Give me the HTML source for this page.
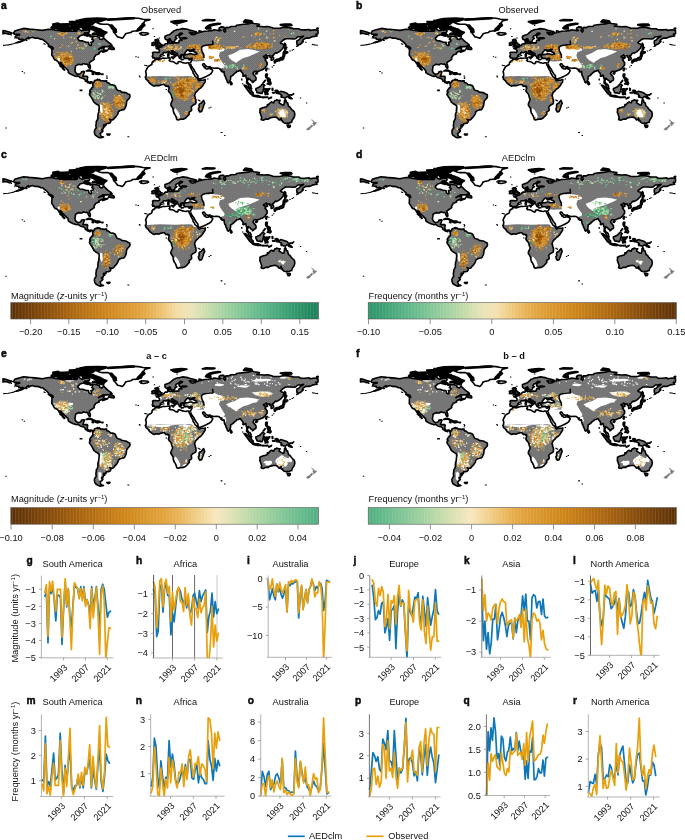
<!DOCTYPE html>
<html lang="en"><head><meta charset="utf-8"><title>Figure</title>
<style>html,body{margin:0;padding:0;background:#fff}body{width:685px;height:840px;overflow:hidden}svg{display:block}text{font-family:"Liberation Sans",Arial,Helvetica,sans-serif;fill:#111}</style></head><body>
<svg width="685" height="840" viewBox="0 0 685 840">
<defs>
<path id="lg" d="M10.5 -56.6L11.8 -58.9L14.9 -60.0L20.6 -61.5L26.2 -60.8L34.1 -60.1L39.4 -59.5L45.5 -60.7L49.0 -60.4L52.5 -59.8L56.9 -59.3L61.2 -58.5L63.0 -58.8L70.0 -58.7L73.5 -58.8L74.8 -62.0L77.0 -60.0L78.8 -59.1L83.1 -60.2L86.2 -60.0L86.6 -58.7L85.8 -57.4L82.2 -57.2L81.4 -56.1L80.5 -55.2L77.0 -54.2L76.1 -53.0L74.8 -51.8L75.1 -50.7L76.6 -49.2L79.6 -49.0L83.1 -47.7L85.5 -47.6L85.8 -45.7L87.1 -44.4L88.4 -44.4L88.4 -46.6L87.9 -47.4L90.1 -48.3L90.6 -49.6L88.8 -50.6L89.7 -51.8L89.2 -53.8L92.8 -53.7L96.2 -52.6L96.7 -50.9L98.9 -50.3L100.6 -52.0L103.2 -49.6L105.0 -47.9L107.6 -46.1L108.8 -44.9L107.6 -44.3L105.0 -43.3L99.8 -43.3L97.1 -41.8L95.4 -40.5L98.0 -41.8L101.2 -42.1L100.6 -41.0L101.1 -39.9L104.1 -39.5L105.0 -40.1L104.1 -39.1L101.5 -38.2L99.8 -37.6L99.8 -38.4L101.1 -39.2L98.9 -38.8L97.1 -38.0L95.8 -37.1L96.2 -36.2L94.9 -35.6L92.8 -35.0L92.3 -33.9L91.4 -32.8L91.0 -31.9L91.3 -30.6L89.7 -29.5L88.4 -28.7L86.6 -27.4L86.3 -26.3L87.1 -24.6L87.4 -22.9L87.1 -21.7L86.2 -22.0L85.1 -23.9L85.0 -25.0L84.0 -25.9L82.7 -25.6L80.9 -26.1L79.6 -26.1L79.2 -25.2L77.9 -25.3L75.4 -25.6L74.4 -25.0L72.6 -24.0L72.4 -22.4L71.9 -19.4L72.5 -17.7L73.5 -16.4L74.8 -15.7L77.0 -16.0L78.1 -16.8L78.5 -18.1L80.9 -18.5L81.5 -18.1L80.9 -16.4L80.5 -15.5L79.8 -13.8L80.3 -13.5L82.2 -13.7L84.0 -13.6L84.7 -12.9L84.4 -11.2L84.3 -9.5L84.9 -8.6L85.8 -7.8L86.6 -7.6L87.7 -8.1L88.8 -8.1L89.8 -7.3L90.3 -6.9L91.3 -8.1L91.4 -9.1L92.0 -9.5L93.6 -9.9L94.8 -10.7L95.1 -9.9L96.2 -9.9L96.4 -10.4L97.7 -9.3L99.8 -9.1L101.1 -8.8L103.2 -9.2L103.4 -8.5L104.3 -7.3L105.9 -6.9L107.5 -5.2L109.4 -5.1L111.6 -4.5L112.4 -3.6L113.3 -1.6L113.8 -0.4L114.6 0.3L115.5 0.6L117.2 1.0L118.7 2.2L121.2 2.5L123.4 3.0L125.0 4.1L126.7 4.7L127.0 6.5L126.6 8.0L125.1 9.5L123.8 11.2L123.4 13.4L123.2 15.4L122.5 17.3L121.6 19.0L120.8 19.8L118.6 20.0L116.8 20.7L115.1 22.3L115.0 23.7L114.2 25.0L113.0 26.7L111.7 27.9L110.7 29.3L109.5 30.1L108.1 30.0L106.5 29.3L107.5 30.6L107.9 31.5L107.0 33.0L105.0 33.6L103.1 33.6L103.0 35.2L100.6 35.2L100.6 36.5L101.9 36.7L100.5 37.5L100.2 38.8L98.4 39.7L99.8 40.7L99.9 41.2L98.4 42.7L97.1 43.6L97.6 45.1L97.6 45.7L98.4 46.6L100.5 47.2L99.3 47.6L97.6 47.9L96.2 47.7L94.5 46.8L92.3 45.3L91.6 43.6L91.4 41.8L91.6 40.4L93.2 38.0L92.9 36.2L93.0 34.5L93.4 32.8L93.1 32.1L94.0 30.6L94.9 28.5L94.9 25.9L95.1 24.2L95.8 22.0L95.9 20.3L96.2 17.7L96.0 15.9L94.9 14.9L92.8 13.8L90.8 12.1L90.0 10.4L89.1 8.6L87.9 6.9L86.7 5.2L86.4 4.1L87.2 2.9L87.6 2.0L86.7 1.9L86.8 0.9L87.5 -0.4L88.5 -1.3L88.8 -2.2L89.7 -2.3L90.0 -3.5L89.7 -4.8L89.8 -6.0L89.3 -6.3L89.1 -7.2L87.9 -7.7L87.2 -7.1L87.2 -6.4L86.6 -6.6L85.8 -7.1L84.9 -7.2L84.4 -7.4L84.3 -8.0L83.3 -8.5L82.4 -8.8L82.5 -9.5L81.7 -10.4L80.9 -11.2L80.2 -11.4L78.8 -11.8L76.8 -12.5L75.2 -13.9L73.5 -13.5L71.3 -14.1L69.6 -14.8L68.2 -15.5L66.5 -16.4L65.2 -17.6L65.4 -18.5L64.8 -19.8L63.0 -21.6L61.7 -22.9L60.4 -24.2L59.1 -25.4L58.4 -26.9L57.1 -27.3L57.2 -25.9L58.6 -24.2L59.9 -22.4L60.8 -21.1L61.7 -20.0L61.2 -19.8L60.8 -20.3L59.5 -21.3L59.3 -22.4L57.8 -23.3L56.9 -24.0L57.6 -24.6L56.2 -26.1L55.1 -28.0L53.8 -29.3L52.1 -29.8L50.8 -31.5L50.3 -32.6L49.2 -34.1L48.7 -34.8L48.8 -36.2L48.9 -38.0L49.0 -39.9L48.4 -41.7L49.9 -41.7L50.3 -41.0L49.9 -42.3L48.1 -43.4L45.9 -44.0L45.5 -45.3L43.8 -47.0L42.9 -47.9L41.1 -49.2L39.4 -50.5L37.6 -50.6L35.4 -51.6L33.2 -51.8L31.5 -51.8L29.8 -52.6L27.6 -52.2L26.2 -51.3L24.9 -51.2L25.4 -52.6L23.6 -51.3L22.8 -50.5L21.0 -49.6L19.2 -48.7L17.1 -47.9L14.9 -47.3L13.3 -47.1L15.8 -48.1L17.5 -48.7L19.2 -49.6L20.1 -50.6L18.4 -50.7L15.8 -50.6L15.8 -51.8L13.1 -52.2L12.2 -53.2L13.1 -54.2L13.6 -54.5L16.6 -54.9L16.6 -55.6L14.9 -55.7L11.8 -55.6ZM180.0 -61.3L184.6 -60.6L186.4 -59.9L193.4 -58.2L193.4 -57.2L190.8 -56.9L186.4 -57.5L187.7 -56.1L188.1 -55.5L190.3 -55.1L192.5 -55.7L192.9 -56.6L196.0 -57.2L196.0 -59.1L198.2 -58.7L197.8 -57.7L201.2 -58.7L204.8 -58.9L208.2 -59.3L210.0 -59.5L210.9 -60.2L214.4 -59.7L216.1 -59.2L217.9 -59.4L216.1 -60.4L216.1 -61.7L217.9 -63.0L220.9 -62.8L221.4 -61.2L220.5 -59.5L221.8 -57.8L222.7 -59.1L222.2 -61.2L223.1 -62.5L225.8 -62.3L227.9 -63.4L232.8 -63.7L233.6 -64.7L240.6 -65.6L245.0 -66.0L248.5 -67.0L251.1 -66.4L256.4 -65.6L255.5 -63.8L253.8 -63.8L256.4 -63.6L260.8 -63.2L265.1 -63.4L268.6 -62.5L270.4 -61.7L273.9 -61.7L277.4 -61.7L280.0 -62.7L285.2 -62.4L288.8 -61.8L290.5 -61.2L295.8 -61.2L297.5 -60.1L301.9 -60.0L306.2 -60.4L307.1 -59.5L311.5 -60.2L315.0 -59.4L315.0 -56.1L313.7 -55.6L312.8 -55.8L314.1 -53.9L309.8 -53.3L306.2 -51.8L302.8 -51.8L300.1 -50.0L299.2 -48.3L300.4 -48.5L299.2 -47.3L297.5 -45.7L296.2 -45.5L294.6 -44.0L294.0 -45.7L293.7 -47.4L294.0 -49.2L295.8 -50.0L297.5 -51.8L299.2 -52.6L300.6 -53.9L297.5 -53.2L294.9 -53.2L292.7 -51.3L290.5 -50.9L287.0 -51.2L282.6 -51.2L280.0 -49.6L277.4 -47.3L278.2 -46.4L280.0 -45.9L281.1 -45.0L280.4 -43.1L280.0 -41.7L278.2 -39.9L276.5 -38.3L273.9 -36.8L272.6 -37.1L271.9 -36.5L271.0 -35.6L270.4 -34.7L269.1 -34.1L269.8 -33.3L270.7 -31.9L270.6 -30.6L269.9 -30.2L268.2 -29.7L268.1 -31.1L268.4 -32.3L266.9 -32.8L267.1 -34.1L266.3 -34.5L263.8 -33.6L263.4 -35.2L261.6 -33.8L260.5 -33.6L260.8 -32.8L261.6 -32.2L263.4 -32.5L264.7 -32.1L262.9 -31.2L261.9 -30.2L262.7 -29.6L263.2 -28.3L264.1 -27.4L264.2 -26.6L263.8 -25.9L264.2 -25.4L263.8 -24.4L262.5 -22.9L262.1 -22.0L260.8 -21.0L259.9 -20.3L258.1 -19.6L256.8 -19.1L255.1 -18.5L254.0 -18.4L253.8 -17.5L253.5 -18.5L252.2 -18.6L250.9 -17.9L250.0 -16.4L250.7 -15.1L252.0 -13.8L252.9 -12.5L253.1 -10.8L252.7 -9.7L251.1 -9.0L250.7 -8.2L249.4 -7.4L249.3 -8.6L248.5 -9.0L247.6 -9.5L247.2 -10.5L245.9 -11.0L245.4 -11.6L245.0 -11.5L245.0 -10.4L244.4 -9.1L244.3 -8.0L245.0 -7.3L245.4 -6.2L246.3 -5.9L247.2 -5.2L248.0 -3.9L248.0 -2.2L248.7 -1.2L248.1 -1.1L246.1 -2.4L245.3 -4.7L245.1 -5.6L243.5 -6.9L243.7 -8.6L243.9 -10.4L243.2 -12.1L242.9 -14.2L242.2 -14.7L240.9 -13.6L239.9 -13.8L240.1 -15.5L239.3 -17.1L238.0 -18.5L237.6 -19.6L236.7 -19.4L235.4 -18.7L233.6 -18.5L233.5 -17.7L232.3 -17.1L231.0 -15.8L229.5 -14.3L227.7 -13.4L227.6 -11.6L227.3 -9.9L226.8 -8.9L226.6 -7.9L225.9 -7.7L225.3 -7.0L224.4 -7.8L223.8 -9.9L223.0 -11.2L222.6 -12.9L221.7 -14.2L221.2 -16.4L221.1 -18.1L220.9 -18.4L219.6 -17.9L218.8 -18.4L217.9 -19.2L218.8 -19.8L217.4 -20.3L216.5 -21.1L215.9 -21.7L213.5 -21.8L211.3 -21.7L208.7 -22.1L207.5 -22.7L206.9 -23.3L205.4 -22.9L204.3 -23.1L202.6 -24.1L202.0 -25.0L201.2 -26.1L200.2 -26.1L199.5 -25.4L199.9 -24.4L201.2 -23.0L201.4 -22.2L202.4 -22.4L202.6 -21.3L203.4 -20.9L204.8 -20.9L206.2 -22.0L206.8 -22.7L207.0 -21.1L208.9 -20.4L209.8 -19.4L208.9 -17.7L208.1 -16.4L206.9 -15.5L205.6 -14.7L203.2 -13.5L200.4 -12.2L197.0 -11.0L195.6 -11.0L195.1 -12.5L194.9 -14.1L193.4 -16.0L191.8 -18.4L191.0 -20.3L190.0 -21.6L188.6 -23.7L188.1 -24.2L188.0 -25.4L187.5 -24.2L187.4 -24.0L186.6 -24.6L186.0 -25.9L185.8 -26.9L187.5 -27.0L188.1 -28.3L188.8 -29.8L188.9 -31.1L189.2 -31.7L187.7 -31.7L186.4 -31.1L184.2 -31.5L182.9 -31.5L181.4 -31.9L180.5 -33.0L181.0 -34.1L180.4 -34.8L181.6 -34.9L182.9 -35.4L184.6 -35.5L186.8 -36.2L188.3 -36.2L189.9 -35.5L192.1 -35.4L193.8 -35.8L193.8 -36.8L192.1 -37.7L190.3 -38.6L190.1 -39.1L190.9 -39.9L191.8 -40.6L190.3 -40.5L188.3 -39.9L188.1 -39.2L189.4 -39.0L188.4 -38.7L187.0 -38.3L186.0 -39.2L186.6 -39.8L185.3 -40.1L184.5 -40.0L183.5 -39.1L182.6 -38.0L182.0 -37.1L181.7 -36.7L182.1 -35.8L182.9 -35.5L181.6 -35.3L180.2 -35.3L178.9 -35.3L178.3 -34.5L177.5 -34.9L177.4 -34.1L177.9 -33.6L178.5 -33.0L178.5 -32.5L177.6 -32.7L177.8 -32.2L177.5 -31.6L177.1 -31.5L176.5 -31.7L176.1 -32.5L176.0 -33.0L175.6 -33.6L175.0 -34.2L174.5 -34.9L174.6 -36.0L173.7 -36.7L172.4 -37.3L170.9 -38.2L170.2 -39.0L169.4 -38.8L169.5 -39.4L168.3 -39.1L168.3 -38.1L169.4 -37.5L169.9 -36.7L171.1 -36.1L171.7 -36.1L171.5 -35.7L172.8 -35.2L173.7 -34.6L173.5 -34.3L172.4 -34.9L172.0 -34.2L172.5 -33.6L171.9 -33.1L171.2 -32.7L171.5 -33.4L171.7 -34.1L171.2 -34.5L170.5 -35.0L169.8 -35.4L168.9 -35.6L168.2 -36.1L167.1 -36.7L166.7 -37.1L166.4 -37.9L165.2 -38.3L164.1 -37.8L162.9 -37.2L161.9 -37.4L161.0 -37.5L160.2 -37.1L160.3 -36.1L159.4 -35.6L158.2 -35.2L157.2 -34.1L157.7 -33.5L157.0 -32.8L155.8 -31.7L155.6 -31.7L153.7 -31.7L152.8 -31.1L152.0 -31.6L151.4 -32.1L149.7 -31.9L149.8 -33.2L149.2 -33.5L149.8 -34.7L149.9 -35.8L149.5 -37.1L150.5 -37.7L152.7 -37.6L154.4 -37.5L155.9 -37.4L156.5 -38.4L156.5 -39.4L155.6 -40.5L155.0 -41.0L153.7 -41.2L153.3 -41.7L154.4 -42.1L155.8 -41.9L156.2 -42.0L155.9 -42.9L156.5 -42.6L157.6 -42.7L158.8 -43.2L158.9 -43.9L160.3 -44.3L161.2 -44.9L161.6 -45.7L162.8 -46.1L163.6 -46.1L164.7 -46.3L165.0 -46.8L164.8 -47.4L164.6 -48.3L164.7 -49.2L165.8 -49.3L166.8 -49.8L166.5 -48.9L167.0 -48.6L166.2 -47.9L166.1 -47.3L167.0 -46.6L168.0 -46.8L169.3 -46.9L170.0 -46.5L171.9 -47.0L173.7 -47.2L174.7 -46.9L175.9 -47.4L175.9 -48.7L176.3 -49.6L177.3 -49.8L178.8 -49.3L178.8 -50.3L178.1 -50.6L178.1 -51.1L179.8 -51.3L182.0 -51.3L183.9 -51.7L182.4 -52.2L180.2 -52.1L177.6 -51.7L176.3 -52.2L176.1 -53.0L176.1 -54.2L177.2 -54.9L178.9 -55.9L179.6 -56.5L178.5 -56.8L176.8 -56.6L176.1 -55.6L175.0 -54.8L173.2 -53.9L172.6 -53.0L172.5 -52.3L173.9 -51.6L173.2 -50.9L172.1 -50.5L171.9 -49.4L171.5 -48.5L170.2 -48.3L169.9 -47.8L168.9 -47.8L168.6 -48.5L167.8 -49.6L167.3 -50.9L166.7 -51.3L165.8 -50.7L164.5 -50.1L163.6 -50.0L162.4 -50.6L161.9 -51.9L161.9 -53.0L162.0 -53.7L163.6 -54.3L164.9 -54.8L166.2 -55.2L167.6 -56.1L168.4 -56.9L169.8 -58.0L170.6 -58.9L171.9 -59.3L173.2 -60.0L175.0 -60.4L176.8 -60.6L178.1 -61.0ZM0.0 -59.4L2.6 -58.9L6.1 -57.8L9.0 -56.9L7.0 -55.6L5.7 -55.6L3.9 -56.4L1.3 -56.8L0.0 -56.1ZM186.0 -25.9L187.1 -23.7L188.1 -21.6L188.7 -20.3L189.9 -18.5L190.1 -16.8L191.2 -15.5L192.1 -13.4L193.4 -12.5L194.7 -11.2L195.4 -10.6L195.3 -9.9L196.4 -9.1L198.6 -9.7L200.4 -9.8L202.3 -10.3L202.2 -9.1L202.0 -7.8L200.8 -6.0L199.5 -3.9L197.8 -2.0L196.0 -0.9L194.7 0.7L193.6 1.7L192.7 2.6L192.1 4.1L191.5 5.6L192.1 6.9L192.2 8.6L192.9 9.5L193.0 12.5L192.5 14.0L190.8 14.9L189.7 15.5L188.1 17.3L188.6 19.0L188.5 20.7L186.8 21.8L186.1 22.4L186.3 24.2L185.3 25.3L184.2 26.6L182.4 28.3L180.7 29.2L178.5 29.4L176.8 29.5L175.0 30.0L173.7 29.5L173.4 28.0L172.8 26.3L171.9 24.7L170.9 23.3L170.2 20.7L170.1 19.0L168.9 16.8L167.8 15.1L168.0 13.4L169.3 10.8L169.6 9.3L168.9 7.8L168.3 5.3L167.8 4.1L166.2 2.4L165.4 0.9L165.8 -0.4L166.1 -2.0L166.0 -3.2L164.9 -3.9L163.6 -3.8L162.8 -3.7L161.4 -5.4L159.7 -5.4L158.4 -5.1L156.6 -4.5L155.8 -4.1L154.0 -4.5L152.2 -4.1L150.8 -3.8L149.5 -4.5L147.4 -6.0L146.0 -7.4L145.5 -8.5L144.4 -9.5L142.9 -10.7L142.8 -12.1L142.2 -12.7L143.1 -13.8L143.2 -15.5L143.1 -16.8L142.6 -18.1L143.5 -20.4L144.8 -22.7L146.1 -24.0L147.9 -24.8L148.9 -25.5L149.0 -27.2L150.1 -28.7L151.5 -29.3L152.3 -30.9L152.9 -31.0L154.9 -30.4L155.8 -30.3L157.5 -30.9L160.1 -31.8L161.9 -31.7L164.1 -31.9L166.1 -32.2L167.1 -31.9L166.7 -31.1L167.1 -30.2L166.2 -29.5L167.1 -28.6L168.9 -28.4L170.9 -27.9L172.4 -26.7L174.1 -26.1L175.0 -26.7L175.0 -28.0L176.3 -28.4L177.6 -28.1L179.4 -27.3L181.6 -26.9L182.9 -26.7L184.2 -27.2L185.1 -27.2L185.8 -26.9ZM200.6 10.4L201.7 13.4L200.8 15.1L200.2 17.3L199.3 19.8L198.6 21.6L196.9 22.1L195.7 20.3L195.4 18.5L196.3 17.3L196.0 15.5L196.4 14.0L198.2 13.4L199.5 11.6ZM252.9 -1.3L253.8 -1.5L254.9 -2.2L256.4 -2.8L258.1 -4.3L259.6 -6.0L260.6 -5.4L261.8 -4.5L260.8 -3.7L260.6 -2.2L261.6 -0.9L260.3 -0.4L260.3 0.9L259.4 2.2L259.0 3.5L257.8 3.5L256.4 2.8L255.3 3.0L253.9 2.6L253.8 1.3L252.9 0.4ZM272.1 0.7L273.4 0.3L274.8 0.7L275.6 2.8L277.8 1.4L280.9 2.2L283.9 3.3L285.2 4.7L286.8 5.3L286.1 5.9L287.0 6.9L289.2 8.9L287.9 8.9L286.1 8.2L285.2 7.1L283.9 6.6L282.6 7.8L280.9 7.8L279.1 7.1L278.2 7.2L278.0 6.0L278.9 5.9L278.2 4.7L276.1 3.9L274.3 3.3L273.7 3.5L273.0 2.4L274.3 2.2L273.3 1.9ZM257.0 19.0L257.4 18.8L259.7 17.8L261.6 17.3L263.6 16.8L264.5 15.5L264.4 14.7L265.7 14.9L266.0 14.1L267.3 12.8L268.6 12.0L269.7 12.8L270.8 12.9L271.2 11.5L271.9 10.7L273.5 10.4L273.5 9.8L275.6 10.5L277.2 10.5L276.5 11.6L276.1 12.9L277.8 14.0L279.3 15.0L280.7 15.1L281.4 12.9L281.4 11.0L282.2 9.3L283.1 10.8L283.3 12.4L284.6 12.9L285.2 15.1L285.5 16.3L287.0 17.3L288.3 19.1L289.4 20.3L291.2 21.8L291.7 23.7L291.8 25.0L291.4 26.7L290.7 28.2L289.8 29.3L288.9 31.1L288.7 32.3L287.0 32.7L285.6 33.6L284.4 33.1L283.1 33.5L281.3 33.1L279.8 31.9L279.6 30.9L278.2 30.7L278.7 30.0L278.3 29.5L278.1 28.2L277.4 29.3L276.5 30.1L275.8 29.8L274.8 28.3L272.6 27.2L270.4 27.3L267.8 27.9L266.0 28.5L265.6 29.2L262.5 29.2L260.8 30.2L259.0 30.1L258.1 29.6L258.7 27.6L258.1 25.9L257.4 23.7L256.8 22.4L257.0 20.7ZM284.1 35.1L285.7 35.5L287.2 35.3L287.3 36.4L286.6 37.4L285.2 37.6L284.6 36.5Z"/>
<path id="lw" d="M93.6 -67.5L98.0 -68.6L103.2 -70.3L113.8 -71.2L126.9 -72.1L135.6 -71.6L140.0 -70.7L147.0 -70.3L141.8 -69.0L140.9 -67.3L139.1 -66.0L140.9 -64.7L138.2 -63.0L138.2 -60.8L136.5 -60.4L134.8 -59.1L129.5 -58.7L127.8 -57.4L124.2 -56.7L122.5 -56.1L121.6 -54.3L119.9 -52.2L119.0 -51.7L117.2 -52.4L114.6 -53.0L112.9 -55.2L110.7 -57.8L111.1 -59.5L112.9 -60.4L109.8 -61.0L109.4 -62.5L107.2 -64.3L105.0 -65.6L99.8 -65.6L97.1 -66.0L95.4 -66.7ZM136.5 -56.5L138.2 -57.3L141.8 -57.2L144.8 -56.9L145.6 -56.1L144.4 -55.5L140.9 -54.7L137.8 -55.1L138.2 -55.9Z"/>
<path id="lb" d="M113.3 -57.8L110.7 -57.8L110.2 -60.0L108.5 -62.1L106.8 -64.7L108.9 -64.7L111.1 -62.1L112.9 -60.4ZM138.2 -60.4L133.9 -59.1L134.8 -60.8L136.5 -62.5L138.2 -64.3L140.9 -66.0L141.8 -64.7L139.1 -62.5ZM105.0 -70.6L118.1 -71.3L131.2 -71.9L131.2 -71.3L118.1 -70.6L105.0 -69.9ZM168.0 -68.3L171.5 -66.4L174.1 -66.2L178.5 -67.5L183.8 -69.0L178.5 -69.4L172.4 -69.0ZM104.1 44.4L106.8 44.3L106.3 45.0L104.6 45.0ZM87.5 -63.6L91.0 -62.8L95.4 -61.2L98.0 -60.4L98.9 -59.5L101.5 -58.2L103.7 -57.5L101.9 -56.1L100.2 -54.3L100.6 -53.4L98.0 -53.9L94.9 -54.8L92.8 -55.6L89.2 -55.6L90.1 -56.5L92.8 -56.9L94.1 -58.2L91.9 -59.1L89.2 -60.4L88.4 -60.8L83.1 -60.4L79.6 -61.2L78.8 -63.0L82.2 -63.7ZM55.1 -63.0L65.6 -63.0L69.1 -61.7L68.2 -60.0L63.0 -59.3L58.6 -59.2L55.1 -60.2L54.2 -61.5ZM48.1 -62.1L49.9 -64.1L55.1 -63.8L56.0 -63.0L51.6 -61.5ZM81.4 -56.5L84.0 -56.8L87.1 -54.9L84.9 -53.9L81.4 -54.8ZM49.9 -65.7L55.1 -66.7L56.4 -65.8L51.6 -65.3ZM66.5 -66.1L71.8 -66.1L72.2 -64.7L67.4 -64.9ZM70.4 -60.0L73.5 -60.2L73.9 -59.3L71.3 -59.2ZM86.6 -63.5L90.6 -63.5L90.1 -62.7L87.1 -62.7ZM87.1 -53.8L88.2 -53.7L87.9 -53.1L87.1 -53.3ZM66.5 -68.1L71.8 -68.3L73.5 -67.3L68.2 -67.0ZM78.8 -66.0L89.2 -65.8L91.9 -67.7L98.0 -69.4L103.2 -71.2L94.5 -71.6L83.1 -71.2L77.0 -70.0L80.5 -68.1ZM73.5 -66.0L87.5 -65.2L87.5 -64.3L77.0 -64.3L73.5 -65.1ZM55.1 -65.6L65.6 -66.0L65.6 -64.5L58.6 -64.3L55.1 -65.0ZM68.2 -63.7L72.6 -63.7L73.1 -61.9L70.0 -61.9L68.2 -62.8ZM73.5 -63.8L78.8 -63.8L77.0 -62.5L73.9 -62.1ZM73.5 -69.4L80.5 -69.3L81.4 -67.5L76.1 -67.3L73.5 -68.6ZM202.6 -61.7L203.9 -61.1L207.8 -61.0L207.4 -62.5L206.1 -63.2L208.2 -64.3L211.8 -65.1L217.4 -66.2L215.2 -66.4L210.0 -65.8L206.1 -64.7L203.9 -63.4ZM199.5 -69.3L210.0 -69.3L211.8 -69.9L203.0 -70.3ZM240.6 -68.1L245.0 -67.3L249.4 -67.7L248.5 -69.0L242.4 -69.9ZM277.4 -65.1L281.8 -63.7L288.8 -64.5L287.9 -65.6L281.8 -65.6ZM313.7 -61.2L315.0 -61.7L315.0 -61.1Z"/>
<path id="ld" d="M152.5 -43.1L154.4 -43.4L156.6 -43.7L158.7 -44.2L158.4 -44.4L159.0 -45.5L157.8 -45.7L157.3 -46.6L156.2 -47.4L155.8 -48.3L154.9 -48.3L155.8 -49.6L154.0 -49.8L154.9 -50.5L153.1 -50.5L152.2 -49.6L152.7 -48.3L153.3 -47.4L154.9 -47.4L154.4 -46.8L154.9 -46.1L153.6 -46.0L153.8 -45.3L153.0 -44.7L154.9 -44.3L153.8 -44.1ZM148.8 -44.7L150.5 -44.5L152.0 -45.0L152.2 -46.1L152.6 -47.1L151.8 -47.6L150.3 -47.6L148.8 -46.8L149.2 -45.9ZM240.9 -4.8L242.8 -4.5L245.3 -2.2L248.1 0.0L248.9 1.7L250.2 2.6L250.1 5.0L248.9 5.0L247.0 3.5L245.4 1.3L244.1 -0.4L242.8 -2.2ZM249.5 5.9L250.2 5.1L252.4 5.6L254.6 5.5L256.2 6.0L257.7 6.7L257.5 7.4L254.6 7.2L252.0 6.7L250.6 6.4ZM262.3 -0.7L263.2 -1.1L265.1 -0.9L266.9 -1.4L266.4 -0.3L263.8 -0.4L262.7 0.8L263.8 0.9L265.4 0.8L264.7 1.6L263.8 1.7L264.5 2.8L265.1 3.9L264.7 4.7L263.8 4.1L263.4 2.6L262.8 2.6L262.8 4.8L262.1 4.7L262.1 3.0L261.4 2.4L261.9 0.9ZM262.9 -16.0L264.4 -16.0L264.2 -14.2L263.8 -12.9L264.7 -12.1L266.0 -11.6L266.0 -11.0L264.7 -11.6L263.4 -11.8L262.8 -12.8L262.5 -14.0ZM264.2 -6.0L265.6 -7.3L267.3 -8.5L268.2 -6.5L267.3 -5.2L266.0 -5.6ZM264.2 -10.2L265.3 -9.9L265.4 -8.2L264.7 -8.5ZM266.3 -10.8L267.3 -10.6L267.1 -8.9L266.4 -9.1ZM260.1 -7.2L262.1 -9.7L262.2 -9.1L260.6 -7.2ZM281.3 -35.6L281.8 -34.1L280.9 -32.8L280.7 -31.1L280.0 -30.4L278.9 -29.9L277.4 -29.8L276.3 -28.9L275.6 -29.8L273.9 -29.6L272.1 -29.3L272.1 -29.8L273.4 -30.6L275.6 -30.8L277.1 -31.7L277.6 -32.3L278.7 -32.2L279.6 -33.2L280.0 -34.5L280.3 -35.4ZM271.2 -28.9L272.7 -29.1L272.8 -28.0L272.1 -27.0L271.5 -26.9L271.2 -28.0ZM273.4 -29.3L275.2 -29.5L275.0 -28.9L273.9 -28.5ZM280.0 -35.8L280.3 -37.4L281.5 -39.2L282.6 -38.2L284.6 -38.2L284.8 -37.4L282.9 -36.2L281.3 -36.7ZM281.8 -46.8L282.8 -45.3L282.8 -43.1L283.9 -42.3L282.4 -41.0L283.1 -40.3L281.8 -39.7L281.8 -41.4L281.9 -43.1L281.5 -44.9ZM263.4 -21.7L264.2 -21.6L263.4 -19.0L262.6 -19.8ZM252.6 -16.6L253.8 -17.3L254.6 -17.0L253.8 -15.8L252.6 -16.0ZM265.6 8.9L266.9 7.9L268.6 7.2L268.2 7.9L266.4 8.8ZM258.6 7.2L259.9 7.1L261.6 7.2L261.6 7.6L259.4 7.8ZM262.3 7.2L264.9 7.1L264.9 7.6L262.5 7.7ZM269.1 -1.7L269.9 -1.3L269.8 0.4L269.2 0.3ZM269.5 2.6L271.7 2.6L271.9 3.1L269.7 3.0ZM287.3 4.8L289.2 4.7L290.7 3.6L290.1 4.5L288.8 5.3ZM83.1 -18.8L85.3 -19.9L87.5 -19.8L90.1 -18.5L92.6 -17.4L89.5 -17.1L88.8 -18.5L86.2 -19.1L84.0 -18.8ZM92.4 -15.9L93.6 -17.2L96.2 -17.1L97.6 -16.0L95.8 -15.7L94.8 -15.3ZM89.0 -15.9L90.7 -15.7L90.1 -15.4ZM98.7 -16.0L100.1 -15.9L99.8 -15.4L98.7 -15.5ZM168.4 -32.8L171.2 -33.0L170.7 -31.7L168.4 -32.4ZM164.7 -35.4L166.0 -35.4L165.9 -33.8L164.8 -33.6ZM165.0 -36.7L165.8 -37.1L165.7 -35.8L165.1 -36.0ZM185.8 -30.2L187.7 -30.7L186.8 -29.9ZM178.1 -30.6L180.5 -30.4L178.5 -30.2ZM227.5 -8.5L228.6 -7.3L229.2 -6.0L228.1 -5.1L227.3 -6.0ZM45.2 -43.8L48.1 -43.1L49.4 -41.8L47.7 -42.1ZM105.6 -41.1L108.9 -40.4L111.1 -40.3L111.4 -41.1L110.7 -42.4L108.9 -43.1L108.9 -44.5L107.4 -43.7L105.9 -41.8Z"/>
<path id="sp" d="M76.6 -0.3h2.8v1.6h-2.8zM104.3 44.0h2.6v1.4h-2.6zM20.7 -17.4h1.4v1h-1.4zM18.7 -18.9h1.4v1h-1.4zM77.3 0.0h1.4v1h-1.4zM134.5 -33.1h1.4v1h-1.4zM132.3 -33.7h1.4v1h-1.4zM142.4 -24.9h1.4v1h-1.4zM143.2 -24.7h1.4v1h-1.4zM141.2 -25.2h1.4v1h-1.4zM135.8 -14.3h1.4v1h-1.4zM136.2 -13.4h1.4v1h-1.4zM207.1 16.9h1.4v1h-1.4zM205.4 17.7h1.4v1h-1.4zM217.6 42.0h1.4v1h-1.4zM218.1 42.2h1.4v1h-1.4zM124.4 46.3h1.4v1h-1.4zM124.9 46.4h1.4v1h-1.4zM302.9 12.7h1.4v1h-1.4zM296.8 7.7h1.4v1h-1.4zM103.0 -14.3h1.4v1h-1.4zM103.4 -13.2h1.4v1h-1.4zM103.2 -11.9h1.4v1h-1.4zM103.0 -9.6h1.4v1h-1.4zM265.1 -21.5h1.4v1h-1.4zM268.6 -23.4h1.4v1h-1.4zM270.1 -24.9h1.4v1h-1.4zM162.6 -0.8h1.4v1h-1.4zM164.4 -3.5h1.4v1h-1.4zM194.7 9.6h1.4v1h-1.4zM195.6 10.0h1.4v1h-1.4zM196.3 10.5h1.4v1h-1.4zM238.0 -11.3h1.4v1h-1.4zM238.1 -10.4h1.4v1h-1.4zM238.9 -6.7h1.4v1h-1.4zM302.1 -48.1h1.4v1h-1.4zM289.8 -41.0h1.4v1h-1.4zM288.5 -40.2h1.4v1h-1.4zM286.3 -39.3h1.4v1h-1.4zM292.9 -43.9h1.4v1h-1.4zM23.1 -50.1h1.4v1h-1.4zM22.5 -49.9h1.4v1h-1.4zM40.4 -46.6h1.4v1h-1.4zM41.3 -46.2h1.4v1h-1.4zM7.6 -55.3h1.4v1h-1.4zM11.1 -52.4h1.4v1h-1.4zM173.4 -64.8h1.4v1h-1.4zM149.4 -61.7h1.4v1h-1.4zM150.7 -54.0h1.4v1h-1.4zM155.7 -52.5h1.4v1h-1.4zM154.2 -51.4h1.4v1h-1.4zM151.1 -50.5h1.4v1h-1.4zM159.4 -34.7h1.4v1h-1.4zM158.0 -34.1h1.4v1h-1.4zM160.3 -35.0h1.4v1h-1.4zM169.4 -31.5h1.4v1h-1.4zM178.9 -35.0h1.4v1h-1.4zM179.6 -34.2h1.4v1h-1.4zM180.4 -33.1h1.4v1h-1.4zM180.6 -31.6h1.4v1h-1.4zM181.3 -31.7h1.4v1h-1.4zM201.0 -23.0h1.4v1h-1.4zM204.1 -11.3h1.4v1h-1.4zM221.1 45.2h1.4v1h-1.4zM2.3 37.5h1.4v1h-1.4z"/>
<path id="nz" d="M308.6 29.7L310.0 30.6L311.1 31.7L312.4 32.7L313.7 32.5L313.1 33.8L312.4 34.2L311.8 35.4L310.8 35.9L310.4 35.3L310.6 34.5L309.6 33.9L310.4 32.8L310.1 31.6L308.9 30.4ZM308.6 34.9L309.9 35.8L308.9 37.1L307.4 38.2L306.8 39.6L305.4 40.2L304.1 39.9L303.2 39.5L304.7 38.1L306.7 37.1L307.6 36.1Z"/>
<path id="al" d="M13.3 -47.1L10.5 -46.1L7.9 -45.5L5.2 -45.0L2.2 -44.7L0.0 -44.5M315.0 -44.6L312.4 -44.9L308.9 -45.5"/>
<path id="cs" d="M198.4 -42.3L200.0 -43.9L203.0 -44.5L205.0 -43.4L205.5 -39.9L204.5 -36.9L205.3 -33.9L204.8 -31.6L202.0 -31.3L201.0 -31.9L200.8 -35.3L199.0 -38.9Z"/><path id="cl" d="M201.0 -31.9L200.8 -35.3L199.0 -38.9L198.4 -42.3L200.0 -43.9L203.0 -44.7L207.0 -45.1L210.0 -45.3L209.6 -49.4"/>
<clipPath id="lc"><use href="#lg"/></clipPath>
<pattern id="pt" width="2" height="2" patternUnits="userSpaceOnUse"><rect width="2" height="2" fill="#707070"/><rect width="1" height="1" fill="#7f7f7f"/><rect x="1" y="1" width="1" height="1" fill="#787878"/></pattern>
<filter id="b1" x="-20%" y="-20%" width="140%" height="140%"><feGaussianBlur stdDeviation="0.7"/></filter>
<filter id="b2" x="-20%" y="-20%" width="140%" height="140%"><feGaussianBlur stdDeviation="0.4"/></filter>
<g id="ovab"><path fill="#fff" d="M140.0 -23.9L145.0 -24.9L149.0 -26.4L154.0 -29.9L157.0 -31.4L157.0 -33.9L162.0 -33.4L167.0 -32.4L185.0 -29.6L188.0 -28.9L193.0 -28.4L201.0 -28.9L207.0 -27.9L213.0 -23.9L213.0 -11.3L203.0 -11.3L203.0 -8.7L196.6 -8.7L196.3 -10.9L191.0 -11.3L189.0 -13.6L186.0 -13.9L172.0 -13.5L157.0 -13.9L144.0 -13.3L140.0 -13.7ZM204.2 -43.7L208.9 -44.3L217.0 -43.1L221.7 -40.8L221.1 -39.1L217.0 -37.9L215.9 -34.4L217.0 -30.9L219.4 -27.4L221.7 -24.5L221.1 -22.1L217.0 -21.3L212.4 -22.3L208.3 -23.1L205.4 -24.6L201.9 -27.5L200.7 -32.0L201.3 -36.7L202.4 -40.2ZM225.2 -34.4L231.0 -36.7L236.9 -40.2L245.0 -40.8L252.0 -39.6L256.7 -38.5L252.0 -36.1L245.0 -33.2L240.4 -32.0L234.6 -28.5L233.4 -26.8L228.7 -29.7L226.4 -32.0ZM172.0 18.1L174.0 20.1L176.0 23.1L177.3 27.1L175.5 29.6L173.0 26.1L171.0 21.1Z"/><g filter="url(#b1)"><ellipse cx="61.5" cy="-30.4" rx="9.3" ry="7.2" fill="#d9952b" fill-opacity="0.55"/><ellipse cx="64.0" cy="-30.4" rx="3.8" ry="2.5" fill="#b8690f" fill-opacity="0.5"/><ellipse cx="59.0" cy="-55.9" rx="3.4" ry="1.7" fill="#dc9628" fill-opacity="0.5"/><ellipse cx="95.0" cy="-5.1" rx="3.4" ry="3.2" fill="#dc9628" fill-opacity="0.45"/><ellipse cx="108.0" cy="-3.1" rx="2.7" ry="1.9" fill="#7cc795" fill-opacity="0.5"/><ellipse cx="115.8" cy="12.1" rx="5.5" ry="6.8" fill="#d9952b" fill-opacity="0.5"/><ellipse cx="103.5" cy="22.1" rx="6.4" ry="9.3" fill="#d9952b" fill-opacity="0.55"/><ellipse cx="179.5" cy="-0.9" rx="9.8" ry="10.6" fill="#d08a22" fill-opacity="0.6"/><ellipse cx="178.0" cy="0.1" rx="4.2" ry="7.2" fill="#a8620e" fill-opacity="0.55"/><ellipse cx="188.0" cy="-9.4" rx="6.0" ry="3.1" fill="#d9952b" fill-opacity="0.5"/><ellipse cx="195.3" cy="-2.4" rx="3.8" ry="5.1" fill="#dc9628" fill-opacity="0.45"/><ellipse cx="149.5" cy="-10.1" rx="3.4" ry="2.7" fill="#dc9628" fill-opacity="0.3"/><ellipse cx="170.5" cy="-42.1" rx="8.9" ry="3.9" fill="#e0a03a" fill-opacity="0.12"/><ellipse cx="190.3" cy="-42.9" rx="6.8" ry="2.5" fill="#dc9628" fill-opacity="0.35"/><ellipse cx="197.0" cy="-40.2" rx="3.7" ry="2.8" fill="#dc9628" fill-opacity="0.35"/><ellipse cx="194.0" cy="-32.6" rx="8.5" ry="2.5" fill="#dc9628" fill-opacity="0.4"/><ellipse cx="210.0" cy="-42.9" rx="8.5" ry="2.2" fill="#dc9628" fill-opacity="0.6"/><ellipse cx="208.0" cy="-32.4" rx="2.7" ry="1.3" fill="#dc9628" fill-opacity="0.4"/><ellipse cx="214.0" cy="-29.6" rx="2.7" ry="1.3" fill="#dc9628" fill-opacity="0.4"/><ellipse cx="259.0" cy="-44.2" rx="9.3" ry="3.4" fill="#dc9628" fill-opacity="0.45"/><ellipse cx="254.5" cy="-55.7" rx="3.8" ry="1.5" fill="#dc9628" fill-opacity="0.3"/><ellipse cx="279.2" cy="23.5" rx="6.0" ry="5.1" fill="#ecc378" fill-opacity="0.45"/><ellipse cx="279.2" cy="23.5" rx="3.9" ry="3.6" fill="#f6e8c0" fill-opacity="0.6"/></g><path fill="#e9b45a" d="M66.0 -33.2h1.7v1.3h-1.7zM62.8 -34.9h1.1v0.9h-1.1zM57.2 -30.4h1.1v1.3h-1.1zM61.3 -33.3h1.3v1.1h-1.3zM52.0 -36.2h0.9v0.9h-0.9zM62.4 -28.6h1.1v0.9h-1.1zM59.3 -30.6h0.9v1.3h-0.9zM65.4 -31.7h1.3v0.9h-1.3zM67.8 -36.4h0.9v1.1h-0.9zM58.3 -36.0h1.7v1.1h-1.7zM66.3 -34.1h1.3v0.9h-1.3zM63.1 -27.6h1.7v1.1h-1.7zM54.8 -33.6h1.1v0.9h-1.1zM62.2 -23.7h1.7v0.9h-1.7zM63.2 -37.5h1.7v1.1h-1.7zM61.2 -37.0h1.3v1.3h-1.3zM64.5 -31.0h0.9v1.3h-0.9zM62.3 -31.5h1.7v1.1h-1.7zM63.7 -28.7h1.7v1.3h-1.7zM61.2 -26.7h0.9v1.1h-0.9zM56.8 -27.9h1.1v1.3h-1.1zM62.5 -31.2h0.9v0.9h-0.9zM56.2 -31.4h1.1v1.3h-1.1zM62.7 -38.6h1.1v1.1h-1.1zM58.8 -31.2h1.1v1.3h-1.1zM60.6 -28.6h1.7v1.3h-1.7zM59.5 -37.5h1.1v0.9h-1.1zM58.1 -33.1h0.9v0.9h-0.9zM64.5 -26.5h1.7v0.9h-1.7zM60.9 -30.3h0.9v1.3h-0.9zM63.2 -31.2h1.7v1.1h-1.7zM67.7 -33.9h1.3v1.3h-1.3zM65.4 -33.5h1.7v1.3h-1.7zM58.4 -26.5h1.1v0.9h-1.1zM57.7 -28.2h1.7v0.9h-1.7zM56.0 -32.1h0.9v1.1h-0.9zM59.4 -33.7h1.1v1.1h-1.1zM61.4 -31.7h0.9v0.9h-0.9zM65.5 -33.7h1.1v1.1h-1.1zM55.1 -31.6h1.7v0.9h-1.7zM67.4 -27.6h1.1v0.9h-1.1zM56.1 -32.7h0.9v1.3h-0.9zM59.8 -27.7h1.3v1.1h-1.3zM65.3 -30.5h1.3v0.9h-1.3zM68.6 -30.3h1.1v1.1h-1.1zM66.4 -25.9h1.7v1.3h-1.7zM60.8 -35.1h1.1v0.9h-1.1zM59.2 -34.1h1.1v1.3h-1.1zM63.4 -28.8h0.9v1.3h-0.9zM55.8 -56.4h1.3v0.9h-1.3zM60.6 -56.0h1.1v1.1h-1.1zM59.5 -54.4h0.9v0.9h-0.9zM59.5 -55.4h1.1v1.3h-1.1zM57.9 -57.1h1.3v1.3h-1.3zM58.4 -56.3h1.1v1.1h-1.1zM54.4 -56.8h1.7v0.9h-1.7zM78.9 -16.9h1.7v0.9h-1.7zM78.2 -16.1h1.3v1.3h-1.3zM93.4 -7.7h0.9v1.3h-0.9zM92.8 -3.9h1.3v1.1h-1.3zM92.8 -4.7h1.3v1.3h-1.3zM97.5 -4.6h1.3v0.9h-1.3zM93.5 -6.8h1.3v1.1h-1.3zM93.1 -4.2h1.3v1.1h-1.3zM95.3 -4.9h0.9v1.3h-0.9zM92.3 -3.9h1.7v0.9h-1.7zM93.4 -8.8h1.3v1.3h-1.3zM114.1 7.4h1.3v1.3h-1.3zM116.8 12.5h1.1v1.1h-1.1zM114.8 13.4h1.3v1.1h-1.3zM111.8 6.4h1.1v1.1h-1.1zM117.0 9.7h1.1v0.9h-1.1zM114.0 11.2h1.1v1.1h-1.1zM115.1 14.6h1.7v0.9h-1.7zM114.0 5.6h0.9v1.1h-0.9zM114.9 10.3h1.1v1.1h-1.1zM110.8 5.4h1.3v0.9h-1.3zM111.7 11.4h1.7v0.9h-1.7zM114.4 7.7h1.1v1.1h-1.1zM114.1 8.7h1.1v0.9h-1.1zM118.8 10.1h1.1v1.3h-1.1zM118.2 9.1h1.3v0.9h-1.3zM116.0 15.9h1.1v1.1h-1.1zM116.5 7.9h1.3v1.1h-1.3zM117.1 10.8h1.3v1.3h-1.3zM113.1 7.7h1.1v1.1h-1.1zM113.1 12.7h1.1v1.1h-1.1zM113.3 11.4h0.9v1.1h-0.9zM114.9 9.5h0.9v1.3h-0.9zM111.7 7.3h1.3v0.9h-1.3zM113.4 16.6h1.1v1.1h-1.1zM115.9 11.7h1.3v1.3h-1.3zM100.1 26.0h1.1v0.9h-1.1zM104.0 16.1h1.7v1.1h-1.7zM105.6 28.1h1.7v0.9h-1.7zM105.3 20.1h1.1v1.1h-1.1zM97.1 13.5h0.9v1.3h-0.9zM103.0 27.7h0.9v0.9h-0.9zM103.7 23.5h1.3v1.1h-1.3zM98.6 13.3h1.1v1.1h-1.1zM99.5 20.8h1.7v0.9h-1.7zM99.8 28.2h0.9v1.1h-0.9zM104.8 30.4h0.9v0.9h-0.9zM104.6 15.4h0.9v1.3h-0.9zM98.6 25.4h1.3v1.1h-1.3zM104.4 22.2h1.3v1.3h-1.3zM98.7 20.0h0.9v1.1h-0.9zM99.0 21.9h0.9v1.1h-0.9zM100.0 12.7h0.9v1.3h-0.9zM99.9 22.2h1.1v1.3h-1.1zM107.8 29.7h1.1v1.3h-1.1zM102.1 19.8h0.9v1.3h-0.9zM100.6 22.3h0.9v1.1h-0.9zM101.4 19.2h1.7v1.1h-1.7zM102.2 24.0h0.9v1.3h-0.9zM100.9 19.7h1.3v0.9h-1.3zM103.5 18.9h1.7v1.1h-1.7zM106.2 24.6h1.3v0.9h-1.3zM101.1 13.7h1.7v1.1h-1.7zM99.0 19.9h1.3v0.9h-1.3zM104.3 19.8h0.9v1.1h-0.9zM103.2 27.0h1.1v1.3h-1.1zM108.5 14.2h1.1v0.9h-1.1zM104.6 17.6h1.7v0.9h-1.7zM100.6 22.5h1.1v1.1h-1.1zM106.6 14.1h1.7v0.9h-1.7zM103.9 22.3h0.9v0.9h-0.9zM104.0 22.3h1.1v1.1h-1.1zM106.6 22.5h0.9v1.1h-0.9zM100.3 14.7h1.3v0.9h-1.3zM108.0 24.0h1.7v1.3h-1.7zM105.2 27.2h1.3v1.1h-1.3zM100.0 17.6h0.9v1.3h-0.9zM105.5 17.1h1.7v1.1h-1.7zM184.6 1.7h1.1v1.3h-1.1zM175.2 -0.5h1.1v0.9h-1.1zM174.3 0.6h1.7v0.9h-1.7zM188.3 -3.4h1.7v1.3h-1.7zM181.8 -7.2h1.1v1.3h-1.1zM183.5 -3.4h1.1v1.3h-1.1zM180.5 9.8h1.3v1.3h-1.3zM174.1 -0.4h0.9v1.1h-0.9zM178.8 -3.2h1.1v1.3h-1.1zM177.0 -5.8h1.1v0.9h-1.1zM177.8 -0.4h0.9v1.1h-0.9zM179.1 -4.7h1.3v1.1h-1.3zM178.7 -5.4h1.7v1.1h-1.7zM182.5 -4.1h1.1v1.1h-1.1zM178.5 -8.5h1.7v1.1h-1.7zM181.0 2.4h0.9v1.3h-0.9zM175.3 0.2h1.3v0.9h-1.3zM189.2 0.1h1.1v1.3h-1.1zM179.2 7.3h1.3v1.1h-1.3zM170.9 -6.5h1.7v1.1h-1.7zM175.0 -3.3h0.9v1.3h-0.9zM182.1 8.5h1.1v0.9h-1.1zM176.3 5.1h1.1v1.1h-1.1zM178.2 3.6h0.9v1.1h-0.9zM179.0 2.4h0.9v1.3h-0.9zM176.2 1.7h0.9v1.3h-0.9zM177.6 -10.1h0.9v1.3h-0.9zM174.4 -2.8h1.1v1.3h-1.1zM176.9 -7.1h1.3v1.3h-1.3zM172.6 -6.7h1.1v1.1h-1.1zM185.3 2.4h0.9v0.9h-0.9zM182.5 -6.8h1.3v1.1h-1.3zM180.8 -4.8h1.1v1.1h-1.1zM181.5 -6.7h1.3v0.9h-1.3zM180.3 1.5h0.9v1.1h-0.9zM174.2 -12.1h1.7v1.1h-1.7zM175.7 3.5h0.9v1.1h-0.9zM183.2 3.3h1.3v1.3h-1.3zM175.3 -10.7h1.3v0.9h-1.3zM187.0 4.1h0.9v1.1h-0.9zM185.7 2.8h1.7v0.9h-1.7zM175.6 4.6h1.3v1.3h-1.3zM177.4 -5.5h1.3v1.3h-1.3zM179.4 3.7h0.9v0.9h-0.9zM182.8 -5.1h1.1v1.3h-1.1zM172.0 -2.5h0.9v1.3h-0.9zM176.6 -10.0h1.7v1.1h-1.7zM186.7 -0.7h1.3v0.9h-1.3zM187.4 -3.1h0.9v0.9h-0.9zM181.5 -5.2h0.9v0.9h-0.9zM180.1 -2.1h1.7v1.3h-1.7zM169.3 -5.3h1.7v1.1h-1.7zM172.3 3.4h0.9v0.9h-0.9zM179.6 1.8h1.7v1.1h-1.7zM172.3 -0.9h1.3v0.9h-1.3zM184.5 5.1h1.7v0.9h-1.7zM179.3 -5.2h1.3v1.3h-1.3zM174.7 -4.1h1.3v1.3h-1.3zM178.6 5.8h1.7v1.1h-1.7zM179.5 0.2h1.7v1.3h-1.7zM183.0 0.8h0.9v1.3h-0.9zM181.8 -3.4h1.3v1.3h-1.3zM184.2 -3.1h0.9v0.9h-0.9zM179.9 4.6h1.3v0.9h-1.3zM184.9 -3.8h1.3v1.1h-1.3zM177.5 1.3h1.3v1.3h-1.3zM178.8 -4.9h1.3v1.1h-1.3zM188.4 -0.5h1.3v1.1h-1.3zM184.2 -9.8h1.3v0.9h-1.3zM183.7 -6.9h1.7v0.9h-1.7zM172.4 -0.9h0.9v1.3h-0.9zM175.2 2.4h1.7v0.9h-1.7zM175.8 -6.3h1.3v1.1h-1.3zM179.7 -2.5h1.1v0.9h-1.1zM182.5 -5.7h1.3v1.1h-1.3zM188.2 -10.3h1.1v1.3h-1.1zM190.3 -8.5h1.1v0.9h-1.1zM181.9 -10.8h0.9v1.1h-0.9zM181.5 -7.9h1.7v1.1h-1.7zM188.0 -12.2h1.3v0.9h-1.3zM185.7 -10.1h1.3v1.1h-1.3zM191.6 -9.8h0.9v1.3h-0.9zM184.9 -9.2h1.1v1.3h-1.1zM185.2 -8.5h1.3v1.3h-1.3zM186.0 -9.4h0.9v1.3h-0.9zM184.7 -9.3h1.7v1.3h-1.7zM186.1 -13.3h1.3v1.1h-1.3zM187.9 -10.8h1.3v1.1h-1.3zM189.0 -12.7h1.3v0.9h-1.3zM186.7 -10.4h1.3v0.9h-1.3zM188.1 -11.0h1.3v1.3h-1.3zM187.2 -6.9h1.3v0.9h-1.3zM193.1 -1.3h1.3v0.9h-1.3zM196.7 1.8h1.3v1.3h-1.3zM197.3 -1.3h1.3v1.1h-1.3zM197.1 -4.2h1.1v1.1h-1.1zM194.4 -3.5h1.3v1.1h-1.3zM196.1 -3.0h1.1v0.9h-1.1zM196.0 1.1h1.3v1.3h-1.3zM194.6 -4.7h1.3v1.3h-1.3zM192.8 -2.3h1.1v1.1h-1.1zM192.9 -2.3h0.9v0.9h-0.9zM196.9 -3.6h1.3v1.3h-1.3zM196.6 0.1h1.3v1.3h-1.3zM193.7 -2.4h1.3v1.1h-1.3zM189.8 10.1h1.7v0.9h-1.7zM190.5 9.7h1.1v1.3h-1.1zM188.8 7.2h0.9v0.9h-0.9zM147.5 -12.2h0.9v0.9h-0.9zM149.3 -9.5h0.9v1.1h-0.9zM147.8 -9.6h0.9v1.1h-0.9zM147.2 -10.7h0.9v1.3h-0.9zM149.7 -10.5h1.1v1.3h-1.1zM148.9 -9.4h1.1v0.9h-1.1zM150.2 -7.5h1.7v1.3h-1.7zM182.1 21.5h1.1v1.3h-1.1zM182.7 23.6h1.1v0.9h-1.1zM182.9 21.0h1.7v1.3h-1.7zM198.1 16.6h1.3v1.1h-1.3zM149.6 -29.6h1.3v0.9h-1.3zM151.2 -29.0h1.7v1.3h-1.7zM150.4 -29.2h1.3v1.3h-1.3zM150.9 -29.8h1.3v0.9h-1.3zM153.9 -29.7h1.7v0.9h-1.7zM156.9 -29.6h1.1v0.9h-1.1zM188.0 -41.4h1.1v0.9h-1.1zM190.9 -42.2h1.7v1.1h-1.7zM190.6 -44.3h0.9v0.9h-0.9zM188.9 -42.3h1.1v1.3h-1.1zM190.3 -44.4h1.1v1.3h-1.1zM190.4 -45.7h1.3v1.3h-1.3zM189.6 -41.5h0.9v1.3h-0.9zM193.4 -43.9h0.9v1.3h-0.9zM187.1 -45.0h1.7v0.9h-1.7zM191.1 -43.1h1.3v0.9h-1.3zM196.4 -43.7h1.3v0.9h-1.3zM195.7 -45.5h1.1v1.1h-1.1zM190.4 -40.6h1.3v1.1h-1.3zM186.9 -42.5h1.7v0.9h-1.7zM192.6 -44.9h1.3v1.3h-1.3zM193.0 -40.1h1.3v1.3h-1.3zM197.2 -42.5h1.3v1.3h-1.3zM195.0 -43.6h1.1v0.9h-1.1zM196.4 -39.4h1.3v1.1h-1.3zM195.3 -37.8h0.9v1.3h-0.9zM198.4 -39.8h1.7v1.1h-1.7zM194.8 -41.1h0.9v1.1h-0.9zM199.9 -38.9h1.1v0.9h-1.1zM192.3 -41.2h1.3v1.3h-1.3zM196.8 -37.3h1.1v1.3h-1.1zM192.3 -35.3h0.9v1.1h-0.9zM201.6 -33.2h1.7v0.9h-1.7zM199.1 -32.5h1.7v1.1h-1.7zM192.7 -34.5h1.7v1.1h-1.7zM193.0 -33.9h1.3v1.1h-1.3zM195.9 -35.8h1.1v1.1h-1.1zM201.3 -35.4h0.9v1.1h-0.9zM192.2 -33.1h1.3v1.3h-1.3zM191.5 -32.5h0.9v1.3h-0.9zM197.8 -32.5h0.9v1.3h-0.9zM190.8 -33.7h1.1v0.9h-1.1zM190.2 -31.7h1.7v0.9h-1.7zM189.9 -35.3h1.1v1.1h-1.1zM195.5 -31.1h0.9v0.9h-0.9zM185.8 -33.5h1.7v1.1h-1.7zM197.0 -35.8h1.3v1.3h-1.3zM191.6 -31.3h1.7v1.1h-1.7zM199.2 -32.2h0.9v0.9h-0.9zM194.5 -31.5h1.1v1.1h-1.1zM197.5 -32.2h1.7v1.1h-1.7zM191.5 -33.5h1.1v1.3h-1.1zM209.7 -43.7h1.1v1.3h-1.1zM207.6 -44.6h1.1v1.3h-1.1zM207.8 -41.9h1.3v1.3h-1.3zM212.2 -44.0h1.3v1.3h-1.3zM214.6 -43.8h1.3v0.9h-1.3zM210.9 -44.7h1.7v1.1h-1.7zM212.9 -43.4h1.7v1.3h-1.7zM215.9 -45.0h1.3v1.1h-1.3zM214.4 -43.1h0.9v1.1h-0.9zM212.6 -42.9h1.3v1.3h-1.3zM211.5 -43.1h1.3v0.9h-1.3zM209.4 -46.0h1.1v1.1h-1.1zM214.5 -44.6h1.3v1.1h-1.3zM214.0 -41.2h0.9v1.1h-0.9zM210.1 -43.7h1.7v0.9h-1.7zM213.6 -44.0h1.1v1.1h-1.1zM212.3 -44.0h1.3v0.9h-1.3zM207.5 -44.4h1.7v1.1h-1.7zM212.0 -42.8h1.3v1.1h-1.3zM199.9 -42.5h1.1v1.3h-1.1zM216.1 -43.5h1.7v0.9h-1.7zM220.0 -44.1h1.3v0.9h-1.3zM214.2 -43.1h1.3v1.1h-1.3zM203.9 -44.4h1.1v1.1h-1.1zM199.6 -42.0h0.9v0.9h-0.9zM202.3 -42.0h1.3v0.9h-1.3zM211.9 -43.9h0.9v1.1h-0.9zM208.1 -45.5h1.7v1.3h-1.7zM208.1 -42.8h1.7v1.3h-1.7zM210.3 -43.8h1.1v1.1h-1.1zM202.3 -44.2h1.1v1.1h-1.1zM210.3 -44.8h0.9v1.1h-0.9zM209.0 -44.3h1.3v1.3h-1.3zM211.5 -44.6h1.1v0.9h-1.1zM207.2 -33.3h0.9v1.1h-0.9zM206.3 -33.3h1.1v1.3h-1.1zM208.3 -33.3h1.3v1.3h-1.3zM206.8 -32.8h1.3v1.3h-1.3zM215.4 -30.1h1.7v1.3h-1.7zM215.0 -30.5h1.7v0.9h-1.7zM214.8 -29.5h0.9v0.9h-0.9zM211.4 -29.1h0.9v1.3h-0.9zM216.2 -29.4h1.1v1.3h-1.1zM201.9 -36.2h1.7v1.1h-1.7zM203.3 -36.3h0.9v1.1h-0.9zM202.8 -38.0h1.1v1.3h-1.1zM203.2 -35.0h0.9v1.1h-0.9zM196.9 -34.2h1.7v1.1h-1.7zM197.6 -35.5h1.1v1.3h-1.1zM197.9 -35.8h1.1v1.1h-1.1zM196.3 -33.6h1.7v0.9h-1.7zM259.6 -44.3h1.1v0.9h-1.1zM255.0 -44.3h1.7v1.3h-1.7zM254.5 -42.3h1.1v1.3h-1.1zM256.0 -46.1h1.7v1.3h-1.7zM256.8 -45.9h1.7v1.3h-1.7zM261.4 -45.0h1.3v0.9h-1.3zM255.2 -47.4h1.1v1.3h-1.1zM255.2 -44.4h1.3v1.3h-1.3zM258.0 -44.4h1.7v1.1h-1.7zM260.1 -42.7h1.7v0.9h-1.7zM253.0 -46.7h1.3v1.3h-1.3zM263.4 -45.0h1.7v1.1h-1.7zM260.8 -46.5h0.9v1.3h-0.9zM253.1 -45.7h0.9v1.3h-0.9zM258.0 -46.6h1.7v1.3h-1.7zM263.0 -43.2h1.7v1.3h-1.7zM258.3 -45.8h0.9v1.3h-0.9zM251.5 -46.4h1.1v1.3h-1.1zM255.4 -44.6h1.1v0.9h-1.1zM259.7 -43.3h1.1v1.1h-1.1zM268.0 -44.0h1.7v1.3h-1.7zM260.1 -42.9h1.1v0.9h-1.1zM261.6 -46.1h1.3v1.1h-1.3zM257.6 -44.0h1.7v1.3h-1.7zM263.3 -44.2h1.1v1.3h-1.1zM265.2 -47.0h0.9v0.9h-0.9zM250.5 -47.1h0.9v1.3h-0.9zM260.5 -45.1h1.7v1.1h-1.7zM253.3 -45.5h1.3v0.9h-1.3zM261.4 -43.1h1.7v1.1h-1.7zM266.9 -43.6h0.9v1.3h-0.9zM247.2 -46.5h1.1v0.9h-1.1zM250.1 -44.5h1.3v0.9h-1.3zM245.7 -45.7h1.1v1.1h-1.1zM243.8 -43.3h0.9v0.9h-0.9zM247.8 -44.0h1.3v0.9h-1.3zM251.3 -44.3h1.1v1.3h-1.1zM247.6 -42.9h1.7v1.3h-1.7zM255.7 -55.0h1.3v1.3h-1.3zM252.6 -56.5h1.3v1.1h-1.3zM255.8 -56.9h0.9v0.9h-0.9zM258.0 -56.7h0.9v1.1h-0.9zM256.8 -56.2h0.9v1.3h-0.9zM253.7 -57.2h0.9v0.9h-0.9zM256.0 -56.1h1.7v1.3h-1.7zM239.9 -23.3h1.7v1.1h-1.7zM243.0 -22.2h1.3v1.1h-1.3zM260.3 20.3h1.3v1.3h-1.3zM259.0 20.2h0.9v1.3h-0.9zM261.1 21.5h0.9v1.1h-0.9z"/><path fill="#f0d79a" d="M57.4 -31.7h0.9v1.3h-0.9zM67.6 -39.2h1.3v1.1h-1.3zM55.3 -30.2h1.7v1.1h-1.7zM63.2 -26.6h1.1v1.1h-1.1zM60.6 -28.7h1.7v1.1h-1.7zM61.6 -31.2h1.3v0.9h-1.3zM59.5 -30.8h1.3v1.1h-1.3zM61.8 -24.0h1.3v0.9h-1.3zM53.2 -32.5h1.1v0.9h-1.1zM55.6 -34.1h1.3v1.1h-1.3zM60.9 -29.0h1.7v1.3h-1.7zM58.0 -57.2h0.9v0.9h-0.9zM57.2 -56.5h1.1v1.3h-1.1zM59.1 -57.2h1.7v1.3h-1.7zM93.8 -3.0h0.9v1.3h-0.9zM93.6 -4.8h0.9v0.9h-0.9zM93.3 -6.7h1.3v1.3h-1.3zM93.3 -7.5h1.3v0.9h-1.3zM94.4 -4.1h1.7v1.3h-1.7zM115.7 5.1h1.3v0.9h-1.3zM115.4 8.3h1.1v1.3h-1.1zM117.0 10.7h1.7v1.3h-1.7zM119.4 14.9h1.7v1.3h-1.7zM115.5 5.7h1.3v1.3h-1.3zM114.3 14.1h0.9v1.1h-0.9zM116.6 18.8h1.3v1.3h-1.3zM104.5 23.3h1.3v0.9h-1.3zM104.6 26.2h1.3v0.9h-1.3zM101.9 17.2h1.1v1.1h-1.1zM107.0 28.3h1.7v1.1h-1.7zM96.3 21.1h1.3v1.3h-1.3zM103.1 18.6h1.3v0.9h-1.3zM102.8 21.1h1.3v0.9h-1.3zM96.0 23.2h1.3v1.3h-1.3zM97.0 15.0h1.3v1.3h-1.3zM105.7 22.5h1.7v1.3h-1.7zM108.1 25.4h0.9v0.9h-0.9zM99.9 24.0h1.3v1.1h-1.3zM105.0 24.5h0.9v1.3h-0.9zM104.9 24.4h0.9v0.9h-0.9zM102.1 17.2h1.7v1.1h-1.7zM99.4 22.8h1.1v1.1h-1.1zM183.5 8.7h0.9v0.9h-0.9zM183.0 -10.4h0.9v1.3h-0.9zM181.4 -5.9h1.1v1.3h-1.1zM179.8 3.7h1.7v1.1h-1.7zM176.8 -2.0h1.3v0.9h-1.3zM180.8 -4.5h1.1v1.1h-1.1zM182.0 -1.7h1.3v1.3h-1.3zM184.2 -7.4h0.9v1.1h-0.9zM174.3 -3.7h1.3v0.9h-1.3zM185.0 3.1h1.7v1.3h-1.7zM177.8 -3.1h1.1v1.1h-1.1zM174.4 -3.3h1.3v1.3h-1.3zM184.5 -0.2h0.9v1.1h-0.9zM175.2 -0.4h1.7v1.1h-1.7zM172.8 4.5h0.9v0.9h-0.9zM178.4 0.9h0.9v0.9h-0.9zM179.1 -0.7h0.9v1.1h-0.9zM174.3 -7.0h1.1v1.1h-1.1zM183.6 -0.9h0.9v1.3h-0.9zM178.5 -11.4h1.7v1.3h-1.7zM174.1 5.8h1.1v1.3h-1.1zM175.0 -8.1h1.1v1.1h-1.1zM190.3 0.7h0.9v1.3h-0.9zM180.1 -2.5h1.1v0.9h-1.1zM189.9 -9.7h1.7v1.1h-1.7zM185.2 -9.2h1.1v1.1h-1.1zM198.0 -2.0h0.9v1.3h-0.9zM193.8 -4.1h1.1v1.3h-1.1zM195.2 -0.9h1.1v1.3h-1.1zM195.9 -1.4h0.9v1.3h-0.9zM196.1 -3.8h1.3v1.3h-1.3zM196.8 -1.9h0.9v1.3h-0.9zM195.0 2.7h1.3v1.1h-1.3zM195.1 -6.5h0.9v1.3h-0.9zM189.8 9.2h1.3v0.9h-1.3zM189.4 11.2h1.1v0.9h-1.1zM148.1 -11.2h1.7v0.9h-1.7zM181.2 22.9h1.7v1.3h-1.7zM150.1 -29.4h1.3v1.3h-1.3zM192.7 -42.1h1.3v1.1h-1.3zM194.1 -42.5h1.1v1.3h-1.1zM191.0 -42.7h1.3v0.9h-1.3zM192.9 -43.7h1.3v0.9h-1.3zM186.3 -44.9h1.1v1.3h-1.1zM198.7 -39.1h1.1v0.9h-1.1zM196.3 -39.2h0.9v1.3h-0.9zM195.5 -40.5h1.7v1.3h-1.7zM191.8 -31.3h1.7v1.1h-1.7zM191.2 -32.7h1.1v1.3h-1.1zM208.3 -44.0h1.1v1.1h-1.1zM214.1 -40.9h1.7v0.9h-1.7zM214.6 -42.0h1.7v1.1h-1.7zM205.3 -43.9h1.7v0.9h-1.7zM212.4 -41.2h1.1v1.1h-1.1zM210.1 -42.2h1.7v0.9h-1.7zM211.9 -45.1h1.7v1.3h-1.7zM212.2 -43.1h0.9v0.9h-0.9zM209.2 -33.1h1.7v0.9h-1.7zM209.8 -33.0h1.7v0.9h-1.7zM206.3 -32.4h1.7v0.9h-1.7zM213.3 -30.8h0.9v1.3h-0.9zM200.9 -37.3h1.7v1.3h-1.7zM196.9 -35.2h1.7v1.1h-1.7zM259.8 -43.9h1.7v0.9h-1.7zM255.7 -46.3h0.9v1.1h-0.9zM252.4 -45.6h1.7v1.1h-1.7zM260.0 -44.9h1.3v0.9h-1.3zM252.5 -44.7h1.3v1.3h-1.3zM250.5 -44.4h0.9v1.3h-0.9zM256.5 -55.8h1.3v0.9h-1.3zM239.8 -22.8h0.9v1.1h-0.9zM257.0 -23.2h0.9v1.3h-0.9zM258.0 -26.1h1.1v0.9h-1.1zM260.1 19.4h1.7v1.3h-1.7z"/><path fill="#c47a16" d="M54.0 -38.8h1.1v1.3h-1.1zM62.9 -30.0h1.3v1.1h-1.3zM68.4 -29.9h0.9v1.1h-0.9zM64.7 -27.8h1.7v1.3h-1.7zM60.8 -33.4h1.1v1.3h-1.1zM53.3 -30.7h1.1v1.3h-1.1zM55.7 -30.4h0.9v1.1h-0.9zM68.0 -31.7h1.1v1.3h-1.1zM55.7 -27.3h0.9v1.3h-0.9zM58.0 -26.2h1.7v1.1h-1.7zM55.6 -32.7h1.1v1.1h-1.1zM65.0 -28.2h1.3v0.9h-1.3zM57.9 -31.4h1.1v1.1h-1.1zM60.1 -33.5h1.7v1.1h-1.7zM56.5 -31.2h1.3v1.1h-1.3zM67.8 -36.6h1.1v1.1h-1.1zM49.4 -32.2h1.7v0.9h-1.7zM58.1 -33.6h1.1v1.3h-1.1zM61.1 -33.1h1.1v0.9h-1.1zM60.9 -33.3h1.7v0.9h-1.7zM60.6 -31.3h0.9v0.9h-0.9zM50.1 -33.2h0.9v1.1h-0.9zM53.3 -31.9h1.3v1.1h-1.3zM60.1 -25.8h1.7v1.1h-1.7zM58.7 -26.7h1.3v1.1h-1.3zM56.1 -32.7h1.1v1.3h-1.1zM64.2 -31.8h1.1v1.3h-1.1zM69.7 -26.9h1.1v0.9h-1.1zM53.5 -38.0h1.3v1.3h-1.3zM58.3 -32.9h0.9v0.9h-0.9zM66.8 -31.0h0.9v1.1h-0.9zM59.9 -32.1h1.7v1.3h-1.7zM66.4 -32.6h1.7v1.3h-1.7zM56.4 -31.3h1.1v1.3h-1.1zM70.5 -34.1h0.9v1.3h-0.9zM61.6 -25.6h0.9v1.3h-0.9zM62.0 -31.0h1.1v1.1h-1.1zM69.3 -35.1h0.9v0.9h-0.9zM55.2 -28.3h1.7v1.1h-1.7zM65.0 -33.0h1.7v1.1h-1.7zM65.7 -30.4h1.7v1.3h-1.7zM62.8 -34.3h1.3v1.3h-1.3zM63.7 -29.1h1.7v1.3h-1.7zM62.6 -29.2h1.3v0.9h-1.3zM64.1 -31.3h1.7v0.9h-1.7zM64.9 -31.4h1.7v0.9h-1.7zM65.1 -32.0h1.7v1.3h-1.7zM65.8 -31.4h1.7v1.1h-1.7zM63.2 -30.5h1.1v1.1h-1.1zM62.8 -31.6h1.3v1.1h-1.3zM63.5 -29.4h0.9v0.9h-0.9zM60.5 -31.9h1.1v1.1h-1.1zM58.5 -55.6h1.1v0.9h-1.1zM57.8 -57.3h1.7v0.9h-1.7zM58.5 -56.6h0.9v0.9h-0.9zM78.0 -16.3h1.7v1.1h-1.7zM93.4 -4.8h1.3v1.1h-1.3zM97.4 -6.9h1.1v1.1h-1.1zM96.5 -5.7h1.7v0.9h-1.7zM91.9 -4.0h0.9v1.1h-0.9zM94.0 -3.1h0.9v0.9h-0.9zM114.3 13.4h0.9v1.1h-0.9zM112.1 5.8h0.9v1.3h-0.9zM112.5 10.1h1.7v0.9h-1.7zM113.8 11.9h1.1v0.9h-1.1zM119.6 8.2h0.9v1.3h-0.9zM113.2 5.6h1.7v1.1h-1.7zM116.8 11.9h1.3v1.1h-1.3zM114.3 16.2h1.7v0.9h-1.7zM113.8 16.7h1.7v0.9h-1.7zM115.5 6.6h1.3v1.3h-1.3zM115.4 17.0h1.1v1.3h-1.1zM118.9 14.4h1.1v0.9h-1.1zM111.7 15.4h1.7v1.3h-1.7zM115.1 12.8h1.7v1.1h-1.7zM112.9 12.1h1.7v1.3h-1.7zM114.2 14.7h1.1v0.9h-1.1zM116.5 12.0h0.9v1.3h-0.9zM111.2 9.4h1.3v0.9h-1.3zM113.4 16.1h1.3v1.1h-1.3zM116.6 15.2h1.1v1.1h-1.1zM110.7 6.4h1.7v1.3h-1.7zM112.6 14.6h1.7v1.3h-1.7zM118.9 14.4h1.1v1.3h-1.1zM112.4 13.4h1.3v0.9h-1.3zM117.5 5.3h0.9v0.9h-0.9zM113.5 9.5h0.9v1.3h-0.9zM119.1 16.2h1.7v1.3h-1.7zM113.7 12.6h1.7v0.9h-1.7zM117.2 11.9h1.3v1.3h-1.3zM113.6 10.4h1.1v0.9h-1.1zM115.6 7.2h1.1v1.1h-1.1zM115.2 18.4h1.7v0.9h-1.7zM115.8 10.6h0.9v1.3h-0.9zM116.2 12.3h1.7v1.1h-1.7zM113.1 12.9h1.3v1.3h-1.3zM119.7 7.5h1.3v0.9h-1.3zM115.7 8.9h0.9v1.1h-0.9zM113.6 15.1h1.7v0.9h-1.7zM117.6 11.5h0.9v0.9h-0.9zM110.0 9.8h1.1v1.3h-1.1zM114.9 8.7h1.3v1.3h-1.3zM106.6 25.6h1.1v0.9h-1.1zM102.6 27.0h1.1v1.1h-1.1zM106.0 22.6h1.3v1.1h-1.3zM108.2 20.4h1.1v0.9h-1.1zM104.8 26.5h0.9v1.3h-0.9zM109.6 21.7h1.7v0.9h-1.7zM100.6 26.3h1.1v1.1h-1.1zM100.5 16.6h1.1v1.1h-1.1zM99.6 20.9h1.3v0.9h-1.3zM106.1 17.4h1.7v0.9h-1.7zM105.5 28.1h1.3v0.9h-1.3zM108.1 28.1h1.3v1.1h-1.3zM106.3 19.4h0.9v0.9h-0.9zM104.1 25.3h1.7v1.1h-1.7zM102.8 24.5h0.9v0.9h-0.9zM102.8 18.9h1.1v1.3h-1.1zM101.1 18.3h1.3v1.3h-1.3zM101.4 19.4h1.1v1.3h-1.1zM104.5 28.5h1.3v0.9h-1.3zM102.4 27.7h1.3v0.9h-1.3zM99.5 19.4h1.7v1.3h-1.7zM100.9 22.9h1.1v1.3h-1.1zM104.2 22.0h0.9v1.1h-0.9zM107.5 28.4h1.3v1.1h-1.3zM105.6 22.4h0.9v0.9h-0.9zM103.1 24.3h1.1v0.9h-1.1zM96.1 14.6h1.3v1.1h-1.3zM106.3 21.1h1.1v1.3h-1.1zM108.9 18.5h0.9v0.9h-0.9zM102.0 23.6h1.1v1.1h-1.1zM104.4 30.9h1.3v0.9h-1.3zM102.8 30.5h0.9v1.1h-0.9zM106.4 21.5h1.1v1.3h-1.1zM103.2 26.5h1.3v0.9h-1.3zM102.7 27.3h1.7v0.9h-1.7zM102.3 25.4h0.9v1.3h-0.9zM100.8 18.2h1.7v1.1h-1.7zM108.2 20.2h1.3v1.3h-1.3zM104.4 25.3h1.1v1.1h-1.1zM106.4 20.0h1.3v1.1h-1.3zM108.5 24.0h1.1v1.1h-1.1zM102.1 27.5h1.7v1.3h-1.7zM103.4 31.4h1.3v1.1h-1.3zM99.6 23.5h1.3v1.3h-1.3zM180.0 9.2h0.9v1.3h-0.9zM171.8 0.4h1.7v1.1h-1.7zM174.8 0.7h0.9v1.3h-0.9zM185.6 -3.5h1.7v0.9h-1.7zM168.3 5.5h1.7v0.9h-1.7zM178.9 -4.6h0.9v1.1h-0.9zM172.7 -1.7h1.3v1.1h-1.3zM177.9 -11.5h1.1v1.1h-1.1zM175.1 -0.2h0.9v0.9h-0.9zM178.8 0.1h1.1v0.9h-1.1zM185.7 2.4h0.9v1.3h-0.9zM186.9 -4.0h1.7v1.3h-1.7zM185.5 4.3h1.1v1.1h-1.1zM180.5 -7.0h1.1v1.3h-1.1zM177.5 -13.8h0.9v1.3h-0.9zM179.9 -2.8h1.1v1.1h-1.1zM183.2 -3.6h1.1v0.9h-1.1zM174.2 -4.4h1.3v0.9h-1.3zM176.7 5.0h1.1v1.1h-1.1zM189.6 6.3h0.9v1.3h-0.9zM179.2 -2.9h1.3v0.9h-1.3zM185.4 2.9h1.3v0.9h-1.3zM178.0 3.0h0.9v0.9h-0.9zM181.5 4.4h1.3v1.3h-1.3zM181.1 -0.3h1.7v0.9h-1.7zM181.8 -9.9h1.7v1.3h-1.7zM179.7 -7.7h1.7v0.9h-1.7zM185.5 -6.9h0.9v0.9h-0.9zM178.7 0.7h1.3v1.1h-1.3zM180.2 -0.7h0.9v0.9h-0.9zM179.8 -5.5h1.3v1.3h-1.3zM180.3 -2.3h1.1v1.3h-1.1zM181.6 -2.4h1.1v1.3h-1.1zM182.4 -7.0h1.1v1.3h-1.1zM181.6 0.4h1.1v0.9h-1.1zM185.4 -1.0h1.1v0.9h-1.1zM183.4 -2.7h1.1v1.3h-1.1zM179.0 -4.9h0.9v1.1h-0.9zM175.8 -10.1h1.7v0.9h-1.7zM170.9 -11.9h1.3v0.9h-1.3zM174.8 -4.8h1.3v1.3h-1.3zM183.6 1.3h0.9v0.9h-0.9zM180.5 -2.1h1.1v1.3h-1.1zM180.4 -6.5h0.9v1.3h-0.9zM178.5 -10.8h0.9v1.1h-0.9zM173.2 0.0h1.7v1.3h-1.7zM178.7 -8.6h1.1v1.3h-1.1zM178.1 -3.8h1.7v1.1h-1.7zM182.5 -5.8h0.9v1.1h-0.9zM174.2 -3.9h1.7v1.1h-1.7zM177.9 -2.6h1.3v1.3h-1.3zM184.7 1.6h0.9v1.3h-0.9zM178.1 2.4h1.3v1.3h-1.3zM182.9 3.5h1.7v1.1h-1.7zM172.3 5.1h1.7v1.1h-1.7zM176.2 -3.9h1.7v1.1h-1.7zM184.1 9.4h1.3v1.3h-1.3zM177.2 -8.9h0.9v1.1h-0.9zM178.1 0.4h1.7v1.1h-1.7zM179.2 -8.2h1.3v1.1h-1.3zM183.9 1.9h1.3v1.3h-1.3zM173.4 1.3h1.3v1.1h-1.3zM180.0 -7.4h0.9v1.1h-0.9zM171.4 -5.9h1.7v1.3h-1.7zM183.7 9.0h0.9v1.1h-0.9zM182.7 2.0h0.9v1.1h-0.9zM190.2 2.9h0.9v1.1h-0.9zM176.1 -7.9h0.9v1.1h-0.9zM173.4 -1.3h1.3v1.1h-1.3zM176.7 0.1h1.1v1.1h-1.1zM177.3 2.0h1.3v1.1h-1.3zM172.5 0.1h1.3v0.9h-1.3zM178.0 2.7h1.3v1.3h-1.3zM182.4 -12.5h0.9v1.1h-0.9zM182.0 -7.0h1.3v1.3h-1.3zM177.1 1.1h1.1v0.9h-1.1zM174.4 0.3h1.1v0.9h-1.1zM176.9 -6.1h1.7v1.1h-1.7zM177.6 -4.1h1.1v1.3h-1.1zM175.6 -3.9h1.1v0.9h-1.1zM176.4 -2.3h1.1v0.9h-1.1zM175.4 0.1h1.7v0.9h-1.7zM176.4 -3.4h1.7v1.3h-1.7zM173.6 -0.4h0.9v1.3h-0.9zM174.6 4.5h1.7v0.9h-1.7zM177.0 2.0h0.9v1.3h-0.9zM176.2 -0.2h1.1v0.9h-1.1zM177.8 2.0h1.1v0.9h-1.1zM180.8 -1.9h0.9v1.3h-0.9zM180.4 -7.8h1.1v1.3h-1.1zM179.5 -0.7h0.9v1.1h-0.9zM178.2 2.0h1.3v1.3h-1.3zM179.1 6.2h0.9v1.3h-0.9zM178.8 1.2h1.7v1.1h-1.7zM175.9 -3.4h1.7v1.1h-1.7zM175.7 -4.2h1.7v1.3h-1.7zM177.9 1.0h1.3v1.1h-1.3zM179.6 7.7h1.7v0.9h-1.7zM187.6 -10.9h1.7v1.3h-1.7zM182.9 -11.0h1.3v1.3h-1.3zM187.5 -12.0h0.9v1.1h-0.9zM184.3 -9.5h0.9v1.3h-0.9zM186.4 -9.2h0.9v1.3h-0.9zM189.8 -9.1h1.7v1.3h-1.7zM184.5 -9.2h1.3v1.3h-1.3zM192.8 -5.3h1.7v1.1h-1.7zM196.7 -1.0h0.9v1.1h-0.9zM191.7 -4.9h1.3v1.1h-1.3zM197.7 -3.8h0.9v0.9h-0.9zM196.8 -3.1h1.7v0.9h-1.7zM192.8 -0.6h1.3v0.9h-1.3zM192.5 -7.5h1.7v1.3h-1.7zM196.7 -3.7h1.1v0.9h-1.1zM194.1 -5.9h1.3v1.1h-1.3zM197.3 -4.0h1.1v1.3h-1.1zM196.8 -2.9h1.1v1.1h-1.1zM198.0 -5.2h1.7v1.3h-1.7zM193.8 0.3h1.1v0.9h-1.1zM189.6 7.1h0.9v1.1h-0.9zM189.4 9.0h0.9v1.3h-0.9zM189.4 7.9h1.7v1.1h-1.7zM189.4 10.3h1.1v0.9h-1.1zM146.9 -9.8h1.3v1.1h-1.3zM147.5 -11.3h0.9v1.3h-0.9zM150.2 -9.8h1.7v1.3h-1.7zM148.6 -11.5h1.3v1.3h-1.3zM149.2 -11.8h1.3v0.9h-1.3zM150.3 -9.0h1.1v1.1h-1.1zM149.3 -10.5h1.3v1.1h-1.3zM152.0 -9.7h1.7v1.3h-1.7zM181.9 22.2h1.7v0.9h-1.7zM184.3 23.0h0.9v1.3h-0.9zM198.4 17.9h1.1v1.3h-1.1zM198.3 17.5h1.1v1.3h-1.1zM197.5 16.9h0.9v1.1h-0.9zM150.4 -29.2h1.1v0.9h-1.1zM151.6 -29.9h1.3v1.3h-1.3zM149.7 -28.4h1.1v0.9h-1.1zM155.6 -30.3h1.7v1.3h-1.7zM150.6 -30.0h1.3v1.3h-1.3zM155.8 -29.9h1.7v1.1h-1.7zM158.9 -29.3h0.9v1.3h-0.9zM160.4 -30.5h1.7v1.3h-1.7zM186.9 -45.0h0.9v1.3h-0.9zM186.9 -44.6h1.1v0.9h-1.1zM190.2 -43.9h1.3v0.9h-1.3zM186.9 -44.2h0.9v0.9h-0.9zM186.9 -42.8h1.3v1.1h-1.3zM187.7 -46.6h1.1v0.9h-1.1zM190.0 -43.4h0.9v0.9h-0.9zM187.9 -44.1h1.7v1.3h-1.7zM186.3 -43.1h1.3v0.9h-1.3zM189.0 -41.1h0.9v1.1h-0.9zM182.8 -43.6h0.9v1.3h-0.9zM185.2 -43.6h1.1v0.9h-1.1zM188.4 -43.8h1.3v1.3h-1.3zM193.8 -44.8h1.3v1.3h-1.3zM190.6 -43.6h1.1v1.3h-1.1zM186.9 -43.6h1.3v0.9h-1.3zM196.4 -40.7h0.9v0.9h-0.9zM194.5 -40.7h0.9v1.1h-0.9zM196.6 -39.2h0.9v0.9h-0.9zM197.0 -42.4h1.3v0.9h-1.3zM197.6 -39.1h1.7v1.3h-1.7zM193.1 -32.7h1.7v0.9h-1.7zM199.7 -33.7h0.9v1.1h-0.9zM197.1 -32.9h1.3v1.1h-1.3zM197.3 -30.7h1.7v1.3h-1.7zM191.0 -33.2h1.7v1.1h-1.7zM193.4 -34.6h1.7v1.1h-1.7zM190.5 -34.4h0.9v1.1h-0.9zM195.6 -34.2h0.9v1.3h-0.9zM191.9 -33.9h1.3v1.3h-1.3zM183.7 -33.1h0.9v1.1h-0.9zM199.8 -32.7h0.9v1.1h-0.9zM187.1 -31.4h1.7v1.1h-1.7zM186.2 -33.0h1.3v0.9h-1.3zM198.3 -32.8h1.1v1.3h-1.1zM194.8 -32.6h1.7v1.1h-1.7zM198.4 -33.9h1.1v1.3h-1.1zM210.3 -43.6h0.9v1.1h-0.9zM209.2 -43.3h1.3v1.1h-1.3zM210.4 -43.5h0.9v1.1h-0.9zM213.2 -45.3h1.3v1.3h-1.3zM210.3 -43.2h1.3v1.3h-1.3zM206.8 -43.2h1.3v0.9h-1.3zM214.5 -41.8h1.1v1.1h-1.1zM217.2 -42.5h0.9v1.3h-0.9zM204.8 -45.3h1.7v1.3h-1.7zM212.1 -42.8h1.1v1.3h-1.1zM207.6 -43.4h0.9v0.9h-0.9zM207.6 -43.7h1.1v0.9h-1.1zM209.3 -44.0h1.3v1.3h-1.3zM206.1 -43.3h0.9v1.1h-0.9zM214.9 -45.0h1.3v1.1h-1.3zM204.7 -45.1h0.9v1.3h-0.9zM218.1 -45.3h1.3v1.1h-1.3zM215.9 -41.2h1.3v1.3h-1.3zM211.9 -42.9h1.3v1.3h-1.3zM203.9 -43.8h1.7v1.1h-1.7zM206.5 -42.0h1.1v0.9h-1.1zM213.3 -43.1h1.7v1.1h-1.7zM209.6 -43.8h0.9v1.3h-0.9zM213.8 -43.3h1.1v1.1h-1.1zM211.3 -43.0h1.7v0.9h-1.7zM211.2 -42.3h1.3v0.9h-1.3zM205.1 -43.5h1.7v1.3h-1.7zM215.2 -43.4h0.9v1.3h-0.9zM209.4 -43.1h0.9v1.1h-0.9zM213.4 -43.2h0.9v1.1h-0.9zM207.6 -43.7h1.3v1.1h-1.3zM211.2 -41.7h1.1v0.9h-1.1zM204.4 -41.5h1.3v1.3h-1.3zM215.9 -43.4h0.9v0.9h-0.9zM205.4 -43.2h1.7v0.9h-1.7zM209.6 -41.9h1.1v0.9h-1.1zM204.3 -42.6h1.3v1.3h-1.3zM208.3 -32.7h1.3v1.3h-1.3zM209.2 -33.3h1.7v1.3h-1.7zM207.9 -31.6h1.1v0.9h-1.1zM207.8 -32.3h1.1v0.9h-1.1zM205.9 -33.8h1.3v1.3h-1.3zM208.2 -32.6h0.9v0.9h-0.9zM206.3 -33.0h1.7v1.1h-1.7zM206.3 -32.1h1.1v1.1h-1.1zM207.0 -34.0h1.1v1.3h-1.1zM215.8 -30.5h1.3v1.1h-1.3zM213.0 -29.6h1.7v0.9h-1.7zM212.3 -31.0h0.9v1.3h-0.9zM215.2 -31.2h0.9v1.1h-0.9zM211.7 -29.8h1.7v1.1h-1.7zM213.8 -30.3h1.3v0.9h-1.3zM212.1 -30.6h0.9v1.3h-0.9zM214.6 -30.8h1.1v1.1h-1.1zM202.3 -36.7h0.9v1.3h-0.9zM196.0 -34.6h0.9v1.3h-0.9zM198.8 -34.4h0.9v1.3h-0.9zM198.9 -33.6h1.3v0.9h-1.3zM196.4 -35.2h1.1v0.9h-1.1zM250.5 -43.1h1.1v0.9h-1.1zM256.0 -44.6h1.1v0.9h-1.1zM250.0 -46.4h1.3v0.9h-1.3zM262.7 -47.0h1.1v1.3h-1.1zM257.2 -44.5h0.9v1.1h-0.9zM256.1 -45.4h0.9v1.3h-0.9zM262.6 -42.9h1.3v0.9h-1.3zM256.2 -44.9h1.3v1.3h-1.3zM258.6 -43.8h1.7v0.9h-1.7zM268.3 -46.0h1.7v1.1h-1.7zM264.3 -46.7h1.3v1.3h-1.3zM256.6 -41.9h1.7v1.1h-1.7zM257.6 -42.4h0.9v0.9h-0.9zM255.2 -45.0h1.1v1.3h-1.1zM263.6 -46.7h1.3v0.9h-1.3zM254.7 -43.8h1.7v0.9h-1.7zM261.4 -47.7h1.3v0.9h-1.3zM255.2 -45.5h0.9v0.9h-0.9zM262.8 -42.0h1.7v1.1h-1.7zM254.2 -42.7h0.9v1.3h-0.9zM255.8 -45.2h1.7v1.1h-1.7zM264.2 -44.9h1.7v1.3h-1.7zM259.4 -45.6h1.1v1.3h-1.1zM254.3 -47.6h1.1v0.9h-1.1zM263.6 -46.0h1.3v1.3h-1.3zM253.3 -45.4h1.7v0.9h-1.7zM258.9 -46.9h0.9v1.3h-0.9zM259.3 -42.4h0.9v0.9h-0.9zM254.3 -44.1h1.3v0.9h-1.3zM263.9 -43.6h0.9v1.3h-0.9zM259.7 -41.5h1.3v1.1h-1.3zM255.4 -47.7h1.1v1.3h-1.1zM256.8 -45.2h1.3v1.3h-1.3zM260.9 -44.3h1.3v1.1h-1.3zM253.4 -44.9h0.9v1.1h-0.9zM261.4 -46.3h1.7v1.1h-1.7zM258.5 -45.9h1.7v1.1h-1.7zM255.9 -43.5h0.9v0.9h-0.9zM249.1 -44.7h1.1v1.3h-1.1zM248.0 -43.3h1.3v1.3h-1.3zM245.2 -43.6h1.7v1.3h-1.7zM242.9 -42.4h0.9v0.9h-0.9zM248.0 -43.6h1.7v1.3h-1.7zM255.2 -56.7h1.7v0.9h-1.7zM253.6 -57.1h1.7v1.1h-1.7zM250.2 -56.1h1.1v1.3h-1.1zM255.0 -55.5h1.1v0.9h-1.1zM241.9 -22.3h1.7v0.9h-1.7zM242.5 -22.7h0.9v1.1h-0.9zM241.5 -23.9h1.1v1.3h-1.1zM240.8 -22.5h1.3v0.9h-1.3zM242.9 -21.1h1.7v0.9h-1.7zM258.6 -26.7h1.7v1.3h-1.7zM255.9 -25.7h0.9v0.9h-0.9zM256.4 -24.0h1.7v1.3h-1.7zM256.0 -23.6h1.7v0.9h-1.7zM259.2 21.2h1.1v1.3h-1.1z"/><path fill="#d9952b" d="M62.0 -30.7h1.1v1.3h-1.1zM59.6 -30.6h1.1v1.3h-1.1zM63.1 -30.1h0.9v0.9h-0.9zM61.3 -32.8h1.3v0.9h-1.3zM58.8 -29.8h1.1v0.9h-1.1zM57.3 -29.4h0.9v1.1h-0.9zM51.3 -35.8h1.1v0.9h-1.1zM56.5 -35.2h0.9v0.9h-0.9zM59.8 -31.6h0.9v1.3h-0.9zM59.0 -32.6h1.1v1.3h-1.1zM60.8 -35.2h1.3v1.1h-1.3zM61.7 -30.3h1.7v1.3h-1.7zM60.9 -34.7h1.3v1.3h-1.3zM62.0 -31.3h1.7v1.3h-1.7zM57.3 -35.3h1.7v0.9h-1.7zM63.2 -32.2h0.9v1.1h-0.9zM55.9 -30.3h1.7v1.1h-1.7zM61.7 -31.8h1.3v1.3h-1.3zM62.4 -33.0h1.1v0.9h-1.1zM56.1 -30.3h0.9v1.1h-0.9zM63.7 -33.1h1.7v1.3h-1.7zM64.1 -29.4h1.3v1.1h-1.3zM54.7 -24.1h0.9v1.1h-0.9zM60.2 -27.3h1.1v0.9h-1.1zM58.5 -32.8h1.1v1.3h-1.1zM62.5 -28.1h0.9v1.3h-0.9zM56.3 -31.3h1.1v1.3h-1.1zM64.4 -32.3h1.1v0.9h-1.1zM60.3 -32.6h1.7v0.9h-1.7zM67.2 -30.4h1.3v1.1h-1.3zM61.9 -29.5h1.3v1.3h-1.3zM66.6 -29.8h1.1v1.1h-1.1zM55.1 -27.8h1.1v0.9h-1.1zM61.4 -32.8h1.7v0.9h-1.7zM58.7 -26.3h1.7v1.3h-1.7zM58.7 -32.0h0.9v1.3h-0.9zM68.6 -29.2h1.7v1.1h-1.7zM60.1 -26.2h1.3v0.9h-1.3zM61.4 -30.9h1.7v1.3h-1.7zM60.8 -36.5h1.3v0.9h-1.3zM59.9 -35.1h1.1v0.9h-1.1zM68.7 -30.9h1.1v0.9h-1.1zM60.9 -33.5h0.9v1.1h-0.9zM61.7 -37.5h1.7v1.1h-1.7zM64.7 -26.8h1.3v1.1h-1.3zM63.8 -29.7h1.7v1.3h-1.7zM59.2 -24.4h1.1v1.1h-1.1zM57.1 -37.6h1.7v1.3h-1.7zM56.0 -27.7h1.1v0.9h-1.1zM54.8 -32.9h1.7v0.9h-1.7zM60.9 -24.5h1.7v1.3h-1.7zM62.1 -33.2h0.9v1.1h-0.9zM54.3 -24.0h1.7v0.9h-1.7zM61.4 -31.2h1.1v1.3h-1.1zM65.0 -31.6h1.7v1.1h-1.7zM64.4 -27.2h0.9v1.1h-0.9zM51.5 -33.3h1.7v1.1h-1.7zM54.0 -32.4h1.7v0.9h-1.7zM63.2 -38.1h1.1v0.9h-1.1zM50.1 -28.4h1.7v1.3h-1.7zM61.9 -36.7h1.3v1.3h-1.3zM62.2 -27.5h1.1v0.9h-1.1zM66.7 -36.3h0.9v0.9h-0.9zM64.4 -26.8h1.3v1.1h-1.3zM54.4 -38.1h1.7v1.3h-1.7zM67.6 -27.8h1.1v1.1h-1.1zM56.2 -27.7h1.1v1.3h-1.1zM60.2 -33.2h1.1v1.1h-1.1zM60.5 -32.0h1.1v0.9h-1.1zM59.1 -30.0h1.3v1.1h-1.3zM62.1 -27.0h1.7v1.1h-1.7zM56.7 -32.2h1.3v1.1h-1.3zM62.7 -32.5h1.7v0.9h-1.7zM64.0 -28.2h1.3v0.9h-1.3zM58.8 -33.5h1.7v1.1h-1.7zM60.9 -56.7h1.7v1.3h-1.7zM57.2 -56.2h0.9v1.3h-0.9zM58.0 -58.4h1.3v1.1h-1.3zM57.2 -56.1h1.1v1.1h-1.1zM60.7 -56.9h0.9v0.9h-0.9zM57.2 -56.3h1.7v1.1h-1.7zM61.1 -57.4h1.3v1.1h-1.3zM56.5 -55.5h0.9v1.1h-0.9zM59.9 -56.2h1.1v0.9h-1.1zM58.7 -55.2h1.3v1.1h-1.3zM79.2 -16.5h0.9v1.1h-0.9zM78.1 -15.3h0.9v0.9h-0.9zM77.7 -15.3h1.7v0.9h-1.7zM79.0 -16.3h0.9v1.3h-0.9zM77.8 -16.6h1.7v1.3h-1.7zM96.9 -6.1h1.7v1.1h-1.7zM93.6 -8.6h0.9v1.1h-0.9zM94.7 -8.9h1.7v1.1h-1.7zM93.8 -4.9h0.9v1.1h-0.9zM97.5 -4.5h1.1v1.3h-1.1zM95.8 -7.3h1.1v0.9h-1.1zM94.8 -7.4h1.7v0.9h-1.7zM92.6 -6.4h0.9v1.1h-0.9zM92.8 -6.6h1.3v0.9h-1.3zM93.3 -5.9h1.7v1.3h-1.7zM94.6 -5.6h1.3v0.9h-1.3zM93.1 -4.3h1.1v1.3h-1.1zM95.0 -4.2h1.3v0.9h-1.3zM94.3 -4.2h1.3v0.9h-1.3zM91.9 -8.2h1.7v0.9h-1.7zM90.9 -7.4h1.7v1.1h-1.7zM96.2 -6.5h1.1v0.9h-1.1zM93.9 -8.4h1.3v1.3h-1.3zM97.4 -7.1h0.9v1.1h-0.9zM95.4 -6.0h1.3v1.1h-1.3zM118.7 12.7h0.9v1.1h-0.9zM112.0 11.4h1.1v1.3h-1.1zM121.2 10.5h1.1v1.3h-1.1zM117.1 5.1h0.9v1.1h-0.9zM117.0 10.3h1.3v1.1h-1.3zM119.4 12.4h0.9v1.1h-0.9zM113.0 12.0h0.9v1.1h-0.9zM109.8 10.5h1.1v0.9h-1.1zM117.8 19.7h0.9v1.3h-0.9zM116.1 11.6h1.7v1.3h-1.7zM112.7 13.0h0.9v1.1h-0.9zM113.6 10.1h1.3v1.3h-1.3zM116.1 10.2h1.1v1.3h-1.1zM112.5 9.9h1.7v0.9h-1.7zM114.8 12.0h0.9v0.9h-0.9zM113.7 7.7h1.7v1.3h-1.7zM112.9 10.9h1.3v1.1h-1.3zM114.9 8.7h0.9v1.3h-0.9zM118.5 14.3h1.3v1.1h-1.3zM119.8 14.1h1.7v0.9h-1.7zM110.2 9.3h1.1v1.3h-1.1zM115.8 8.7h0.9v1.1h-0.9zM116.3 10.9h1.3v0.9h-1.3zM114.8 11.3h1.1v0.9h-1.1zM114.6 10.1h1.3v1.3h-1.3zM119.0 4.2h0.9v0.9h-0.9zM120.1 11.3h0.9v0.9h-0.9zM114.9 8.6h1.7v0.9h-1.7zM115.9 14.8h1.1v1.1h-1.1zM111.3 9.7h1.1v1.1h-1.1zM115.8 15.0h0.9v1.1h-0.9zM116.1 12.6h0.9v1.3h-0.9zM115.5 18.0h1.3v0.9h-1.3zM115.9 14.3h1.7v1.1h-1.7zM117.6 13.2h1.1v0.9h-1.1zM116.3 9.0h1.3v0.9h-1.3zM115.4 13.2h1.7v0.9h-1.7zM117.7 7.3h1.3v1.3h-1.3zM120.3 9.9h1.3v1.1h-1.3zM117.1 8.8h1.3v0.9h-1.3zM116.6 15.7h1.1v1.1h-1.1zM118.5 11.5h0.9v1.3h-0.9zM116.4 6.1h1.7v1.1h-1.7zM112.7 8.6h0.9v1.1h-0.9zM116.6 8.9h0.9v1.3h-0.9zM100.1 22.9h1.7v1.3h-1.7zM108.7 26.0h0.9v1.3h-0.9zM101.7 18.8h1.7v0.9h-1.7zM103.0 25.4h1.7v1.3h-1.7zM105.2 19.0h0.9v0.9h-0.9zM106.7 27.3h0.9v1.3h-0.9zM103.4 14.0h1.1v1.1h-1.1zM97.8 19.4h1.1v0.9h-1.1zM102.8 23.7h1.7v1.1h-1.7zM104.6 29.0h1.1v0.9h-1.1zM100.5 26.3h1.1v1.1h-1.1zM99.7 26.0h1.1v1.3h-1.1zM102.5 20.1h1.3v1.1h-1.3zM98.6 22.3h1.3v1.1h-1.3zM100.8 27.3h1.7v1.1h-1.7zM99.4 19.5h1.3v0.9h-1.3zM99.4 24.1h1.3v0.9h-1.3zM104.6 25.0h1.7v0.9h-1.7zM103.9 23.8h0.9v0.9h-0.9zM101.3 24.5h1.3v1.3h-1.3zM99.9 14.0h1.3v0.9h-1.3zM98.6 27.5h1.1v0.9h-1.1zM103.4 17.0h0.9v0.9h-0.9zM108.9 19.3h1.1v1.1h-1.1zM105.1 25.1h1.7v0.9h-1.7zM103.2 18.1h0.9v0.9h-0.9zM103.8 21.8h1.3v0.9h-1.3zM106.6 22.3h1.7v1.3h-1.7zM100.5 24.2h1.7v1.3h-1.7zM107.7 22.3h1.1v1.3h-1.1zM98.5 11.7h1.1v0.9h-1.1zM102.1 32.0h1.7v1.1h-1.7zM106.0 20.8h1.1v0.9h-1.1zM102.7 16.0h1.7v1.3h-1.7zM101.1 22.8h0.9v1.1h-0.9zM96.7 23.8h1.1v1.1h-1.1zM102.0 14.3h0.9v1.1h-0.9zM101.2 12.9h1.3v1.3h-1.3zM103.5 12.7h1.7v1.3h-1.7zM101.8 17.5h1.3v1.3h-1.3zM101.7 26.3h0.9v1.1h-0.9zM102.0 18.9h0.9v0.9h-0.9zM105.0 16.0h0.9v1.1h-0.9zM104.8 21.9h1.1v1.1h-1.1zM99.8 21.6h1.1v1.3h-1.1zM106.2 15.3h0.9v0.9h-0.9zM104.8 24.5h1.3v1.1h-1.3zM107.1 27.6h1.1v1.3h-1.1zM99.8 28.8h0.9v0.9h-0.9zM101.7 20.9h1.1v0.9h-1.1zM102.2 25.8h1.3v1.3h-1.3zM104.8 22.2h1.7v0.9h-1.7zM105.3 11.9h1.3v1.1h-1.3zM106.7 20.4h1.1v1.1h-1.1zM100.2 22.4h1.7v1.1h-1.7zM100.0 17.8h1.7v1.3h-1.7zM104.4 18.6h0.9v1.1h-0.9zM100.7 26.3h1.1v1.3h-1.1zM98.2 18.7h1.1v1.1h-1.1zM97.5 17.1h1.1v0.9h-1.1zM100.5 18.9h0.9v1.3h-0.9zM108.1 18.9h0.9v1.3h-0.9zM103.7 24.7h0.9v0.9h-0.9zM105.0 29.6h1.7v1.3h-1.7zM98.2 28.0h0.9v0.9h-0.9zM105.1 16.7h1.7v1.3h-1.7zM101.5 24.4h0.9v0.9h-0.9zM105.0 21.8h1.7v0.9h-1.7zM99.5 23.4h1.7v0.9h-1.7zM179.8 3.4h0.9v0.9h-0.9zM170.3 8.3h1.7v1.3h-1.7zM181.8 5.6h1.1v1.1h-1.1zM173.7 4.9h0.9v1.3h-0.9zM171.4 -6.2h1.3v0.9h-1.3zM184.0 -1.2h1.3v1.1h-1.3zM184.6 5.9h1.3v0.9h-1.3zM178.5 3.7h1.7v1.1h-1.7zM169.3 -6.3h1.3v1.3h-1.3zM179.0 -8.1h0.9v1.1h-0.9zM179.0 3.3h1.3v0.9h-1.3zM185.6 -2.7h1.7v1.1h-1.7zM176.8 -1.1h0.9v0.9h-0.9zM175.9 -8.7h1.7v1.3h-1.7zM177.7 7.5h1.3v1.1h-1.3zM178.2 -0.0h1.7v1.1h-1.7zM181.6 0.4h1.7v0.9h-1.7zM184.5 -0.2h0.9v1.3h-0.9zM182.1 4.0h1.7v1.1h-1.7zM180.3 -6.7h1.7v1.3h-1.7zM184.8 0.7h1.3v0.9h-1.3zM174.9 -1.2h1.3v0.9h-1.3zM177.9 -4.2h0.9v0.9h-0.9zM179.3 -6.1h1.1v0.9h-1.1zM178.9 2.3h0.9v1.3h-0.9zM176.1 0.3h1.3v1.3h-1.3zM189.1 -4.7h1.3v1.3h-1.3zM180.0 -1.1h0.9v1.1h-0.9zM176.7 5.4h1.1v1.3h-1.1zM178.5 -7.3h1.7v1.3h-1.7zM179.4 -1.1h0.9v1.3h-0.9zM175.5 10.5h1.3v0.9h-1.3zM181.4 -0.1h1.7v1.3h-1.7zM176.9 -0.2h1.1v1.1h-1.1zM177.0 -7.4h1.7v1.3h-1.7zM176.4 -8.2h1.7v0.9h-1.7zM186.5 -1.5h1.1v1.3h-1.1zM171.2 -1.8h1.1v1.1h-1.1zM177.2 3.4h1.1v1.1h-1.1zM177.5 -1.2h1.7v0.9h-1.7zM174.8 4.2h1.7v1.1h-1.7zM179.3 4.7h1.3v0.9h-1.3zM187.5 -1.4h1.1v1.3h-1.1zM186.8 -5.9h0.9v0.9h-0.9zM182.0 3.0h0.9v1.3h-0.9zM178.2 -3.6h0.9v1.3h-0.9zM175.5 -2.1h1.3v1.1h-1.3zM180.1 -6.4h1.1v0.9h-1.1zM183.1 2.4h1.3v0.9h-1.3zM183.0 -0.4h1.3v1.3h-1.3zM177.0 -6.4h1.1v0.9h-1.1zM175.9 -1.5h0.9v0.9h-0.9zM181.0 -4.1h1.7v1.1h-1.7zM177.4 0.8h1.7v1.1h-1.7zM176.9 -1.2h1.1v0.9h-1.1zM188.4 1.0h1.3v1.3h-1.3zM177.7 -5.4h1.7v1.3h-1.7zM179.3 -3.3h0.9v1.1h-0.9zM180.7 -6.0h1.1v1.1h-1.1zM178.2 0.6h1.3v1.3h-1.3zM175.8 5.4h1.7v0.9h-1.7zM185.7 7.9h1.1v0.9h-1.1zM178.1 -0.3h1.1v1.1h-1.1zM183.8 -5.0h1.1v1.1h-1.1zM174.2 -6.4h1.1v1.1h-1.1zM177.7 8.2h1.1v0.9h-1.1zM175.0 -2.1h0.9v1.1h-0.9zM178.9 4.7h1.1v1.3h-1.1zM178.6 -5.2h1.1v1.3h-1.1zM184.1 -1.0h1.7v1.3h-1.7zM168.5 3.1h0.9v0.9h-0.9zM176.9 -7.3h1.7v0.9h-1.7zM178.4 -3.4h1.1v0.9h-1.1zM184.1 8.0h1.3v1.3h-1.3zM173.2 1.3h1.7v1.3h-1.7zM179.2 -0.2h0.9v1.1h-0.9zM178.1 -0.5h1.1v0.9h-1.1zM171.4 -0.1h1.7v0.9h-1.7zM175.2 -3.6h1.3v0.9h-1.3zM179.0 8.0h0.9v0.9h-0.9zM170.0 -2.0h1.1v0.9h-1.1zM172.1 2.7h1.1v1.3h-1.1zM178.0 -2.6h0.9v1.3h-0.9zM179.7 -4.6h1.1v1.3h-1.1zM175.0 2.6h0.9v1.1h-0.9zM176.2 2.6h1.1v1.3h-1.1zM177.5 -3.1h1.7v1.1h-1.7zM181.9 -0.1h1.1v1.3h-1.1zM184.7 -4.7h1.7v0.9h-1.7zM178.0 -3.6h1.7v1.1h-1.7zM187.7 -9.2h1.1v1.3h-1.1zM176.4 -4.3h1.7v1.3h-1.7zM175.0 -0.6h1.3v1.1h-1.3zM173.3 -12.3h1.1v1.3h-1.1zM188.3 2.9h1.1v1.3h-1.1zM174.4 -7.5h1.1v1.3h-1.1zM174.6 0.5h1.3v1.1h-1.3zM174.6 0.3h0.9v1.1h-0.9zM177.3 -4.2h1.3v1.1h-1.3zM179.8 -11.6h0.9v1.1h-0.9zM179.9 4.2h1.3v1.3h-1.3zM176.1 -5.8h1.1v0.9h-1.1zM176.5 -13.8h1.3v0.9h-1.3zM170.5 -5.1h1.1v1.3h-1.1zM171.2 -1.7h1.3v1.1h-1.3zM173.7 -14.2h1.3v1.3h-1.3zM175.4 -0.4h1.1v0.9h-1.1zM181.8 -0.5h1.7v0.9h-1.7zM176.7 1.5h1.1v1.3h-1.1zM181.6 9.2h1.7v1.1h-1.7zM180.3 -9.8h1.7v1.1h-1.7zM180.7 6.4h1.3v1.1h-1.3zM180.5 1.7h0.9v1.3h-0.9zM171.2 -11.3h0.9v0.9h-0.9zM178.9 0.7h1.1v1.1h-1.1zM185.4 0.8h1.3v0.9h-1.3zM188.1 -5.6h1.1v0.9h-1.1zM177.0 2.9h1.7v0.9h-1.7zM169.3 3.6h1.3v0.9h-1.3zM173.5 6.1h1.1v1.3h-1.1zM175.4 1.3h1.7v1.1h-1.7zM183.5 0.7h0.9v1.3h-0.9zM189.1 -9.2h0.9v1.3h-0.9zM181.9 -11.8h1.7v1.1h-1.7zM188.1 -9.6h1.3v1.3h-1.3zM185.9 -9.2h0.9v1.1h-0.9zM192.7 -7.8h1.1v1.1h-1.1zM185.2 -10.6h1.7v0.9h-1.7zM182.2 -9.9h1.1v0.9h-1.1zM186.6 -10.6h0.9v1.3h-0.9zM186.7 -7.3h1.1v1.3h-1.1zM185.8 -8.4h1.7v0.9h-1.7zM190.7 -9.6h1.1v1.3h-1.1zM189.6 -9.9h1.3v1.3h-1.3zM185.6 -11.4h1.3v1.1h-1.3zM191.3 -9.8h1.1v1.3h-1.1zM191.6 -10.1h1.7v1.1h-1.7zM186.5 -9.7h1.7v1.1h-1.7zM185.5 -10.2h0.9v1.3h-0.9zM192.1 -10.1h1.7v1.3h-1.7zM189.1 -12.4h1.3v1.1h-1.3zM189.3 -11.7h0.9v1.1h-0.9zM190.2 -9.9h1.7v1.3h-1.7zM191.0 -9.8h0.9v0.9h-0.9zM188.9 -9.2h1.3v1.1h-1.3zM186.4 -8.3h1.1v1.1h-1.1zM190.3 -9.9h1.7v0.9h-1.7zM183.6 -9.8h1.1v1.3h-1.1zM190.4 -8.4h0.9v0.9h-0.9zM187.5 -8.1h1.3v1.3h-1.3zM188.8 -8.2h0.9v0.9h-0.9zM186.9 -8.5h0.9v0.9h-0.9zM186.5 -8.1h0.9v0.9h-0.9zM186.5 -8.1h1.1v1.1h-1.1zM189.3 -6.9h0.9v1.3h-0.9zM196.6 -3.2h0.9v1.3h-0.9zM195.0 -0.6h1.3v1.3h-1.3zM196.3 -4.9h1.1v0.9h-1.1zM198.3 -6.4h1.1v0.9h-1.1zM197.7 -6.5h1.3v1.1h-1.3zM194.9 -5.1h0.9v1.1h-0.9zM193.2 -5.7h0.9v0.9h-0.9zM194.7 -5.4h1.7v1.1h-1.7zM195.8 -0.5h1.7v1.3h-1.7zM193.6 0.7h1.3v0.9h-1.3zM194.1 -2.4h1.1v1.1h-1.1zM195.2 -3.6h1.7v1.3h-1.7zM192.7 -0.4h1.1v1.3h-1.1zM192.5 -2.5h1.3v0.9h-1.3zM196.8 -2.7h0.9v1.1h-0.9zM193.2 -5.5h1.7v0.9h-1.7zM193.4 -4.1h1.7v0.9h-1.7zM194.9 -6.8h1.1v1.1h-1.1zM197.4 -2.3h1.7v1.3h-1.7zM193.9 -3.7h1.3v1.3h-1.3zM195.8 -3.9h1.1v0.9h-1.1zM191.2 -6.6h0.9v0.9h-0.9zM189.1 10.4h1.7v1.1h-1.7zM189.9 10.9h1.3v1.1h-1.3zM190.7 6.4h1.7v1.1h-1.7zM150.0 -8.9h1.7v1.1h-1.7zM145.1 -10.8h0.9v0.9h-0.9zM149.3 -13.5h1.3v1.1h-1.3zM151.2 -8.2h1.7v0.9h-1.7zM148.5 -10.6h1.1v0.9h-1.1zM150.4 -9.7h1.7v1.1h-1.7zM150.2 -9.0h1.1v1.1h-1.1zM146.9 -8.9h1.7v1.3h-1.7zM149.2 -11.4h1.1v1.1h-1.1zM146.1 -10.8h0.9v1.1h-0.9zM146.4 -9.2h1.3v0.9h-1.3zM148.8 -10.8h1.7v1.3h-1.7zM149.7 -8.8h1.7v1.3h-1.7zM180.9 23.6h1.1v1.1h-1.1zM182.3 23.6h1.7v0.9h-1.7zM181.4 23.5h1.7v0.9h-1.7zM196.7 18.4h1.7v0.9h-1.7zM197.0 17.4h1.3v0.9h-1.3zM197.0 16.6h1.1v0.9h-1.1zM149.8 -28.6h0.9v1.1h-0.9zM151.5 -30.5h1.7v1.1h-1.7zM148.6 -29.8h1.3v0.9h-1.3zM151.3 -28.6h1.1v0.9h-1.1zM150.3 -29.4h1.3v0.9h-1.3zM154.9 -30.4h0.9v0.9h-0.9zM156.8 -29.6h0.9v1.3h-0.9zM155.0 -30.6h1.7v1.3h-1.7zM156.2 -29.5h1.7v1.3h-1.7zM160.4 -29.3h0.9v1.1h-0.9zM158.7 -29.3h0.9v1.3h-0.9zM150.2 -30.4h1.7v1.3h-1.7zM191.6 -44.3h1.7v1.1h-1.7zM195.1 -43.9h1.1v1.1h-1.1zM189.0 -42.1h0.9v0.9h-0.9zM191.6 -45.1h0.9v1.3h-0.9zM186.6 -43.0h1.3v0.9h-1.3zM192.7 -44.4h0.9v0.9h-0.9zM186.1 -43.7h0.9v1.3h-0.9zM190.0 -43.6h1.7v1.3h-1.7zM189.3 -41.8h0.9v1.3h-0.9zM195.1 -43.2h0.9v1.3h-0.9zM197.5 -42.8h1.7v0.9h-1.7zM186.6 -43.8h1.1v0.9h-1.1zM188.1 -40.3h1.3v0.9h-1.3zM189.1 -44.5h1.7v1.1h-1.7zM191.6 -43.3h1.7v1.3h-1.7zM184.5 -42.0h0.9v0.9h-0.9zM193.4 -45.8h1.1v0.9h-1.1zM192.8 -43.0h0.9v1.3h-0.9zM193.5 -42.6h0.9v1.1h-0.9zM196.2 -43.6h1.7v1.3h-1.7zM196.0 -44.9h1.3v0.9h-1.3zM194.2 -38.2h1.3v1.3h-1.3zM196.1 -41.6h1.3v0.9h-1.3zM198.3 -39.8h1.1v0.9h-1.1zM195.5 -41.6h0.9v1.1h-0.9zM197.2 -41.7h1.3v1.1h-1.3zM197.5 -41.9h1.1v0.9h-1.1zM195.4 -42.4h0.9v0.9h-0.9zM193.2 -41.1h1.1v1.1h-1.1zM196.4 -40.6h0.9v1.3h-0.9zM194.7 -41.3h1.7v1.3h-1.7zM192.3 -32.1h0.9v0.9h-0.9zM199.8 -34.2h1.3v0.9h-1.3zM194.4 -33.4h1.7v1.1h-1.7zM191.8 -32.1h1.3v1.1h-1.3zM194.8 -31.7h1.1v1.3h-1.1zM196.1 -34.0h1.7v1.1h-1.7zM192.3 -31.8h1.3v1.1h-1.3zM192.0 -33.3h0.9v1.3h-0.9zM193.3 -35.8h1.3v0.9h-1.3zM191.8 -32.9h1.3v1.3h-1.3zM188.6 -30.7h1.3v0.9h-1.3zM198.3 -31.4h1.3v1.1h-1.3zM194.6 -32.9h1.7v0.9h-1.7zM190.5 -32.4h1.1v1.1h-1.1zM187.8 -31.2h0.9v0.9h-0.9zM187.4 -31.5h1.7v0.9h-1.7zM195.4 -34.7h1.7v1.1h-1.7zM199.8 -32.9h0.9v0.9h-0.9zM191.3 -33.8h1.7v0.9h-1.7zM197.4 -34.3h1.1v1.1h-1.1zM201.1 -33.5h0.9v1.3h-0.9zM185.7 -32.8h1.7v1.3h-1.7zM193.3 -33.1h0.9v1.3h-0.9zM187.9 -35.7h1.7v1.3h-1.7zM190.9 -33.0h0.9v1.1h-0.9zM191.1 -33.3h0.9v1.3h-0.9zM185.1 -34.8h1.1v0.9h-1.1zM190.4 -34.7h0.9v1.3h-0.9zM196.4 -31.0h1.3v1.3h-1.3zM194.8 -32.5h0.9v1.3h-0.9zM194.9 -34.4h1.7v1.1h-1.7zM197.8 -34.0h0.9v1.1h-0.9zM192.6 -32.2h1.1v1.3h-1.1zM206.3 -45.0h1.1v1.1h-1.1zM204.3 -43.1h1.3v0.9h-1.3zM203.9 -41.1h1.3v1.1h-1.3zM202.0 -42.8h1.1v0.9h-1.1zM211.9 -43.7h1.7v1.3h-1.7zM205.2 -44.1h1.3v1.1h-1.3zM205.7 -43.2h1.3v0.9h-1.3zM215.7 -42.1h1.7v0.9h-1.7zM207.4 -43.9h1.3v0.9h-1.3zM210.9 -43.2h1.7v0.9h-1.7zM208.2 -44.6h1.1v1.1h-1.1zM211.0 -43.2h1.1v1.3h-1.1zM208.0 -44.9h1.3v1.1h-1.3zM209.9 -43.4h1.1v1.1h-1.1zM207.6 -42.8h1.7v1.1h-1.7zM206.7 -43.5h1.3v1.1h-1.3zM210.2 -43.0h1.3v0.9h-1.3zM213.1 -44.8h0.9v1.1h-0.9zM206.3 -43.7h0.9v1.1h-0.9zM211.8 -44.3h1.7v1.1h-1.7zM203.6 -43.7h0.9v1.1h-0.9zM208.2 -44.3h0.9v1.3h-0.9zM210.3 -44.5h1.1v0.9h-1.1zM209.9 -44.7h1.3v0.9h-1.3zM206.5 -43.9h1.3v1.3h-1.3zM208.6 -44.2h1.3v1.1h-1.3zM207.7 -43.3h1.7v0.9h-1.7zM209.1 -43.8h1.1v1.1h-1.1zM209.1 -42.5h1.3v1.3h-1.3zM208.3 -42.7h1.3v1.3h-1.3zM217.0 -41.5h1.7v1.1h-1.7zM208.9 -42.6h1.1v1.1h-1.1zM212.7 -42.1h1.3v1.1h-1.3zM207.1 -42.4h1.1v1.3h-1.1zM207.9 -42.7h0.9v1.3h-0.9zM213.0 -42.5h0.9v1.1h-0.9zM218.6 -42.2h0.9v1.3h-0.9zM211.9 -45.4h1.7v1.3h-1.7zM205.6 -42.9h1.3v0.9h-1.3zM216.7 -43.6h0.9v1.1h-0.9zM207.2 -42.9h0.9v0.9h-0.9zM210.2 -43.0h1.7v1.1h-1.7zM207.9 -44.8h1.1v0.9h-1.1zM206.3 -43.1h1.7v0.9h-1.7zM218.0 -41.6h1.1v1.1h-1.1zM210.2 -41.8h1.7v0.9h-1.7zM210.8 -44.6h1.3v0.9h-1.3zM202.4 -43.2h1.1v1.1h-1.1zM208.5 -41.6h1.7v1.1h-1.7zM207.1 -43.1h0.9v1.3h-0.9zM201.1 -44.2h1.1v1.1h-1.1zM205.3 -42.3h0.9v1.3h-0.9zM202.5 -44.1h0.9v0.9h-0.9zM205.0 -42.9h1.1v0.9h-1.1zM214.1 -42.8h1.1v1.1h-1.1zM207.0 -43.6h1.1v1.1h-1.1zM216.2 -44.4h1.7v0.9h-1.7zM205.8 -44.3h1.7v0.9h-1.7zM209.2 -43.8h1.3v0.9h-1.3zM216.9 -44.9h0.9v1.1h-0.9zM207.3 -33.1h1.3v0.9h-1.3zM206.3 -33.3h1.7v1.3h-1.7zM206.0 -34.2h1.7v1.1h-1.7zM207.6 -32.8h1.7v1.1h-1.7zM207.8 -32.8h1.3v1.3h-1.3zM209.1 -32.8h1.7v0.9h-1.7zM208.0 -33.5h1.7v0.9h-1.7zM207.2 -32.4h1.3v1.3h-1.3zM207.1 -32.5h0.9v0.9h-0.9zM206.5 -32.7h1.1v0.9h-1.1zM212.2 -30.7h1.3v1.1h-1.3zM215.2 -30.6h1.1v1.1h-1.1zM212.7 -30.6h1.7v1.1h-1.7zM213.1 -30.7h1.7v1.1h-1.7zM210.8 -30.0h1.3v1.3h-1.3zM213.5 -30.6h1.3v1.1h-1.3zM213.1 -29.7h1.1v1.1h-1.1zM202.0 -37.2h0.9v1.3h-0.9zM201.5 -34.8h1.1v1.3h-1.1zM202.4 -36.3h0.9v1.3h-0.9zM203.5 -36.4h0.9v1.3h-0.9zM202.3 -33.8h0.9v0.9h-0.9zM197.4 -33.0h0.9v1.3h-0.9zM198.3 -34.4h0.9v0.9h-0.9zM197.7 -32.7h1.3v0.9h-1.3zM195.0 -33.4h0.9v1.3h-0.9zM197.3 -32.1h1.7v0.9h-1.7zM196.9 -34.8h1.1v1.3h-1.1zM258.7 -44.7h1.1v1.1h-1.1zM254.1 -47.2h1.3v1.1h-1.3zM258.1 -40.3h0.9v0.9h-0.9zM255.1 -46.3h0.9v0.9h-0.9zM254.8 -42.1h1.7v1.1h-1.7zM259.2 -47.8h0.9v1.1h-0.9zM257.4 -44.3h1.7v0.9h-1.7zM263.6 -45.4h1.3v1.3h-1.3zM264.0 -43.6h1.1v0.9h-1.1zM257.7 -45.9h0.9v1.3h-0.9zM259.1 -47.0h0.9v1.1h-0.9zM262.5 -45.7h1.7v1.3h-1.7zM253.3 -45.7h0.9v0.9h-0.9zM263.8 -44.0h0.9v1.1h-0.9zM262.6 -43.6h1.7v1.3h-1.7zM255.7 -43.8h1.3v0.9h-1.3zM258.6 -45.5h0.9v0.9h-0.9zM258.3 -48.9h0.9v1.3h-0.9zM251.4 -41.9h1.7v1.3h-1.7zM263.3 -44.1h1.7v1.1h-1.7zM260.4 -45.9h1.1v0.9h-1.1zM257.6 -42.0h1.1v1.1h-1.1zM256.8 -42.2h1.1v0.9h-1.1zM255.0 -41.7h0.9v1.3h-0.9zM265.3 -41.7h1.1v0.9h-1.1zM262.5 -46.4h1.7v0.9h-1.7zM251.0 -42.6h1.7v0.9h-1.7zM263.5 -43.1h1.1v1.3h-1.1zM256.9 -44.8h0.9v1.3h-0.9zM263.6 -47.0h0.9v1.1h-0.9zM264.2 -46.2h1.7v1.3h-1.7zM256.9 -45.1h0.9v1.1h-0.9zM256.2 -44.5h0.9v0.9h-0.9zM253.6 -47.9h0.9v0.9h-0.9zM253.4 -46.5h0.9v1.1h-0.9zM268.7 -46.4h1.3v1.3h-1.3zM256.6 -46.2h0.9v0.9h-0.9zM253.3 -45.6h1.3v1.3h-1.3zM261.5 -43.8h1.1v1.3h-1.1zM260.1 -46.8h1.3v1.1h-1.3zM253.8 -43.5h1.7v1.1h-1.7zM243.4 -43.2h1.3v1.3h-1.3zM246.8 -43.2h1.3v0.9h-1.3zM245.1 -44.4h1.7v1.1h-1.7zM246.5 -45.5h1.1v1.1h-1.1zM244.9 -44.7h1.7v1.1h-1.7zM247.2 -42.4h1.3v0.9h-1.3zM243.0 -44.2h1.7v1.1h-1.7zM243.2 -44.5h1.3v1.1h-1.3zM247.0 -43.3h1.1v1.1h-1.1zM250.7 -45.4h1.7v1.3h-1.7zM252.2 -56.2h1.7v1.1h-1.7zM254.5 -57.5h1.3v1.3h-1.3zM251.7 -56.4h1.3v1.3h-1.3zM257.8 -57.4h1.1v1.3h-1.1zM252.4 -56.5h1.7v0.9h-1.7zM254.9 -56.7h1.3v1.3h-1.3zM256.1 -55.1h0.9v1.3h-0.9zM252.8 -57.7h1.3v1.3h-1.3zM251.8 -56.5h1.3v1.1h-1.3zM241.7 -21.6h1.3v1.1h-1.3zM240.3 -21.5h1.3v1.1h-1.3zM256.6 -25.1h1.7v1.1h-1.7zM256.6 -26.7h1.7v0.9h-1.7zM256.3 -24.9h1.3v1.3h-1.3zM259.8 21.4h1.3v1.1h-1.3zM258.4 19.8h1.1v1.3h-1.1zM260.6 20.2h1.7v0.9h-1.7z"/><path fill="#9a5a0c" d="M61.4 -28.4h1.3v1.3h-1.3zM55.5 -34.7h1.1v1.1h-1.1zM60.2 -34.6h0.9v0.9h-0.9zM54.1 -27.1h0.9v1.1h-0.9zM63.2 -32.6h1.7v1.3h-1.7zM67.4 -31.5h1.3v1.1h-1.3zM62.0 -38.3h1.1v1.1h-1.1zM57.0 -31.1h1.1v1.3h-1.1zM54.9 -36.6h0.9v1.3h-0.9zM60.8 -30.1h0.9v1.3h-0.9zM52.9 -29.4h0.9v0.9h-0.9zM62.5 -32.3h0.9v0.9h-0.9zM58.0 -28.1h1.3v1.3h-1.3zM63.3 -28.8h1.7v1.3h-1.7zM65.5 -25.5h1.3v1.3h-1.3zM58.2 -32.5h0.9v1.1h-0.9zM58.9 -57.0h1.7v0.9h-1.7zM58.9 -57.2h1.1v1.1h-1.1zM58.3 -56.6h1.3v0.9h-1.3zM95.3 -7.2h0.9v1.3h-0.9zM95.0 -3.3h1.3v0.9h-1.3zM96.6 -6.0h0.9v1.1h-0.9zM94.2 -4.7h1.1v0.9h-1.1zM92.4 -6.8h1.7v1.3h-1.7zM117.5 13.2h0.9v0.9h-0.9zM116.6 9.4h1.7v0.9h-1.7zM117.8 10.9h1.3v1.1h-1.3zM113.0 13.0h1.7v1.1h-1.7zM110.5 11.9h1.7v1.3h-1.7zM116.5 12.3h0.9v1.3h-0.9zM118.9 11.5h1.1v1.1h-1.1zM115.9 11.6h0.9v1.3h-0.9zM114.0 4.3h0.9v1.1h-0.9zM110.4 14.1h0.9v1.3h-0.9zM119.2 12.5h1.3v0.9h-1.3zM115.1 12.4h0.9v1.3h-0.9zM101.2 31.4h1.3v1.3h-1.3zM108.2 21.2h1.3v0.9h-1.3zM100.2 24.0h0.9v1.1h-0.9zM106.4 18.4h1.3v0.9h-1.3zM98.0 20.2h1.7v0.9h-1.7zM104.5 22.8h0.9v0.9h-0.9zM99.8 27.3h0.9v0.9h-0.9zM107.0 14.4h1.3v0.9h-1.3zM106.0 31.6h1.7v1.3h-1.7zM103.9 22.8h1.1v0.9h-1.1zM99.5 22.5h1.3v0.9h-1.3zM107.8 19.3h1.1v1.1h-1.1zM103.9 21.2h1.7v0.9h-1.7zM101.6 16.7h1.1v0.9h-1.1zM99.7 25.3h1.3v0.9h-1.3zM104.0 22.0h1.7v0.9h-1.7zM104.1 24.2h1.7v1.1h-1.7zM98.0 22.8h0.9v1.3h-0.9zM101.3 26.5h1.7v1.1h-1.7zM177.4 6.4h1.3v1.3h-1.3zM179.9 6.6h1.1v1.3h-1.1zM181.5 0.5h1.3v1.1h-1.3zM176.1 -7.9h1.1v1.3h-1.1zM179.1 -1.5h1.3v1.3h-1.3zM173.8 -0.7h1.3v1.3h-1.3zM183.0 -9.9h1.7v1.3h-1.7zM181.7 -2.4h1.1v0.9h-1.1zM187.9 -2.3h1.3v1.1h-1.3zM184.3 -4.8h1.7v1.1h-1.7zM185.6 0.9h0.9v0.9h-0.9zM180.1 -2.9h1.1v1.1h-1.1zM173.9 5.7h1.3v0.9h-1.3zM173.4 -6.5h1.7v1.1h-1.7zM175.0 -1.9h1.3v1.1h-1.3zM170.4 -2.0h1.1v1.3h-1.1zM183.5 0.2h0.9v1.3h-0.9zM170.9 2.8h1.7v0.9h-1.7zM171.2 8.8h1.7v1.3h-1.7zM171.5 0.2h1.1v1.1h-1.1zM186.0 0.6h0.9v0.9h-0.9zM176.7 0.2h1.7v0.9h-1.7zM171.5 -4.4h1.3v1.3h-1.3zM179.6 -7.8h1.1v1.3h-1.1zM176.2 2.6h1.3v0.9h-1.3zM178.6 4.7h1.7v1.3h-1.7zM177.4 -5.3h1.3v1.1h-1.3zM179.6 5.3h1.1v1.3h-1.1zM176.0 -6.3h0.9v1.1h-0.9zM175.3 1.3h1.1v1.3h-1.1zM181.2 -6.7h1.3v1.1h-1.3zM183.8 -7.2h1.3v1.3h-1.3zM178.5 -12.0h0.9v0.9h-0.9zM184.9 -8.8h0.9v0.9h-0.9zM184.7 -9.3h1.3v1.1h-1.3zM185.5 -10.6h1.7v1.1h-1.7zM187.5 -9.2h1.3v0.9h-1.3zM183.4 -11.3h1.1v1.3h-1.1zM185.2 -9.8h1.1v1.1h-1.1zM190.0 -12.7h1.1v1.1h-1.1zM192.0 -11.1h0.9v1.3h-0.9zM196.8 -5.0h1.7v1.3h-1.7zM195.5 -8.1h1.1v0.9h-1.1zM193.2 -1.4h1.1v0.9h-1.1zM194.8 -4.9h0.9v0.9h-0.9zM149.2 -13.5h1.7v1.1h-1.7zM181.3 23.7h0.9v1.1h-0.9zM197.6 16.0h1.3v1.3h-1.3zM196.8 17.3h1.1v0.9h-1.1zM149.2 -28.2h1.7v1.3h-1.7zM150.9 -29.7h0.9v1.1h-0.9zM195.9 -44.0h1.7v0.9h-1.7zM191.9 -44.3h0.9v0.9h-0.9zM185.8 -42.9h1.7v0.9h-1.7zM191.8 -42.8h1.7v1.3h-1.7zM190.5 -40.7h1.1v1.1h-1.1zM192.0 -44.7h1.1v1.1h-1.1zM191.4 -43.9h1.7v1.1h-1.7zM187.0 -42.2h1.1v0.9h-1.1zM189.0 -42.6h1.7v1.1h-1.7zM193.0 -38.4h1.1v0.9h-1.1zM197.9 -40.5h1.3v1.3h-1.3zM194.1 -40.9h1.7v1.3h-1.7zM197.7 -41.7h0.9v0.9h-0.9zM190.9 -32.2h1.7v1.3h-1.7zM192.1 -33.5h1.7v0.9h-1.7zM199.3 -32.5h0.9v0.9h-0.9zM191.1 -34.6h1.7v0.9h-1.7zM207.0 -42.4h1.7v1.3h-1.7zM216.9 -43.6h1.1v1.3h-1.1zM205.9 -43.3h1.3v1.3h-1.3zM206.6 -43.6h1.3v1.3h-1.3zM206.3 -43.9h0.9v0.9h-0.9zM213.1 -43.7h1.1v0.9h-1.1zM210.5 -43.0h1.1v0.9h-1.1zM201.9 -43.5h1.1v1.3h-1.1zM219.8 -43.4h0.9v1.1h-0.9zM206.4 -43.2h1.1v1.1h-1.1zM209.7 -43.1h1.3v0.9h-1.3zM214.2 -30.6h0.9v0.9h-0.9zM214.3 -30.7h0.9v1.1h-0.9zM211.4 -30.7h0.9v1.1h-0.9zM213.7 -29.6h1.1v1.1h-1.1zM213.5 -29.9h0.9v1.1h-0.9zM202.2 -35.7h1.7v1.3h-1.7zM198.1 -32.5h0.9v0.9h-0.9zM264.5 -42.0h1.3v1.1h-1.3zM259.9 -43.8h1.7v1.3h-1.7zM252.9 -45.7h1.7v1.1h-1.7zM250.7 -47.1h0.9v1.1h-0.9zM258.5 -45.3h1.1v1.1h-1.1zM266.5 -44.3h1.7v1.1h-1.7zM258.0 -46.4h1.1v1.1h-1.1zM255.4 -47.3h0.9v1.1h-0.9zM263.8 -42.1h1.1v1.1h-1.1zM260.1 -45.6h0.9v0.9h-0.9zM256.4 -44.0h0.9v1.3h-0.9zM253.5 -43.7h1.1v1.3h-1.1zM263.5 -42.8h1.3v0.9h-1.3zM264.1 -44.8h1.1v1.3h-1.1zM257.4 -45.8h1.1v1.1h-1.1zM249.6 -46.1h1.1v1.1h-1.1zM255.1 -55.8h1.3v1.3h-1.3zM256.4 -26.1h1.1v0.9h-1.1zM259.0 -25.7h1.1v0.9h-1.1zM259.5 21.7h1.1v0.9h-1.1z"/><path fill="#a55f0c" d="M63.8 -31.1h1.7v1.1h-1.7zM63.4 -28.9h1.7v0.9h-1.7zM62.8 -31.1h0.9v1.3h-0.9zM65.3 -30.5h1.7v1.1h-1.7zM62.7 -32.3h1.1v1.1h-1.1zM60.7 -30.7h1.1v1.3h-1.1zM65.0 -31.8h0.9v1.1h-0.9zM63.9 -29.4h0.9v1.1h-0.9zM63.6 -29.3h0.9v0.9h-0.9zM60.5 -31.0h0.9v1.3h-0.9zM61.5 -31.9h1.7v1.3h-1.7zM64.4 -33.5h1.3v1.1h-1.3zM60.8 -32.2h0.9v0.9h-0.9zM65.5 -30.4h1.1v1.3h-1.1zM64.4 -30.9h1.3v1.3h-1.3zM175.3 0.7h1.3v1.1h-1.3zM177.6 1.4h1.1v1.3h-1.1zM178.6 2.4h0.9v1.1h-0.9zM176.8 2.6h1.3v1.3h-1.3zM177.8 1.9h0.9v0.9h-0.9zM175.1 -0.9h1.3v0.9h-1.3zM180.0 -2.8h1.7v1.1h-1.7zM177.0 2.0h1.7v1.3h-1.7zM179.1 0.2h1.3v1.3h-1.3zM177.5 4.7h0.9v1.1h-0.9zM176.0 -1.0h1.3v1.1h-1.3zM179.3 0.0h0.9v1.3h-0.9zM178.8 5.7h0.9v1.3h-0.9zM177.1 -6.9h1.3v1.3h-1.3zM174.1 -1.6h1.3v1.1h-1.3zM179.2 -7.0h1.7v1.1h-1.7zM172.6 -0.9h1.7v1.1h-1.7zM180.1 -2.5h0.9v1.1h-0.9zM178.6 -0.9h1.7v0.9h-1.7zM175.7 -1.5h1.7v1.1h-1.7zM179.2 1.7h1.3v1.1h-1.3zM180.7 -0.4h1.3v1.3h-1.3zM177.1 -0.9h1.3v0.9h-1.3zM177.9 0.1h1.3v0.9h-1.3zM179.4 -0.1h0.9v1.1h-0.9zM177.9 -2.2h1.1v0.9h-1.1zM178.0 0.3h1.3v0.9h-1.3zM177.5 -1.3h1.1v1.1h-1.1zM178.0 3.4h1.3v1.1h-1.3zM175.7 -3.4h1.7v1.3h-1.7zM179.4 0.4h1.3v1.1h-1.3zM177.5 -5.9h1.3v0.9h-1.3zM176.0 -2.3h1.7v0.9h-1.7zM177.4 1.1h1.7v0.9h-1.7zM177.9 -2.6h1.1v1.3h-1.1zM176.1 -1.2h1.3v1.3h-1.3zM176.3 2.1h1.3v1.3h-1.3z"/><path fill="#8a4a0a" d="M64.0 -32.0h0.9v0.9h-0.9zM62.4 -31.0h0.9v1.1h-0.9zM65.8 -29.5h1.1v1.1h-1.1zM60.3 -31.2h0.9v0.9h-0.9zM64.8 -31.9h1.7v1.3h-1.7zM61.7 -28.5h0.9v1.3h-0.9zM61.8 -32.3h1.1v1.3h-1.1zM62.4 -31.0h1.7v1.3h-1.7zM178.7 -0.4h0.9v1.1h-0.9zM178.7 0.7h0.9v1.3h-0.9zM178.1 -5.0h1.3v1.3h-1.3zM175.8 -1.2h1.1v0.9h-1.1zM175.7 -1.6h1.1v0.9h-1.1zM175.9 1.8h1.3v1.1h-1.3zM177.8 2.3h1.1v0.9h-1.1zM176.8 1.6h1.3v1.3h-1.3zM173.1 1.4h0.9v1.3h-0.9zM179.3 0.7h1.1v1.1h-1.1zM175.9 0.4h1.7v1.1h-1.7zM177.7 4.9h1.3v1.3h-1.3zM180.1 -1.2h1.1v0.9h-1.1zM179.0 4.7h1.1v1.3h-1.1zM174.4 -4.8h0.9v1.3h-0.9zM180.2 -0.7h1.1v1.3h-1.1zM179.6 -4.3h0.9v0.9h-0.9zM173.4 -5.4h1.1v0.9h-1.1zM178.1 -1.1h1.1v1.1h-1.1zM177.0 -2.4h1.3v0.9h-1.3z"/><path fill="#ecc378" d="M76.3 -56.8h1.1v1.3h-1.1zM74.4 -57.0h1.1v0.9h-1.1zM75.6 -58.0h1.1v1.3h-1.1zM75.3 -57.8h0.9v0.9h-0.9zM75.1 -57.1h1.3v1.3h-1.3zM90.7 -52.2h1.3v0.9h-1.3zM91.6 -53.0h1.7v1.1h-1.7zM91.6 -53.2h1.1v1.1h-1.1zM63.0 -57.3h1.3v1.1h-1.3zM73.9 -45.5h1.7v1.3h-1.7zM89.8 -54.8h0.9v1.1h-0.9zM86.3 -45.6h1.7v0.9h-1.7zM70.7 -52.1h1.3v1.3h-1.3zM50.9 -51.8h1.1v1.3h-1.1zM89.2 -51.5h1.3v1.1h-1.3zM81.0 -46.3h1.3v1.3h-1.3zM74.3 -51.5h1.1v1.1h-1.1zM80.5 -42.4h1.1v1.3h-1.1zM77.5 -49.9h1.1v1.1h-1.1zM60.1 -52.5h1.1v1.1h-1.1zM21.5 -58.6h1.1v1.1h-1.1zM102.7 26.5h1.3v0.9h-1.3zM99.9 23.7h1.1v1.1h-1.1zM102.4 22.2h1.7v1.1h-1.7zM103.8 22.5h1.1v1.1h-1.1zM103.6 24.5h1.1v0.9h-1.1zM103.3 21.7h1.7v1.1h-1.7zM161.0 -7.8h1.3v1.3h-1.3zM160.8 -9.1h1.1v0.9h-1.1zM167.0 -7.6h1.1v0.9h-1.1zM155.2 -9.3h1.1v0.9h-1.1zM159.1 -8.0h1.7v1.1h-1.7zM158.6 -7.1h1.1v1.1h-1.1zM160.1 -8.7h1.3v0.9h-1.3zM160.5 -9.1h0.9v1.3h-0.9zM174.7 27.7h1.3v1.1h-1.3zM164.4 -32.6h1.1v0.9h-1.1zM171.4 -41.3h1.3v1.1h-1.3zM168.6 -39.6h1.7v0.9h-1.7zM172.4 -43.3h0.9v1.3h-0.9zM160.8 -41.7h1.7v1.1h-1.7zM167.8 -41.2h0.9v0.9h-0.9zM170.4 -41.0h1.7v0.9h-1.7zM169.9 -47.1h1.3v0.9h-1.3zM176.1 -41.7h1.7v1.1h-1.7zM172.4 -42.8h1.7v1.1h-1.7zM165.5 -42.7h0.9v0.9h-0.9zM167.2 -41.0h0.9v0.9h-0.9zM168.1 -43.0h1.7v1.1h-1.7zM177.2 -42.6h1.7v1.1h-1.7zM167.4 -41.3h1.1v1.1h-1.1zM164.5 -43.5h1.1v1.1h-1.1zM163.9 -40.3h1.1v0.9h-1.1zM173.4 -41.3h0.9v0.9h-0.9zM166.3 -43.4h1.1v1.1h-1.1zM172.3 -41.4h1.1v1.3h-1.1zM161.9 -42.7h1.7v0.9h-1.7zM166.1 -43.1h1.1v0.9h-1.1zM173.0 -43.2h1.7v1.1h-1.7zM172.2 -43.7h1.7v0.9h-1.7zM168.7 -43.2h1.1v0.9h-1.1zM166.7 -42.7h1.1v0.9h-1.1zM211.0 -49.5h1.1v1.3h-1.1zM211.8 -51.3h1.3v1.1h-1.3zM214.3 -50.8h1.7v1.3h-1.7zM213.9 -49.9h1.3v1.1h-1.3zM213.4 -48.2h1.7v1.3h-1.7zM234.5 -44.4h1.1v1.3h-1.1zM229.4 -43.0h1.3v0.9h-1.3zM226.1 -43.6h0.9v0.9h-0.9zM229.4 -44.0h1.1v0.9h-1.1zM233.1 -43.8h1.7v0.9h-1.7zM225.3 -42.3h1.3v1.1h-1.3zM213.0 -53.1h1.3v1.3h-1.3zM212.7 -52.8h1.7v0.9h-1.7zM263.8 -32.4h1.3v0.9h-1.3zM266.8 -32.6h1.1v0.9h-1.1zM264.9 -34.0h1.3v1.3h-1.3zM265.8 -33.0h1.3v0.9h-1.3zM262.8 -52.3h1.7v1.1h-1.7zM263.0 -54.0h0.9v1.1h-0.9zM270.8 -62.2h1.1v1.1h-1.1zM260.5 -56.3h1.3v0.9h-1.3zM256.2 -51.1h1.3v1.3h-1.3zM240.5 -53.9h0.9v0.9h-0.9zM286.9 -51.8h1.1v0.9h-1.1zM264.8 -53.0h1.1v0.9h-1.1zM276.7 25.4h1.3v1.1h-1.3zM271.9 21.2h1.1v0.9h-1.1zM274.8 19.4h1.3v1.3h-1.3zM281.6 27.1h1.1v1.1h-1.1zM279.4 20.9h0.9v0.9h-0.9zM277.8 22.3h1.1v1.3h-1.1zM284.0 26.3h0.9v1.3h-0.9zM280.1 21.5h1.3v1.3h-1.3zM279.6 19.7h1.7v1.3h-1.7zM283.6 24.2h1.1v1.1h-1.1zM278.3 23.7h1.3v1.1h-1.3zM277.2 20.4h1.1v1.1h-1.1zM277.6 23.8h1.1v1.1h-1.1zM279.1 27.1h0.9v1.1h-0.9zM281.0 22.6h1.3v0.9h-1.3zM278.8 24.5h1.1v1.1h-1.1zM278.4 20.9h0.9v1.1h-0.9zM282.8 22.7h1.1v1.1h-1.1zM278.2 22.9h1.7v1.3h-1.7zM281.6 26.0h1.3v0.9h-1.3zM278.9 23.0h0.9v1.1h-0.9zM279.9 22.7h1.1v0.9h-1.1zM279.0 21.5h1.3v1.1h-1.3zM268.1 24.0h0.9v0.9h-0.9zM267.4 23.7h0.9v1.3h-0.9zM268.9 23.6h1.1v1.1h-1.1z"/><path fill="#f2dfa8" d="M76.5 -56.7h0.9v1.1h-0.9zM92.1 -53.4h1.7v1.1h-1.7zM92.7 -52.8h1.7v0.9h-1.7zM91.7 -53.4h0.9v1.3h-0.9zM64.9 -44.2h1.7v0.9h-1.7zM67.9 -53.1h1.1v0.9h-1.1zM73.1 -42.2h1.1v1.1h-1.1zM68.9 -47.8h0.9v0.9h-0.9zM22.0 -59.1h1.7v0.9h-1.7zM90.0 2.9h0.9v0.9h-0.9zM91.7 7.4h1.3v1.1h-1.3zM95.4 3.3h1.7v1.1h-1.7zM90.8 4.6h0.9v1.1h-0.9zM104.2 22.4h0.9v1.1h-0.9zM105.6 20.0h1.7v0.9h-1.7zM100.7 18.9h0.9v0.9h-0.9zM101.8 21.7h1.1v1.1h-1.1zM103.4 23.6h0.9v0.9h-0.9zM96.2 37.6h1.3v1.1h-1.3zM95.7 38.2h1.7v1.3h-1.7zM96.5 39.0h1.3v1.1h-1.3zM162.5 -10.4h1.3v0.9h-1.3zM158.3 -6.7h1.7v0.9h-1.7zM160.9 -7.7h1.3v1.1h-1.3zM161.3 -8.0h1.3v0.9h-1.3zM161.5 -8.8h1.3v0.9h-1.3zM174.9 28.5h1.1v1.3h-1.1zM164.5 -32.4h1.7v1.1h-1.7zM171.7 -41.3h0.9v1.1h-0.9zM167.4 -43.8h0.9v1.3h-0.9zM174.8 -40.7h1.1v0.9h-1.1zM170.5 -39.8h1.3v1.1h-1.3zM165.3 -43.4h1.3v1.1h-1.3zM177.0 -43.4h1.7v0.9h-1.7zM164.7 -44.5h1.7v1.3h-1.7zM165.4 -41.2h1.1v0.9h-1.1zM168.0 -41.1h0.9v1.3h-0.9zM169.9 -40.9h1.1v1.1h-1.1zM214.2 -47.5h0.9v1.1h-0.9zM214.6 -49.7h1.7v1.1h-1.7zM222.9 -41.6h0.9v1.1h-0.9zM224.3 -43.0h1.3v1.3h-1.3zM231.2 -42.7h0.9v1.3h-0.9zM228.0 -41.7h1.1v0.9h-1.1zM228.8 -42.9h1.7v0.9h-1.7zM230.0 -42.7h1.7v1.3h-1.7zM231.5 -43.8h0.9v0.9h-0.9zM226.4 -43.7h1.1v0.9h-1.1zM228.0 -43.0h1.3v1.3h-1.3zM213.1 -53.1h1.1v1.3h-1.1zM219.9 -23.8h0.9v1.3h-0.9zM221.9 -23.6h0.9v0.9h-0.9zM221.0 -26.8h1.3v0.9h-1.3zM264.1 -35.7h1.7v1.3h-1.7zM255.0 -61.6h1.1v1.3h-1.1zM263.1 -59.3h1.3v1.1h-1.3zM247.9 -54.6h1.3v0.9h-1.3zM270.7 -49.6h1.7v1.3h-1.7zM252.1 -56.4h0.9v0.9h-0.9zM230.7 -59.1h1.7v1.1h-1.7zM275.0 26.1h1.1v0.9h-1.1zM282.7 20.7h1.7v1.3h-1.7zM283.5 22.2h1.7v1.1h-1.7zM281.6 19.3h0.9v1.1h-0.9zM280.5 22.3h1.1v1.1h-1.1zM279.2 25.2h1.1v1.1h-1.1zM282.1 22.5h0.9v0.9h-0.9zM279.8 25.2h1.7v0.9h-1.7zM277.6 23.4h1.3v1.3h-1.3zM278.1 20.0h1.1v1.3h-1.1zM279.9 24.2h1.7v1.3h-1.7zM279.1 20.5h1.1v1.3h-1.1zM275.0 21.7h1.3v0.9h-1.3zM277.3 23.2h1.3v1.1h-1.3zM279.8 22.3h0.9v1.1h-0.9zM275.8 22.4h1.1v0.9h-1.1zM278.1 24.1h0.9v0.9h-0.9zM279.4 24.5h1.7v1.3h-1.7z"/><path fill="#e0a03a" d="M74.7 -57.1h1.7v1.3h-1.7zM74.7 -56.4h1.7v0.9h-1.7zM74.6 -56.9h1.7v1.1h-1.7zM92.0 -54.0h1.7v1.3h-1.7zM72.3 -48.9h1.7v1.3h-1.7zM66.0 -52.8h1.3v0.9h-1.3zM77.8 -42.7h1.7v1.3h-1.7zM75.7 -42.8h1.7v1.3h-1.7zM63.3 -44.1h0.9v0.9h-0.9zM56.6 -42.8h1.7v0.9h-1.7zM58.8 -45.3h1.3v1.1h-1.3zM79.8 -42.1h1.3v1.3h-1.3zM67.5 -47.3h1.7v1.1h-1.7zM47.5 -43.3h1.1v0.9h-1.1zM21.2 -60.2h0.9v0.9h-0.9zM29.4 -58.8h1.3v1.1h-1.3zM24.2 -58.4h1.7v0.9h-1.7zM23.6 -57.9h1.7v1.1h-1.7zM20.1 -59.3h0.9v0.9h-0.9zM96.1 38.1h1.3v0.9h-1.3zM159.0 -9.6h1.3v1.3h-1.3zM156.0 -7.7h1.3v0.9h-1.3zM160.8 -7.1h0.9v1.1h-0.9zM160.9 -8.9h1.7v1.1h-1.7zM162.7 -9.4h1.1v0.9h-1.1zM164.6 -6.8h1.1v1.1h-1.1zM167.1 -8.5h1.1v0.9h-1.1zM157.7 -8.9h1.1v0.9h-1.1zM154.4 -7.7h1.3v1.3h-1.3zM159.3 -9.5h1.7v1.3h-1.7zM162.7 -9.2h1.3v1.3h-1.3zM174.2 27.6h0.9v1.3h-0.9zM174.4 26.9h1.1v1.3h-1.1zM173.7 27.0h1.1v1.3h-1.1zM164.7 -32.7h1.7v1.1h-1.7zM165.1 -42.8h0.9v1.1h-0.9zM166.1 -40.4h0.9v0.9h-0.9zM170.0 -40.7h1.3v1.1h-1.3zM171.7 -46.0h1.1v1.1h-1.1zM163.1 -40.7h1.3v1.1h-1.3zM169.8 -40.5h1.7v1.3h-1.7zM167.0 -41.5h1.7v1.1h-1.7zM172.9 -43.1h1.7v1.1h-1.7zM171.0 -46.0h0.9v1.3h-0.9zM159.6 -41.9h1.7v0.9h-1.7zM165.8 -44.7h1.7v1.1h-1.7zM170.3 -41.5h1.3v1.3h-1.3zM166.1 -40.6h1.3v1.1h-1.3zM166.2 -44.1h1.3v0.9h-1.3zM173.6 -44.2h0.9v1.3h-0.9zM168.5 -43.8h0.9v0.9h-0.9zM166.6 -38.7h1.1v1.1h-1.1zM165.6 -42.8h1.7v0.9h-1.7zM180.7 -40.5h1.1v1.1h-1.1zM168.5 -40.8h1.7v1.3h-1.7zM173.4 -44.5h1.1v1.1h-1.1zM174.6 -42.0h1.1v1.3h-1.1zM165.9 -41.1h1.3v1.3h-1.3zM171.6 -40.9h0.9v1.1h-0.9zM166.7 -44.2h1.3v1.3h-1.3zM216.9 -52.4h1.7v1.1h-1.7zM214.8 -48.9h1.3v0.9h-1.3zM214.2 -49.1h0.9v0.9h-0.9zM215.3 -51.4h0.9v0.9h-0.9zM212.4 -49.2h1.1v0.9h-1.1zM215.4 -51.8h1.1v1.3h-1.1zM216.2 -52.5h0.9v1.1h-0.9zM215.7 -51.5h1.7v0.9h-1.7zM213.9 -47.2h1.1v0.9h-1.1zM227.6 -43.7h1.1v1.1h-1.1zM224.0 -42.6h1.7v0.9h-1.7zM226.2 -43.3h0.9v1.1h-0.9zM226.4 -42.4h1.1v0.9h-1.1zM232.2 -42.8h1.1v1.1h-1.1zM226.4 -42.8h1.7v1.3h-1.7zM222.6 -43.4h1.1v0.9h-1.1zM237.5 -42.8h0.9v0.9h-0.9zM228.4 -43.7h1.7v1.3h-1.7zM225.7 -42.9h0.9v1.1h-0.9zM222.4 -42.6h1.7v1.1h-1.7zM231.5 -43.7h0.9v1.1h-0.9zM229.4 -43.3h1.7v1.1h-1.7zM234.8 -42.6h1.1v0.9h-1.1zM224.0 -42.5h1.1v0.9h-1.1zM229.0 -41.8h1.3v1.1h-1.3zM229.2 -43.6h1.1v0.9h-1.1zM224.9 -43.7h1.1v0.9h-1.1zM222.9 -44.2h0.9v0.9h-0.9zM212.0 -52.6h0.9v0.9h-0.9zM265.6 -33.6h1.3v0.9h-1.3zM263.8 -34.3h0.9v1.1h-0.9zM266.9 -33.3h0.9v1.1h-0.9zM269.7 -52.8h1.7v1.1h-1.7zM285.5 -60.7h1.1v1.1h-1.1zM253.4 -50.2h1.1v0.9h-1.1zM269.7 -60.0h1.7v1.3h-1.7zM266.9 -56.4h1.1v0.9h-1.1zM276.1 -55.2h1.1v1.3h-1.1zM252.6 -55.9h1.7v1.3h-1.7zM281.6 -53.4h1.3v0.9h-1.3zM251.2 -53.6h1.1v1.1h-1.1zM239.5 -53.3h1.1v1.3h-1.1zM270.4 -52.6h1.7v0.9h-1.7zM269.8 -56.8h1.1v1.1h-1.1zM279.1 23.7h1.1v1.3h-1.1zM272.9 20.0h1.7v1.1h-1.7zM277.5 23.9h1.3v1.1h-1.3zM281.6 25.3h1.3v1.3h-1.3zM282.1 26.5h0.9v0.9h-0.9zM277.9 18.5h1.1v0.9h-1.1zM281.2 24.5h1.7v1.1h-1.7zM274.4 18.0h1.3v1.3h-1.3zM276.6 23.1h1.7v0.9h-1.7zM275.8 22.5h1.1v1.1h-1.1zM274.9 24.4h1.7v0.9h-1.7zM281.2 26.9h1.3v0.9h-1.3zM281.2 21.8h1.3v0.9h-1.3zM275.6 20.9h1.7v0.9h-1.7zM275.9 26.3h1.7v0.9h-1.7zM277.4 18.8h1.1v1.1h-1.1zM282.7 19.9h0.9v0.9h-0.9zM280.3 21.2h1.3v0.9h-1.3zM279.2 21.1h1.1v1.1h-1.1zM277.4 20.0h1.3v0.9h-1.3zM273.9 24.1h0.9v0.9h-0.9zM277.1 22.5h0.9v1.1h-0.9zM278.5 27.0h1.1v0.9h-1.1zM276.5 25.7h1.1v1.1h-1.1zM280.9 21.7h1.3v0.9h-1.3zM276.6 20.5h1.3v0.9h-1.3zM266.2 24.0h1.1v0.9h-1.1zM266.6 23.7h0.9v1.3h-0.9zM267.3 25.1h1.3v0.9h-1.3z"/><path fill="#6fc08a" d="M47.6 -54.4h1.3v0.9h-1.3zM47.4 -53.8h1.1v0.9h-1.1zM78.7 -41.8h1.3v1.1h-1.3zM78.9 -41.6h1.3v1.3h-1.3zM79.5 -42.4h0.9v1.3h-0.9zM79.7 -41.7h0.9v0.9h-0.9zM82.2 -44.5h1.7v1.3h-1.7zM82.8 -45.2h1.3v1.1h-1.3zM91.5 -42.2h1.3v1.3h-1.3zM90.1 -41.8h1.7v1.3h-1.7zM95.9 -46.3h1.1v1.3h-1.1zM95.3 -47.1h1.1v1.3h-1.1zM96.2 -46.0h1.7v0.9h-1.7zM28.4 -60.1h1.1v1.3h-1.1zM31.7 -60.0h1.3v1.3h-1.3zM30.3 -58.6h1.1v0.9h-1.1zM109.1 -4.3h1.7v1.1h-1.7zM106.3 -4.2h0.9v1.1h-0.9zM106.2 -4.1h0.9v1.1h-0.9zM108.6 -2.9h1.1v0.9h-1.1zM107.7 -3.2h1.3v1.1h-1.3zM106.7 -3.8h1.3v1.1h-1.3zM106.7 -3.6h0.9v1.1h-0.9zM110.0 -2.9h0.9v1.3h-0.9zM100.9 1.6h0.9v1.1h-0.9zM98.0 4.1h0.9v0.9h-0.9zM89.8 2.3h1.3v1.3h-1.3zM95.4 0.5h0.9v0.9h-0.9zM90.1 3.3h1.3v0.9h-1.3zM162.7 -12.0h0.9v1.1h-0.9zM162.8 -11.4h1.3v1.1h-1.3zM161.0 -12.0h1.3v1.3h-1.3zM166.1 -12.0h1.3v0.9h-1.3zM163.3 -11.6h0.9v1.1h-0.9zM162.5 -12.2h1.7v1.3h-1.7zM169.1 5.5h1.1v1.3h-1.1zM168.1 4.5h1.7v1.1h-1.7zM169.0 6.0h1.1v0.9h-1.1zM168.8 6.7h1.3v1.3h-1.3zM168.8 6.8h1.7v0.9h-1.7zM169.4 2.2h0.9v0.9h-0.9zM289.7 -57.7h0.9v1.1h-0.9zM290.6 -56.7h1.1v1.3h-1.1zM229.4 -25.9h1.7v0.9h-1.7zM230.3 -24.2h0.9v1.1h-0.9zM230.3 -24.3h1.1v1.1h-1.1zM225.6 -24.4h0.9v0.9h-0.9zM231.7 -25.7h0.9v1.3h-0.9zM226.3 -24.8h1.3v1.1h-1.3zM228.7 -24.4h1.7v1.1h-1.7zM228.5 -22.0h1.1v1.3h-1.1zM227.5 -22.9h1.3v1.1h-1.3zM228.1 -23.5h1.1v0.9h-1.1zM240.4 -22.4h0.9v0.9h-0.9zM240.1 -25.3h1.7v1.3h-1.7zM230.3 -23.3h0.9v0.9h-0.9zM226.7 -23.3h0.9v0.9h-0.9zM231.0 -24.6h0.9v1.1h-0.9zM222.2 -25.1h0.9v1.3h-0.9z"/><path fill="#d4e8b8" d="M47.7 -54.0h1.1v1.3h-1.1zM83.0 -44.5h1.1v0.9h-1.1zM81.7 -44.5h1.1v1.1h-1.1zM105.3 -2.4h1.7v1.1h-1.7zM107.5 -4.5h1.3v0.9h-1.3zM108.2 -3.6h1.3v0.9h-1.3zM106.9 -3.2h1.1v1.1h-1.1zM91.4 6.8h1.1v0.9h-1.1zM97.8 8.2h1.1v1.3h-1.1zM90.9 4.3h1.7v0.9h-1.7zM94.7 7.5h1.1v1.3h-1.1zM98.6 1.9h1.1v0.9h-1.1zM95.0 8.2h1.1v1.1h-1.1zM94.5 2.6h1.1v0.9h-1.1zM94.2 7.2h1.3v1.3h-1.3zM97.1 4.0h1.3v0.9h-1.3zM95.0 5.1h1.1v0.9h-1.1zM98.4 7.5h1.7v1.1h-1.7zM94.3 2.3h0.9v1.1h-0.9zM91.8 0.8h1.3v0.9h-1.3zM89.8 2.7h1.7v1.3h-1.7zM97.0 3.7h1.1v1.3h-1.1zM289.3 -57.3h1.7v0.9h-1.7zM287.9 -56.8h1.3v1.1h-1.3zM239.2 -22.1h1.3v1.1h-1.3zM229.9 -24.1h1.1v0.9h-1.1zM229.4 -24.4h1.3v0.9h-1.3zM233.7 -21.4h1.3v0.9h-1.3zM222.8 -24.4h0.9v1.1h-0.9zM223.1 -23.6h1.7v0.9h-1.7zM220.3 -24.6h1.3v0.9h-1.3zM222.8 -24.8h0.9v1.1h-0.9z"/><path fill="#3f9f72" d="M47.7 -53.9h0.9v1.1h-0.9zM90.0 -42.0h1.7v1.3h-1.7zM92.5 -41.3h1.7v1.1h-1.7zM105.0 -4.2h1.1v1.3h-1.1zM105.2 -4.6h1.3v1.1h-1.3zM107.2 -4.7h1.3v1.3h-1.3zM165.1 -11.4h0.9v0.9h-0.9zM169.1 2.5h1.1v0.9h-1.1zM169.3 3.0h1.7v1.3h-1.7zM289.0 -57.6h0.9v1.3h-0.9zM289.2 -56.9h1.1v1.3h-1.1zM230.6 -24.4h0.9v1.1h-0.9zM234.3 -23.5h1.7v0.9h-1.7zM231.1 -24.6h0.9v0.9h-0.9zM233.5 -24.2h1.7v1.3h-1.7zM224.9 -24.2h0.9v1.3h-0.9zM227.5 -24.1h1.7v0.9h-1.7z"/><path fill="#a8d8a8" d="M79.5 -41.4h0.9v0.9h-0.9zM90.7 -42.3h0.9v0.9h-0.9zM95.7 -46.4h1.7v1.1h-1.7zM105.4 -3.9h0.9v1.3h-0.9zM105.9 -2.3h1.1v1.1h-1.1zM109.0 -3.1h1.1v1.3h-1.1zM105.9 -3.2h0.9v1.3h-0.9zM106.2 -3.7h1.7v0.9h-1.7zM108.5 -2.4h1.3v1.1h-1.3zM107.7 -4.2h1.3v0.9h-1.3zM109.3 -2.0h1.1v1.3h-1.1zM110.1 -2.8h0.9v1.3h-0.9zM96.1 6.3h0.9v1.3h-0.9zM98.4 -0.1h1.7v1.3h-1.7zM96.8 3.2h0.9v1.1h-0.9zM101.2 5.5h1.1v0.9h-1.1zM92.0 5.8h1.3v0.9h-1.3zM88.6 7.2h1.1v0.9h-1.1zM89.4 5.7h1.7v1.3h-1.7zM90.7 7.6h1.7v0.9h-1.7zM94.1 7.7h1.7v1.1h-1.7zM99.3 6.4h0.9v1.1h-0.9zM92.7 5.2h1.1v0.9h-1.1zM93.2 2.0h1.1v0.9h-1.1zM93.6 6.1h1.1v1.3h-1.1zM93.4 5.9h0.9v1.1h-0.9zM88.5 5.5h1.1v1.1h-1.1zM93.9 3.5h0.9v0.9h-0.9zM94.2 5.0h1.3v1.1h-1.3zM98.8 0.7h1.7v1.3h-1.7zM166.4 -11.7h1.1v0.9h-1.1zM222.1 -24.3h1.3v0.9h-1.3zM230.1 -24.8h0.9v1.1h-0.9zM228.4 -25.7h1.3v1.3h-1.3zM225.9 -22.8h0.9v1.1h-0.9zM228.6 -22.9h1.3v0.9h-1.3zM229.5 -25.5h1.7v1.1h-1.7zM223.0 -23.1h1.1v1.3h-1.1zM227.0 -24.9h0.9v1.3h-0.9zM234.0 -23.1h0.9v0.9h-0.9zM233.6 -22.4h0.9v1.3h-0.9zM232.0 -23.8h1.1v0.9h-1.1zM222.7 -22.7h1.7v1.3h-1.7zM223.2 -23.8h0.9v0.9h-0.9z"/><path fill="#f6e8c0" d="M103.6 21.6h1.1v0.9h-1.1zM101.3 19.1h1.3v1.1h-1.3zM101.2 24.6h0.9v1.1h-0.9zM103.1 26.7h1.7v1.1h-1.7zM102.5 19.9h1.1v0.9h-1.1zM104.0 22.6h1.7v1.3h-1.7zM102.5 18.3h1.7v1.1h-1.7zM277.2 25.2h1.3v0.9h-1.3zM278.1 23.6h1.7v0.9h-1.7zM276.9 26.1h0.9v1.1h-0.9zM276.0 19.9h1.3v0.9h-1.3zM280.3 24.6h1.7v1.1h-1.7zM277.3 20.6h1.3v1.3h-1.3zM281.9 24.1h1.1v1.1h-1.1zM278.0 21.5h1.1v0.9h-1.1z"/><path fill="#fff" d="M97.0 14.6L99.3 15.1L99.8 22.1L98.5 24.1L97.0 20.1ZM281.8 23.5L282.0 25.0L280.6 25.9L279.2 27.6L277.8 25.8L276.6 24.9L275.5 23.5L276.6 22.1L277.3 20.5L279.2 19.3L281.0 20.6L281.5 22.3ZM57.1 -30.3L56.9 -29.3L56.4 -28.6L55.7 -28.3L55.0 -28.6L54.5 -29.3L54.3 -30.3L54.5 -31.3L55.0 -32.0L55.7 -32.3L56.4 -32.0L56.9 -31.3ZM283.0 26.1L282.8 26.7L282.2 27.1L281.5 27.3L280.8 27.1L280.2 26.7L280.0 26.1L280.2 25.5L280.8 25.1L281.5 24.9L282.2 25.1L282.8 25.5Z"/></g>
<g id="ovcd"><path fill="#fff" d="M140.0 -23.9L145.0 -24.9L149.0 -26.4L154.0 -29.9L157.0 -31.4L157.0 -33.9L162.0 -33.4L167.0 -32.4L185.0 -29.6L188.0 -28.9L193.0 -28.4L201.0 -28.9L207.0 -27.9L213.0 -23.9L213.0 -11.3L203.0 -11.3L203.0 -8.7L196.6 -8.7L196.3 -10.9L191.0 -11.3L189.0 -13.6L186.0 -13.9L172.0 -13.5L157.0 -13.9L144.0 -13.3L140.0 -13.7ZM204.2 -43.7L208.9 -44.3L217.0 -43.1L221.7 -40.8L221.1 -39.1L217.0 -37.9L215.9 -34.4L217.0 -30.9L219.4 -27.4L221.7 -24.5L221.1 -22.1L217.0 -21.3L212.4 -22.3L208.3 -23.1L205.4 -24.6L201.9 -27.5L200.7 -32.0L201.3 -36.7L202.4 -40.2ZM225.2 -34.4L231.0 -36.7L236.9 -40.2L245.0 -40.8L252.0 -39.6L256.7 -38.5L252.0 -36.1L245.0 -33.2L240.4 -32.0L234.6 -28.5L233.4 -26.8L228.7 -29.7L226.4 -32.0ZM172.0 18.1L174.0 20.1L176.0 23.1L177.3 27.1L175.5 29.6L173.0 26.1L171.0 21.1Z"/><g filter="url(#b1)"><ellipse cx="61.5" cy="-30.4" rx="6.0" ry="4.2" fill="#d9952b" fill-opacity="0.35"/><ellipse cx="59.0" cy="-55.9" rx="2.7" ry="1.4" fill="#dc9628" fill-opacity="0.3"/><ellipse cx="95.0" cy="-5.1" rx="3.0" ry="3.0" fill="#dc9628" fill-opacity="0.25"/><ellipse cx="108.0" cy="-3.1" rx="2.7" ry="1.9" fill="#7cc795" fill-opacity="0.4"/><ellipse cx="115.8" cy="12.1" rx="5.1" ry="6.4" fill="#d9952b" fill-opacity="0.2"/><ellipse cx="103.5" cy="21.1" rx="3.8" ry="7.6" fill="#d9952b" fill-opacity="0.45"/><ellipse cx="179.5" cy="-0.9" rx="9.3" ry="10.2" fill="#d08a22" fill-opacity="0.6"/><ellipse cx="178.0" cy="-0.9" rx="4.2" ry="6.8" fill="#a8620e" fill-opacity="0.4"/><ellipse cx="187.0" cy="-9.4" rx="4.2" ry="2.2" fill="#d9952b" fill-opacity="0.35"/><ellipse cx="194.0" cy="-32.6" rx="6.8" ry="2.0" fill="#dc9628" fill-opacity="0.2"/><ellipse cx="255.0" cy="-43.4" rx="1.9" ry="1.4" fill="#dc9628" fill-opacity="0.4"/><ellipse cx="241.0" cy="-27.4" rx="8.5" ry="4.2" fill="#5cb585" fill-opacity="0.55"/><ellipse cx="297.0" cy="-58.9" rx="10.2" ry="2.5" fill="#8fcf9f" fill-opacity="0.25"/></g><path fill="#e9b45a" d="M64.4 -30.7h1.1v1.3h-1.1zM61.9 -29.3h1.3v1.3h-1.3zM64.9 -29.0h1.3v0.9h-1.3zM58.8 -32.5h0.9v0.9h-0.9zM62.6 -31.1h0.9v0.9h-0.9zM59.7 -32.6h1.7v1.1h-1.7zM66.4 -29.6h1.1v1.3h-1.1zM61.3 -34.4h1.1v1.3h-1.1zM62.8 -27.5h0.9v1.3h-0.9zM62.9 -30.3h1.3v0.9h-1.3zM63.7 -32.1h1.1v0.9h-1.1zM58.8 -28.9h1.3v0.9h-1.3zM66.3 -31.9h0.9v1.1h-0.9zM62.7 -29.0h0.9v1.3h-0.9zM63.5 -31.9h1.7v1.1h-1.7zM58.3 -29.8h1.7v1.1h-1.7zM59.3 -29.0h1.1v1.3h-1.1zM56.7 -33.9h1.7v1.3h-1.7zM62.7 -29.1h1.7v1.3h-1.7zM53.5 -29.3h1.7v0.9h-1.7zM58.1 -56.1h1.1v0.9h-1.1zM58.5 -57.6h1.1v1.3h-1.1zM58.3 -55.6h1.1v0.9h-1.1zM58.3 -56.8h1.3v1.1h-1.3zM93.0 -4.8h1.3v0.9h-1.3zM95.5 -5.0h1.7v1.3h-1.7zM94.6 -7.9h1.1v1.1h-1.1zM92.8 -6.0h1.7v0.9h-1.7zM94.1 -6.6h1.1v1.1h-1.1zM95.7 -3.1h1.3v0.9h-1.3zM96.6 -3.6h1.1v0.9h-1.1zM91.5 -5.0h1.7v1.1h-1.7zM109.5 10.2h1.1v0.9h-1.1zM117.7 10.8h1.1v1.1h-1.1zM116.2 8.7h1.1v1.3h-1.1zM114.8 17.4h0.9v1.3h-0.9zM118.0 9.4h0.9v1.1h-0.9zM113.4 10.0h1.7v1.1h-1.7zM114.9 17.2h0.9v1.3h-0.9zM114.1 14.2h0.9v1.3h-0.9zM113.6 7.8h1.1v1.1h-1.1zM118.9 9.4h1.7v1.3h-1.7zM115.1 6.7h1.3v1.1h-1.3zM115.9 9.8h1.7v1.1h-1.7zM102.3 16.6h1.3v1.1h-1.3zM101.1 15.9h0.9v1.1h-0.9zM100.9 18.4h1.7v1.3h-1.7zM104.7 20.4h1.1v1.1h-1.1zM104.7 17.3h1.7v1.3h-1.7zM105.9 24.4h1.7v1.1h-1.7zM106.6 14.3h1.7v1.1h-1.7zM102.3 17.9h0.9v1.3h-0.9zM102.3 22.7h1.3v1.1h-1.3zM103.9 21.7h1.3v1.3h-1.3zM105.5 21.2h1.7v1.3h-1.7zM102.4 21.2h1.3v0.9h-1.3zM100.8 23.3h0.9v1.3h-0.9zM101.5 21.9h0.9v1.1h-0.9zM101.8 28.9h0.9v1.1h-0.9zM103.2 25.6h0.9v0.9h-0.9zM103.3 15.9h1.7v0.9h-1.7zM102.1 12.7h1.3v1.1h-1.3zM104.4 23.4h1.1v1.1h-1.1zM175.6 -0.9h1.1v1.1h-1.1zM173.4 -6.5h1.3v1.1h-1.3zM173.8 -2.0h0.9v0.9h-0.9zM185.1 9.1h1.3v1.3h-1.3zM178.1 -1.2h1.1v1.1h-1.1zM176.3 -5.7h1.7v1.3h-1.7zM171.3 -0.4h1.1v0.9h-1.1zM180.8 -8.7h1.1v1.1h-1.1zM190.1 -3.9h0.9v1.3h-0.9zM181.4 -0.7h0.9v1.3h-0.9zM179.1 -7.8h1.1v1.1h-1.1zM183.4 -0.5h1.7v1.3h-1.7zM172.4 1.7h1.3v1.3h-1.3zM183.2 -0.8h1.7v1.1h-1.7zM178.3 -8.5h1.1v1.3h-1.1zM175.3 0.6h1.1v1.1h-1.1zM177.7 -1.9h1.7v0.9h-1.7zM181.8 -2.3h1.1v1.3h-1.1zM173.6 -5.6h0.9v1.3h-0.9zM185.6 -5.0h1.1v0.9h-1.1zM173.1 0.9h1.7v0.9h-1.7zM174.5 7.6h1.1v0.9h-1.1zM181.5 7.9h1.3v0.9h-1.3zM176.0 3.6h1.1v0.9h-1.1zM177.2 -0.7h1.1v1.1h-1.1zM174.9 8.7h0.9v1.3h-0.9zM180.2 -8.9h1.1v1.1h-1.1zM169.1 0.0h1.7v1.1h-1.7zM179.9 1.4h0.9v1.3h-0.9zM174.4 -4.9h1.3v1.1h-1.3zM174.9 1.2h1.3v1.3h-1.3zM181.4 -0.5h1.1v0.9h-1.1zM182.0 0.5h1.1v0.9h-1.1zM183.6 1.4h1.7v0.9h-1.7zM175.9 -4.9h0.9v0.9h-0.9zM174.8 4.7h1.7v1.3h-1.7zM185.9 -6.4h1.3v0.9h-1.3zM172.8 -6.1h1.3v1.1h-1.3zM189.5 -7.4h1.1v1.3h-1.1zM183.8 3.7h1.3v1.1h-1.3zM174.9 -1.1h1.7v1.1h-1.7zM186.8 -7.2h1.3v0.9h-1.3zM173.0 -4.7h1.7v0.9h-1.7zM177.4 -3.9h1.3v1.3h-1.3zM178.3 -6.9h0.9v0.9h-0.9zM183.7 -5.6h1.7v0.9h-1.7zM181.7 -1.3h1.1v0.9h-1.1zM169.9 7.3h1.7v0.9h-1.7zM177.1 -10.0h0.9v1.3h-0.9zM181.9 -10.1h1.1v0.9h-1.1zM178.3 6.1h1.7v0.9h-1.7zM168.2 -1.6h0.9v1.3h-0.9zM178.0 3.9h0.9v1.3h-0.9zM180.9 4.5h1.1v1.3h-1.1zM174.3 -2.6h1.3v1.1h-1.3zM185.2 -6.2h1.7v1.3h-1.7zM181.3 1.7h1.1v0.9h-1.1zM183.0 3.3h1.1v1.1h-1.1zM181.6 2.0h1.1v0.9h-1.1zM176.5 -0.5h1.1v1.3h-1.1zM179.2 7.6h1.1v1.3h-1.1zM186.1 -0.2h1.1v0.9h-1.1zM187.3 1.3h0.9v1.3h-0.9zM180.5 5.4h0.9v1.3h-0.9zM182.4 -2.7h1.1v1.3h-1.1zM177.5 -2.1h1.3v1.3h-1.3zM175.5 -4.1h1.3v1.3h-1.3zM180.1 2.5h1.1v1.3h-1.1zM180.3 -6.6h1.3v1.3h-1.3zM181.9 5.1h1.7v0.9h-1.7zM189.1 -0.6h0.9v0.9h-0.9zM180.4 3.4h1.1v0.9h-1.1zM178.1 5.0h0.9v1.1h-0.9zM182.1 0.6h1.7v1.3h-1.7zM182.5 1.1h1.3v1.1h-1.3zM173.5 -9.8h0.9v1.1h-0.9zM174.4 -3.6h0.9v1.1h-0.9zM176.3 2.9h0.9v0.9h-0.9zM189.7 -9.8h1.3v1.3h-1.3zM185.0 -9.7h1.7v0.9h-1.7zM184.5 -9.9h1.7v0.9h-1.7zM186.9 -7.7h0.9v1.1h-0.9zM187.9 -45.5h0.9v0.9h-0.9zM188.1 -45.2h1.3v1.1h-1.3zM188.8 -32.7h1.1v0.9h-1.1zM194.5 -35.1h1.1v0.9h-1.1zM194.0 -33.5h1.3v1.1h-1.3zM198.5 -31.9h1.3v1.3h-1.3zM193.2 -32.9h1.3v1.3h-1.3zM192.1 -32.3h1.3v1.3h-1.3zM194.4 -32.5h0.9v1.1h-0.9zM212.7 -42.1h1.1v1.3h-1.1zM208.4 -42.0h1.3v1.1h-1.3zM214.2 -41.6h1.7v1.3h-1.7zM218.0 -42.7h1.3v1.1h-1.3zM210.0 -31.6h0.9v0.9h-0.9zM209.3 -31.3h1.1v1.1h-1.1zM258.9 -44.8h1.1v1.1h-1.1zM264.8 -42.5h1.1v1.1h-1.1zM258.0 -42.8h0.9v0.9h-0.9zM258.5 -45.1h1.7v1.3h-1.7zM257.4 -43.1h1.7v1.3h-1.7zM263.5 -45.2h0.9v0.9h-0.9zM264.9 -45.0h1.7v0.9h-1.7zM254.0 -43.8h1.3v0.9h-1.3zM244.9 -22.4h1.1v0.9h-1.1zM244.0 -21.4h0.9v1.1h-0.9z"/><path fill="#d9952b" d="M59.7 -29.7h1.1v1.1h-1.1zM66.3 -30.4h1.3v1.1h-1.3zM62.1 -30.9h1.3v1.3h-1.3zM64.9 -32.6h1.3v1.3h-1.3zM63.9 -31.9h1.1v1.1h-1.1zM60.8 -30.7h1.7v1.1h-1.7zM58.0 -33.8h0.9v0.9h-0.9zM66.0 -32.4h1.1v1.3h-1.1zM64.4 -29.7h1.3v0.9h-1.3zM57.2 -29.0h1.1v0.9h-1.1zM58.5 -32.7h1.1v1.1h-1.1zM60.7 -29.4h1.1v0.9h-1.1zM59.9 -33.5h0.9v0.9h-0.9zM64.3 -34.8h1.7v1.3h-1.7zM62.9 -27.6h1.1v1.1h-1.1zM59.3 -34.3h1.1v1.1h-1.1zM60.1 -30.4h0.9v1.3h-0.9zM63.6 -30.2h1.3v1.3h-1.3zM59.7 -36.4h1.3v1.3h-1.3zM62.0 -27.2h1.1v1.1h-1.1zM60.8 -28.1h1.1v0.9h-1.1zM63.6 -31.8h1.1v1.1h-1.1zM65.7 -31.3h1.1v1.1h-1.1zM60.7 -32.7h1.3v1.3h-1.3zM60.0 -31.8h0.9v0.9h-0.9zM60.3 -27.3h1.7v0.9h-1.7zM59.3 -31.1h1.7v1.3h-1.7zM57.1 -32.5h1.1v1.3h-1.1zM63.1 -29.6h0.9v1.3h-0.9zM63.3 -31.4h0.9v1.3h-0.9zM60.4 -30.4h1.1v1.1h-1.1zM57.3 -55.5h1.1v0.9h-1.1zM59.6 -56.2h1.7v1.3h-1.7zM58.8 -55.6h1.3v1.1h-1.3zM57.9 -56.8h1.7v1.3h-1.7zM59.3 -56.3h0.9v1.3h-0.9zM58.7 -56.7h1.3v0.9h-1.3zM56.8 -55.5h1.1v1.3h-1.1zM57.8 -57.9h1.3v1.1h-1.3zM92.7 -4.9h1.7v1.3h-1.7zM93.5 -6.6h0.9v0.9h-0.9zM92.6 -6.3h0.9v0.9h-0.9zM93.5 -6.4h1.7v0.9h-1.7zM94.1 -6.4h0.9v1.1h-0.9zM95.3 -2.7h1.3v1.1h-1.3zM94.4 -3.9h1.3v1.1h-1.3zM96.1 -5.4h1.1v1.1h-1.1zM94.1 -5.9h1.7v1.3h-1.7zM95.4 -6.2h0.9v1.1h-0.9zM95.7 -6.1h1.7v0.9h-1.7zM115.1 11.2h1.3v0.9h-1.3zM117.9 9.5h1.1v1.1h-1.1zM118.6 6.5h1.7v1.3h-1.7zM120.6 7.6h0.9v0.9h-0.9zM116.8 16.0h1.3v0.9h-1.3zM115.7 10.3h0.9v0.9h-0.9zM115.4 12.5h1.7v0.9h-1.7zM113.8 9.2h0.9v0.9h-0.9zM109.0 12.5h1.3v0.9h-1.3zM116.7 15.7h1.3v1.3h-1.3zM116.5 12.1h1.7v0.9h-1.7zM117.9 11.1h0.9v0.9h-0.9zM116.3 8.6h0.9v0.9h-0.9zM111.9 12.4h1.7v0.9h-1.7zM115.9 13.6h1.3v1.1h-1.3zM115.8 6.2h1.1v0.9h-1.1zM114.1 14.3h1.7v1.1h-1.7zM121.7 11.0h1.3v1.3h-1.3zM117.7 8.1h1.3v0.9h-1.3zM116.9 16.0h1.7v1.3h-1.7zM115.4 11.8h1.3v1.3h-1.3zM114.6 6.9h1.7v1.1h-1.7zM114.6 12.2h1.1v0.9h-1.1zM104.1 17.6h1.1v0.9h-1.1zM103.9 29.0h1.7v1.3h-1.7zM104.6 19.5h1.1v1.1h-1.1zM101.8 24.8h0.9v1.1h-0.9zM100.0 18.8h1.3v1.1h-1.3zM101.7 18.1h1.1v1.3h-1.1zM101.8 22.7h1.7v0.9h-1.7zM102.1 22.4h1.7v0.9h-1.7zM105.0 21.8h0.9v0.9h-0.9zM103.2 24.6h0.9v1.1h-0.9zM101.3 18.7h1.1v1.3h-1.1zM105.2 17.9h1.7v0.9h-1.7zM102.3 22.0h1.1v1.1h-1.1zM106.1 25.0h1.3v1.3h-1.3zM100.9 19.7h1.3v1.1h-1.3zM104.2 20.5h1.1v0.9h-1.1zM102.9 22.6h1.3v1.1h-1.3zM101.9 18.6h1.1v1.1h-1.1zM98.6 25.4h1.7v1.3h-1.7zM100.7 21.1h1.7v1.3h-1.7zM102.9 17.4h0.9v1.1h-0.9zM102.5 23.5h0.9v0.9h-0.9zM103.0 20.6h1.3v1.1h-1.3zM104.1 24.1h0.9v1.3h-0.9zM101.5 18.1h1.1v1.3h-1.1zM101.5 25.2h0.9v0.9h-0.9zM103.4 22.7h1.1v0.9h-1.1zM101.7 23.6h1.3v1.3h-1.3zM104.5 22.9h1.1v1.1h-1.1zM104.1 22.1h1.1v1.1h-1.1zM103.0 23.9h1.7v0.9h-1.7zM100.4 21.0h0.9v1.3h-0.9zM101.5 21.9h1.3v1.1h-1.3zM104.5 17.4h1.3v0.9h-1.3zM99.9 18.0h1.3v0.9h-1.3zM103.0 15.0h1.3v1.3h-1.3zM174.2 -3.9h0.9v1.3h-0.9zM177.7 3.9h1.7v1.3h-1.7zM175.8 0.2h1.1v1.1h-1.1zM174.2 -4.6h1.7v1.1h-1.7zM181.4 0.6h0.9v1.1h-0.9zM179.9 -12.2h1.3v1.1h-1.3zM184.0 2.0h0.9v1.3h-0.9zM183.7 5.4h1.3v0.9h-1.3zM183.9 1.4h1.3v1.1h-1.3zM174.0 2.7h1.1v1.1h-1.1zM172.6 0.3h1.1v1.3h-1.1zM176.4 -3.7h0.9v0.9h-0.9zM178.3 -1.9h1.1v0.9h-1.1zM179.1 9.2h0.9v1.3h-0.9zM183.7 -2.2h0.9v0.9h-0.9zM173.7 -2.1h0.9v1.3h-0.9zM182.7 3.6h1.1v0.9h-1.1zM177.5 6.1h1.3v1.3h-1.3zM173.1 -8.0h1.7v0.9h-1.7zM183.5 3.0h0.9v1.1h-0.9zM180.1 -4.8h1.3v1.3h-1.3zM178.1 -11.6h0.9v1.1h-0.9zM184.1 6.6h1.1v1.3h-1.1zM174.3 -3.5h1.7v0.9h-1.7zM172.7 -8.1h1.7v1.3h-1.7zM175.6 11.8h1.1v1.1h-1.1zM172.5 2.3h1.3v1.3h-1.3zM182.1 0.9h1.7v1.3h-1.7zM174.9 -0.6h0.9v1.3h-0.9zM174.6 -3.8h1.3v0.9h-1.3zM184.5 4.3h0.9v1.1h-0.9zM175.7 -7.1h1.1v0.9h-1.1zM181.8 -4.3h0.9v1.3h-0.9zM175.8 0.6h0.9v0.9h-0.9zM172.0 3.4h1.1v0.9h-1.1zM182.7 4.0h1.7v1.1h-1.7zM176.6 -1.7h1.3v0.9h-1.3zM171.5 3.9h1.3v0.9h-1.3zM178.9 -4.4h1.7v1.3h-1.7zM178.6 -9.6h1.7v1.3h-1.7zM181.7 2.9h1.3v1.1h-1.3zM172.6 -6.7h0.9v0.9h-0.9zM182.7 -0.8h1.7v1.1h-1.7zM188.3 -5.7h1.3v1.3h-1.3zM168.8 2.3h1.7v1.3h-1.7zM178.7 -8.2h0.9v1.3h-0.9zM176.4 -1.1h0.9v0.9h-0.9zM183.0 3.0h1.3v0.9h-1.3zM180.9 -8.0h0.9v0.9h-0.9zM181.6 -4.7h0.9v0.9h-0.9zM181.1 -9.6h1.7v0.9h-1.7zM170.9 -8.2h1.7v1.1h-1.7zM186.1 -4.8h0.9v1.3h-0.9zM181.2 -3.5h1.7v0.9h-1.7zM180.7 -11.4h0.9v1.1h-0.9zM187.4 0.1h1.1v1.1h-1.1zM179.6 11.3h1.3v1.1h-1.3zM185.2 -2.3h1.3v1.1h-1.3zM177.6 -1.8h1.1v0.9h-1.1zM180.3 -5.6h1.7v1.1h-1.7zM181.9 0.1h1.1v0.9h-1.1zM177.7 5.0h0.9v1.1h-0.9zM181.6 -2.2h1.3v1.3h-1.3zM182.9 6.1h0.9v0.9h-0.9zM180.9 -5.3h1.7v1.3h-1.7zM176.0 -2.1h1.1v1.1h-1.1zM172.7 -1.0h0.9v1.1h-0.9zM182.7 10.6h0.9v1.3h-0.9zM182.7 -7.3h1.3v1.1h-1.3zM177.6 -6.0h1.1v1.3h-1.1zM170.8 3.0h0.9v1.1h-0.9zM182.2 2.0h0.9v1.3h-0.9zM183.2 2.0h1.1v1.3h-1.1zM178.6 -9.5h1.3v1.3h-1.3zM182.4 -1.3h1.3v1.3h-1.3zM182.3 -4.1h1.1v1.1h-1.1zM179.1 -1.7h1.7v1.1h-1.7zM178.8 -4.7h1.1v1.3h-1.1zM179.2 -5.6h1.3v1.1h-1.3zM173.7 -3.6h1.1v0.9h-1.1zM174.4 -7.3h1.1v1.1h-1.1zM169.4 -5.0h0.9v1.1h-0.9zM184.3 -0.3h1.3v1.3h-1.3zM172.3 -4.5h1.7v1.1h-1.7zM182.5 3.1h1.7v1.1h-1.7zM176.4 1.5h1.3v1.1h-1.3zM180.0 -5.6h1.3v0.9h-1.3zM183.0 -4.6h1.1v1.1h-1.1zM181.6 -5.0h1.1v1.3h-1.1zM178.3 3.5h1.3v1.3h-1.3zM181.9 -3.1h0.9v0.9h-0.9zM180.0 -4.5h1.1v1.3h-1.1zM178.9 0.7h0.9v1.1h-0.9zM180.7 0.4h1.3v0.9h-1.3zM179.5 4.8h1.7v1.1h-1.7zM180.1 -5.9h1.7v1.3h-1.7zM176.8 1.6h1.1v1.1h-1.1zM172.0 -1.3h1.7v1.1h-1.7zM178.6 0.5h1.7v0.9h-1.7zM183.5 -3.9h0.9v1.3h-0.9zM178.0 3.6h0.9v1.3h-0.9zM183.9 -3.3h1.3v0.9h-1.3zM175.6 6.1h0.9v1.1h-0.9zM179.3 -6.2h1.1v1.3h-1.1zM178.7 6.1h1.1v0.9h-1.1zM179.5 1.3h1.3v1.3h-1.3zM184.1 1.4h1.1v0.9h-1.1zM178.8 0.5h1.7v0.9h-1.7zM178.8 -0.9h0.9v0.9h-0.9zM175.1 6.4h0.9v1.3h-0.9zM174.3 0.6h1.7v0.9h-1.7zM183.9 1.8h1.1v1.1h-1.1zM175.5 5.1h1.3v1.1h-1.3zM171.9 -4.1h1.3v1.3h-1.3zM181.1 -9.0h0.9v1.1h-0.9zM180.7 -1.0h0.9v0.9h-0.9zM176.0 6.3h1.7v0.9h-1.7zM180.1 2.5h0.9v1.1h-0.9zM185.5 3.8h1.3v1.3h-1.3zM174.8 -3.2h1.3v1.1h-1.3zM169.2 2.9h1.7v0.9h-1.7zM183.0 -3.7h1.7v1.1h-1.7zM175.9 6.0h0.9v0.9h-0.9zM178.0 2.0h0.9v0.9h-0.9zM180.2 1.3h1.7v0.9h-1.7zM179.8 10.0h1.3v1.1h-1.3zM179.8 5.1h1.7v0.9h-1.7zM184.0 -10.8h1.1v0.9h-1.1zM186.0 -10.5h1.3v1.3h-1.3zM186.5 -10.7h1.7v1.1h-1.7zM188.0 -9.9h1.1v1.3h-1.1zM187.7 -10.9h1.1v1.1h-1.1zM184.0 -9.6h0.9v0.9h-0.9zM187.2 -9.1h1.7v1.1h-1.7zM183.5 -8.6h1.7v0.9h-1.7zM183.7 -9.8h1.3v0.9h-1.3zM185.8 -8.2h1.7v1.3h-1.7zM196.0 -44.5h1.1v1.3h-1.1zM188.8 -44.0h0.9v1.1h-0.9zM184.6 -44.2h1.3v0.9h-1.3zM190.3 -41.8h0.9v1.3h-0.9zM193.6 -43.8h1.1v1.3h-1.1zM187.0 -43.9h1.7v0.9h-1.7zM188.6 -43.5h1.1v1.1h-1.1zM199.3 -31.6h1.3v1.1h-1.3zM191.9 -33.6h0.9v0.9h-0.9zM192.8 -34.8h1.1v0.9h-1.1zM192.2 -31.7h1.3v0.9h-1.3zM191.8 -32.6h1.1v1.3h-1.1zM194.3 -31.4h0.9v1.3h-0.9zM188.6 -34.3h1.7v1.3h-1.7zM190.5 -34.7h1.1v1.3h-1.1zM191.3 -32.8h1.1v0.9h-1.1zM194.7 -33.1h0.9v1.1h-0.9zM209.7 -43.4h0.9v1.3h-0.9zM209.9 -41.5h1.1v1.3h-1.1zM215.5 -41.2h1.1v1.3h-1.1zM217.4 -42.8h1.3v0.9h-1.3zM209.8 -41.9h1.7v0.9h-1.7zM208.7 -40.8h1.1v1.1h-1.1zM207.0 -31.2h1.3v1.1h-1.3zM208.9 -31.1h1.7v1.3h-1.7zM264.4 -43.0h0.9v0.9h-0.9zM258.8 -45.7h1.7v1.1h-1.7zM260.3 -46.0h1.1v1.1h-1.1zM265.1 -43.9h0.9v0.9h-0.9zM255.9 -44.6h1.7v0.9h-1.7zM259.8 -44.7h0.9v0.9h-0.9zM258.4 -47.0h0.9v1.3h-0.9zM252.2 -44.7h1.3v1.3h-1.3zM254.1 -44.1h1.7v0.9h-1.7zM253.8 -42.4h1.1v1.3h-1.1zM253.8 -43.7h1.3v1.3h-1.3zM255.6 -43.9h1.7v0.9h-1.7zM253.9 -44.5h0.9v1.3h-0.9zM254.7 -45.1h1.1v0.9h-1.1zM254.6 -44.3h1.7v1.3h-1.7z"/><path fill="#c47a16" d="M57.1 -32.9h1.7v1.3h-1.7zM59.6 -28.6h1.7v1.3h-1.7zM61.6 -30.0h1.7v0.9h-1.7zM55.9 -31.6h1.3v1.3h-1.3zM60.2 -34.1h1.3v0.9h-1.3zM62.2 -30.3h1.7v1.3h-1.7zM64.0 -29.2h0.9v1.3h-0.9zM62.9 -31.9h1.3v1.1h-1.3zM63.1 -32.0h1.7v1.1h-1.7zM61.0 -28.6h1.3v1.3h-1.3zM62.4 -31.5h1.1v1.1h-1.1zM61.7 -29.1h1.3v1.3h-1.3zM62.7 -31.1h1.3v1.1h-1.3zM62.9 -31.0h1.7v1.3h-1.7zM58.5 -57.4h1.7v1.3h-1.7zM61.1 -57.3h1.3v1.1h-1.3zM58.4 -56.0h1.3v0.9h-1.3zM57.8 -55.8h1.7v1.1h-1.7zM91.0 -5.0h1.7v1.3h-1.7zM94.7 -5.4h0.9v1.3h-0.9zM93.8 -6.6h1.3v1.1h-1.3zM93.0 -5.4h1.7v1.1h-1.7zM93.5 -4.4h0.9v1.1h-0.9zM93.1 -6.6h1.7v1.3h-1.7zM95.4 -5.8h1.3v1.1h-1.3zM117.7 12.4h1.3v0.9h-1.3zM115.3 7.0h1.3v1.3h-1.3zM116.9 11.9h1.1v0.9h-1.1zM113.9 10.0h1.7v0.9h-1.7zM116.3 8.2h1.3v1.1h-1.3zM113.7 5.8h1.7v0.9h-1.7zM112.5 15.7h1.3v1.1h-1.3zM115.9 10.0h0.9v1.3h-0.9zM110.8 13.9h1.7v1.3h-1.7zM110.7 12.8h1.1v0.9h-1.1zM112.5 8.9h1.3v1.1h-1.3zM114.0 10.8h1.7v0.9h-1.7zM100.7 26.9h1.7v1.1h-1.7zM103.5 15.2h1.7v0.9h-1.7zM103.2 24.2h1.7v0.9h-1.7zM105.3 23.3h1.3v1.1h-1.3zM103.8 18.4h1.1v1.1h-1.1zM102.0 24.7h1.3v0.9h-1.3zM101.7 16.1h0.9v0.9h-0.9zM103.1 15.0h0.9v0.9h-0.9zM101.7 26.9h1.3v0.9h-1.3zM103.9 18.2h1.7v0.9h-1.7zM101.8 17.3h0.9v1.1h-0.9zM101.6 24.4h1.7v0.9h-1.7zM102.3 28.8h0.9v1.1h-0.9zM103.1 19.7h1.3v0.9h-1.3zM103.1 20.5h1.1v1.3h-1.1zM100.4 26.3h0.9v1.3h-0.9zM99.2 20.6h0.9v1.1h-0.9zM103.2 23.6h1.7v1.1h-1.7zM102.7 16.4h1.3v1.3h-1.3zM101.7 27.7h0.9v1.1h-0.9zM174.4 -8.9h0.9v1.1h-0.9zM179.7 8.0h1.7v0.9h-1.7zM175.1 2.4h1.3v0.9h-1.3zM187.3 -5.0h0.9v1.3h-0.9zM185.3 -1.4h0.9v1.1h-0.9zM178.3 -1.3h1.3v1.3h-1.3zM180.9 -0.7h1.7v1.3h-1.7zM180.6 -3.5h1.3v1.1h-1.3zM185.6 5.1h1.1v0.9h-1.1zM180.7 4.0h0.9v1.1h-0.9zM178.2 -0.8h1.7v0.9h-1.7zM176.1 5.3h1.3v0.9h-1.3zM171.4 3.5h0.9v0.9h-0.9zM174.1 -6.3h1.7v1.3h-1.7zM174.7 0.7h1.7v0.9h-1.7zM177.2 -3.9h1.3v1.3h-1.3zM174.5 7.7h1.1v1.3h-1.1zM179.2 -2.8h1.3v1.3h-1.3zM177.9 -12.3h1.7v1.3h-1.7zM172.3 -7.5h1.3v1.1h-1.3zM188.2 6.1h1.3v1.1h-1.3zM175.8 -3.9h1.7v1.3h-1.7zM181.5 -7.8h1.1v1.3h-1.1zM174.9 -5.8h1.7v0.9h-1.7zM179.3 -2.0h1.3v1.1h-1.3zM182.5 -7.2h1.7v0.9h-1.7zM185.1 -3.8h1.3v1.3h-1.3zM177.4 -13.6h1.3v0.9h-1.3zM181.7 6.4h0.9v0.9h-0.9zM180.4 3.9h1.1v1.1h-1.1zM179.0 -1.8h1.1v0.9h-1.1zM179.0 2.2h1.1v1.1h-1.1zM174.5 6.5h1.7v0.9h-1.7zM181.7 9.1h1.7v1.3h-1.7zM177.3 7.8h0.9v1.1h-0.9zM183.3 3.5h1.3v0.9h-1.3zM184.4 -5.6h1.1v1.1h-1.1zM178.8 -8.8h1.7v1.1h-1.7zM180.4 2.1h0.9v0.9h-0.9zM178.8 1.4h1.1v1.3h-1.1zM177.1 -9.1h1.1v1.3h-1.1zM174.6 -1.1h0.9v1.3h-0.9zM176.4 -5.4h1.7v0.9h-1.7zM171.6 -0.5h0.9v1.3h-0.9zM181.6 8.6h1.3v1.3h-1.3zM186.4 -0.2h1.1v0.9h-1.1zM182.5 -1.5h1.7v0.9h-1.7zM176.4 -7.6h1.1v0.9h-1.1zM171.0 -1.7h1.7v1.3h-1.7zM177.0 2.0h1.3v0.9h-1.3zM173.9 -5.0h0.9v0.9h-0.9zM175.3 -4.0h1.3v1.1h-1.3zM188.4 -0.9h1.3v0.9h-1.3zM177.1 -4.8h1.1v1.3h-1.1zM179.2 -9.3h1.7v0.9h-1.7zM172.2 0.6h0.9v0.9h-0.9zM173.7 0.9h1.3v0.9h-1.3zM174.9 -9.2h1.3v0.9h-1.3zM178.8 -1.2h1.3v1.1h-1.3zM172.5 -3.6h1.7v1.1h-1.7zM181.1 -2.7h1.7v1.3h-1.7zM181.0 7.4h0.9v1.1h-0.9zM174.5 -2.6h1.3v1.3h-1.3zM189.8 -3.8h1.1v1.1h-1.1zM174.8 1.0h1.7v0.9h-1.7zM180.4 4.6h1.1v1.3h-1.1zM187.4 -1.2h0.9v1.1h-0.9zM175.9 -6.5h0.9v1.3h-0.9zM181.0 2.5h1.1v1.1h-1.1zM179.3 2.5h1.3v1.1h-1.3zM182.1 6.1h1.3v1.1h-1.3zM179.5 4.6h1.1v0.9h-1.1zM176.2 0.7h1.1v0.9h-1.1zM176.8 -11.4h1.3v1.3h-1.3zM184.8 1.0h1.7v1.3h-1.7zM176.6 -5.6h1.3v1.1h-1.3zM175.0 2.3h0.9v1.1h-0.9zM175.8 -2.7h0.9v1.3h-0.9zM177.9 -3.7h1.1v1.3h-1.1zM178.6 1.5h1.7v1.3h-1.7zM181.4 6.1h0.9v0.9h-0.9zM180.2 -0.7h1.1v1.3h-1.1zM177.9 -7.9h0.9v1.1h-0.9zM181.8 -1.0h1.1v1.3h-1.1zM179.7 -4.4h1.7v1.3h-1.7zM180.3 0.6h0.9v1.3h-0.9zM176.7 -1.6h0.9v1.1h-0.9zM179.9 0.4h1.7v0.9h-1.7zM176.5 2.4h0.9v0.9h-0.9zM178.3 -2.8h1.1v1.1h-1.1zM179.5 2.3h1.3v1.3h-1.3zM181.0 -5.3h1.3v1.1h-1.3zM179.2 -2.8h1.3v0.9h-1.3zM181.4 -0.7h1.1v0.9h-1.1zM186.6 -10.3h1.1v1.3h-1.1zM188.5 -9.5h1.7v0.9h-1.7zM187.0 -10.3h0.9v0.9h-0.9zM188.1 -10.6h0.9v1.1h-0.9zM188.6 -9.7h0.9v1.1h-0.9zM188.1 -10.8h0.9v1.1h-0.9zM186.5 -9.2h0.9v0.9h-0.9zM184.9 -11.3h1.7v1.3h-1.7zM187.3 -11.5h0.9v1.3h-0.9zM189.7 -10.5h1.3v1.1h-1.3zM186.8 -9.8h1.7v1.1h-1.7zM186.5 -9.9h0.9v1.1h-0.9zM189.6 -44.7h1.7v0.9h-1.7zM186.1 -44.7h1.7v1.3h-1.7zM185.1 -44.3h1.7v0.9h-1.7zM196.3 -33.7h1.3v0.9h-1.3zM189.9 -32.9h1.7v1.1h-1.7zM193.7 -32.2h0.9v1.1h-0.9zM190.3 -33.3h1.1v1.1h-1.1zM197.7 -35.0h1.1v0.9h-1.1zM191.2 -34.0h1.7v1.3h-1.7zM190.6 -32.8h1.7v0.9h-1.7zM217.4 -42.1h1.7v1.1h-1.7zM212.9 -40.8h1.3v0.9h-1.3zM208.3 -31.7h1.1v0.9h-1.1zM208.3 -32.0h1.3v1.1h-1.3zM209.6 -30.9h1.7v1.1h-1.7zM260.5 -44.6h1.3v1.3h-1.3zM265.2 -43.1h1.3v0.9h-1.3zM261.2 -43.2h1.3v1.1h-1.3zM256.8 -44.2h0.9v1.1h-0.9zM258.1 -43.9h0.9v1.1h-0.9zM255.4 -44.8h0.9v1.1h-0.9zM255.4 -43.5h1.3v1.3h-1.3zM254.4 -44.3h0.9v1.3h-0.9zM245.7 -19.6h1.1v0.9h-1.1zM244.9 -23.3h1.7v1.3h-1.7zM245.2 -22.0h1.1v1.1h-1.1zM243.9 -20.9h1.7v1.1h-1.7zM244.9 -21.5h1.7v1.3h-1.7zM246.3 -20.2h1.3v1.3h-1.3z"/><path fill="#f0d79a" d="M58.3 -32.2h0.9v1.3h-0.9zM60.6 -28.8h1.1v1.1h-1.1zM60.9 -28.9h0.9v1.3h-0.9zM59.7 -32.9h1.1v1.1h-1.1zM57.7 -55.7h0.9v1.3h-0.9zM115.5 12.2h1.3v0.9h-1.3zM117.9 12.3h1.1v1.3h-1.1zM113.1 11.2h1.3v1.3h-1.3zM110.9 15.9h0.9v1.1h-0.9zM115.2 18.1h1.1v1.1h-1.1zM112.1 11.3h1.1v1.1h-1.1zM114.0 13.7h0.9v1.3h-0.9zM103.3 19.9h1.3v1.1h-1.3zM100.4 18.2h1.7v0.9h-1.7zM103.5 22.6h0.9v1.3h-0.9zM102.0 15.5h0.9v1.1h-0.9zM101.8 23.3h0.9v1.1h-0.9zM102.9 12.2h0.9v1.1h-0.9zM171.7 0.2h1.1v1.3h-1.1zM181.1 7.0h1.1v1.3h-1.1zM186.9 0.5h1.3v1.1h-1.3zM172.5 0.8h1.7v1.3h-1.7zM183.1 -10.0h1.3v1.3h-1.3zM174.5 -0.2h1.3v1.3h-1.3zM172.5 2.1h1.3v0.9h-1.3zM177.9 -1.7h1.3v1.3h-1.3zM177.3 3.4h1.3v1.1h-1.3zM185.3 -3.8h1.7v1.3h-1.7zM168.2 1.9h1.7v1.3h-1.7zM184.5 -2.6h1.3v0.9h-1.3zM180.1 -6.1h1.3v0.9h-1.3zM178.3 9.1h1.3v0.9h-1.3zM172.7 -2.7h1.3v1.3h-1.3zM173.0 -4.2h1.1v0.9h-1.1zM173.4 -1.0h1.7v1.1h-1.7zM175.5 -3.7h1.7v0.9h-1.7zM175.9 -3.4h1.3v1.1h-1.3zM179.1 -2.2h1.1v1.3h-1.1zM189.0 -2.0h0.9v0.9h-0.9zM179.1 -12.2h1.3v0.9h-1.3zM178.4 1.3h1.7v0.9h-1.7zM181.3 -6.1h1.1v1.3h-1.1zM173.2 -0.6h1.1v1.1h-1.1zM189.9 -45.3h0.9v1.1h-0.9zM193.3 -34.0h0.9v0.9h-0.9zM191.8 -33.6h1.1v1.3h-1.1zM194.5 -32.9h1.7v1.3h-1.7zM209.8 -32.3h0.9v1.3h-0.9zM245.0 -20.9h1.7v0.9h-1.7z"/><path fill="#9a5a0c" d="M62.6 -28.5h1.3v1.1h-1.3zM59.7 -32.6h1.7v1.1h-1.7zM58.3 -31.8h1.3v1.3h-1.3zM62.1 -29.6h1.3v1.3h-1.3zM58.9 -56.4h1.7v1.1h-1.7zM114.1 12.4h1.3v1.3h-1.3zM112.4 11.0h1.1v0.9h-1.1zM112.3 10.3h1.3v1.1h-1.3zM118.9 7.8h1.1v1.1h-1.1zM111.1 12.2h1.3v1.3h-1.3zM116.1 8.7h1.7v0.9h-1.7zM104.6 22.7h1.7v1.1h-1.7zM100.1 18.2h0.9v0.9h-0.9zM101.5 24.2h1.7v0.9h-1.7zM100.7 22.1h0.9v0.9h-0.9zM103.1 24.8h0.9v0.9h-0.9zM100.2 21.3h1.3v1.3h-1.3zM102.5 27.0h1.7v1.3h-1.7zM102.5 12.8h1.7v0.9h-1.7zM105.3 20.0h1.3v1.1h-1.3zM105.8 25.9h1.3v0.9h-1.3zM103.7 18.8h1.3v0.9h-1.3zM102.8 13.3h1.3v1.3h-1.3zM101.4 19.7h1.1v1.1h-1.1zM103.4 21.4h1.7v0.9h-1.7zM102.3 24.9h0.9v1.3h-0.9zM101.4 20.1h1.7v1.1h-1.7zM101.0 27.9h1.7v0.9h-1.7zM103.5 17.9h0.9v1.1h-0.9zM99.6 16.5h0.9v0.9h-0.9zM177.0 -0.1h1.3v1.3h-1.3zM178.3 3.6h1.1v1.1h-1.1zM179.5 -6.4h1.3v1.3h-1.3zM180.3 0.8h0.9v1.1h-0.9zM181.0 -2.6h1.3v1.3h-1.3zM181.0 -9.3h1.3v1.3h-1.3zM177.6 -13.3h1.7v1.1h-1.7zM170.1 0.9h0.9v0.9h-0.9zM182.3 -2.1h1.7v0.9h-1.7zM174.2 1.1h1.1v1.3h-1.1zM177.3 -6.1h0.9v0.9h-0.9zM186.7 3.2h1.7v0.9h-1.7zM179.2 1.2h0.9v1.3h-0.9zM181.6 -6.4h1.3v0.9h-1.3zM184.5 -3.3h0.9v1.3h-0.9zM178.3 -5.3h1.7v0.9h-1.7zM176.6 1.5h1.1v0.9h-1.1zM183.2 0.2h0.9v1.3h-0.9zM182.4 -10.2h1.3v1.1h-1.3zM188.6 -11.5h1.3v1.1h-1.3zM187.5 -9.2h1.3v0.9h-1.3zM186.1 -9.1h1.3v1.3h-1.3zM193.2 -41.5h0.9v1.1h-0.9zM196.2 -41.9h1.7v0.9h-1.7zM187.6 -42.6h1.3v0.9h-1.3zM194.0 -32.5h1.7v1.3h-1.7zM191.1 -33.6h1.3v1.1h-1.3zM195.5 -33.6h0.9v1.1h-0.9zM217.3 -40.1h0.9v0.9h-0.9zM212.1 -41.6h1.7v0.9h-1.7zM214.4 -42.0h1.7v0.9h-1.7zM210.9 -42.0h1.3v1.1h-1.3zM254.6 -45.7h1.3v0.9h-1.3zM254.2 -44.6h1.7v1.3h-1.7zM253.8 -43.7h1.1v0.9h-1.1zM242.9 -23.0h1.1v1.1h-1.1z"/><path fill="#a55f0c" d="M61.7 -30.3h1.3v0.9h-1.3zM63.5 -29.0h0.9v0.9h-0.9zM61.4 -29.9h1.7v0.9h-1.7zM62.5 -30.3h1.7v1.3h-1.7zM61.7 -30.6h1.1v0.9h-1.1zM63.0 -29.4h1.1v1.3h-1.1zM63.0 -31.4h1.3v0.9h-1.3zM179.0 -3.6h1.3v1.3h-1.3zM178.9 -3.4h1.1v1.3h-1.1zM179.1 -2.4h1.1v1.1h-1.1zM175.9 4.2h1.1v1.1h-1.1zM178.2 4.0h0.9v1.1h-0.9zM179.3 4.6h0.9v0.9h-0.9zM176.9 0.6h1.3v1.3h-1.3zM180.3 0.2h1.3v1.1h-1.3zM172.8 -0.8h1.1v0.9h-1.1zM176.2 3.0h1.1v1.1h-1.1zM177.7 2.8h0.9v1.3h-0.9zM180.5 -3.1h1.1v1.1h-1.1zM178.2 -2.0h1.1v1.1h-1.1zM178.8 -3.4h1.7v1.3h-1.7zM177.0 -4.1h0.9v1.3h-0.9zM175.6 -2.1h0.9v0.9h-0.9zM175.1 -3.0h1.1v0.9h-1.1zM175.0 1.5h1.3v1.3h-1.3zM175.4 -1.2h0.9v0.9h-0.9zM176.2 -1.1h1.7v1.1h-1.7zM178.7 2.3h0.9v0.9h-0.9zM177.6 -9.1h1.7v1.3h-1.7zM177.9 -5.2h0.9v1.1h-0.9zM179.6 3.5h0.9v0.9h-0.9zM177.5 1.6h1.7v1.3h-1.7zM176.9 -5.7h1.7v1.1h-1.7zM178.6 -1.4h1.7v1.1h-1.7zM178.8 3.1h0.9v1.3h-0.9z"/><path fill="#e0a03a" d="M67.3 -54.8h1.7v0.9h-1.7zM62.6 -51.6h1.7v1.1h-1.7zM62.6 -51.5h1.3v1.3h-1.3zM61.0 -52.8h1.7v0.9h-1.7zM64.2 -51.3h0.9v0.9h-0.9zM65.4 -39.7h1.1v0.9h-1.1zM64.1 -43.3h1.1v0.9h-1.1zM64.8 -42.8h0.9v1.1h-0.9zM66.6 -48.4h0.9v0.9h-0.9zM72.5 -50.3h0.9v1.3h-0.9zM68.1 -45.9h0.9v0.9h-0.9zM195.4 -1.9h1.7v0.9h-1.7zM195.8 -2.7h1.7v1.3h-1.7zM194.7 -1.8h1.7v1.1h-1.7zM148.7 -10.7h1.3v1.1h-1.3zM148.7 -12.6h1.3v1.1h-1.3zM148.7 -9.3h0.9v1.1h-0.9zM151.0 -11.8h0.9v1.1h-0.9zM176.4 -42.6h1.7v1.3h-1.7zM168.3 -43.4h1.1v0.9h-1.1zM175.1 -42.9h1.1v0.9h-1.1zM172.7 -44.8h0.9v0.9h-0.9zM175.7 -45.4h0.9v0.9h-0.9zM163.9 -42.8h1.3v1.1h-1.3z"/><path fill="#ecc378" d="M67.3 -49.5h0.9v1.1h-0.9zM65.3 -51.7h1.1v1.3h-1.1zM58.2 -52.9h1.7v0.9h-1.7zM71.6 -52.6h0.9v1.1h-0.9zM68.0 -49.5h0.9v1.3h-0.9zM57.5 -37.7h1.1v0.9h-1.1zM63.5 -48.6h1.1v1.3h-1.1zM195.7 -1.0h1.1v0.9h-1.1zM194.1 -1.1h1.1v1.3h-1.1zM195.8 -0.9h1.3v0.9h-1.3zM150.4 -9.9h1.1v1.1h-1.1zM149.9 -10.4h1.3v1.3h-1.3zM149.2 -10.7h1.7v0.9h-1.7zM148.0 -10.8h0.9v0.9h-0.9zM149.9 -9.1h1.1v0.9h-1.1zM172.2 -44.5h1.3v1.1h-1.3zM171.4 -43.2h1.7v1.3h-1.7zM163.9 -44.3h0.9v1.1h-0.9zM277.3 21.0h0.9v1.1h-0.9zM281.6 22.8h1.1v1.3h-1.1zM278.3 24.5h1.7v0.9h-1.7zM279.4 23.4h1.1v0.9h-1.1zM281.8 23.1h0.9v1.1h-0.9z"/><path fill="#f2dfa8" d="M62.0 -52.6h0.9v1.1h-0.9zM64.6 -51.3h1.7v1.1h-1.7zM66.3 -54.1h1.1v1.3h-1.1zM69.7 -52.7h0.9v1.3h-0.9zM69.1 -49.8h1.1v1.3h-1.1zM77.0 -37.3h1.7v1.3h-1.7zM65.5 -47.0h0.9v1.3h-0.9zM58.4 -45.5h1.7v0.9h-1.7zM90.1 7.7h0.9v1.1h-0.9zM92.4 1.7h0.9v1.3h-0.9zM95.5 1.0h1.1v1.1h-1.1zM93.4 3.5h0.9v0.9h-0.9zM94.5 2.3h1.3v1.1h-1.3zM95.5 6.4h1.3v1.1h-1.3zM93.0 9.2h0.9v0.9h-0.9zM99.3 2.2h1.3v1.1h-1.3zM98.0 7.1h0.9v1.3h-0.9zM193.4 -4.1h1.7v0.9h-1.7zM195.8 -5.0h1.7v1.3h-1.7zM194.5 -2.8h0.9v1.3h-0.9zM193.0 -6.6h1.3v1.1h-1.3zM151.5 -10.6h0.9v1.1h-0.9zM172.2 -42.3h1.7v0.9h-1.7zM163.3 -45.1h1.7v1.3h-1.7zM170.8 -44.6h0.9v1.3h-0.9zM276.7 22.2h1.3v0.9h-1.3zM277.9 23.0h1.1v1.3h-1.1zM280.7 23.1h1.1v1.3h-1.1z"/><path fill="#6fc08a" d="M91.0 -44.5h1.3v1.1h-1.3zM74.6 -49.3h1.7v1.1h-1.7zM68.9 -48.4h1.7v0.9h-1.7zM67.8 -45.2h1.3v0.9h-1.3zM80.4 -46.4h1.7v0.9h-1.7zM89.0 -43.7h1.1v1.1h-1.1zM74.6 -41.0h1.1v1.1h-1.1zM69.5 -48.8h1.3v1.3h-1.3zM65.2 -45.0h1.1v1.1h-1.1zM77.6 -44.2h1.1v0.9h-1.1zM75.2 -48.3h0.9v1.1h-0.9zM77.4 -45.4h0.9v1.3h-0.9zM60.2 -47.5h1.3v1.3h-1.3zM55.8 -51.1h1.7v1.3h-1.7zM55.4 -51.0h1.1v1.1h-1.1zM19.1 -59.4h1.1v1.3h-1.1zM23.0 -59.7h1.1v1.3h-1.1zM19.3 -59.0h1.7v0.9h-1.7zM106.1 -2.2h1.1v1.1h-1.1zM105.3 -3.5h1.3v1.3h-1.3zM107.8 -3.6h1.1v1.1h-1.1zM106.2 -4.8h1.7v1.1h-1.7zM105.8 -5.2h0.9v1.1h-0.9zM107.2 -3.5h1.1v1.3h-1.1zM106.1 -2.8h1.1v1.3h-1.1zM106.0 -2.6h1.1v0.9h-1.1zM93.7 2.4h1.7v0.9h-1.7zM95.4 3.9h0.9v1.3h-0.9zM96.5 -0.2h1.7v0.9h-1.7zM93.0 -2.3h1.3v1.1h-1.3zM90.3 6.9h1.3v1.3h-1.3zM98.1 0.6h1.7v1.1h-1.7zM93.6 6.6h0.9v1.3h-0.9zM96.0 7.4h0.9v1.3h-0.9zM90.4 6.2h0.9v0.9h-0.9zM86.4 3.4h0.9v0.9h-0.9zM91.4 9.5h1.7v1.3h-1.7zM91.3 2.8h1.7v1.3h-1.7zM93.5 0.7h1.3v0.9h-1.3zM101.0 5.8h1.3v1.1h-1.3zM94.1 3.9h0.9v0.9h-0.9zM90.2 0.0h0.9v0.9h-0.9zM89.7 5.1h1.1v1.3h-1.1zM88.9 1.5h1.1v0.9h-1.1zM164.8 -10.5h1.7v1.3h-1.7zM164.5 -11.4h0.9v0.9h-0.9zM163.8 -10.1h0.9v0.9h-0.9zM160.8 -11.1h1.7v1.3h-1.7zM160.4 -9.7h1.3v0.9h-1.3zM168.8 -10.9h0.9v0.9h-0.9zM169.3 5.4h0.9v0.9h-0.9zM168.6 -49.6h1.1v1.1h-1.1zM177.2 -46.4h1.1v0.9h-1.1zM176.2 -50.2h1.7v0.9h-1.7zM172.9 -50.4h1.3v1.1h-1.3zM184.0 -51.2h1.1v1.3h-1.1zM181.5 -47.7h0.9v1.3h-0.9zM244.3 -24.2h0.9v0.9h-0.9zM242.6 -27.1h1.7v0.9h-1.7zM243.0 -27.8h0.9v0.9h-0.9zM245.1 -27.7h1.7v0.9h-1.7zM237.9 -29.2h0.9v1.3h-0.9zM241.9 -28.9h0.9v1.1h-0.9zM239.6 -25.4h1.1v1.3h-1.1zM241.8 -25.2h0.9v1.3h-0.9zM242.0 -30.8h1.3v1.1h-1.3zM243.8 -27.1h0.9v0.9h-0.9zM244.6 -24.5h1.1v0.9h-1.1zM246.4 -24.8h1.1v1.3h-1.1zM237.8 -26.7h1.3v1.1h-1.3zM240.5 -27.0h0.9v1.1h-0.9zM239.1 -28.1h1.1v1.1h-1.1zM243.5 -28.6h1.3v1.1h-1.3zM244.4 -27.9h0.9v0.9h-0.9zM242.7 -25.5h1.1v1.3h-1.1zM243.0 -30.9h0.9v0.9h-0.9zM241.2 -30.2h1.7v0.9h-1.7zM245.6 -24.7h1.7v1.3h-1.7zM240.9 -30.7h0.9v1.3h-0.9zM236.7 -27.9h1.7v1.1h-1.7zM238.6 -28.5h1.3v1.1h-1.3zM240.4 -31.0h1.1v0.9h-1.1zM244.2 -32.5h1.3v1.3h-1.3zM240.6 -26.0h1.7v1.3h-1.7zM247.8 -27.0h1.1v1.3h-1.1zM241.0 -28.0h1.7v1.1h-1.7zM239.9 -29.8h0.9v1.1h-0.9zM233.9 -27.2h0.9v1.3h-0.9zM236.7 -31.1h1.7v1.1h-1.7zM244.2 -31.6h1.3v0.9h-1.3zM239.3 -27.9h1.1v0.9h-1.1zM240.5 -25.9h1.1v1.1h-1.1zM241.7 -24.6h1.1v0.9h-1.1zM235.7 -30.4h1.7v1.3h-1.7zM233.6 -26.3h1.7v1.1h-1.7zM245.6 -29.3h1.3v1.1h-1.3zM233.2 -29.4h1.7v1.3h-1.7zM237.3 -25.9h1.7v0.9h-1.7zM240.1 -29.5h0.9v1.1h-0.9zM242.6 -27.6h1.3v0.9h-1.3zM233.0 -27.0h1.7v0.9h-1.7zM242.8 -27.2h1.1v1.3h-1.1zM243.0 -29.7h0.9v0.9h-0.9zM246.9 -29.2h1.1v1.3h-1.1zM243.3 -26.6h1.3v1.3h-1.3zM245.5 -32.2h0.9v1.3h-0.9zM242.3 -29.1h0.9v1.3h-0.9zM235.0 -28.1h1.1v0.9h-1.1zM237.9 -23.3h1.1v1.1h-1.1zM244.2 -32.4h1.7v1.3h-1.7zM240.6 -26.2h1.7v0.9h-1.7zM235.3 -27.5h1.3v0.9h-1.3zM237.7 -25.9h0.9v1.3h-0.9zM240.4 -25.7h0.9v0.9h-0.9zM243.4 -27.8h1.3v0.9h-1.3zM234.8 -27.1h1.7v0.9h-1.7zM242.2 -27.7h1.1v0.9h-1.1zM238.3 -25.0h1.3v1.3h-1.3zM237.3 -26.0h0.9v0.9h-0.9zM239.3 -25.1h1.7v0.9h-1.7zM239.3 -27.4h1.7v1.1h-1.7zM239.6 -26.9h1.7v1.1h-1.7zM237.6 -28.0h1.3v1.3h-1.3zM243.3 -26.6h1.7v1.1h-1.7zM236.5 -28.3h1.7v1.1h-1.7zM243.5 -35.5h0.9v1.1h-0.9zM239.2 -36.4h1.1v0.9h-1.1zM239.6 -35.9h1.7v1.3h-1.7zM238.3 -36.4h1.3v1.3h-1.3zM234.5 -35.4h1.1v1.3h-1.1zM238.2 -36.2h1.1v1.3h-1.1zM237.0 -36.2h1.7v1.3h-1.7zM240.2 -35.6h1.3v0.9h-1.3zM238.8 -34.1h1.1v0.9h-1.1zM286.4 -61.3h0.9v1.1h-0.9zM239.7 -57.1h1.1v1.1h-1.1zM259.5 -58.2h1.7v0.9h-1.7zM246.0 -58.8h1.1v1.3h-1.1zM279.6 -59.1h1.3v1.3h-1.3zM276.5 -53.4h1.3v1.1h-1.3zM237.7 -56.9h1.1v0.9h-1.1zM258.4 -60.0h1.1v1.1h-1.1zM218.4 -54.3h1.1v1.1h-1.1zM244.5 -51.9h1.3v1.1h-1.3zM283.6 -61.8h1.3v1.3h-1.3zM250.7 -56.7h1.7v1.1h-1.7zM287.7 -61.6h1.3v0.9h-1.3zM236.5 -60.0h1.7v0.9h-1.7zM277.0 -61.1h1.7v0.9h-1.7zM248.8 -59.8h0.9v0.9h-0.9zM277.7 -54.2h1.1v0.9h-1.1zM258.5 -55.8h1.3v0.9h-1.3zM229.0 -55.8h1.3v1.1h-1.3zM262.4 -58.4h1.7v1.1h-1.7zM228.8 -56.6h0.9v1.1h-0.9zM236.7 -61.3h1.7v1.1h-1.7zM268.7 -57.1h1.3v1.1h-1.3zM245.2 -54.1h1.7v1.1h-1.7zM275.4 -60.8h1.1v0.9h-1.1zM216.5 -58.3h1.1v1.3h-1.1zM265.0 -54.3h1.7v1.3h-1.7zM277.1 -57.6h1.3v0.9h-1.3zM272.9 -56.4h0.9v1.3h-0.9zM281.3 -62.5h1.7v0.9h-1.7zM293.7 -60.2h1.3v1.1h-1.3zM292.6 -60.9h1.1v1.3h-1.1zM295.0 -59.4h1.7v0.9h-1.7zM302.8 -58.7h1.3v0.9h-1.3zM293.0 -59.0h0.9v1.3h-0.9zM300.3 -61.4h1.3v0.9h-1.3zM294.8 -61.8h1.7v1.1h-1.7zM298.3 -61.3h0.9v1.3h-0.9zM304.9 -57.7h0.9v1.1h-0.9zM292.3 -59.0h1.3v0.9h-1.3zM299.2 -58.6h1.1v0.9h-1.1zM289.4 -58.7h1.3v1.3h-1.3zM302.6 -59.7h1.7v0.9h-1.7zM298.5 -61.9h1.7v1.1h-1.7zM294.7 -57.9h1.1v1.1h-1.1zM219.9 -55.1h1.1v1.3h-1.1zM218.2 -54.0h1.3v1.1h-1.3zM220.9 -56.7h1.1v1.3h-1.1zM216.1 -56.2h1.7v0.9h-1.7zM212.0 -54.8h1.7v0.9h-1.7zM225.5 -58.1h0.9v0.9h-0.9zM232.1 -23.9h0.9v1.3h-0.9zM235.4 -22.1h1.7v1.3h-1.7zM230.0 -23.4h1.7v1.1h-1.7zM232.7 -24.8h0.9v1.3h-0.9zM229.5 -23.4h0.9v1.1h-0.9zM226.5 -22.6h1.1v1.3h-1.1zM235.2 -24.9h1.3v1.1h-1.3zM232.9 -23.7h1.1v1.3h-1.1zM228.5 -24.1h1.7v1.1h-1.7zM230.4 -22.6h1.7v1.1h-1.7zM227.7 -22.1h0.9v1.1h-0.9zM231.9 -23.6h1.7v1.1h-1.7zM237.8 -23.8h1.7v1.1h-1.7zM234.2 -22.3h1.7v1.1h-1.7zM233.4 -23.9h1.7v1.3h-1.7zM228.7 -25.0h1.3v1.1h-1.3zM225.9 -16.4h1.7v0.9h-1.7zM225.9 -14.8h1.3v1.3h-1.3zM226.1 -16.1h1.3v1.3h-1.3zM225.8 -14.2h1.7v1.3h-1.7zM250.3 -25.0h1.7v1.1h-1.7zM249.4 -24.0h1.7v1.1h-1.7zM252.2 -23.0h1.1v1.1h-1.1zM249.7 -23.6h1.3v0.9h-1.3z"/><path fill="#a8d8a8" d="M83.0 -49.8h1.7v1.1h-1.7zM89.0 -47.1h1.1v1.1h-1.1zM65.6 -51.6h1.3v1.3h-1.3zM83.3 -47.3h1.7v1.3h-1.7zM69.9 -44.6h1.7v1.3h-1.7zM82.9 -42.1h1.1v1.3h-1.1zM79.5 -50.0h1.1v1.1h-1.1zM93.6 -46.4h1.3v1.1h-1.3zM75.7 -44.1h1.3v1.3h-1.3zM81.4 -50.2h1.3v1.3h-1.3zM78.2 -49.3h0.9v0.9h-0.9zM92.1 -47.9h0.9v0.9h-0.9zM63.4 -48.8h1.1v0.9h-1.1zM89.8 -40.9h1.1v0.9h-1.1zM77.9 -50.9h1.1v1.3h-1.1zM60.2 -55.3h0.9v0.9h-0.9zM109.0 -4.7h1.1v1.3h-1.1zM106.2 -4.0h1.3v1.1h-1.3zM108.5 -4.8h0.9v1.1h-0.9zM108.5 -4.1h1.3v0.9h-1.3zM107.2 -2.8h0.9v1.3h-0.9zM106.4 -2.6h1.3v0.9h-1.3zM106.9 -3.2h0.9v0.9h-0.9zM94.1 3.0h1.1v0.9h-1.1zM92.9 0.6h0.9v1.3h-0.9zM97.5 8.3h1.1v1.3h-1.1zM89.0 4.9h1.7v0.9h-1.7zM90.0 0.0h0.9v1.1h-0.9zM97.3 2.6h1.7v1.1h-1.7zM93.4 -0.4h1.7v1.1h-1.7zM91.7 0.6h1.7v1.1h-1.7zM93.2 7.1h1.3v1.1h-1.3zM94.8 7.0h1.3v1.1h-1.3zM91.4 3.7h0.9v0.9h-0.9zM93.9 4.3h1.1v1.3h-1.1zM91.1 -0.6h1.1v1.3h-1.1zM91.7 1.7h1.3v1.3h-1.3zM98.6 1.3h1.7v1.1h-1.7zM91.8 2.8h1.7v1.3h-1.7zM89.7 -0.9h0.9v1.3h-0.9zM99.5 5.8h1.1v1.3h-1.1zM92.3 0.3h0.9v0.9h-0.9zM93.8 2.2h1.1v0.9h-1.1zM167.1 -10.4h1.3v1.1h-1.3zM160.5 -9.5h1.1v1.1h-1.1zM167.5 -12.1h0.9v1.3h-0.9zM175.4 -45.4h1.1v1.1h-1.1zM177.8 -49.2h1.3v1.1h-1.3zM176.4 -47.8h1.1v0.9h-1.1zM179.1 -49.1h0.9v0.9h-0.9zM245.9 -28.5h1.7v0.9h-1.7zM244.9 -27.3h0.9v1.1h-0.9zM243.9 -24.8h1.1v1.3h-1.1zM237.7 -29.9h1.7v1.1h-1.7zM237.8 -29.1h1.3v1.3h-1.3zM243.8 -24.0h1.1v0.9h-1.1zM247.9 -27.7h0.9v1.1h-0.9zM242.5 -28.0h1.1v1.1h-1.1zM238.2 -26.0h0.9v1.1h-0.9zM242.9 -25.7h1.1v0.9h-1.1zM236.3 -30.9h0.9v1.3h-0.9zM238.8 -25.1h1.3v1.3h-1.3zM245.4 -27.4h1.3v0.9h-1.3zM240.0 -29.0h1.3v1.1h-1.3zM241.2 -27.5h1.7v1.3h-1.7zM244.2 -27.5h0.9v1.1h-0.9zM249.8 -30.0h1.7v1.1h-1.7zM233.8 -28.9h1.1v1.1h-1.1zM242.3 -29.6h0.9v1.3h-0.9zM238.7 -25.8h1.3v1.3h-1.3zM246.4 -27.2h1.7v1.3h-1.7zM245.9 -26.5h1.1v1.3h-1.1zM235.3 -26.0h0.9v0.9h-0.9zM234.9 -24.2h0.9v1.3h-0.9zM246.4 -25.2h1.7v1.1h-1.7zM241.6 -24.9h1.3v0.9h-1.3zM242.0 -30.1h1.3v1.3h-1.3zM242.4 -25.2h1.1v1.3h-1.1zM241.4 -27.1h0.9v0.9h-0.9zM241.5 -30.0h0.9v1.1h-0.9zM244.0 -30.9h0.9v1.1h-0.9zM237.6 -26.9h0.9v0.9h-0.9zM245.2 -27.4h0.9v0.9h-0.9zM232.0 -36.1h1.3v1.3h-1.3zM234.1 -33.7h1.1v1.3h-1.1zM233.9 -35.0h1.7v1.1h-1.7zM238.5 -35.2h1.3v1.1h-1.3zM250.9 -60.6h1.1v1.3h-1.1zM257.6 -60.6h1.7v1.1h-1.7zM259.1 -61.2h1.1v0.9h-1.1zM270.2 -56.3h1.3v0.9h-1.3zM239.0 -56.5h1.3v0.9h-1.3zM224.9 -58.0h1.3v0.9h-1.3zM234.2 -57.3h1.7v1.3h-1.7zM236.8 -58.3h1.3v1.1h-1.3zM221.1 -54.1h1.7v0.9h-1.7zM244.3 -56.8h1.1v1.3h-1.1zM285.9 -57.3h1.1v0.9h-1.1zM269.6 -52.7h1.1v0.9h-1.1zM246.0 -58.3h1.1v1.3h-1.1zM240.9 -59.6h1.1v1.3h-1.1zM240.5 -58.9h1.7v1.1h-1.7zM249.5 -57.1h1.1v1.1h-1.1zM253.6 -57.8h1.1v1.1h-1.1zM240.7 -55.8h1.3v1.3h-1.3zM227.4 -58.2h1.1v1.1h-1.1zM247.1 -56.4h1.7v0.9h-1.7zM276.1 -53.8h0.9v0.9h-0.9zM258.1 -58.6h1.3v1.3h-1.3zM265.8 -57.1h1.1v0.9h-1.1zM222.3 -57.7h1.7v1.1h-1.7zM252.3 -55.7h1.3v1.3h-1.3zM252.1 -59.5h0.9v0.9h-0.9zM283.8 -60.4h1.3v1.3h-1.3zM298.7 -58.7h1.1v1.1h-1.1zM298.7 -59.2h1.1v1.3h-1.1zM303.6 -57.6h1.7v1.3h-1.7zM301.0 -57.2h1.1v1.1h-1.1zM292.5 -59.6h1.3v1.1h-1.3zM294.4 -59.6h1.1v0.9h-1.1zM303.6 -59.3h1.3v1.1h-1.3zM210.0 -55.6h1.1v1.3h-1.1zM217.0 -56.5h1.3v1.3h-1.3zM220.6 -55.7h1.3v1.3h-1.3zM218.2 -50.7h1.1v0.9h-1.1zM249.7 -24.2h1.7v0.9h-1.7zM249.5 -24.2h1.1v1.3h-1.1z"/><path fill="#3f9f72" d="M76.4 -49.5h1.3v0.9h-1.3zM80.0 -45.1h0.9v1.3h-0.9zM74.4 -42.0h1.3v1.3h-1.3zM82.2 -42.5h1.1v1.1h-1.1zM84.7 -49.2h1.1v1.3h-1.1zM59.6 -49.7h1.1v1.3h-1.1zM24.9 -60.4h0.9v0.9h-0.9zM107.3 -5.5h1.3v1.3h-1.3zM106.1 -2.8h1.7v0.9h-1.7zM107.5 -2.8h1.3v0.9h-1.3zM89.4 2.6h1.7v1.1h-1.7zM89.0 4.4h0.9v0.9h-0.9zM89.0 2.8h1.1v0.9h-1.1zM159.8 -10.6h1.3v1.3h-1.3zM168.5 4.1h0.9v1.1h-0.9zM168.0 5.6h1.7v0.9h-1.7zM168.9 3.5h1.3v1.1h-1.3zM168.5 4.9h0.9v0.9h-0.9zM169.5 4.8h1.3v0.9h-1.3zM173.2 -49.4h0.9v1.1h-0.9zM167.0 -52.0h1.1v1.3h-1.1zM176.1 -49.5h1.7v1.1h-1.7zM172.6 -47.6h0.9v1.1h-0.9zM239.2 -27.7h1.7v1.1h-1.7zM237.0 -28.6h1.7v1.1h-1.7zM237.8 -24.0h0.9v1.1h-0.9zM240.7 -28.2h1.3v1.1h-1.3zM240.6 -27.9h0.9v0.9h-0.9zM234.6 -27.7h1.3v1.1h-1.3zM241.9 -29.0h0.9v0.9h-0.9zM243.9 -27.9h0.9v0.9h-0.9zM244.6 -29.7h1.3v1.3h-1.3zM238.4 -26.6h1.7v0.9h-1.7zM240.9 -27.8h1.1v1.3h-1.1zM235.8 -27.9h0.9v0.9h-0.9zM235.8 -28.0h1.3v1.3h-1.3zM236.6 -26.6h1.1v1.1h-1.1zM234.4 -28.0h1.7v1.1h-1.7zM234.9 -27.0h1.3v0.9h-1.3zM238.0 -25.2h0.9v1.1h-0.9zM241.0 -27.5h0.9v0.9h-0.9zM241.0 -26.5h1.3v0.9h-1.3zM239.8 -28.7h1.1v1.3h-1.1zM241.4 -28.5h0.9v1.1h-0.9zM241.2 -24.3h0.9v0.9h-0.9zM239.3 -27.8h0.9v1.3h-0.9zM238.9 -35.8h1.3v0.9h-1.3zM244.4 -35.0h1.3v1.3h-1.3zM235.0 -37.3h1.1v1.3h-1.1zM293.4 -56.3h0.9v0.9h-0.9zM253.3 -56.7h1.3v0.9h-1.3zM244.0 -57.7h1.1v1.1h-1.1zM264.2 -60.4h0.9v1.3h-0.9zM253.8 -58.9h0.9v1.1h-0.9zM273.0 -56.1h1.7v1.3h-1.7zM261.4 -62.9h1.7v1.3h-1.7zM243.7 -57.4h1.1v1.3h-1.1zM261.5 -62.5h1.1v1.3h-1.1zM243.7 -63.8h1.7v0.9h-1.7zM273.5 -60.8h1.3v0.9h-1.3zM254.7 -58.2h0.9v1.3h-0.9zM271.1 -55.0h1.7v1.1h-1.7zM256.9 -62.7h1.3v1.1h-1.3zM290.1 -62.3h1.7v0.9h-1.7zM303.4 -59.5h0.9v1.1h-0.9zM298.7 -59.4h1.7v1.3h-1.7zM296.4 -59.3h1.1v1.3h-1.1zM222.9 -52.8h1.1v0.9h-1.1zM225.4 -25.1h1.7v1.3h-1.7zM232.6 -24.2h1.7v1.1h-1.7zM223.3 -23.3h1.1v1.3h-1.1zM233.0 -25.5h1.7v0.9h-1.7zM231.2 -24.2h1.1v0.9h-1.1zM232.4 -24.6h0.9v1.3h-0.9zM230.8 -22.6h1.3v1.1h-1.3zM224.2 -23.2h1.1v1.1h-1.1zM221.4 -23.2h1.3v0.9h-1.3zM228.9 -24.0h1.7v0.9h-1.7zM226.3 -13.6h0.9v1.3h-0.9zM226.3 -14.8h1.3v1.3h-1.3zM226.7 -12.6h1.1v1.1h-1.1zM225.9 -14.2h1.7v1.1h-1.7zM226.1 -17.3h1.7v0.9h-1.7z"/><path fill="#d4e8b8" d="M80.6 -50.3h1.3v1.3h-1.3zM89.1 -42.8h1.7v1.3h-1.7zM61.4 -45.9h1.3v0.9h-1.3zM58.3 -49.6h0.9v0.9h-0.9zM61.6 -45.7h1.3v1.1h-1.3zM62.6 -49.2h0.9v0.9h-0.9zM58.0 -54.6h1.3v0.9h-1.3zM21.7 -58.8h1.7v0.9h-1.7zM107.2 -4.9h1.3v0.9h-1.3zM106.6 -4.8h1.3v1.3h-1.3zM92.5 3.1h0.9v0.9h-0.9zM88.6 2.7h1.7v0.9h-1.7zM92.5 1.7h1.7v1.1h-1.7zM97.2 5.7h1.1v0.9h-1.1zM95.3 4.9h0.9v1.1h-0.9zM94.1 3.5h1.1v1.1h-1.1zM92.4 4.1h1.1v1.3h-1.1zM93.5 8.2h0.9v1.3h-0.9zM91.0 8.4h1.3v1.3h-1.3zM93.2 6.1h1.1v0.9h-1.1zM94.5 -0.2h1.1v0.9h-1.1zM94.6 5.7h1.7v1.3h-1.7zM92.3 3.1h1.1v1.1h-1.1zM91.7 5.2h1.3v1.1h-1.3zM91.6 5.3h0.9v1.3h-0.9zM94.5 0.4h0.9v1.1h-0.9zM242.7 -29.5h0.9v0.9h-0.9zM231.2 -28.0h1.7v0.9h-1.7zM237.2 -27.7h0.9v1.1h-0.9zM240.8 -30.2h1.3v0.9h-1.3zM241.7 -25.8h0.9v0.9h-0.9zM235.6 -30.1h1.1v1.3h-1.1zM243.9 -27.3h0.9v0.9h-0.9zM242.3 -28.8h1.7v0.9h-1.7zM237.4 -27.6h1.7v1.3h-1.7zM244.2 -24.7h1.3v1.3h-1.3zM236.1 -29.7h0.9v0.9h-0.9zM236.1 -25.3h1.3v1.3h-1.3zM242.0 -26.5h1.1v0.9h-1.1zM241.2 -26.3h0.9v0.9h-0.9zM238.1 -35.8h0.9v0.9h-0.9zM239.9 -36.5h1.7v1.3h-1.7zM230.5 -55.7h1.7v1.3h-1.7zM242.4 -57.9h1.3v0.9h-1.3zM229.8 -57.1h0.9v1.1h-0.9zM269.2 -56.1h1.1v1.3h-1.1zM270.0 -51.6h1.7v1.3h-1.7zM217.3 -57.6h0.9v0.9h-0.9zM278.0 -55.8h1.3v1.3h-1.3zM281.6 -59.9h1.7v1.1h-1.7zM285.8 -61.3h1.7v0.9h-1.7zM292.6 -59.5h1.7v0.9h-1.7zM292.9 -57.4h1.7v1.1h-1.7zM301.4 -58.3h1.3v1.3h-1.3zM290.7 -59.5h1.7v1.1h-1.7zM218.6 -54.6h1.3v1.1h-1.3zM217.2 -56.1h1.1v1.1h-1.1zM231.5 -55.8h1.7v1.3h-1.7z"/><path fill="#2a8a62" d="M90.4 0.9h0.9v1.1h-0.9zM89.2 4.1h1.7v1.3h-1.7zM88.6 1.4h1.7v0.9h-1.7zM89.0 1.6h1.7v0.9h-1.7zM169.3 4.1h0.9v1.3h-0.9zM169.3 2.7h1.1v1.1h-1.1zM238.4 -26.5h0.9v1.3h-0.9zM235.9 -26.8h0.9v1.1h-0.9zM232.2 -22.3h1.1v0.9h-1.1zM226.9 -23.7h0.9v1.3h-0.9zM229.6 -22.5h1.7v1.3h-1.7zM235.1 -24.1h1.7v0.9h-1.7z"/><path fill="#8a4a0a" d="M179.6 -2.2h1.3v0.9h-1.3zM177.8 -1.3h1.7v1.3h-1.7zM180.1 -0.9h1.3v0.9h-1.3zM173.9 -0.2h0.9v1.1h-0.9zM178.5 -2.4h1.3v0.9h-1.3zM178.3 0.7h1.7v1.1h-1.7zM178.0 4.9h1.3v1.3h-1.3zM177.9 2.4h0.9v1.1h-0.9zM180.3 -1.7h1.1v0.9h-1.1zM175.0 -2.3h1.7v0.9h-1.7zM177.5 1.0h0.9v0.9h-0.9zM178.3 -1.1h1.7v0.9h-1.7zM177.8 -1.6h0.9v1.1h-0.9zM175.8 -3.0h1.7v1.3h-1.7zM175.6 -4.4h1.3v0.9h-1.3zM175.7 -3.6h1.7v1.1h-1.7zM178.8 -1.8h0.9v1.1h-0.9zM178.8 -3.9h1.1v1.3h-1.1zM176.7 -1.6h1.7v1.1h-1.7zM175.2 1.9h1.7v1.3h-1.7z"/><path fill="#f6e8c0" d="M278.9 23.8h1.7v1.3h-1.7zM278.7 23.8h0.9v1.1h-0.9z"/><path fill="#fff" d="M97.0 14.6L99.3 15.1L99.8 22.1L98.5 24.1L97.0 20.1ZM281.6 24.3L281.3 24.9L281.2 26.1L279.8 26.6L278.9 25.4L278.2 25.0L277.7 24.3L277.8 23.5L278.6 22.8L279.8 22.5L281.2 22.5L281.5 23.6ZM277.8 23.1L277.6 23.6L277.1 24.1L276.5 24.2L275.9 24.1L275.4 23.6L275.2 23.1L275.4 22.5L275.9 22.1L276.5 22.0L277.1 22.1L277.6 22.5ZM56.9 -30.3L56.7 -29.5L56.3 -28.9L55.7 -28.7L55.1 -28.9L54.7 -29.5L54.5 -30.3L54.7 -31.1L55.1 -31.7L55.7 -31.9L56.3 -31.7L56.7 -31.1Z"/></g>
<g id="ovef"><path fill="#fff" d="M140.0 -23.9L145.0 -24.9L149.0 -26.4L154.0 -29.9L157.0 -31.4L157.0 -33.9L162.0 -33.4L167.0 -32.4L185.0 -29.6L188.0 -28.9L193.0 -28.4L201.0 -28.9L207.0 -27.9L213.0 -23.9L213.0 -11.3L203.0 -11.3L203.0 -8.7L196.6 -8.7L196.3 -10.9L191.0 -11.3L189.0 -13.6L186.0 -13.9L172.0 -13.5L157.0 -13.9L144.0 -13.3L140.0 -13.7ZM204.2 -43.7L208.9 -44.3L217.0 -43.1L221.7 -40.8L221.1 -39.1L217.0 -37.9L215.9 -34.4L217.0 -30.9L219.4 -27.4L221.7 -24.5L221.1 -22.1L217.0 -21.3L212.4 -22.3L208.3 -23.1L205.4 -24.6L201.9 -27.5L200.7 -32.0L201.3 -36.7L202.4 -40.2ZM225.2 -34.4L231.0 -36.7L236.9 -40.2L245.0 -40.8L252.0 -39.6L256.7 -38.5L252.0 -36.1L245.0 -33.2L240.4 -32.0L234.6 -28.5L233.4 -26.8L228.7 -29.7L226.4 -32.0ZM172.0 18.1L174.0 20.1L176.0 23.1L177.3 27.1L175.5 29.6L173.0 26.1L171.0 21.1ZM201.0 -44.9L207.0 -46.4L212.0 -44.9L218.0 -41.9L221.7 -40.4L221.0 -37.9L217.0 -36.9L216.0 -33.9L218.0 -30.4L220.0 -26.9L222.0 -23.9L221.0 -21.4L217.0 -20.9L212.0 -21.9L208.0 -22.7L205.0 -24.4L201.5 -27.4L200.0 -31.9L200.5 -37.9ZM223.0 -33.9L229.0 -36.4L237.0 -38.4L247.0 -38.9L255.0 -38.4L254.0 -35.9L247.0 -34.9L240.0 -33.4L233.0 -31.9L226.0 -30.9ZM270.2 -44.4L267.2 -43.2L264.1 -42.1L258.0 -41.7L253.9 -42.8L251.4 -43.6L250.7 -44.4L248.5 -45.6L252.9 -46.3L258.0 -46.7L264.0 -46.7L267.9 -45.7ZM268.6 -57.9L266.3 -57.1L261.6 -56.9L258.0 -56.4L254.7 -57.0L248.0 -57.0L249.7 -57.9L251.7 -58.5L252.8 -59.3L258.0 -59.3L263.9 -59.5L268.3 -58.8ZM285.0 -60.9L282.9 -60.5L282.7 -59.8L280.0 -59.5L277.2 -59.7L277.0 -60.5L276.3 -60.9L276.8 -61.3L277.4 -62.0L280.0 -61.8L281.9 -61.7L284.0 -61.5ZM220.8 -53.2L220.4 -52.6L218.8 -52.1L216.5 -51.9L214.3 -52.2L211.6 -52.5L212.5 -53.2L211.7 -53.9L213.6 -54.5L216.5 -54.8L218.7 -54.2L220.9 -53.9ZM246.1 -51.9L245.0 -51.4L244.2 -50.8L241.0 -50.4L238.4 -51.0L234.8 -51.2L234.0 -51.9L236.8 -52.4L238.1 -52.9L241.0 -52.9L243.1 -52.6L247.1 -52.6ZM223.5 -17.9L222.8 -16.5L221.9 -15.7L221.0 -14.9L220.0 -15.5L219.0 -16.3L218.6 -17.9L219.3 -19.2L219.7 -21.0L221.0 -21.3L222.5 -21.4L222.8 -19.3ZM285.6 23.1L285.0 25.6L283.2 28.3L279.0 28.2L274.9 28.1L273.6 25.3L272.2 23.1L273.3 20.8L275.7 19.1L279.0 16.9L282.3 19.0L285.6 20.4ZM269.1 24.6L268.4 25.7L267.1 26.7L265.0 27.2L262.4 27.1L262.6 25.4L260.2 24.6L261.4 23.4L262.9 22.5L265.0 22.9L267.4 22.2L268.9 23.3ZM276.1 29.1L275.6 29.7L274.6 30.2L273.0 30.2L271.5 30.1L269.8 29.8L270.4 29.1L270.4 28.5L271.6 28.1L273.0 27.7L274.3 28.2L276.1 28.4ZM288.9 21.1L289.1 22.9L288.2 24.3L287.0 23.7L286.0 23.6L285.0 22.8L285.4 21.1L285.6 19.9L286.2 19.0L287.0 17.5L287.7 19.3L288.3 19.9ZM57.1 -29.9L56.9 -28.3L56.3 -26.5L55.0 -26.5L53.8 -26.8L51.8 -27.1L52.9 -29.9L52.6 -32.0L53.2 -34.6L55.0 -33.0L56.4 -33.6L57.8 -32.4ZM64.7 -27.9L65.1 -26.5L64.0 -24.8L61.0 -25.0L59.0 -25.8L55.8 -26.1L55.0 -27.9L56.7 -29.4L58.5 -30.5L61.0 -31.4L62.8 -29.8L66.0 -29.6ZM69.9 -33.9L69.5 -33.0L68.2 -32.6L67.0 -32.1L66.0 -32.7L63.9 -32.7L63.7 -33.9L64.9 -34.7L65.9 -35.2L67.0 -35.7L68.1 -35.1L70.2 -35.1ZM98.5 37.1L98.1 38.8L98.0 41.7L97.0 42.7L96.0 41.9L95.2 40.0L95.4 37.1L95.1 34.1L96.4 34.2L97.0 33.4L97.6 34.3L98.6 34.5ZM101.0 20.1L100.5 23.7L99.3 24.6L98.5 25.7L97.1 27.5L96.5 23.8L95.8 20.1L97.2 17.7L97.4 14.2L98.5 14.1L99.3 15.9L100.4 16.7ZM108.9 27.1L109.0 28.5L108.0 29.2L107.0 29.1L105.8 29.8L105.3 28.3L105.4 27.1L104.9 25.6L106.3 25.6L107.0 24.1L107.9 25.2L108.4 26.1ZM166.9 -12.4L167.0 -11.9L164.7 -11.3L157.0 -11.3L149.9 -11.3L146.7 -11.9L141.0 -12.4L146.9 -12.9L150.2 -13.4L157.0 -13.5L165.0 -13.6L171.8 -13.1ZM189.3 -12.4L187.4 -11.8L185.2 -11.3L182.0 -11.2L179.7 -11.6L175.9 -11.7L175.2 -12.4L177.0 -13.0L179.3 -13.3L182.0 -13.8L184.2 -13.2L187.2 -13.0ZM177.2 26.6L177.1 27.7L176.4 28.4L175.5 29.3L173.9 29.7L173.8 27.8L172.7 26.6L173.9 25.6L174.7 24.9L175.5 23.5L176.5 24.7L177.4 25.4ZM185.7 27.1L184.2 27.7L183.6 28.5L182.0 28.5L180.5 28.4L179.0 28.0L179.9 27.1L180.3 26.6L180.9 26.2L182.0 25.7L183.7 25.6L185.0 26.2ZM71.6 -57.9L71.5 -57.1L68.7 -57.0L67.0 -56.4L64.8 -56.8L62.2 -57.1L62.5 -57.9L62.8 -58.6L65.1 -58.9L67.0 -59.6L69.6 -59.2L69.8 -58.4ZM87.5 -56.9L87.5 -56.3L86.8 -55.6L85.0 -56.0L83.2 -55.7L81.9 -56.2L83.0 -56.9L82.7 -57.4L83.8 -57.8L85.0 -58.0L86.1 -57.7L87.9 -57.6ZM167.7 -44.9L166.8 -44.5L166.7 -43.7L165.0 -43.6L163.2 -43.7L162.3 -44.3L162.3 -44.9L162.8 -45.4L163.5 -45.9L165.0 -46.3L166.8 -46.1L167.6 -45.5ZM159.0 -39.9L158.7 -39.2L158.0 -38.6L157.0 -38.4L156.0 -38.6L155.3 -39.2L155.0 -39.9L155.3 -40.7L156.0 -41.2L157.0 -41.4L158.0 -41.2L158.7 -40.7ZM197.8 -29.9L197.1 -29.4L195.7 -29.0L194.0 -28.7L191.0 -28.3L189.0 -29.0L190.0 -29.9L189.4 -30.7L191.4 -31.2L194.0 -31.5L196.6 -31.2L197.4 -30.5ZM189.4 -34.4L189.5 -33.9L188.2 -33.7L187.0 -33.7L185.3 -33.4L184.0 -33.8L183.6 -34.4L184.5 -34.9L185.9 -35.0L187.0 -35.5L188.3 -35.2L189.7 -34.9Z"/><g filter="url(#b1)"><ellipse cx="59.5" cy="-30.9" rx="8.5" ry="6.8" fill="#f0d9a8" fill-opacity="0.35"/><ellipse cx="115.8" cy="12.1" rx="5.5" ry="6.8" fill="#e8b050" fill-opacity="0.2"/><ellipse cx="103.5" cy="22.1" rx="6.0" ry="9.3" fill="#e8b050" fill-opacity="0.25"/><ellipse cx="179.5" cy="-0.9" rx="9.8" ry="10.6" fill="#e4a848" fill-opacity="0.4"/></g><path fill="#ecc378" d="M61.4 -36.4h1.7v1.3h-1.7zM59.3 -32.1h1.1v0.9h-1.1zM54.4 -23.8h1.1v1.3h-1.1zM58.5 -30.9h1.3v0.9h-1.3zM61.1 -33.4h0.9v1.1h-0.9zM55.2 -31.6h1.3v1.3h-1.3zM52.0 -31.8h1.3v1.1h-1.3zM55.0 -30.4h0.9v1.1h-0.9zM60.9 -36.3h1.3v1.1h-1.3zM59.2 -30.8h1.3v1.3h-1.3zM55.9 -28.0h1.1v1.3h-1.1zM50.1 -31.4h1.3v1.1h-1.3zM58.9 -29.5h0.9v0.9h-0.9zM61.5 -31.5h1.1v1.1h-1.1zM64.5 -34.8h1.3v1.3h-1.3zM53.5 -33.1h1.3v0.9h-1.3zM63.7 -30.3h0.9v1.1h-0.9zM64.0 -35.8h1.1v0.9h-1.1zM56.6 -37.5h1.3v1.1h-1.3zM54.9 -29.0h1.7v0.9h-1.7zM55.1 -31.1h1.7v0.9h-1.7zM56.9 -56.6h1.3v0.9h-1.3zM59.2 -56.0h1.3v1.3h-1.3zM57.8 -56.1h1.3v1.3h-1.3zM59.1 -57.1h1.3v1.3h-1.3zM88.9 -48.4h1.7v0.9h-1.7zM101.5 -52.2h1.1v1.1h-1.1zM68.1 -54.1h1.1v0.9h-1.1zM75.9 -53.1h1.3v1.1h-1.3zM92.5 -44.1h1.3v1.3h-1.3zM96.6 -43.8h0.9v1.3h-0.9zM91.3 -46.7h1.7v1.3h-1.7zM93.2 -48.8h1.3v1.3h-1.3zM94.0 -46.8h1.1v0.9h-1.1zM93.6 -46.8h1.1v0.9h-1.1zM94.1 -6.9h1.1v1.3h-1.1zM96.7 -4.4h1.3v0.9h-1.3zM95.3 -5.3h1.7v1.3h-1.7zM95.8 -4.0h1.3v1.3h-1.3zM92.4 -6.7h1.7v1.3h-1.7zM92.0 -9.4h1.3v0.9h-1.3zM90.8 -5.2h1.1v1.1h-1.1zM107.5 -4.0h1.1v1.3h-1.1zM106.4 -2.8h0.9v1.3h-0.9zM97.1 2.2h1.1v1.1h-1.1zM92.1 4.4h1.1v1.3h-1.1zM93.1 1.6h0.9v1.1h-0.9zM92.9 4.7h1.3v0.9h-1.3zM102.8 1.0h1.3v0.9h-1.3zM99.3 2.5h1.7v1.3h-1.7zM100.8 1.7h1.3v1.1h-1.3zM91.7 2.3h1.1v0.9h-1.1zM97.7 8.5h1.3v1.3h-1.3zM97.6 7.5h0.9v0.9h-0.9zM94.7 5.1h0.9v1.1h-0.9zM116.9 13.9h0.9v0.9h-0.9zM118.6 11.3h0.9v1.3h-0.9zM117.1 9.9h1.7v0.9h-1.7zM116.4 14.1h1.7v1.3h-1.7zM114.4 16.9h1.1v0.9h-1.1zM111.3 15.0h1.7v1.1h-1.7zM119.3 13.3h0.9v1.1h-0.9zM114.6 9.2h1.7v1.1h-1.7zM117.4 10.4h1.3v0.9h-1.3zM116.8 13.1h0.9v1.3h-0.9zM118.9 13.9h0.9v1.3h-0.9zM111.4 11.5h1.3v1.3h-1.3zM116.0 13.1h1.7v1.1h-1.7zM117.4 11.3h1.1v1.1h-1.1zM119.5 8.1h0.9v0.9h-0.9zM120.4 8.9h0.9v0.9h-0.9zM113.9 14.5h1.1v0.9h-1.1zM101.0 28.4h0.9v1.1h-0.9zM102.0 16.9h1.7v1.3h-1.7zM101.1 21.8h1.7v1.3h-1.7zM102.3 14.4h1.1v0.9h-1.1zM102.4 23.4h1.7v1.1h-1.7zM98.2 25.8h1.3v1.1h-1.3zM101.8 15.2h0.9v1.3h-0.9zM103.9 15.9h1.7v1.1h-1.7zM106.0 22.6h1.1v1.3h-1.1zM103.0 30.9h1.1v1.3h-1.1zM108.5 16.4h1.7v1.3h-1.7zM105.2 24.2h0.9v0.9h-0.9zM100.8 17.8h1.3v1.3h-1.3zM106.8 22.5h1.3v1.3h-1.3zM103.0 13.7h1.1v1.3h-1.1zM105.6 20.4h1.3v1.1h-1.3zM106.4 21.6h1.7v1.3h-1.7zM107.4 26.8h1.3v1.1h-1.3zM102.3 18.1h1.1v1.1h-1.1zM104.6 23.2h1.3v0.9h-1.3zM102.2 16.6h1.7v1.3h-1.7zM98.4 20.5h1.7v1.1h-1.7zM107.5 28.0h1.3v1.3h-1.3zM107.1 18.6h1.7v0.9h-1.7zM104.5 19.2h1.7v0.9h-1.7zM100.2 23.6h1.3v0.9h-1.3zM173.7 8.1h1.7v1.3h-1.7zM172.8 -8.9h1.3v1.3h-1.3zM181.4 0.6h1.1v1.1h-1.1zM172.2 0.2h1.1v1.1h-1.1zM170.8 -3.7h1.3v1.1h-1.3zM181.8 4.2h1.3v1.1h-1.3zM176.7 -9.2h1.3v0.9h-1.3zM178.5 -6.6h1.7v1.3h-1.7zM178.7 2.4h1.3v0.9h-1.3zM171.1 -4.1h1.7v1.3h-1.7zM187.6 -4.4h1.1v0.9h-1.1zM186.6 2.3h1.3v0.9h-1.3zM171.1 -0.2h1.7v1.3h-1.7zM176.2 -2.5h1.7v1.3h-1.7zM181.2 -9.2h1.7v1.1h-1.7zM183.7 4.2h0.9v0.9h-0.9zM168.9 -4.5h1.1v1.3h-1.1zM182.0 -7.4h1.7v1.3h-1.7zM177.2 -8.1h1.1v1.1h-1.1zM187.2 -4.2h0.9v1.1h-0.9zM174.5 -0.8h1.3v0.9h-1.3zM175.0 -2.2h1.1v1.3h-1.1zM185.7 1.2h0.9v1.1h-0.9zM178.4 -7.0h1.1v0.9h-1.1zM174.7 2.4h1.1v0.9h-1.1zM172.9 6.5h0.9v1.1h-0.9zM182.0 2.9h1.1v0.9h-1.1zM175.4 4.0h1.7v0.9h-1.7zM182.4 -3.1h1.1v1.1h-1.1zM186.3 3.1h1.3v1.3h-1.3zM175.6 0.5h1.7v1.3h-1.7zM182.5 4.4h1.7v1.1h-1.7zM188.1 2.0h0.9v1.3h-0.9zM177.7 -7.6h1.3v1.1h-1.3zM188.2 -2.4h1.3v1.1h-1.3zM173.5 3.8h1.1v1.1h-1.1zM184.0 -0.7h1.7v1.3h-1.7zM174.3 -1.6h1.3v1.1h-1.3zM174.6 -7.7h1.3v1.1h-1.3zM176.4 -5.5h1.3v1.1h-1.3zM171.3 -4.7h1.3v1.3h-1.3zM175.0 -6.0h1.1v1.3h-1.1zM179.9 -1.2h1.1v0.9h-1.1zM180.8 7.2h0.9v0.9h-0.9zM189.7 -9.5h0.9v1.1h-0.9zM176.9 -3.0h1.7v0.9h-1.7zM170.6 4.6h1.1v1.3h-1.1zM178.7 0.6h0.9v0.9h-0.9zM183.4 -1.1h1.7v1.1h-1.7zM178.5 2.5h1.7v1.3h-1.7zM174.1 7.7h1.7v1.1h-1.7zM176.4 -6.0h0.9v0.9h-0.9zM182.6 -7.7h1.3v1.3h-1.3zM179.5 -3.8h0.9v1.3h-0.9zM183.5 1.7h1.1v0.9h-1.1zM178.9 -5.6h1.1v1.3h-1.1zM173.4 -8.2h1.7v1.3h-1.7zM183.6 -4.3h0.9v1.3h-0.9zM185.9 -11.0h0.9v1.1h-0.9zM190.0 -10.0h1.3v0.9h-1.3zM186.5 -9.5h0.9v1.3h-0.9zM186.3 -12.5h1.7v0.9h-1.7zM189.4 -10.0h0.9v1.3h-0.9zM186.5 -11.4h1.3v0.9h-1.3zM186.1 -11.0h0.9v0.9h-0.9zM184.4 -10.1h0.9v1.3h-0.9zM195.5 -4.0h0.9v1.1h-0.9zM196.6 -2.6h1.7v1.3h-1.7zM193.0 -1.0h1.3v0.9h-1.3zM194.7 -3.8h1.1v1.1h-1.1zM194.4 -6.0h0.9v0.9h-0.9zM196.5 1.0h1.3v0.9h-1.3zM198.3 -5.7h1.3v1.1h-1.3zM193.6 -4.0h1.1v1.1h-1.1zM197.1 2.1h1.7v1.3h-1.7zM148.6 -8.8h0.9v0.9h-0.9zM149.1 -11.0h1.1v1.3h-1.1zM159.8 -7.8h0.9v0.9h-0.9zM157.8 -10.6h0.9v1.1h-0.9zM163.3 -8.8h1.3v1.3h-1.3zM157.0 -8.4h0.9v0.9h-0.9zM159.9 -8.9h1.3v1.3h-1.3zM157.7 -10.2h1.7v1.1h-1.7zM162.8 -10.0h0.9v0.9h-0.9zM158.2 -8.0h1.1v0.9h-1.1zM196.9 17.0h1.7v1.1h-1.7zM151.2 -28.2h1.7v1.3h-1.7zM152.6 -28.4h1.7v0.9h-1.7zM162.6 -43.7h1.1v1.3h-1.1zM164.2 -42.9h1.3v1.3h-1.3zM166.1 -40.3h1.1v1.1h-1.1zM159.7 -42.0h1.7v1.3h-1.7zM170.6 -45.0h1.1v1.3h-1.1zM172.0 -43.6h0.9v1.3h-0.9zM168.3 -39.6h0.9v0.9h-0.9zM175.9 -42.8h1.7v1.1h-1.7zM154.1 -42.6h1.7v1.1h-1.7zM165.2 -42.2h0.9v0.9h-0.9zM167.7 -40.0h0.9v0.9h-0.9zM192.6 -43.2h0.9v0.9h-0.9zM190.5 -40.9h1.1v0.9h-1.1zM189.1 -40.8h0.9v1.3h-0.9zM191.2 -43.7h0.9v1.3h-0.9zM194.0 -44.7h1.1v1.3h-1.1zM196.1 -40.4h1.3v0.9h-1.3zM194.6 -41.5h1.7v1.1h-1.7zM199.0 -39.7h1.3v1.1h-1.3zM197.8 -40.8h1.7v1.1h-1.7zM197.4 -38.2h1.1v0.9h-1.1zM195.9 -39.9h1.1v0.9h-1.1zM195.4 -33.9h1.3v1.1h-1.3zM191.6 -31.9h1.3v1.1h-1.3zM201.5 -34.1h0.9v1.1h-0.9zM194.2 -34.3h0.9v0.9h-0.9zM217.2 -39.4h1.3v0.9h-1.3zM221.2 -40.1h0.9v1.1h-0.9zM208.1 -40.3h1.3v1.1h-1.3zM224.3 -38.7h1.1v1.1h-1.1zM228.8 -38.3h1.1v1.3h-1.1zM228.4 -42.0h1.3v1.1h-1.3zM218.8 -43.0h0.9v0.9h-0.9zM216.8 -38.9h0.9v0.9h-0.9zM211.1 -41.9h1.1v1.3h-1.1zM217.5 -40.6h0.9v1.3h-0.9zM216.0 -39.4h1.1v1.3h-1.1zM217.1 -38.6h1.1v1.1h-1.1zM213.1 -41.4h1.3v1.3h-1.3zM224.5 -41.0h1.7v0.9h-1.7zM223.2 -39.6h1.3v0.9h-1.3zM261.8 -42.7h1.7v0.9h-1.7zM259.6 -44.4h0.9v0.9h-0.9zM262.0 -43.6h1.3v1.1h-1.3zM252.5 -45.8h0.9v1.3h-0.9zM262.7 -43.9h0.9v1.1h-0.9zM261.9 -44.1h1.3v1.1h-1.3zM265.4 -46.9h1.1v1.1h-1.1zM264.4 -44.4h1.1v0.9h-1.1zM260.0 -43.6h1.7v1.1h-1.7zM264.7 -42.5h1.7v1.3h-1.7zM261.0 -45.2h1.1v1.3h-1.1zM261.6 -45.0h0.9v1.1h-0.9zM262.0 -44.4h1.7v1.1h-1.7zM260.0 -43.0h1.1v1.1h-1.1zM256.5 -43.6h1.3v1.1h-1.3zM258.4 -42.2h1.1v0.9h-1.1zM260.0 -43.7h1.1v1.1h-1.1zM241.9 -26.8h0.9v1.1h-0.9zM250.4 -25.6h1.7v1.3h-1.7zM239.1 -22.9h1.3v1.1h-1.3zM248.6 -24.9h0.9v1.1h-0.9zM247.2 -28.8h0.9v0.9h-0.9zM249.3 -24.6h1.1v0.9h-1.1zM247.4 -23.9h1.7v0.9h-1.7zM245.0 -26.9h1.1v1.3h-1.1zM252.0 -25.9h0.9v1.3h-0.9zM251.0 -24.8h1.3v1.3h-1.3zM249.8 -24.6h1.3v1.3h-1.3zM243.9 -27.4h1.3v1.1h-1.3zM247.2 -22.0h0.9v0.9h-0.9zM241.8 -24.7h1.7v1.3h-1.7zM245.3 -24.1h1.7v1.1h-1.7zM248.2 -26.1h0.9v0.9h-0.9zM244.4 -28.3h0.9v0.9h-0.9zM239.8 -24.7h1.1v0.9h-1.1zM240.8 -24.6h0.9v1.1h-0.9zM255.4 -26.5h1.3v1.3h-1.3zM239.3 -24.3h0.9v0.9h-0.9zM241.6 -25.0h1.7v0.9h-1.7zM258.6 -28.0h1.7v0.9h-1.7zM256.7 -26.3h1.1v1.3h-1.1zM258.7 -25.1h0.9v1.3h-0.9zM259.6 -28.2h1.3v1.1h-1.3zM258.6 -24.7h1.7v1.1h-1.7zM285.1 -60.6h0.9v1.1h-0.9zM286.3 -59.7h1.3v1.3h-1.3zM277.6 26.2h1.3v1.1h-1.3zM281.1 19.8h1.1v1.1h-1.1z"/><path fill="#ffffff" d="M51.4 -32.6h1.3v1.3h-1.3zM64.1 -32.9h0.9v1.1h-0.9zM59.5 -35.7h1.3v1.1h-1.3zM58.4 -30.9h1.7v0.9h-1.7zM53.3 -26.1h0.9v0.9h-0.9zM55.9 -36.0h1.7v1.3h-1.7zM63.1 -33.0h1.7v1.3h-1.7zM61.7 -30.1h1.3v1.1h-1.3zM53.8 -28.8h1.7v1.1h-1.7zM51.4 -35.3h0.9v1.3h-0.9zM50.4 -34.7h1.3v0.9h-1.3zM60.8 -30.3h1.1v0.9h-1.1zM51.9 -29.9h1.1v0.9h-1.1zM64.3 -31.3h1.7v1.3h-1.7zM59.5 -26.0h0.9v0.9h-0.9zM57.1 -24.8h1.3v1.3h-1.3zM57.2 -35.7h1.7v1.1h-1.7zM52.8 -26.2h1.1v1.1h-1.1zM59.9 -30.1h1.3v1.1h-1.3zM48.5 -33.2h0.9v1.3h-0.9zM57.7 -26.8h1.1v1.1h-1.1zM62.2 -24.3h0.9v0.9h-0.9zM58.3 -30.5h1.3v1.3h-1.3zM61.4 -35.5h1.3v1.1h-1.3zM60.9 -31.4h1.7v1.3h-1.7zM61.8 -27.6h1.3v1.3h-1.3zM59.7 -28.9h1.7v0.9h-1.7zM53.3 -28.2h0.9v1.3h-0.9zM60.5 -31.2h0.9v0.9h-0.9zM66.1 -30.3h1.7v1.1h-1.7zM61.5 -34.5h1.7v1.1h-1.7zM51.2 -32.2h1.3v1.3h-1.3zM62.7 -32.6h1.3v1.1h-1.3zM67.3 -34.7h1.1v1.1h-1.1zM59.1 -32.5h1.3v0.9h-1.3zM59.7 -33.8h0.9v1.3h-0.9zM61.2 -28.8h0.9v0.9h-0.9zM60.5 -33.8h1.7v1.1h-1.7zM59.5 -33.7h1.1v0.9h-1.1zM56.2 -29.5h1.1v0.9h-1.1zM58.7 -28.0h0.9v1.1h-0.9zM62.7 -32.2h0.9v1.3h-0.9zM54.8 -32.8h0.9v1.1h-0.9zM63.3 -28.2h0.9v1.1h-0.9zM63.4 -33.0h1.1v0.9h-1.1zM59.0 -33.3h1.3v0.9h-1.3zM60.1 -34.6h1.3v1.3h-1.3zM60.3 -33.8h1.7v0.9h-1.7zM57.5 -32.7h1.3v1.3h-1.3zM53.0 -34.4h1.7v1.3h-1.7zM56.5 -33.7h1.3v0.9h-1.3zM57.7 -29.3h1.7v1.3h-1.7zM65.3 -27.4h1.7v0.9h-1.7zM56.1 -31.6h1.7v1.1h-1.7zM57.8 -56.7h1.7v1.3h-1.7zM57.5 -55.3h0.9v1.1h-0.9zM59.8 -55.9h1.1v1.1h-1.1zM58.8 -56.3h0.9v1.3h-0.9zM59.5 -55.9h1.3v0.9h-1.3zM59.2 -56.4h1.3v1.3h-1.3zM58.4 -56.6h1.7v0.9h-1.7zM69.4 -53.7h1.3v1.3h-1.3zM71.7 -47.0h1.3v1.3h-1.3zM86.2 -48.6h0.9v0.9h-0.9zM80.4 -52.2h1.1v0.9h-1.1zM84.9 -56.0h0.9v1.1h-0.9zM64.2 -47.8h1.1v1.1h-1.1zM84.4 -46.9h1.7v1.3h-1.7zM76.6 -52.0h1.7v1.1h-1.7zM61.5 -51.5h1.1v1.1h-1.1zM56.9 -48.7h1.7v1.1h-1.7zM90.1 -43.9h1.7v1.3h-1.7zM70.0 -49.9h1.3v1.1h-1.3zM68.8 -52.5h1.7v1.1h-1.7zM75.7 -47.1h0.9v1.3h-0.9zM85.3 -54.2h1.1v0.9h-1.1zM65.7 -47.3h1.7v1.1h-1.7zM59.2 -49.1h1.7v1.1h-1.7zM27.6 -59.7h1.7v1.1h-1.7zM26.4 -60.1h1.7v1.3h-1.7zM25.7 -59.0h0.9v1.3h-0.9zM25.7 -59.3h0.9v1.1h-0.9zM21.0 -59.6h1.1v0.9h-1.1zM28.1 -59.7h1.1v1.3h-1.1zM20.6 -58.8h0.9v0.9h-0.9zM23.9 -58.7h1.7v0.9h-1.7zM94.1 -1.1h1.7v0.9h-1.7zM95.1 -3.3h1.1v1.3h-1.1zM93.8 -2.1h1.3v0.9h-1.3zM95.9 -5.9h1.1v1.1h-1.1zM93.1 -3.1h0.9v0.9h-0.9zM93.3 -6.8h1.7v0.9h-1.7zM92.8 -3.5h1.7v1.1h-1.7zM92.8 -4.2h1.3v1.3h-1.3zM93.1 -5.7h1.7v1.1h-1.7zM92.3 -2.2h1.1v1.1h-1.1zM93.7 -4.0h1.1v1.3h-1.1zM89.9 -4.6h1.1v0.9h-1.1zM106.6 -2.7h1.7v0.9h-1.7zM107.1 -3.1h1.7v1.3h-1.7zM106.8 -3.0h1.7v1.3h-1.7zM105.7 -4.7h0.9v1.1h-0.9zM107.9 -4.3h1.1v1.1h-1.1zM104.7 -4.3h1.7v0.9h-1.7zM95.5 9.2h0.9v0.9h-0.9zM95.0 1.9h1.7v1.1h-1.7zM105.5 4.2h1.3v1.3h-1.3zM97.7 8.3h1.3v1.3h-1.3zM96.9 5.5h0.9v1.3h-0.9zM104.1 7.8h1.1v0.9h-1.1zM101.3 2.8h0.9v1.1h-0.9zM97.4 6.5h1.3v1.1h-1.3zM94.5 7.8h1.1v1.1h-1.1zM93.7 4.1h1.7v1.1h-1.7zM99.3 5.1h1.3v0.9h-1.3zM96.5 5.3h0.9v1.1h-0.9zM99.0 3.2h1.3v1.1h-1.3zM99.1 1.5h1.3v1.1h-1.3zM117.7 11.1h1.7v1.3h-1.7zM119.3 11.6h1.3v0.9h-1.3zM116.1 4.9h1.7v0.9h-1.7zM121.3 11.0h1.3v1.3h-1.3zM115.3 14.5h1.1v1.3h-1.1zM112.8 14.8h1.1v0.9h-1.1zM114.5 12.3h1.3v0.9h-1.3zM113.2 9.2h0.9v1.1h-0.9zM112.4 5.0h1.1v0.9h-1.1zM118.6 7.8h1.1v1.1h-1.1zM115.3 5.9h0.9v0.9h-0.9zM117.0 13.2h1.1v1.1h-1.1zM120.0 11.9h1.1v0.9h-1.1zM114.3 10.2h1.7v1.3h-1.7zM117.9 16.1h1.7v0.9h-1.7zM116.7 13.5h1.1v0.9h-1.1zM111.0 7.7h1.3v0.9h-1.3zM117.8 13.9h0.9v0.9h-0.9zM110.0 10.6h1.1v1.3h-1.1zM117.3 18.3h1.7v1.3h-1.7zM113.8 13.4h1.7v0.9h-1.7zM118.5 11.0h1.7v1.1h-1.7zM113.0 13.3h1.1v1.3h-1.1zM115.9 8.7h0.9v0.9h-0.9zM114.8 9.1h1.3v1.1h-1.3zM116.2 13.5h0.9v1.1h-0.9zM115.2 5.1h1.1v1.3h-1.1zM111.6 14.7h1.3v1.1h-1.3zM113.7 15.5h0.9v1.1h-0.9zM116.3 14.6h1.1v0.9h-1.1zM118.5 14.3h1.7v0.9h-1.7zM114.6 9.8h1.7v1.3h-1.7zM111.8 16.7h1.7v1.3h-1.7zM113.7 10.8h0.9v0.9h-0.9zM115.8 16.4h1.7v1.3h-1.7zM111.7 7.6h1.7v1.3h-1.7zM119.7 13.4h0.9v1.1h-0.9zM120.8 13.3h1.3v0.9h-1.3zM102.9 23.6h0.9v1.1h-0.9zM103.1 20.8h0.9v1.3h-0.9zM100.6 21.9h1.3v0.9h-1.3zM100.5 20.9h1.3v1.1h-1.3zM105.2 24.7h0.9v1.1h-0.9zM99.8 20.8h0.9v0.9h-0.9zM104.1 24.8h0.9v0.9h-0.9zM103.8 20.1h1.1v1.3h-1.1zM101.0 27.4h1.1v0.9h-1.1zM105.9 22.5h1.1v1.3h-1.1zM100.1 27.3h1.3v0.9h-1.3zM102.8 30.5h1.7v1.3h-1.7zM101.9 27.4h1.7v1.3h-1.7zM105.5 23.0h1.3v1.3h-1.3zM104.1 25.2h1.7v1.3h-1.7zM106.4 19.0h1.7v1.3h-1.7zM103.2 26.2h0.9v0.9h-0.9zM102.3 19.8h0.9v0.9h-0.9zM100.8 19.5h0.9v1.3h-0.9zM100.3 17.5h1.3v1.1h-1.3zM102.2 26.2h1.3v0.9h-1.3zM99.9 24.5h1.1v1.3h-1.1zM107.0 21.9h0.9v1.3h-0.9zM102.4 28.6h0.9v1.1h-0.9zM104.2 25.8h1.3v0.9h-1.3zM103.4 24.7h1.1v1.1h-1.1zM107.3 21.8h1.1v1.3h-1.1zM100.9 22.8h0.9v1.3h-0.9zM106.1 30.2h1.1v1.1h-1.1zM99.9 26.2h1.3v0.9h-1.3zM104.1 22.2h1.7v0.9h-1.7zM96.6 22.2h0.9v0.9h-0.9zM110.8 22.3h0.9v0.9h-0.9zM102.9 21.7h1.1v1.1h-1.1zM104.4 22.2h1.7v1.1h-1.7zM104.2 20.8h1.1v1.3h-1.1zM100.0 11.5h0.9v1.1h-0.9zM105.1 20.6h1.1v1.1h-1.1zM104.1 22.6h1.7v1.3h-1.7zM105.2 14.5h1.3v1.3h-1.3zM100.8 19.4h1.3v1.1h-1.3zM104.9 27.0h0.9v1.3h-0.9zM100.4 24.1h1.3v1.1h-1.3zM105.2 22.3h1.3v1.3h-1.3zM105.3 17.4h1.7v1.1h-1.7zM98.0 22.3h1.7v1.1h-1.7zM103.0 17.9h0.9v0.9h-0.9zM100.7 27.1h1.7v1.3h-1.7zM181.9 -3.3h0.9v1.3h-0.9zM182.7 2.1h1.7v1.1h-1.7zM184.2 5.6h1.7v1.1h-1.7zM177.0 3.2h1.7v1.1h-1.7zM171.3 1.9h1.7v1.3h-1.7zM182.1 1.3h1.1v1.3h-1.1zM178.6 -4.5h1.3v1.1h-1.3zM179.8 -5.4h0.9v1.3h-0.9zM176.7 3.4h1.7v1.3h-1.7zM175.1 -0.1h1.3v1.1h-1.3zM170.4 -0.5h1.7v1.3h-1.7zM171.8 -11.3h1.3v0.9h-1.3zM168.3 -3.6h0.9v1.1h-0.9zM182.4 3.7h1.7v1.3h-1.7zM171.9 -0.2h1.7v1.1h-1.7zM188.7 -3.2h1.3v1.3h-1.3zM179.3 -8.6h0.9v1.1h-0.9zM173.9 -5.4h0.9v0.9h-0.9zM176.3 0.4h1.1v1.3h-1.1zM178.5 -5.2h1.7v1.3h-1.7zM180.1 0.5h1.3v1.3h-1.3zM177.6 1.3h1.1v1.3h-1.1zM178.5 0.7h1.1v0.9h-1.1zM188.1 -0.3h1.1v1.1h-1.1zM169.5 5.9h1.3v1.3h-1.3zM179.5 -2.6h1.3v1.3h-1.3zM177.1 3.2h1.1v1.1h-1.1zM179.5 -6.8h1.3v1.1h-1.3zM181.1 1.8h0.9v1.3h-0.9zM172.4 0.2h1.1v1.1h-1.1zM181.5 1.9h1.7v0.9h-1.7zM177.6 7.3h0.9v1.1h-0.9zM181.8 -7.6h0.9v1.1h-0.9zM187.0 -2.8h1.1v1.3h-1.1zM183.0 -2.4h0.9v1.1h-0.9zM176.6 0.2h1.3v0.9h-1.3zM174.0 -5.6h1.3v0.9h-1.3zM185.0 -8.7h0.9v1.3h-0.9zM174.1 -2.3h1.1v1.3h-1.1zM184.5 0.3h1.1v0.9h-1.1zM177.1 0.9h1.7v1.3h-1.7zM174.6 3.1h1.3v0.9h-1.3zM176.8 5.8h1.1v1.3h-1.1zM178.2 -2.6h0.9v1.1h-0.9zM180.0 -9.3h1.7v0.9h-1.7zM175.0 2.6h1.1v0.9h-1.1zM180.8 -12.1h1.7v1.1h-1.7zM174.4 7.3h1.1v0.9h-1.1zM171.5 2.8h1.7v1.1h-1.7zM176.6 3.6h1.7v0.9h-1.7zM176.3 5.0h1.1v1.3h-1.1zM180.8 -10.4h1.1v1.1h-1.1zM185.8 -11.2h0.9v1.3h-0.9zM175.0 -6.7h0.9v0.9h-0.9zM175.5 -3.5h1.7v1.1h-1.7zM181.2 -3.4h1.7v0.9h-1.7zM183.6 -7.4h1.3v1.1h-1.3zM180.9 1.6h0.9v1.1h-0.9zM177.8 4.8h1.3v0.9h-1.3zM178.8 -1.5h0.9v1.3h-0.9zM176.6 5.7h0.9v1.3h-0.9zM188.9 0.1h1.1v1.1h-1.1zM178.6 2.0h1.7v1.3h-1.7zM175.8 2.3h1.1v1.1h-1.1zM177.9 -5.5h1.3v1.3h-1.3zM179.9 -10.5h1.3v1.1h-1.3zM171.6 -2.6h1.1v1.1h-1.1zM184.2 -6.1h1.7v0.9h-1.7zM176.9 6.3h0.9v1.1h-0.9zM183.7 -2.5h1.1v1.3h-1.1zM177.6 1.4h0.9v0.9h-0.9zM175.1 -10.4h1.7v1.3h-1.7zM175.0 1.0h1.1v0.9h-1.1zM182.5 2.6h0.9v1.1h-0.9zM186.1 -1.8h0.9v0.9h-0.9zM183.2 3.1h0.9v1.1h-0.9zM179.9 0.8h1.7v1.3h-1.7zM179.8 -5.7h1.7v1.3h-1.7zM185.9 -7.0h1.1v1.3h-1.1zM180.8 -6.4h1.1v0.9h-1.1zM176.5 -2.9h1.7v1.3h-1.7zM172.2 -2.4h1.7v1.3h-1.7zM172.5 4.5h1.3v1.3h-1.3zM181.6 1.6h1.3v0.9h-1.3zM179.7 -6.9h1.3v1.1h-1.3zM173.2 4.9h1.7v0.9h-1.7zM187.5 4.3h1.1v1.1h-1.1zM176.9 -7.5h0.9v1.3h-0.9zM184.3 4.8h0.9v0.9h-0.9zM180.8 -4.9h0.9v0.9h-0.9zM185.1 -3.3h1.7v1.1h-1.7zM183.1 2.2h1.3v1.1h-1.3zM178.8 -4.9h0.9v1.1h-0.9zM181.6 3.8h0.9v1.3h-0.9zM173.5 -4.2h0.9v1.1h-0.9zM169.8 3.7h1.7v0.9h-1.7zM175.0 -4.1h0.9v1.3h-0.9zM179.0 -6.1h1.1v1.3h-1.1zM186.3 -0.3h1.1v1.3h-1.1zM177.6 3.1h1.3v0.9h-1.3zM172.0 -0.9h0.9v1.1h-0.9zM174.9 0.3h1.7v1.3h-1.7zM180.3 0.2h1.1v1.1h-1.1zM176.6 4.1h0.9v1.3h-0.9zM181.0 -12.1h1.1v1.1h-1.1zM181.8 -4.1h1.3v1.1h-1.3zM183.5 4.4h0.9v1.1h-0.9zM181.5 1.9h0.9v1.1h-0.9zM184.6 -6.4h0.9v0.9h-0.9zM184.0 -1.6h1.3v0.9h-1.3zM186.8 -12.0h1.7v0.9h-1.7zM185.1 -10.1h1.7v1.3h-1.7zM183.6 -10.7h1.1v1.3h-1.1zM189.1 -11.9h1.1v1.3h-1.1zM183.9 -9.1h1.3v1.1h-1.3zM191.4 -9.9h1.7v1.1h-1.7zM187.1 -11.3h0.9v0.9h-0.9zM188.0 -8.9h1.7v1.1h-1.7zM192.0 -9.3h1.7v1.3h-1.7zM190.3 -10.1h1.1v1.3h-1.1zM186.3 -7.2h1.1v1.3h-1.1zM189.3 -11.3h0.9v0.9h-0.9zM187.9 -9.7h0.9v1.1h-0.9zM187.8 -9.8h0.9v0.9h-0.9zM186.1 -11.9h1.1v1.3h-1.1zM187.2 -8.3h0.9v0.9h-0.9zM181.8 -10.5h1.7v1.1h-1.7zM189.3 -8.8h0.9v1.1h-0.9zM183.0 -11.1h1.7v1.3h-1.7zM186.7 -8.7h0.9v0.9h-0.9zM185.7 -8.2h1.1v1.3h-1.1zM183.3 -9.6h1.1v0.9h-1.1zM188.3 -11.1h1.1v1.3h-1.1zM193.2 -3.5h1.7v1.1h-1.7zM192.9 1.9h1.3v0.9h-1.3zM195.9 -1.9h1.3v0.9h-1.3zM196.9 -4.8h1.1v0.9h-1.1zM194.4 -2.4h1.7v1.3h-1.7zM192.1 -6.1h1.1v1.1h-1.1zM191.7 -0.1h1.7v1.3h-1.7zM191.5 -1.7h1.7v1.1h-1.7zM190.8 -5.8h1.7v0.9h-1.7zM192.5 -1.7h1.7v0.9h-1.7zM191.4 -1.3h0.9v1.3h-0.9zM151.3 -9.2h1.7v0.9h-1.7zM147.3 -8.8h1.3v1.3h-1.3zM149.0 -11.2h1.7v1.1h-1.7zM146.9 -9.5h1.1v1.1h-1.1zM147.3 -10.1h1.1v1.3h-1.1zM149.2 -11.7h1.3v1.1h-1.3zM145.0 -10.0h1.7v0.9h-1.7zM146.8 -10.4h1.7v0.9h-1.7zM158.4 -11.2h1.3v1.3h-1.3zM162.8 -10.2h1.7v1.3h-1.7zM162.2 -7.9h1.3v1.3h-1.3zM161.5 -10.2h1.3v0.9h-1.3zM158.3 -9.9h0.9v1.1h-0.9zM162.2 -8.5h0.9v1.1h-0.9zM160.4 -7.9h1.1v0.9h-1.1zM160.9 -8.0h0.9v1.1h-0.9zM182.8 22.1h1.1v1.1h-1.1zM182.3 22.6h0.9v0.9h-0.9zM183.1 22.7h0.9v1.1h-0.9zM182.6 21.4h1.3v0.9h-1.3zM182.8 22.0h1.1v1.3h-1.1zM197.3 15.7h1.3v1.3h-1.3zM150.9 -29.6h0.9v1.1h-0.9zM151.6 -29.3h1.7v0.9h-1.7zM165.0 -43.2h1.7v0.9h-1.7zM165.2 -42.1h0.9v0.9h-0.9zM163.1 -40.2h1.3v0.9h-1.3zM173.8 -43.1h1.1v0.9h-1.1zM166.4 -44.4h0.9v1.1h-0.9zM165.3 -43.1h1.1v1.3h-1.1zM168.6 -43.6h0.9v1.1h-0.9zM162.5 -46.0h1.1v0.9h-1.1zM169.3 -47.3h1.3v1.3h-1.3zM164.1 -41.3h1.1v0.9h-1.1zM161.8 -45.3h0.9v1.3h-0.9zM170.9 -44.1h1.7v1.3h-1.7zM170.1 -43.9h1.3v1.1h-1.3zM166.3 -41.1h1.3v0.9h-1.3zM164.1 -45.5h1.1v1.3h-1.1zM166.0 -44.9h1.7v1.3h-1.7zM162.9 -42.7h1.7v0.9h-1.7zM164.1 -44.1h1.1v0.9h-1.1zM167.4 -46.2h1.3v1.3h-1.3zM164.9 -42.4h1.7v1.3h-1.7zM168.9 -43.6h1.1v0.9h-1.1zM167.1 -39.6h1.7v0.9h-1.7zM191.6 -42.0h1.3v1.3h-1.3zM189.5 -44.5h1.1v1.3h-1.1zM188.9 -42.4h1.3v0.9h-1.3zM186.0 -42.2h1.1v0.9h-1.1zM190.1 -41.0h1.3v0.9h-1.3zM189.1 -40.7h0.9v1.3h-0.9zM181.5 -43.7h1.7v1.3h-1.7zM183.8 -44.1h1.7v0.9h-1.7zM191.5 -41.4h0.9v0.9h-0.9zM187.8 -42.5h1.1v0.9h-1.1zM190.1 -44.2h1.3v1.3h-1.3zM190.2 -42.2h1.3v1.3h-1.3zM188.2 -40.6h1.7v1.3h-1.7zM188.9 -43.7h1.3v1.3h-1.3zM191.9 -44.1h1.1v1.3h-1.1zM187.3 -43.7h0.9v1.3h-0.9zM199.3 -38.5h0.9v0.9h-0.9zM196.9 -41.9h1.1v0.9h-1.1zM198.7 -39.3h0.9v1.3h-0.9zM195.5 -39.4h1.3v0.9h-1.3zM197.2 -38.9h1.7v1.3h-1.7zM195.6 -41.2h1.7v1.3h-1.7zM197.6 -43.1h0.9v1.3h-0.9zM197.8 -41.1h0.9v0.9h-0.9zM199.3 -39.7h1.1v1.1h-1.1zM185.7 -33.2h1.3v1.1h-1.3zM197.8 -33.6h1.1v1.3h-1.1zM191.6 -33.3h1.3v1.1h-1.3zM197.9 -31.7h1.1v1.3h-1.1zM200.2 -31.4h0.9v0.9h-0.9zM192.0 -34.6h1.7v1.3h-1.7zM195.1 -32.8h1.7v0.9h-1.7zM196.2 -31.5h0.9v1.3h-0.9zM197.9 -35.7h0.9v1.3h-0.9zM189.8 -32.5h1.3v1.3h-1.3zM189.3 -31.7h1.1v0.9h-1.1zM191.7 -34.0h1.7v1.1h-1.7zM189.7 -32.3h1.7v1.1h-1.7zM199.1 -34.5h1.1v0.9h-1.1zM199.8 -32.7h1.7v0.9h-1.7zM196.2 -33.3h1.7v0.9h-1.7zM264.0 -57.3h1.1v0.9h-1.1zM230.6 -58.1h0.9v1.1h-0.9zM265.7 -52.5h1.1v0.9h-1.1zM251.5 -55.8h1.1v1.3h-1.1zM253.1 -55.7h0.9v1.3h-0.9zM249.7 -63.3h1.7v1.1h-1.7zM251.6 -57.8h0.9v1.3h-0.9zM240.5 -58.3h1.7v1.3h-1.7zM252.6 -57.6h0.9v1.3h-0.9zM243.7 -57.0h1.7v0.9h-1.7zM272.1 -53.7h1.7v0.9h-1.7zM252.2 -54.3h1.7v0.9h-1.7zM231.5 -54.7h1.7v1.1h-1.7zM257.0 -60.6h1.1v1.1h-1.1zM248.3 -59.0h0.9v0.9h-0.9zM285.5 -54.2h1.3v0.9h-1.3zM275.9 -54.7h1.7v1.3h-1.7zM274.9 -56.1h1.1v1.1h-1.1zM231.6 -59.3h1.3v1.1h-1.3zM227.4 -54.8h1.3v0.9h-1.3zM233.3 -53.8h1.3v1.1h-1.3zM257.0 -62.8h1.7v1.1h-1.7zM241.4 -54.3h1.7v0.9h-1.7zM226.9 -55.6h1.3v0.9h-1.3zM271.4 -57.9h1.1v1.3h-1.1zM254.3 -57.8h0.9v1.1h-0.9zM266.6 -55.2h1.1v1.1h-1.1zM269.0 -55.1h0.9v1.1h-0.9zM223.5 -60.2h1.1v1.3h-1.1zM260.9 -54.9h1.1v1.3h-1.1zM254.4 -54.6h1.3v1.1h-1.3zM264.2 -58.9h1.3v0.9h-1.3zM254.1 -56.5h1.1v0.9h-1.1zM245.2 -56.6h1.7v0.9h-1.7zM205.1 -57.1h1.1v0.9h-1.1zM255.5 -54.1h1.1v1.1h-1.1zM230.9 -51.3h1.3v1.3h-1.3zM220.4 -57.9h1.1v1.1h-1.1zM238.2 -59.8h1.3v1.3h-1.3zM241.8 -56.4h1.7v0.9h-1.7zM238.4 -59.0h1.1v1.3h-1.1zM268.9 -58.0h0.9v0.9h-0.9zM241.7 -59.8h1.1v1.3h-1.1zM262.9 -58.6h1.1v0.9h-1.1zM198.5 -55.6h1.1v0.9h-1.1zM228.6 -57.6h0.9v1.3h-0.9zM253.0 -60.3h1.3v1.1h-1.3zM207.7 -58.9h1.3v0.9h-1.3zM263.1 -53.5h1.7v1.3h-1.7zM237.3 -61.6h1.3v1.3h-1.3zM252.4 -54.7h1.7v0.9h-1.7zM263.5 -56.5h0.9v1.3h-0.9zM229.0 -62.0h0.9v1.3h-0.9zM213.7 -56.1h1.1v1.3h-1.1zM267.4 -61.5h1.1v1.3h-1.1zM251.5 -57.8h1.7v1.3h-1.7zM263.9 -56.1h0.9v1.3h-0.9zM227.7 -60.7h1.3v1.3h-1.3zM242.2 -54.2h1.7v1.1h-1.7zM235.0 -53.7h1.3v0.9h-1.3zM281.0 24.3h1.7v1.3h-1.7zM280.1 26.1h1.7v1.1h-1.7zM276.5 23.7h1.1v0.9h-1.1zM278.9 22.9h0.9v0.9h-0.9zM283.5 24.4h1.1v1.1h-1.1zM278.9 28.5h1.1v1.3h-1.1z"/><path fill="#f2dfa8" d="M62.7 -33.9h1.7v1.1h-1.7zM54.4 -32.3h1.3v1.1h-1.3zM57.4 -30.2h1.3v0.9h-1.3zM49.6 -28.3h1.3v1.3h-1.3zM59.1 -32.2h1.1v1.3h-1.1zM59.3 -33.2h1.7v1.1h-1.7zM55.5 -32.5h0.9v0.9h-0.9zM57.5 -31.7h1.7v1.1h-1.7zM51.6 -27.8h0.9v1.3h-0.9zM49.8 -26.3h1.7v1.3h-1.7zM59.4 -32.9h1.7v1.1h-1.7zM61.5 -30.9h1.1v1.3h-1.1zM63.7 -34.2h1.3v1.3h-1.3zM62.6 -26.5h1.7v1.3h-1.7zM60.1 -34.3h1.7v1.3h-1.7zM63.4 -29.7h1.7v0.9h-1.7zM53.3 -28.9h1.3v1.3h-1.3zM52.3 -24.6h1.3v1.3h-1.3zM55.6 -33.5h0.9v1.1h-0.9zM59.9 -26.3h1.3v1.1h-1.3zM60.2 -32.2h1.7v1.3h-1.7zM61.8 -31.2h1.3v1.3h-1.3zM60.8 -55.9h0.9v1.3h-0.9zM60.4 -56.2h1.1v0.9h-1.1zM75.8 -53.9h1.1v0.9h-1.1zM66.4 -48.0h1.7v1.1h-1.7zM84.6 -52.0h1.7v0.9h-1.7zM89.5 -51.9h1.7v0.9h-1.7zM81.4 -47.2h1.1v1.3h-1.1zM68.9 -44.6h0.9v1.1h-0.9zM86.8 -50.0h1.3v1.1h-1.3zM72.4 -54.9h1.7v1.3h-1.7zM90.2 -47.9h1.3v1.1h-1.3zM94.8 -2.7h0.9v1.1h-0.9zM95.4 -8.3h1.1v1.3h-1.1zM95.7 -6.6h1.7v1.1h-1.7zM93.6 -5.0h1.1v0.9h-1.1zM102.5 5.7h1.1v1.3h-1.1zM93.6 5.1h1.3v1.3h-1.3zM95.4 2.0h1.7v1.3h-1.7zM96.9 0.0h0.9v0.9h-0.9zM100.3 6.4h1.3v1.1h-1.3zM103.8 6.0h1.1v1.1h-1.1zM97.3 7.2h1.3v0.9h-1.3zM116.8 10.4h0.9v1.3h-0.9zM119.0 7.2h0.9v1.1h-0.9zM118.0 13.5h0.9v1.1h-0.9zM117.8 7.3h1.3v0.9h-1.3zM116.0 10.4h1.7v0.9h-1.7zM112.7 9.0h0.9v1.3h-0.9zM112.2 13.6h1.1v1.3h-1.1zM113.1 10.4h0.9v0.9h-0.9zM116.0 14.0h1.1v0.9h-1.1zM117.8 11.0h1.3v1.3h-1.3zM115.1 17.9h0.9v1.1h-0.9zM113.9 14.8h1.7v1.3h-1.7zM97.3 27.7h1.3v1.1h-1.3zM102.3 19.1h0.9v1.1h-0.9zM101.2 21.2h1.1v1.3h-1.1zM102.7 20.4h1.1v1.1h-1.1zM100.7 26.7h1.7v1.3h-1.7zM100.6 30.1h1.7v1.3h-1.7zM99.4 22.4h1.7v1.3h-1.7zM97.9 23.7h1.3v0.9h-1.3zM104.8 19.0h0.9v1.1h-0.9zM96.8 26.4h0.9v1.1h-0.9zM100.7 25.5h1.1v1.1h-1.1zM101.8 24.9h1.3v1.3h-1.3zM103.4 23.2h1.7v1.3h-1.7zM100.3 19.6h1.7v0.9h-1.7zM103.4 17.7h1.3v1.1h-1.3zM99.3 11.1h0.9v0.9h-0.9zM106.4 25.9h1.1v0.9h-1.1zM174.8 -6.7h0.9v1.3h-0.9zM187.5 -2.9h1.3v1.3h-1.3zM179.6 -4.7h0.9v0.9h-0.9zM182.3 1.7h1.3v0.9h-1.3zM188.3 0.9h0.9v0.9h-0.9zM180.1 -1.7h1.7v1.3h-1.7zM179.6 -5.4h1.7v1.3h-1.7zM168.7 -8.4h0.9v1.1h-0.9zM174.6 4.1h1.3v1.1h-1.3zM173.0 -1.6h1.3v1.3h-1.3zM186.9 2.4h1.3v0.9h-1.3zM171.3 4.0h1.7v0.9h-1.7zM177.3 -1.7h1.1v1.1h-1.1zM177.8 9.0h0.9v0.9h-0.9zM183.8 -3.9h1.3v1.3h-1.3zM177.2 11.4h1.3v1.1h-1.3zM174.5 -8.5h1.7v1.3h-1.7zM176.6 4.8h0.9v0.9h-0.9zM181.9 1.4h1.3v1.3h-1.3zM180.3 -2.9h1.1v1.1h-1.1zM184.9 -0.1h1.7v1.1h-1.7zM185.2 -2.7h0.9v1.1h-0.9zM184.0 0.8h1.7v0.9h-1.7zM178.6 2.3h1.1v1.1h-1.1zM178.7 -11.1h0.9v0.9h-0.9zM173.8 -3.6h1.7v1.3h-1.7zM176.0 -1.5h1.7v1.1h-1.7zM185.0 0.7h1.3v1.3h-1.3zM191.3 1.0h0.9v1.1h-0.9zM176.0 4.8h1.7v1.1h-1.7zM180.9 -9.8h1.3v1.3h-1.3zM184.9 -12.4h1.7v0.9h-1.7zM189.8 -9.1h1.3v1.1h-1.3zM191.9 -13.1h0.9v1.1h-0.9zM186.0 -7.4h1.1v1.1h-1.1zM189.6 -10.7h1.3v0.9h-1.3zM182.4 -9.0h1.3v0.9h-1.3zM187.4 -8.0h0.9v1.3h-0.9zM197.3 -3.6h1.3v1.3h-1.3zM192.5 -5.4h1.3v1.3h-1.3zM195.5 -5.1h1.1v1.1h-1.1zM193.5 -2.3h1.3v1.1h-1.3zM192.8 -6.6h1.3v0.9h-1.3zM195.8 -3.9h1.7v1.1h-1.7zM150.2 -10.8h1.3v1.3h-1.3zM150.2 -10.6h1.1v1.3h-1.1zM146.8 -8.4h1.1v1.3h-1.1zM150.4 -9.9h1.1v1.1h-1.1zM149.3 -9.5h1.3v1.3h-1.3zM159.9 -7.0h1.1v1.1h-1.1zM166.1 -7.7h0.9v0.9h-0.9zM182.4 23.3h0.9v1.3h-0.9zM196.5 18.9h1.7v1.1h-1.7zM150.8 -28.6h1.3v1.1h-1.3zM160.8 -42.6h1.7v0.9h-1.7zM162.4 -47.0h1.1v0.9h-1.1zM164.2 -42.4h0.9v0.9h-0.9zM167.7 -41.0h1.3v0.9h-1.3zM168.2 -42.7h0.9v1.3h-0.9zM168.4 -44.2h0.9v1.1h-0.9zM169.2 -42.1h0.9v1.3h-0.9zM189.8 -41.2h1.7v1.1h-1.7zM191.3 -42.7h1.3v1.3h-1.3zM190.5 -44.2h1.3v1.3h-1.3zM191.2 -42.3h1.3v1.1h-1.3zM189.9 -45.3h1.3v1.3h-1.3zM191.3 -46.0h0.9v1.1h-0.9zM192.5 -42.5h1.3v1.3h-1.3zM191.7 -44.4h1.7v1.3h-1.7zM183.5 -43.8h1.1v1.1h-1.1zM188.7 -43.5h1.7v0.9h-1.7zM188.9 -41.2h1.1v1.1h-1.1zM192.1 -45.8h1.7v1.1h-1.7zM195.8 -39.6h0.9v1.1h-0.9zM196.7 -39.7h1.1v1.3h-1.1zM198.4 -41.8h1.3v1.1h-1.3zM193.2 -33.0h1.3v1.3h-1.3zM191.0 -33.3h1.1v0.9h-1.1zM189.6 -32.3h1.7v0.9h-1.7zM187.8 -34.6h0.9v0.9h-0.9zM190.4 -34.5h1.7v1.3h-1.7zM197.9 -31.0h1.3v1.3h-1.3zM192.3 -34.7h1.3v1.1h-1.3zM195.5 -35.7h1.7v1.1h-1.7zM186.2 -34.0h1.3v1.1h-1.3zM190.6 -32.4h1.3v0.9h-1.3zM224.3 -40.8h1.1v1.1h-1.1zM224.5 -42.9h0.9v1.1h-0.9zM232.8 -40.0h1.3v1.1h-1.3zM217.8 -38.9h0.9v1.3h-0.9zM232.3 -40.9h1.3v1.3h-1.3zM267.4 -45.5h1.7v0.9h-1.7zM260.8 -46.2h0.9v1.3h-0.9zM261.0 -44.0h0.9v1.1h-0.9zM258.3 -45.8h1.3v1.1h-1.3zM252.0 -43.8h0.9v0.9h-0.9zM259.4 -42.7h1.7v1.3h-1.7zM255.1 -43.4h1.1v0.9h-1.1zM256.8 -43.1h1.7v1.1h-1.7zM247.6 -26.2h1.7v1.3h-1.7zM249.8 -23.6h1.7v1.1h-1.7zM244.4 -27.3h1.7v0.9h-1.7zM239.9 -25.6h0.9v1.3h-0.9zM249.8 -30.4h0.9v1.1h-0.9zM240.5 -25.0h0.9v1.3h-0.9zM250.2 -22.6h0.9v1.3h-0.9zM248.5 -24.2h1.7v1.3h-1.7zM242.0 -23.2h1.1v0.9h-1.1zM249.5 -29.8h0.9v1.1h-0.9zM245.2 -26.0h1.3v0.9h-1.3zM257.5 -26.2h1.3v1.3h-1.3zM258.2 -28.2h1.7v1.1h-1.7zM258.3 -26.3h1.1v1.3h-1.1zM257.6 -26.3h0.9v0.9h-0.9zM284.6 -60.6h1.7v1.1h-1.7zM284.9 -60.0h1.7v1.1h-1.7zM284.8 -60.1h1.3v1.1h-1.3zM284.4 -61.0h1.3v1.3h-1.3zM276.6 20.4h0.9v1.1h-0.9zM275.4 21.4h0.9v0.9h-0.9zM278.2 25.4h1.1v1.1h-1.1z"/><path fill="#e0a03a" d="M55.8 -37.2h0.9v1.1h-0.9zM57.9 -30.1h1.7v1.1h-1.7zM56.9 -36.1h1.7v1.3h-1.7zM59.9 -25.7h1.3v1.3h-1.3zM59.9 -32.2h0.9v0.9h-0.9zM63.7 -30.9h1.1v1.1h-1.1zM63.9 -38.0h0.9v1.1h-0.9zM55.1 -25.7h1.3v0.9h-1.3zM54.8 -30.4h0.9v1.3h-0.9zM59.7 -27.4h1.3v0.9h-1.3zM55.9 -33.9h1.1v1.1h-1.1zM65.7 -25.6h0.9v0.9h-0.9zM55.6 -30.3h1.3v0.9h-1.3zM59.1 -33.1h1.1v0.9h-1.1zM60.7 -28.3h1.3v0.9h-1.3zM63.9 -31.4h0.9v1.1h-0.9zM54.9 -35.9h1.1v1.3h-1.1zM57.3 -33.3h1.1v0.9h-1.1zM61.6 -33.3h0.9v1.3h-0.9zM55.9 -33.6h1.3v1.1h-1.3zM61.3 -32.0h0.9v0.9h-0.9zM59.9 -32.0h1.3v0.9h-1.3zM58.8 -32.9h1.3v0.9h-1.3zM56.4 -34.9h1.7v0.9h-1.7zM53.5 -34.8h0.9v1.3h-0.9zM57.4 -29.7h1.7v0.9h-1.7zM52.8 -27.0h1.1v1.3h-1.1zM49.4 -30.8h0.9v1.1h-0.9zM60.3 -33.2h1.7v1.3h-1.7zM63.8 -33.9h0.9v1.3h-0.9zM48.8 -30.7h1.1v1.1h-1.1zM60.8 -35.3h0.9v1.1h-0.9zM57.7 -29.1h1.1v1.3h-1.1zM53.0 -31.3h1.1v1.3h-1.1zM58.5 -34.3h1.7v1.1h-1.7zM60.2 -55.1h1.3v1.1h-1.3zM56.8 -58.0h1.7v1.1h-1.7zM58.5 -55.9h1.7v0.9h-1.7zM59.3 -57.0h1.1v1.1h-1.1zM57.9 -55.5h1.7v0.9h-1.7zM60.3 -56.1h1.1v1.3h-1.1zM55.0 -56.6h0.9v0.9h-0.9zM56.6 -57.5h1.3v0.9h-1.3zM84.9 -51.7h1.7v1.3h-1.7zM66.3 -56.1h1.3v0.9h-1.3zM77.1 -54.4h1.7v0.9h-1.7zM84.5 -51.4h1.3v1.3h-1.3zM74.4 -52.2h1.3v0.9h-1.3zM58.7 -46.4h1.1v1.1h-1.1zM94.9 -48.9h1.7v1.1h-1.7zM68.2 -52.7h1.7v1.1h-1.7zM94.2 -43.1h1.1v1.1h-1.1zM95.3 -45.3h0.9v1.1h-0.9zM95.2 -47.2h1.1v1.1h-1.1zM97.7 -43.6h1.3v1.1h-1.3zM88.9 -45.8h1.7v0.9h-1.7zM94.0 -44.0h0.9v1.1h-0.9zM91.5 -44.8h1.1v1.3h-1.1zM97.0 -44.7h1.3v1.3h-1.3zM93.1 -47.0h0.9v0.9h-0.9zM91.6 -6.9h1.7v0.9h-1.7zM95.1 -4.3h1.3v0.9h-1.3zM97.7 -6.8h1.1v0.9h-1.1zM92.2 -8.6h1.3v0.9h-1.3zM95.8 -3.4h1.7v1.1h-1.7zM95.7 -2.5h1.1v1.3h-1.1zM94.0 -0.8h1.1v1.1h-1.1zM91.1 -6.3h1.1v1.3h-1.1zM94.0 -3.5h1.1v1.3h-1.1zM92.4 -4.7h0.9v1.1h-0.9zM93.1 -8.5h1.1v1.3h-1.1zM93.9 -5.3h1.7v0.9h-1.7zM93.3 -5.0h1.7v1.3h-1.7zM97.8 -6.0h1.7v0.9h-1.7zM95.5 -7.8h1.3v0.9h-1.3zM107.2 -4.1h1.1v1.3h-1.1zM93.4 6.0h1.3v1.1h-1.3zM94.7 5.1h1.3v1.3h-1.3zM91.7 5.2h0.9v1.1h-0.9zM99.0 4.3h1.1v1.1h-1.1zM101.0 3.6h1.1v1.1h-1.1zM102.0 4.0h1.1v1.1h-1.1zM95.9 5.7h1.7v0.9h-1.7zM93.5 7.5h1.7v1.3h-1.7zM96.7 6.0h0.9v1.1h-0.9zM91.3 1.4h1.3v1.1h-1.3zM94.2 1.4h1.3v0.9h-1.3zM102.2 5.3h1.7v1.1h-1.7zM90.8 2.7h1.1v0.9h-1.1zM95.3 5.4h1.7v1.1h-1.7zM119.3 5.6h0.9v1.1h-0.9zM114.1 13.4h1.7v0.9h-1.7zM120.9 10.6h1.3v1.3h-1.3zM117.4 5.2h1.7v1.1h-1.7zM118.2 9.7h1.1v1.3h-1.1zM115.2 14.4h1.7v1.3h-1.7zM113.4 6.2h1.7v1.3h-1.7zM116.2 12.0h0.9v1.1h-0.9zM118.5 10.1h1.3v1.3h-1.3zM112.5 8.3h1.1v1.1h-1.1zM116.7 17.3h1.3v1.3h-1.3zM119.1 10.4h1.7v0.9h-1.7zM112.8 7.0h1.3v1.3h-1.3zM117.2 13.6h1.3v1.3h-1.3zM111.9 14.3h1.3v1.1h-1.3zM114.7 15.3h1.1v1.1h-1.1zM117.7 10.8h1.7v0.9h-1.7zM115.8 10.4h1.1v0.9h-1.1zM113.0 13.6h0.9v1.1h-0.9zM112.7 9.9h0.9v1.1h-0.9zM111.3 11.9h1.1v1.1h-1.1zM111.3 7.3h1.7v1.1h-1.7zM119.2 13.7h1.3v1.3h-1.3zM115.9 8.3h1.1v0.9h-1.1zM111.6 13.0h0.9v1.3h-0.9zM111.5 10.7h1.1v0.9h-1.1zM114.4 15.6h1.3v1.3h-1.3zM109.8 13.3h1.7v1.3h-1.7zM114.3 4.0h1.7v1.3h-1.7zM111.2 6.1h1.7v0.9h-1.7zM98.3 29.2h1.7v1.1h-1.7zM105.1 16.3h1.7v1.1h-1.7zM107.1 14.7h1.1v0.9h-1.1zM104.0 18.7h0.9v0.9h-0.9zM102.0 23.6h1.7v1.3h-1.7zM106.8 13.8h1.1v1.3h-1.1zM101.6 25.2h1.7v1.1h-1.7zM104.6 24.6h1.1v1.1h-1.1zM100.4 20.4h1.3v1.3h-1.3zM104.9 18.7h1.1v1.3h-1.1zM100.7 33.3h1.3v1.3h-1.3zM101.4 21.8h1.1v1.1h-1.1zM101.7 23.1h1.7v1.3h-1.7zM105.9 20.5h1.3v0.9h-1.3zM104.6 17.9h1.3v0.9h-1.3zM101.7 16.0h0.9v1.1h-0.9zM99.5 26.2h1.7v1.3h-1.7zM104.6 21.0h0.9v1.3h-0.9zM107.0 19.9h1.7v1.3h-1.7zM107.1 23.6h1.3v0.9h-1.3zM105.7 30.1h1.7v1.3h-1.7zM106.7 15.4h1.3v1.3h-1.3zM103.3 20.6h0.9v1.1h-0.9zM104.5 20.3h0.9v1.1h-0.9zM99.8 25.4h1.1v1.1h-1.1zM106.6 19.4h1.1v0.9h-1.1zM98.2 26.5h1.3v1.3h-1.3zM107.1 15.7h0.9v0.9h-0.9zM105.9 26.5h0.9v1.3h-0.9zM104.7 20.7h1.1v1.1h-1.1zM100.9 20.0h1.1v0.9h-1.1zM103.6 20.9h0.9v0.9h-0.9zM104.1 21.9h1.7v0.9h-1.7zM103.2 17.5h1.7v1.3h-1.7zM105.1 23.3h1.1v1.1h-1.1zM104.2 19.9h1.3v1.1h-1.3zM101.0 25.3h1.7v1.1h-1.7zM176.1 -4.1h1.7v1.1h-1.7zM175.2 5.4h1.3v1.3h-1.3zM175.7 11.2h0.9v0.9h-0.9zM176.2 5.9h1.7v0.9h-1.7zM167.7 -4.8h1.3v1.3h-1.3zM175.1 -3.3h1.1v1.1h-1.1zM181.2 4.6h1.7v1.1h-1.7zM170.3 -1.6h1.3v1.3h-1.3zM174.8 1.2h1.3v1.3h-1.3zM180.1 1.3h0.9v1.3h-0.9zM173.0 -7.5h1.7v0.9h-1.7zM190.1 -0.8h1.7v0.9h-1.7zM178.5 -5.0h0.9v1.1h-0.9zM177.8 1.1h1.3v1.1h-1.3zM177.6 1.4h1.7v1.1h-1.7zM186.7 -12.0h0.9v1.3h-0.9zM178.4 -3.1h0.9v0.9h-0.9zM182.1 1.2h1.3v1.3h-1.3zM183.8 -3.8h1.3v0.9h-1.3zM174.6 0.5h0.9v1.3h-0.9zM173.9 -9.4h1.7v1.1h-1.7zM180.9 -5.7h1.7v1.3h-1.7zM184.8 -0.1h1.3v1.1h-1.3zM180.7 4.7h0.9v0.9h-0.9zM183.8 -0.2h1.1v1.3h-1.1zM177.0 -3.5h1.3v1.1h-1.3zM175.0 -8.8h0.9v0.9h-0.9zM169.9 6.5h1.7v1.3h-1.7zM180.4 -3.4h0.9v1.1h-0.9zM175.8 -3.6h1.3v0.9h-1.3zM183.8 -8.9h1.1v1.3h-1.1zM179.8 -5.4h1.7v1.3h-1.7zM188.8 1.8h1.3v0.9h-1.3zM179.7 3.0h1.1v1.3h-1.1zM175.8 -0.9h1.7v0.9h-1.7zM188.4 -5.7h0.9v1.1h-0.9zM172.7 -1.8h1.7v1.1h-1.7zM184.9 -3.5h1.1v0.9h-1.1zM174.3 1.1h0.9v1.1h-0.9zM173.1 1.8h1.1v1.1h-1.1zM171.4 -5.3h1.7v1.3h-1.7zM179.3 -3.5h1.7v0.9h-1.7zM179.2 8.4h0.9v1.3h-0.9zM183.2 -3.4h0.9v0.9h-0.9zM180.0 -4.5h0.9v0.9h-0.9zM184.4 1.2h1.1v0.9h-1.1zM182.6 11.6h1.3v1.3h-1.3zM173.9 -8.8h1.3v1.3h-1.3zM180.4 2.3h1.7v1.1h-1.7zM182.7 -1.1h1.7v1.3h-1.7zM176.2 -3.6h0.9v1.3h-0.9zM170.5 -0.1h0.9v0.9h-0.9zM173.6 -0.7h0.9v0.9h-0.9zM180.5 -8.0h1.1v1.1h-1.1zM175.8 -1.8h1.7v1.1h-1.7zM180.0 10.4h1.7v0.9h-1.7zM175.9 3.3h1.7v1.1h-1.7zM177.4 5.9h1.1v1.3h-1.1zM180.0 -2.9h0.9v1.1h-0.9zM175.8 2.6h0.9v1.3h-0.9zM180.2 -4.5h0.9v0.9h-0.9zM175.7 -1.7h0.9v0.9h-0.9zM183.8 1.3h1.1v1.3h-1.1zM185.6 -0.9h0.9v1.3h-0.9zM180.6 2.0h1.7v1.3h-1.7zM180.4 1.3h1.3v1.3h-1.3zM176.8 2.6h0.9v1.1h-0.9zM173.7 6.8h1.3v1.3h-1.3zM185.8 4.2h1.1v1.1h-1.1zM167.3 2.9h1.3v1.1h-1.3zM178.6 -0.7h1.1v1.3h-1.1zM178.7 -10.5h0.9v1.3h-0.9zM184.0 0.7h1.3v1.1h-1.3zM183.2 -3.1h0.9v0.9h-0.9zM180.5 5.5h1.7v1.3h-1.7zM179.7 0.3h0.9v1.3h-0.9zM177.3 -7.0h1.3v1.3h-1.3zM176.6 3.3h1.3v0.9h-1.3zM174.1 -0.2h1.3v1.3h-1.3zM181.9 -3.3h1.3v0.9h-1.3zM180.7 2.9h1.3v1.1h-1.3zM184.0 -9.8h1.3v1.3h-1.3zM175.7 -1.0h1.1v1.3h-1.1zM180.0 -0.6h1.7v1.3h-1.7zM175.3 1.1h1.3v0.9h-1.3zM176.9 2.6h0.9v1.1h-0.9zM185.4 -3.0h0.9v1.3h-0.9zM187.1 -8.1h1.1v1.1h-1.1zM186.8 -11.2h0.9v1.1h-0.9zM184.4 -8.6h0.9v0.9h-0.9zM188.1 -8.8h1.1v1.1h-1.1zM184.5 -9.5h0.9v0.9h-0.9zM189.3 -12.9h0.9v0.9h-0.9zM190.9 -7.0h1.1v0.9h-1.1zM187.4 -11.6h1.3v0.9h-1.3zM189.9 -11.1h1.7v0.9h-1.7zM185.0 -10.9h1.1v1.1h-1.1zM184.4 -9.6h1.1v0.9h-1.1zM184.9 -11.3h1.1v1.1h-1.1zM195.1 -4.0h1.7v1.3h-1.7zM194.1 0.6h1.7v0.9h-1.7zM195.0 0.5h1.7v0.9h-1.7zM193.6 0.2h1.3v1.3h-1.3zM193.5 -5.6h0.9v1.1h-0.9zM194.4 -1.8h1.1v0.9h-1.1zM196.5 -2.9h0.9v1.1h-0.9zM193.1 -4.8h1.3v1.3h-1.3zM195.5 2.7h0.9v1.1h-0.9zM194.2 -2.0h1.1v1.1h-1.1zM196.6 1.7h1.1v1.1h-1.1zM195.9 -2.0h1.1v1.3h-1.1zM196.7 1.4h1.1v1.3h-1.1zM197.9 -2.1h1.1v1.3h-1.1zM191.9 -4.8h1.7v0.9h-1.7zM195.3 -5.4h1.3v1.3h-1.3zM191.3 -5.0h1.7v1.1h-1.7zM197.2 -1.2h1.7v1.1h-1.7zM151.0 -9.8h1.3v1.3h-1.3zM149.9 -12.0h0.9v1.3h-0.9zM149.5 -10.0h1.7v0.9h-1.7zM148.5 -11.4h1.1v0.9h-1.1zM152.7 -10.0h0.9v0.9h-0.9zM152.5 -10.6h0.9v1.1h-0.9zM147.7 -12.7h1.7v1.1h-1.7zM161.7 -11.2h1.7v1.3h-1.7zM157.3 -10.3h1.3v1.1h-1.3zM160.9 -8.6h1.3v0.9h-1.3zM158.2 -10.0h1.3v1.1h-1.3zM161.9 -8.5h1.7v1.1h-1.7zM165.1 -11.3h1.3v1.3h-1.3zM164.0 -10.3h1.1v1.3h-1.1zM181.8 23.6h1.7v1.3h-1.7zM198.1 18.2h0.9v1.3h-0.9zM196.6 16.6h0.9v1.3h-0.9zM152.4 -29.7h1.1v0.9h-1.1zM152.2 -28.6h1.1v1.1h-1.1zM152.3 -28.7h1.1v0.9h-1.1zM168.3 -45.3h1.7v1.1h-1.7zM159.7 -42.2h1.1v1.3h-1.1zM174.5 -43.8h1.1v1.1h-1.1zM165.8 -39.5h1.3v0.9h-1.3zM172.4 -42.8h1.3v0.9h-1.3zM161.9 -44.2h1.7v1.1h-1.7zM160.9 -43.5h1.7v1.3h-1.7zM162.1 -42.9h1.3v1.3h-1.3zM166.7 -45.3h1.1v1.3h-1.1zM164.3 -44.0h1.3v1.3h-1.3zM164.3 -44.1h0.9v0.9h-0.9zM175.8 -40.6h0.9v0.9h-0.9zM168.9 -44.2h1.1v1.1h-1.1zM161.0 -43.6h1.3v0.9h-1.3zM163.3 -43.3h1.1v0.9h-1.1zM167.1 -45.0h1.3v1.1h-1.3zM157.7 -44.9h1.3v1.3h-1.3zM161.2 -42.2h1.1v1.3h-1.1zM166.1 -45.0h1.1v1.1h-1.1zM167.0 -43.1h1.3v1.1h-1.3zM174.1 -46.1h0.9v0.9h-0.9zM166.5 -44.0h1.3v1.3h-1.3zM161.0 -43.9h1.1v1.1h-1.1zM193.7 -44.8h0.9v1.3h-0.9zM190.7 -42.3h1.1v0.9h-1.1zM192.0 -41.6h1.3v1.3h-1.3zM193.2 -42.7h1.7v1.1h-1.7zM196.0 -44.2h1.1v1.1h-1.1zM192.6 -43.0h1.1v1.3h-1.1zM190.7 -41.6h1.1v1.1h-1.1zM195.7 -42.1h1.7v1.3h-1.7zM193.6 -40.5h1.7v1.3h-1.7zM196.8 -42.0h1.3v1.1h-1.3zM195.3 -39.2h0.9v1.3h-0.9zM190.8 -31.4h1.3v1.1h-1.3zM189.3 -35.7h0.9v1.3h-0.9zM195.8 -33.8h1.7v1.1h-1.7zM195.2 -32.5h1.3v0.9h-1.3zM197.6 -32.7h1.7v1.3h-1.7zM190.7 -33.7h1.3v0.9h-1.3zM198.5 -32.4h0.9v1.1h-0.9zM194.8 -32.3h1.1v1.1h-1.1zM200.8 -31.1h1.3v0.9h-1.3zM219.9 -41.6h0.9v0.9h-0.9zM206.3 -40.8h0.9v1.3h-0.9zM221.5 -39.5h0.9v0.9h-0.9zM215.2 -39.0h0.9v1.1h-0.9zM214.7 -41.2h1.3v1.3h-1.3zM221.7 -39.4h1.1v1.3h-1.1zM231.0 -40.2h1.1v1.3h-1.1zM223.4 -40.0h1.1v1.3h-1.1zM229.3 -40.9h1.3v1.3h-1.3zM227.5 -40.5h0.9v1.1h-0.9zM221.2 -41.8h1.3v1.1h-1.3zM226.5 -40.3h1.7v1.3h-1.7zM230.1 -41.4h0.9v0.9h-0.9zM229.7 -40.5h1.3v0.9h-1.3zM217.4 -39.1h0.9v1.1h-0.9zM219.4 -40.0h0.9v1.1h-0.9zM219.6 -40.6h1.3v0.9h-1.3zM226.7 -40.0h1.7v1.3h-1.7zM231.0 -41.5h0.9v0.9h-0.9zM219.5 -42.1h1.3v0.9h-1.3zM261.1 -46.7h1.1v0.9h-1.1zM262.6 -42.6h1.3v1.1h-1.3zM255.2 -42.6h1.1v0.9h-1.1zM256.6 -44.3h0.9v1.1h-0.9zM259.4 -44.8h1.3v1.3h-1.3zM262.4 -42.8h1.3v1.3h-1.3zM255.9 -45.2h1.1v1.3h-1.1zM268.1 -43.7h0.9v1.3h-0.9zM263.6 -43.8h1.7v1.3h-1.7zM258.0 -44.7h0.9v1.3h-0.9zM256.6 -46.2h1.1v1.1h-1.1zM256.1 -45.5h0.9v1.1h-0.9zM262.5 -44.9h1.7v1.1h-1.7zM256.7 -44.8h1.3v1.3h-1.3zM263.0 -43.6h1.7v1.3h-1.7zM238.3 -27.1h1.7v0.9h-1.7zM246.6 -23.6h1.1v0.9h-1.1zM245.7 -25.8h1.7v1.3h-1.7zM248.3 -25.8h0.9v0.9h-0.9zM241.0 -25.9h1.3v1.1h-1.3zM241.9 -27.3h0.9v1.3h-0.9zM248.1 -24.5h1.1v0.9h-1.1zM244.1 -26.8h1.3v1.1h-1.3zM236.8 -22.3h1.3v1.3h-1.3zM234.6 -28.1h1.3v1.1h-1.3zM247.5 -28.8h1.7v1.1h-1.7zM250.9 -23.7h1.1v0.9h-1.1zM246.9 -27.6h1.3v0.9h-1.3zM245.9 -25.3h1.1v1.3h-1.1zM252.2 -25.5h1.7v1.1h-1.7zM245.0 -26.1h1.7v1.1h-1.7zM239.0 -23.8h1.1v1.3h-1.1zM258.6 -26.2h1.7v1.1h-1.7zM257.9 -22.4h1.3v0.9h-1.3zM258.0 -28.0h1.3v1.3h-1.3zM256.6 -24.7h1.7v1.1h-1.7zM258.9 -26.5h0.9v1.3h-0.9zM284.4 -60.5h1.3v1.1h-1.3zM285.1 -59.6h0.9v0.9h-0.9zM285.1 -60.6h0.9v1.1h-0.9zM284.7 -60.3h1.7v1.3h-1.7zM274.3 22.6h0.9v1.3h-0.9zM277.9 15.2h1.1v1.1h-1.1zM279.6 23.1h1.7v0.9h-1.7zM280.2 18.8h0.9v1.3h-0.9zM284.0 23.9h0.9v1.3h-0.9zM281.1 23.5h0.9v1.3h-0.9zM275.6 26.1h1.7v0.9h-1.7zM280.1 24.9h0.9v1.1h-0.9zM278.5 21.1h1.3v1.3h-1.3zM271.1 26.0h1.3v1.1h-1.3z"/><path fill="#8fcf9f" d="M60.4 -26.8h0.9v1.3h-0.9zM60.8 -28.8h1.7v1.3h-1.7zM63.2 -27.0h0.9v1.1h-0.9zM61.9 -31.2h1.3v1.3h-1.3zM54.8 -31.3h1.3v1.3h-1.3zM57.5 -31.3h1.1v0.9h-1.1zM57.6 -30.4h0.9v0.9h-0.9zM60.1 -27.9h0.9v0.9h-0.9zM81.1 -53.8h1.7v1.1h-1.7zM93.0 -6.8h1.7v1.3h-1.7zM93.9 -5.9h1.1v0.9h-1.1zM94.5 -6.3h1.7v1.3h-1.7zM106.3 -5.1h0.9v1.3h-0.9zM101.8 4.1h0.9v1.1h-0.9zM120.2 17.4h0.9v0.9h-0.9zM115.2 9.0h1.7v0.9h-1.7zM114.2 12.9h1.7v1.1h-1.7zM112.1 8.4h1.7v1.1h-1.7zM112.6 13.2h1.7v1.1h-1.7zM115.0 16.5h1.1v0.9h-1.1zM104.6 23.7h1.1v1.1h-1.1zM104.9 29.1h1.3v1.1h-1.3zM102.0 23.4h0.9v1.1h-0.9zM108.6 19.7h1.3v1.1h-1.3zM110.2 24.1h0.9v1.3h-0.9zM102.0 14.3h1.7v1.3h-1.7zM103.7 23.8h0.9v1.1h-0.9zM102.4 24.6h1.3v0.9h-1.3zM103.4 27.3h0.9v0.9h-0.9zM101.7 15.7h1.1v0.9h-1.1zM101.2 16.1h0.9v1.3h-0.9zM105.2 19.4h1.7v0.9h-1.7zM188.8 -3.2h0.9v0.9h-0.9zM177.7 4.6h1.3v1.3h-1.3zM172.4 -4.0h1.7v0.9h-1.7zM177.5 -4.9h1.3v1.1h-1.3zM176.2 -4.7h0.9v1.1h-0.9zM190.1 0.3h0.9v1.3h-0.9zM175.2 -7.8h1.7v0.9h-1.7zM175.9 4.5h0.9v0.9h-0.9zM177.0 -12.5h1.3v1.3h-1.3zM183.7 -5.1h0.9v1.3h-0.9zM180.3 0.9h0.9v1.3h-0.9zM184.2 -0.2h0.9v0.9h-0.9zM175.6 -1.7h1.7v1.1h-1.7zM181.3 7.6h1.1v0.9h-1.1zM185.9 -1.6h1.7v0.9h-1.7zM177.7 -4.9h1.3v1.1h-1.3zM182.8 9.1h1.3v1.1h-1.3zM178.1 7.6h0.9v1.1h-0.9zM179.0 2.1h1.1v1.1h-1.1zM176.9 -7.7h1.7v0.9h-1.7zM186.9 -5.1h1.7v1.3h-1.7zM186.7 -4.6h1.1v0.9h-1.1zM183.3 -4.1h1.7v0.9h-1.7zM171.7 -2.6h0.9v0.9h-0.9zM180.6 -8.3h1.3v0.9h-1.3zM185.6 -11.5h1.7v0.9h-1.7zM183.8 -10.0h0.9v1.3h-0.9zM183.9 -9.7h1.3v1.3h-1.3zM189.9 -8.4h1.3v1.1h-1.3zM185.5 -10.1h1.7v1.1h-1.7zM184.3 -9.7h0.9v1.3h-0.9zM187.4 -7.4h1.3v1.1h-1.3zM187.9 -9.7h1.3v1.3h-1.3zM195.8 0.6h1.3v1.1h-1.3zM193.3 -1.5h1.1v1.3h-1.1zM193.0 -4.4h0.9v1.3h-0.9zM149.2 -10.2h1.7v0.9h-1.7zM147.1 -13.4h0.9v0.9h-0.9zM156.5 -11.0h1.1v0.9h-1.1zM162.7 -9.1h0.9v0.9h-0.9zM197.0 17.5h1.7v1.3h-1.7zM150.0 -28.8h1.3v0.9h-1.3zM151.9 -29.1h1.1v1.1h-1.1zM175.4 -42.1h1.7v0.9h-1.7zM166.3 -45.0h1.7v0.9h-1.7zM191.9 -43.5h0.9v1.3h-0.9zM190.3 -44.5h1.1v1.3h-1.1zM184.3 -42.0h1.3v0.9h-1.3zM188.6 -42.0h1.1v1.3h-1.1zM194.0 -44.5h1.3v1.3h-1.3zM183.9 -43.1h1.1v1.1h-1.1zM196.4 -41.9h1.1v0.9h-1.1zM195.9 -33.2h0.9v1.3h-0.9zM188.7 -33.3h1.7v1.3h-1.7zM194.0 -34.7h1.3v1.1h-1.3zM196.6 -33.8h1.1v1.1h-1.1zM196.9 -32.0h1.3v1.3h-1.3zM200.9 -33.3h0.9v1.3h-0.9zM196.0 -34.4h1.1v1.3h-1.1z"/><path fill="#c47a16" d="M61.3 -30.5h1.1v1.3h-1.1zM53.0 -36.0h1.3v1.3h-1.3zM56.3 -27.0h1.1v1.1h-1.1zM62.4 -31.1h1.7v1.1h-1.7zM57.2 -31.8h1.1v0.9h-1.1zM61.5 -35.2h1.1v0.9h-1.1zM64.1 -34.8h1.3v0.9h-1.3zM59.1 -28.2h1.3v0.9h-1.3zM55.6 -31.3h1.3v0.9h-1.3zM56.1 -28.2h1.1v0.9h-1.1zM56.5 -56.6h1.1v1.1h-1.1zM70.5 -58.9h1.1v1.1h-1.1zM69.1 -48.3h1.1v1.1h-1.1zM94.9 -5.1h1.7v0.9h-1.7zM92.6 -4.9h0.9v1.1h-0.9zM95.1 -5.6h0.9v0.9h-0.9zM98.4 3.7h1.7v1.1h-1.7zM102.4 4.0h1.3v0.9h-1.3zM92.1 5.7h1.1v0.9h-1.1zM114.5 15.6h1.7v1.1h-1.7zM116.8 8.8h1.1v0.9h-1.1zM114.9 18.1h1.7v1.1h-1.7zM117.8 13.9h1.7v1.3h-1.7zM116.2 8.9h1.3v1.1h-1.3zM112.1 9.4h1.1v1.1h-1.1zM111.1 10.9h1.1v1.3h-1.1zM99.7 16.6h0.9v1.3h-0.9zM101.8 21.2h1.7v0.9h-1.7zM104.6 24.0h1.7v0.9h-1.7zM104.6 21.9h1.1v0.9h-1.1zM104.1 29.6h1.1v1.1h-1.1zM99.4 26.4h0.9v1.3h-0.9zM102.1 18.7h1.1v0.9h-1.1zM102.6 20.6h1.1v0.9h-1.1zM102.6 11.8h1.7v1.1h-1.7zM106.0 31.0h0.9v0.9h-0.9zM169.6 3.3h1.7v1.1h-1.7zM174.1 -3.2h1.7v0.9h-1.7zM176.4 -3.5h1.1v1.1h-1.1zM186.8 -9.9h1.1v1.3h-1.1zM179.8 -2.0h0.9v0.9h-0.9zM186.4 -2.8h0.9v0.9h-0.9zM174.7 4.7h1.3v1.1h-1.3zM178.5 -2.9h1.1v1.1h-1.1zM180.7 -8.0h1.1v1.1h-1.1zM178.0 -1.9h1.1v1.3h-1.1zM168.1 1.5h1.1v0.9h-1.1zM182.3 5.6h0.9v1.3h-0.9zM174.6 -4.5h1.7v0.9h-1.7zM175.5 -0.2h1.1v0.9h-1.1zM173.1 -0.1h0.9v1.1h-0.9zM178.6 -12.8h0.9v0.9h-0.9zM178.5 -10.6h1.3v1.3h-1.3zM174.5 0.3h1.1v1.1h-1.1zM181.0 -7.2h1.3v1.3h-1.3zM186.7 -10.9h1.3v1.1h-1.3zM191.9 -8.1h0.9v0.9h-0.9zM194.1 -0.2h0.9v0.9h-0.9zM193.8 -4.3h1.3v0.9h-1.3zM194.9 0.0h1.7v1.1h-1.7zM151.5 -12.0h1.3v0.9h-1.3zM150.2 -9.7h0.9v1.3h-0.9zM165.5 -9.6h1.1v1.1h-1.1zM163.0 -9.2h1.1v0.9h-1.1zM160.2 -10.5h1.3v0.9h-1.3zM181.4 24.5h1.1v0.9h-1.1zM173.3 -43.6h1.1v1.1h-1.1zM171.1 -41.6h1.1v1.3h-1.1zM165.0 -43.2h0.9v0.9h-0.9zM177.6 -42.7h1.7v1.3h-1.7zM163.6 -42.1h0.9v0.9h-0.9zM188.3 -44.6h0.9v1.3h-0.9zM192.6 -44.4h0.9v0.9h-0.9zM189.7 -45.1h1.1v1.3h-1.1zM196.6 -41.5h0.9v1.1h-0.9zM193.2 -41.9h1.7v1.3h-1.7zM199.7 -34.4h1.1v0.9h-1.1zM195.0 -33.7h1.3v0.9h-1.3zM187.5 -32.8h0.9v1.1h-0.9zM194.7 -32.5h1.1v0.9h-1.1zM279.2 26.4h1.7v1.3h-1.7z"/><path fill="#6fc08a" d="M69.0 -31.1h1.1v0.9h-1.1zM68.4 -30.5h0.9v1.3h-0.9zM64.8 -29.9h1.3v0.9h-1.3zM67.3 -29.9h1.1v0.9h-1.1zM65.2 -31.5h1.7v1.1h-1.7zM67.9 -32.6h1.3v1.3h-1.3zM65.4 -31.0h0.9v0.9h-0.9zM100.1 17.8h1.1v0.9h-1.1zM101.0 16.9h1.1v1.1h-1.1zM101.2 15.8h1.1v1.3h-1.1zM100.4 19.4h1.1v0.9h-1.1zM101.0 21.3h1.1v1.3h-1.1zM100.4 15.1h1.7v1.3h-1.7zM181.8 -2.4h1.1v1.3h-1.1zM183.0 -4.2h1.7v0.9h-1.7zM183.4 1.2h1.3v1.1h-1.3zM181.9 -3.8h0.9v1.1h-0.9zM183.6 -4.8h1.1v1.1h-1.1zM181.1 -2.8h1.1v1.1h-1.1zM183.2 -2.5h1.7v1.1h-1.7zM181.9 -0.9h1.3v0.9h-1.3zM183.1 -0.1h1.3v1.3h-1.3zM181.8 -4.9h1.1v1.1h-1.1zM182.7 -1.0h1.1v1.1h-1.1zM182.5 -4.9h0.9v1.1h-0.9zM180.0 1.5h1.7v0.9h-1.7zM181.4 -3.1h0.9v1.1h-0.9zM182.1 -4.4h0.9v0.9h-0.9z"/><path fill="#a8d8a8" d="M67.1 -32.7h1.3v0.9h-1.3zM65.3 -30.9h1.1v1.3h-1.1zM67.3 -32.8h1.3v1.3h-1.3zM67.9 -29.9h1.7v1.3h-1.7zM66.3 -29.8h0.9v1.3h-0.9zM69.1 -30.7h0.9v0.9h-0.9zM99.6 18.7h1.1v0.9h-1.1zM101.5 17.0h0.9v1.3h-0.9zM100.5 15.4h1.3v1.3h-1.3zM101.1 18.9h0.9v1.1h-0.9zM183.0 -2.4h1.3v1.1h-1.3zM181.4 -3.0h1.1v1.3h-1.1zM182.6 -6.0h1.3v0.9h-1.3zM183.0 -0.4h1.7v1.3h-1.7zM182.5 1.1h1.1v0.9h-1.1zM181.8 -1.3h1.7v0.9h-1.7zM182.0 1.9h1.7v1.3h-1.7z"/><path fill="#3f9f72" d="M66.3 -29.4h1.1v1.3h-1.1zM100.9 19.6h0.9v1.3h-0.9zM99.6 16.3h1.1v1.3h-1.1zM182.0 -1.9h0.9v1.3h-0.9zM181.1 1.6h1.7v1.1h-1.7zM181.3 -0.5h1.7v0.9h-1.7z"/><path fill="#d4e8b8" d="M99.6 17.5h1.1v0.9h-1.1zM99.7 15.1h1.3v1.1h-1.3zM99.4 16.0h1.3v1.3h-1.3zM99.5 19.0h1.7v0.9h-1.7zM183.6 -0.4h1.1v1.1h-1.1zM182.0 -0.1h1.1v1.1h-1.1zM182.6 2.4h0.9v0.9h-0.9zM182.6 1.5h1.1v1.3h-1.1zM180.6 -3.1h1.1v0.9h-1.1z"/></g>
<linearGradient id="g1" x1="0" x2="1" y1="0" y2="0"><stop offset="0.000" stop-color="#5c3006"/><stop offset="0.042" stop-color="#6c3a07"/><stop offset="0.083" stop-color="#7c4408"/><stop offset="0.125" stop-color="#8d500a"/><stop offset="0.167" stop-color="#9f5c0d"/><stop offset="0.208" stop-color="#af690f"/><stop offset="0.250" stop-color="#bc7413"/><stop offset="0.292" stop-color="#c97f16"/><stop offset="0.333" stop-color="#d38b1e"/><stop offset="0.375" stop-color="#da962c"/><stop offset="0.417" stop-color="#e2a23a"/><stop offset="0.458" stop-color="#e9b253"/><stop offset="0.500" stop-color="#efc97b"/><stop offset="0.542" stop-color="#f5dda7"/><stop offset="0.583" stop-color="#ede5ba"/><stop offset="0.625" stop-color="#d3dfaf"/><stop offset="0.667" stop-color="#b5d8a7"/><stop offset="0.708" stop-color="#9bd09e"/><stop offset="0.750" stop-color="#83c696"/><stop offset="0.792" stop-color="#6bbd8e"/><stop offset="0.833" stop-color="#56b284"/><stop offset="0.875" stop-color="#44a679"/><stop offset="0.917" stop-color="#339a6d"/><stop offset="0.958" stop-color="#248c62"/><stop offset="1.000" stop-color="#1a7e58"/></linearGradient>
<linearGradient id="g2" x1="0" x2="1" y1="0" y2="0"><stop offset="0.000" stop-color="#299367"/><stop offset="0.042" stop-color="#399e72"/><stop offset="0.083" stop-color="#4aaa7c"/><stop offset="0.125" stop-color="#5bb587"/><stop offset="0.167" stop-color="#6fbf90"/><stop offset="0.208" stop-color="#86c797"/><stop offset="0.250" stop-color="#9cd09f"/><stop offset="0.292" stop-color="#b6d8a7"/><stop offset="0.333" stop-color="#d2dfaf"/><stop offset="0.375" stop-color="#eae5b9"/><stop offset="0.417" stop-color="#f6e0ae"/><stop offset="0.458" stop-color="#f0ce84"/><stop offset="0.500" stop-color="#eab85e"/><stop offset="0.542" stop-color="#e4a63f"/><stop offset="0.583" stop-color="#dd9b32"/><stop offset="0.625" stop-color="#d69024"/><stop offset="0.667" stop-color="#cf8518"/><stop offset="0.708" stop-color="#c37b15"/><stop offset="0.750" stop-color="#b77011"/><stop offset="0.792" stop-color="#ab650e"/><stop offset="0.833" stop-color="#9b5a0c"/><stop offset="0.875" stop-color="#8a4e0a"/><stop offset="0.917" stop-color="#7a4308"/><stop offset="0.958" stop-color="#6b3907"/><stop offset="1.000" stop-color="#5c3006"/></linearGradient>
<linearGradient id="g3" x1="0" x2="1" y1="0" y2="0"><stop offset="0.000" stop-color="#5c3006"/><stop offset="0.042" stop-color="#693807"/><stop offset="0.083" stop-color="#774108"/><stop offset="0.125" stop-color="#854a09"/><stop offset="0.167" stop-color="#94550b"/><stop offset="0.208" stop-color="#a35f0d"/><stop offset="0.250" stop-color="#b06910"/><stop offset="0.292" stop-color="#bb7312"/><stop offset="0.333" stop-color="#c67d15"/><stop offset="0.375" stop-color="#d08618"/><stop offset="0.417" stop-color="#d69024"/><stop offset="0.458" stop-color="#dd9a30"/><stop offset="0.500" stop-color="#e3a33c"/><stop offset="0.542" stop-color="#e9b253"/><stop offset="0.583" stop-color="#eec575"/><stop offset="0.625" stop-color="#f3d799"/><stop offset="0.667" stop-color="#f9e8bf"/><stop offset="0.708" stop-color="#e3e3b6"/><stop offset="0.750" stop-color="#ccdead"/><stop offset="0.792" stop-color="#b3d7a6"/><stop offset="0.833" stop-color="#9cd09f"/><stop offset="0.875" stop-color="#88c898"/><stop offset="0.917" stop-color="#74c091"/><stop offset="0.958" stop-color="#60b88a"/><stop offset="1.000" stop-color="#51ae81"/></linearGradient>
<linearGradient id="g4" x1="0" x2="1" y1="0" y2="0"><stop offset="0.000" stop-color="#51ae81"/><stop offset="0.042" stop-color="#60b88a"/><stop offset="0.083" stop-color="#74c091"/><stop offset="0.125" stop-color="#88c898"/><stop offset="0.167" stop-color="#9cd09f"/><stop offset="0.208" stop-color="#b3d7a6"/><stop offset="0.250" stop-color="#ccdead"/><stop offset="0.292" stop-color="#e3e3b6"/><stop offset="0.333" stop-color="#f9e8bf"/><stop offset="0.375" stop-color="#f3d799"/><stop offset="0.417" stop-color="#eec575"/><stop offset="0.458" stop-color="#e9b253"/><stop offset="0.500" stop-color="#e3a33c"/><stop offset="0.542" stop-color="#dd9a30"/><stop offset="0.583" stop-color="#d69024"/><stop offset="0.625" stop-color="#d08618"/><stop offset="0.667" stop-color="#c67d15"/><stop offset="0.708" stop-color="#bb7312"/><stop offset="0.750" stop-color="#b06910"/><stop offset="0.792" stop-color="#a35f0d"/><stop offset="0.833" stop-color="#94550b"/><stop offset="0.875" stop-color="#854a09"/><stop offset="0.917" stop-color="#774108"/><stop offset="0.958" stop-color="#693807"/><stop offset="1.000" stop-color="#5c3006"/></linearGradient>
</defs>
<g transform="translate(3.0 89.9)"><use href="#lg" fill="url(#pt)"/><g clip-path="url(#lc)"><use href="#ovab"/></g><use href="#lg" fill="none" stroke="#000" stroke-width="1.6" stroke-linejoin="round"/><use href="#cs" fill="#fff"/><use href="#cl" fill="none" stroke="#000" stroke-width="1.5" stroke-linejoin="round"/><use href="#lw" fill="#fff" stroke="#000" stroke-width="1.6" stroke-linejoin="round"/><use href="#lb" fill="#000" stroke="#000" stroke-width="1.9" stroke-linejoin="round"/><use href="#ld" fill="#2a2a2a" stroke="#000" stroke-width="1.5" stroke-linejoin="round"/><use href="#nz" fill="#777" stroke="#888" stroke-width="0.5"/><use href="#al" fill="none" stroke="#000" stroke-width="1.1"/><use href="#sp" fill="#000"/></g>
<text x="0.9" y="8.8" font-size="10.4" font-weight="700" fill="#000" stroke="#000" stroke-width="0.45">a</text><text x="161" y="12.9" font-size="9.25" text-anchor="middle">Observed</text>
<g transform="translate(360.5 89.9)"><use href="#lg" fill="url(#pt)"/><g clip-path="url(#lc)"><use href="#ovab"/></g><use href="#lg" fill="none" stroke="#000" stroke-width="1.6" stroke-linejoin="round"/><use href="#cs" fill="#fff"/><use href="#cl" fill="none" stroke="#000" stroke-width="1.5" stroke-linejoin="round"/><use href="#lw" fill="#fff" stroke="#000" stroke-width="1.6" stroke-linejoin="round"/><use href="#lb" fill="#000" stroke="#000" stroke-width="1.9" stroke-linejoin="round"/><use href="#ld" fill="#2a2a2a" stroke="#000" stroke-width="1.5" stroke-linejoin="round"/><use href="#nz" fill="#777" stroke="#888" stroke-width="0.5"/><use href="#al" fill="none" stroke="#000" stroke-width="1.1"/><use href="#sp" fill="#000"/></g>
<text x="356.0" y="8.8" font-size="10.4" font-weight="700" fill="#000" stroke="#000" stroke-width="0.45">b</text><text x="518.5" y="12.9" font-size="9.25" text-anchor="middle">Observed</text>
<g transform="translate(3.0 238.2)"><use href="#lg" fill="url(#pt)"/><g clip-path="url(#lc)"><use href="#ovcd"/></g><use href="#lg" fill="none" stroke="#000" stroke-width="1.6" stroke-linejoin="round"/><use href="#cs" fill="#fff"/><use href="#cl" fill="none" stroke="#000" stroke-width="1.5" stroke-linejoin="round"/><use href="#lw" fill="#fff" stroke="#000" stroke-width="1.6" stroke-linejoin="round"/><use href="#lb" fill="#000" stroke="#000" stroke-width="1.9" stroke-linejoin="round"/><use href="#ld" fill="#2a2a2a" stroke="#000" stroke-width="1.5" stroke-linejoin="round"/><use href="#nz" fill="#777" stroke="#888" stroke-width="0.5"/><use href="#al" fill="none" stroke="#000" stroke-width="1.1"/><use href="#sp" fill="#000"/></g>
<text x="0.9" y="158.0" font-size="10.4" font-weight="700" fill="#000" stroke="#000" stroke-width="0.45">c</text><text x="161" y="161.2" font-size="9.25" text-anchor="middle">AEDclm</text>
<g transform="translate(360.5 238.2)"><use href="#lg" fill="url(#pt)"/><g clip-path="url(#lc)"><use href="#ovcd"/></g><use href="#lg" fill="none" stroke="#000" stroke-width="1.6" stroke-linejoin="round"/><use href="#cs" fill="#fff"/><use href="#cl" fill="none" stroke="#000" stroke-width="1.5" stroke-linejoin="round"/><use href="#lw" fill="#fff" stroke="#000" stroke-width="1.6" stroke-linejoin="round"/><use href="#lb" fill="#000" stroke="#000" stroke-width="1.9" stroke-linejoin="round"/><use href="#ld" fill="#2a2a2a" stroke="#000" stroke-width="1.5" stroke-linejoin="round"/><use href="#nz" fill="#777" stroke="#888" stroke-width="0.5"/><use href="#al" fill="none" stroke="#000" stroke-width="1.1"/><use href="#sp" fill="#000"/></g>
<text x="356.0" y="158.0" font-size="10.4" font-weight="700" fill="#000" stroke="#000" stroke-width="0.45">d</text><text x="518.5" y="161.2" font-size="9.25" text-anchor="middle">AEDclm</text>
<g transform="translate(3.0 438.2)"><use href="#lg" fill="url(#pt)"/><g clip-path="url(#lc)"><use href="#ovef"/></g><use href="#lg" fill="none" stroke="#000" stroke-width="1.6" stroke-linejoin="round"/><use href="#cs" fill="#fff"/><use href="#cl" fill="none" stroke="#000" stroke-width="1.5" stroke-linejoin="round"/><use href="#lw" fill="#fff" stroke="#000" stroke-width="1.6" stroke-linejoin="round"/><use href="#lb" fill="#000" stroke="#000" stroke-width="1.9" stroke-linejoin="round"/><use href="#ld" fill="#2a2a2a" stroke="#000" stroke-width="1.5" stroke-linejoin="round"/><use href="#nz" fill="#777" stroke="#888" stroke-width="0.5"/><use href="#al" fill="none" stroke="#000" stroke-width="1.1"/><use href="#sp" fill="#000"/></g>
<text x="0.9" y="357.1" font-size="10.4" font-weight="700" fill="#000" stroke="#000" stroke-width="0.45">e</text><text x="156.6" y="359.1" font-size="9.25" text-anchor="middle" font-weight="700">a – c</text>
<g transform="translate(360.5 438.2)"><use href="#lg" fill="url(#pt)"/><g clip-path="url(#lc)"><use href="#ovef"/></g><use href="#lg" fill="none" stroke="#000" stroke-width="1.6" stroke-linejoin="round"/><use href="#cs" fill="#fff"/><use href="#cl" fill="none" stroke="#000" stroke-width="1.5" stroke-linejoin="round"/><use href="#lw" fill="#fff" stroke="#000" stroke-width="1.6" stroke-linejoin="round"/><use href="#lb" fill="#000" stroke="#000" stroke-width="1.9" stroke-linejoin="round"/><use href="#ld" fill="#2a2a2a" stroke="#000" stroke-width="1.5" stroke-linejoin="round"/><use href="#nz" fill="#777" stroke="#888" stroke-width="0.5"/><use href="#al" fill="none" stroke="#000" stroke-width="1.1"/><use href="#sp" fill="#000"/></g>
<text x="356.0" y="357.1" font-size="10.4" font-weight="700" fill="#000" stroke="#000" stroke-width="0.45">f</text><text x="514.1" y="359.1" font-size="9.25" text-anchor="middle" font-weight="700">b – d</text>
<rect x="10.8" y="302.6" width="307.7" height="16.4" fill="url(#g1)" stroke="#555" stroke-width="0.6"/><path d="M12.4 303.0V318.6M15.6 303.0V318.6M18.8 303.0V318.6M22.0 303.0V318.6M25.2 303.0V318.6M28.4 303.0V318.6M31.6 303.0V318.6M34.8 303.0V318.6M38.0 303.0V318.6M41.2 303.0V318.6M44.5 303.0V318.6M47.7 303.0V318.6M50.9 303.0V318.6M54.1 303.0V318.6M57.3 303.0V318.6M60.5 303.0V318.6M63.7 303.0V318.6M66.9 303.0V318.6M70.1 303.0V318.6M73.3 303.0V318.6M76.5 303.0V318.6M79.7 303.0V318.6M82.9 303.0V318.6M86.1 303.0V318.6M89.3 303.0V318.6M92.5 303.0V318.6M95.7 303.0V318.6M98.9 303.0V318.6M102.1 303.0V318.6M105.4 303.0V318.6M108.6 303.0V318.6M111.8 303.0V318.6M115.0 303.0V318.6M118.2 303.0V318.6M121.4 303.0V318.6M124.6 303.0V318.6M127.8 303.0V318.6M131.0 303.0V318.6M134.2 303.0V318.6M137.4 303.0V318.6M140.6 303.0V318.6M143.8 303.0V318.6M147.0 303.0V318.6M150.2 303.0V318.6M153.4 303.0V318.6M156.6 303.0V318.6M159.8 303.0V318.6M163.0 303.0V318.6M166.3 303.0V318.6M169.5 303.0V318.6M172.7 303.0V318.6M175.9 303.0V318.6M179.1 303.0V318.6M182.3 303.0V318.6M185.5 303.0V318.6M188.7 303.0V318.6M191.9 303.0V318.6M195.1 303.0V318.6M198.3 303.0V318.6M201.5 303.0V318.6M204.7 303.0V318.6M207.9 303.0V318.6M211.1 303.0V318.6M214.3 303.0V318.6M217.5 303.0V318.6M220.7 303.0V318.6M223.9 303.0V318.6M227.2 303.0V318.6M230.4 303.0V318.6M233.6 303.0V318.6M236.8 303.0V318.6M240.0 303.0V318.6M243.2 303.0V318.6M246.4 303.0V318.6M249.6 303.0V318.6M252.8 303.0V318.6M256.0 303.0V318.6M259.2 303.0V318.6M262.4 303.0V318.6M265.6 303.0V318.6M268.8 303.0V318.6M272.0 303.0V318.6M275.2 303.0V318.6M278.4 303.0V318.6M281.6 303.0V318.6M284.8 303.0V318.6M288.1 303.0V318.6M291.3 303.0V318.6M294.5 303.0V318.6M297.7 303.0V318.6M300.9 303.0V318.6M304.1 303.0V318.6M307.3 303.0V318.6M310.5 303.0V318.6M313.7 303.0V318.6M316.9 303.0V318.6" stroke="#fff" stroke-opacity="0.10" stroke-width="1.2" fill="none"/><path d="M30.6 319v5.2" stroke="#777" stroke-width="0.8"/><text x="30.6" y="335.4" font-size="9.25" text-anchor="middle">−0.20</text><path d="M68.8 319v5.2" stroke="#777" stroke-width="0.8"/><text x="68.8" y="335.4" font-size="9.25" text-anchor="middle">−0.15</text><path d="M107.3 319v5.2" stroke="#777" stroke-width="0.8"/><text x="107.3" y="335.4" font-size="9.25" text-anchor="middle">−0.10</text><path d="M145.7 319v5.2" stroke="#777" stroke-width="0.8"/><text x="145.7" y="335.4" font-size="9.25" text-anchor="middle">−0.05</text><path d="M184.5 319v5.2" stroke="#777" stroke-width="0.8"/><text x="184.5" y="335.4" font-size="9.25" text-anchor="middle">0</text><path d="M222.8 319v5.2" stroke="#777" stroke-width="0.8"/><text x="222.8" y="335.4" font-size="9.25" text-anchor="middle">0.05</text><path d="M261.3 319v5.2" stroke="#777" stroke-width="0.8"/><text x="261.3" y="335.4" font-size="9.25" text-anchor="middle">0.10</text><path d="M299.8 319v5.2" stroke="#777" stroke-width="0.8"/><text x="299.8" y="335.4" font-size="9.25" text-anchor="middle">0.15</text><text x="11" y="298.7" font-size="9.25">Magnitude (<tspan font-style="italic">z</tspan>-units yr<tspan font-size="6" dy="-3">−1</tspan><tspan dy="3">)</tspan></text>
<rect x="368.2" y="302.6" width="308.1" height="16.4" fill="url(#g2)" stroke="#555" stroke-width="0.6"/><path d="M369.8 303.0V318.6M373.0 303.0V318.6M376.2 303.0V318.6M379.4 303.0V318.6M382.6 303.0V318.6M385.9 303.0V318.6M389.1 303.0V318.6M392.3 303.0V318.6M395.5 303.0V318.6M398.7 303.0V318.6M401.9 303.0V318.6M405.1 303.0V318.6M408.3 303.0V318.6M411.5 303.0V318.6M414.7 303.0V318.6M417.9 303.0V318.6M421.2 303.0V318.6M424.4 303.0V318.6M427.6 303.0V318.6M430.8 303.0V318.6M434.0 303.0V318.6M437.2 303.0V318.6M440.4 303.0V318.6M443.6 303.0V318.6M446.8 303.0V318.6M450.0 303.0V318.6M453.2 303.0V318.6M456.5 303.0V318.6M459.7 303.0V318.6M462.9 303.0V318.6M466.1 303.0V318.6M469.3 303.0V318.6M472.5 303.0V318.6M475.7 303.0V318.6M478.9 303.0V318.6M482.1 303.0V318.6M485.3 303.0V318.6M488.6 303.0V318.6M491.8 303.0V318.6M495.0 303.0V318.6M498.2 303.0V318.6M501.4 303.0V318.6M504.6 303.0V318.6M507.8 303.0V318.6M511.0 303.0V318.6M514.2 303.0V318.6M517.4 303.0V318.6M520.6 303.0V318.6M523.9 303.0V318.6M527.1 303.0V318.6M530.3 303.0V318.6M533.5 303.0V318.6M536.7 303.0V318.6M539.9 303.0V318.6M543.1 303.0V318.6M546.3 303.0V318.6M549.5 303.0V318.6M552.7 303.0V318.6M555.9 303.0V318.6M559.2 303.0V318.6M562.4 303.0V318.6M565.6 303.0V318.6M568.8 303.0V318.6M572.0 303.0V318.6M575.2 303.0V318.6M578.4 303.0V318.6M581.6 303.0V318.6M584.8 303.0V318.6M588.0 303.0V318.6M591.3 303.0V318.6M594.5 303.0V318.6M597.7 303.0V318.6M600.9 303.0V318.6M604.1 303.0V318.6M607.3 303.0V318.6M610.5 303.0V318.6M613.7 303.0V318.6M616.9 303.0V318.6M620.1 303.0V318.6M623.3 303.0V318.6M626.6 303.0V318.6M629.8 303.0V318.6M633.0 303.0V318.6M636.2 303.0V318.6M639.4 303.0V318.6M642.6 303.0V318.6M645.8 303.0V318.6M649.0 303.0V318.6M652.2 303.0V318.6M655.4 303.0V318.6M658.6 303.0V318.6M661.9 303.0V318.6M665.1 303.0V318.6M668.3 303.0V318.6M671.5 303.0V318.6M674.7 303.0V318.6" stroke="#fff" stroke-opacity="0.10" stroke-width="1.2" fill="none"/><path d="M368.5 319v5.2" stroke="#777" stroke-width="0.8"/><text x="368.5" y="335.4" font-size="9.25" text-anchor="middle">−0.10</text><path d="M430.2 319v5.2" stroke="#777" stroke-width="0.8"/><text x="430.2" y="335.4" font-size="9.25" text-anchor="middle">−0.05</text><path d="M491.8 319v5.2" stroke="#777" stroke-width="0.8"/><text x="491.8" y="335.4" font-size="9.25" text-anchor="middle">0</text><path d="M553.4 319v5.2" stroke="#777" stroke-width="0.8"/><text x="553.4" y="335.4" font-size="9.25" text-anchor="middle">0.05</text><path d="M614.8 319v5.2" stroke="#777" stroke-width="0.8"/><text x="614.8" y="335.4" font-size="9.25" text-anchor="middle">0.10</text><path d="M676.3 319v5.2" stroke="#777" stroke-width="0.8"/><text x="676.3" y="335.4" font-size="9.25" text-anchor="middle">0.15</text><text x="368.5" y="298.7" font-size="9.25">Frequency (months yr<tspan font-size="6" dy="-3">−1</tspan><tspan dy="3">)</tspan></text>
<rect x="10.8" y="507.6" width="307.7" height="16.6" fill="url(#g3)" stroke="#555" stroke-width="0.6"/><path d="M12.4 508.0V523.8000000000001M15.6 508.0V523.8000000000001M18.8 508.0V523.8000000000001M22.0 508.0V523.8000000000001M25.2 508.0V523.8000000000001M28.4 508.0V523.8000000000001M31.6 508.0V523.8000000000001M34.8 508.0V523.8000000000001M38.0 508.0V523.8000000000001M41.2 508.0V523.8000000000001M44.5 508.0V523.8000000000001M47.7 508.0V523.8000000000001M50.9 508.0V523.8000000000001M54.1 508.0V523.8000000000001M57.3 508.0V523.8000000000001M60.5 508.0V523.8000000000001M63.7 508.0V523.8000000000001M66.9 508.0V523.8000000000001M70.1 508.0V523.8000000000001M73.3 508.0V523.8000000000001M76.5 508.0V523.8000000000001M79.7 508.0V523.8000000000001M82.9 508.0V523.8000000000001M86.1 508.0V523.8000000000001M89.3 508.0V523.8000000000001M92.5 508.0V523.8000000000001M95.7 508.0V523.8000000000001M98.9 508.0V523.8000000000001M102.1 508.0V523.8000000000001M105.4 508.0V523.8000000000001M108.6 508.0V523.8000000000001M111.8 508.0V523.8000000000001M115.0 508.0V523.8000000000001M118.2 508.0V523.8000000000001M121.4 508.0V523.8000000000001M124.6 508.0V523.8000000000001M127.8 508.0V523.8000000000001M131.0 508.0V523.8000000000001M134.2 508.0V523.8000000000001M137.4 508.0V523.8000000000001M140.6 508.0V523.8000000000001M143.8 508.0V523.8000000000001M147.0 508.0V523.8000000000001M150.2 508.0V523.8000000000001M153.4 508.0V523.8000000000001M156.6 508.0V523.8000000000001M159.8 508.0V523.8000000000001M163.0 508.0V523.8000000000001M166.3 508.0V523.8000000000001M169.5 508.0V523.8000000000001M172.7 508.0V523.8000000000001M175.9 508.0V523.8000000000001M179.1 508.0V523.8000000000001M182.3 508.0V523.8000000000001M185.5 508.0V523.8000000000001M188.7 508.0V523.8000000000001M191.9 508.0V523.8000000000001M195.1 508.0V523.8000000000001M198.3 508.0V523.8000000000001M201.5 508.0V523.8000000000001M204.7 508.0V523.8000000000001M207.9 508.0V523.8000000000001M211.1 508.0V523.8000000000001M214.3 508.0V523.8000000000001M217.5 508.0V523.8000000000001M220.7 508.0V523.8000000000001M223.9 508.0V523.8000000000001M227.2 508.0V523.8000000000001M230.4 508.0V523.8000000000001M233.6 508.0V523.8000000000001M236.8 508.0V523.8000000000001M240.0 508.0V523.8000000000001M243.2 508.0V523.8000000000001M246.4 508.0V523.8000000000001M249.6 508.0V523.8000000000001M252.8 508.0V523.8000000000001M256.0 508.0V523.8000000000001M259.2 508.0V523.8000000000001M262.4 508.0V523.8000000000001M265.6 508.0V523.8000000000001M268.8 508.0V523.8000000000001M272.0 508.0V523.8000000000001M275.2 508.0V523.8000000000001M278.4 508.0V523.8000000000001M281.6 508.0V523.8000000000001M284.8 508.0V523.8000000000001M288.1 508.0V523.8000000000001M291.3 508.0V523.8000000000001M294.5 508.0V523.8000000000001M297.7 508.0V523.8000000000001M300.9 508.0V523.8000000000001M304.1 508.0V523.8000000000001M307.3 508.0V523.8000000000001M310.5 508.0V523.8000000000001M313.7 508.0V523.8000000000001M316.9 508.0V523.8000000000001" stroke="#fff" stroke-opacity="0.10" stroke-width="1.2" fill="none"/><path d="M11 524.2v5.2" stroke="#777" stroke-width="0.8"/><text x="11" y="540.6" font-size="9.25" text-anchor="middle">−0.10</text><path d="M52.2 524.2v5.2" stroke="#777" stroke-width="0.8"/><text x="52.2" y="540.6" font-size="9.25" text-anchor="middle">−0.08</text><path d="M93.3 524.2v5.2" stroke="#777" stroke-width="0.8"/><text x="93.3" y="540.6" font-size="9.25" text-anchor="middle">−0.06</text><path d="M134.3 524.2v5.2" stroke="#777" stroke-width="0.8"/><text x="134.3" y="540.6" font-size="9.25" text-anchor="middle">−0.04</text><path d="M175.3 524.2v5.2" stroke="#777" stroke-width="0.8"/><text x="175.3" y="540.6" font-size="9.25" text-anchor="middle">−0.02</text><path d="M216.3 524.2v5.2" stroke="#777" stroke-width="0.8"/><text x="216.3" y="540.6" font-size="9.25" text-anchor="middle">0</text><path d="M257.2 524.2v5.2" stroke="#777" stroke-width="0.8"/><text x="257.2" y="540.6" font-size="9.25" text-anchor="middle">0.02</text><path d="M298 524.2v5.2" stroke="#777" stroke-width="0.8"/><text x="298" y="540.6" font-size="9.25" text-anchor="middle">0.04</text><text x="11" y="501.8" font-size="9.25">Magnitude (<tspan font-style="italic">z</tspan>-units yr<tspan font-size="6" dy="-3">−1</tspan><tspan dy="3">)</tspan></text>
<rect x="368.2" y="507.6" width="308.1" height="16.6" fill="url(#g4)" stroke="#555" stroke-width="0.6"/><path d="M369.8 508.0V523.8000000000001M373.0 508.0V523.8000000000001M376.2 508.0V523.8000000000001M379.4 508.0V523.8000000000001M382.6 508.0V523.8000000000001M385.9 508.0V523.8000000000001M389.1 508.0V523.8000000000001M392.3 508.0V523.8000000000001M395.5 508.0V523.8000000000001M398.7 508.0V523.8000000000001M401.9 508.0V523.8000000000001M405.1 508.0V523.8000000000001M408.3 508.0V523.8000000000001M411.5 508.0V523.8000000000001M414.7 508.0V523.8000000000001M417.9 508.0V523.8000000000001M421.2 508.0V523.8000000000001M424.4 508.0V523.8000000000001M427.6 508.0V523.8000000000001M430.8 508.0V523.8000000000001M434.0 508.0V523.8000000000001M437.2 508.0V523.8000000000001M440.4 508.0V523.8000000000001M443.6 508.0V523.8000000000001M446.8 508.0V523.8000000000001M450.0 508.0V523.8000000000001M453.2 508.0V523.8000000000001M456.5 508.0V523.8000000000001M459.7 508.0V523.8000000000001M462.9 508.0V523.8000000000001M466.1 508.0V523.8000000000001M469.3 508.0V523.8000000000001M472.5 508.0V523.8000000000001M475.7 508.0V523.8000000000001M478.9 508.0V523.8000000000001M482.1 508.0V523.8000000000001M485.3 508.0V523.8000000000001M488.6 508.0V523.8000000000001M491.8 508.0V523.8000000000001M495.0 508.0V523.8000000000001M498.2 508.0V523.8000000000001M501.4 508.0V523.8000000000001M504.6 508.0V523.8000000000001M507.8 508.0V523.8000000000001M511.0 508.0V523.8000000000001M514.2 508.0V523.8000000000001M517.4 508.0V523.8000000000001M520.6 508.0V523.8000000000001M523.9 508.0V523.8000000000001M527.1 508.0V523.8000000000001M530.3 508.0V523.8000000000001M533.5 508.0V523.8000000000001M536.7 508.0V523.8000000000001M539.9 508.0V523.8000000000001M543.1 508.0V523.8000000000001M546.3 508.0V523.8000000000001M549.5 508.0V523.8000000000001M552.7 508.0V523.8000000000001M555.9 508.0V523.8000000000001M559.2 508.0V523.8000000000001M562.4 508.0V523.8000000000001M565.6 508.0V523.8000000000001M568.8 508.0V523.8000000000001M572.0 508.0V523.8000000000001M575.2 508.0V523.8000000000001M578.4 508.0V523.8000000000001M581.6 508.0V523.8000000000001M584.8 508.0V523.8000000000001M588.0 508.0V523.8000000000001M591.3 508.0V523.8000000000001M594.5 508.0V523.8000000000001M597.7 508.0V523.8000000000001M600.9 508.0V523.8000000000001M604.1 508.0V523.8000000000001M607.3 508.0V523.8000000000001M610.5 508.0V523.8000000000001M613.7 508.0V523.8000000000001M616.9 508.0V523.8000000000001M620.1 508.0V523.8000000000001M623.3 508.0V523.8000000000001M626.6 508.0V523.8000000000001M629.8 508.0V523.8000000000001M633.0 508.0V523.8000000000001M636.2 508.0V523.8000000000001M639.4 508.0V523.8000000000001M642.6 508.0V523.8000000000001M645.8 508.0V523.8000000000001M649.0 508.0V523.8000000000001M652.2 508.0V523.8000000000001M655.4 508.0V523.8000000000001M658.6 508.0V523.8000000000001M661.9 508.0V523.8000000000001M665.1 508.0V523.8000000000001M668.3 508.0V523.8000000000001M671.5 508.0V523.8000000000001M674.7 508.0V523.8000000000001" stroke="#fff" stroke-opacity="0.10" stroke-width="1.2" fill="none"/><path d="M389.4 524.2v5.2" stroke="#777" stroke-width="0.8"/><text x="389.4" y="540.6" font-size="9.25" text-anchor="middle">−0.04</text><path d="M430.4 524.2v5.2" stroke="#777" stroke-width="0.8"/><text x="430.4" y="540.6" font-size="9.25" text-anchor="middle">−0.02</text><path d="M471.6 524.2v5.2" stroke="#777" stroke-width="0.8"/><text x="471.6" y="540.6" font-size="9.25" text-anchor="middle">0</text><path d="M512.6 524.2v5.2" stroke="#777" stroke-width="0.8"/><text x="512.6" y="540.6" font-size="9.25" text-anchor="middle">0.02</text><path d="M553.5 524.2v5.2" stroke="#777" stroke-width="0.8"/><text x="553.5" y="540.6" font-size="9.25" text-anchor="middle">0.04</text><path d="M594.5 524.2v5.2" stroke="#777" stroke-width="0.8"/><text x="594.5" y="540.6" font-size="9.25" text-anchor="middle">0.06</text><path d="M635.4 524.2v5.2" stroke="#777" stroke-width="0.8"/><text x="635.4" y="540.6" font-size="9.25" text-anchor="middle">0.08</text><text x="368.5" y="501.8" font-size="9.25">Frequency (months yr<tspan font-size="6" dy="-3">−1</tspan><tspan dy="3">)</tspan></text>
<clipPath id="ccg"><rect x="39.4" y="574.6" width="77.9" height="83.5"/></clipPath><polyline clip-path="url(#ccg)" points="44.8,596.1 46.4,592.7 48.0,643.0 49.5,587.6 51.1,593.6 52.6,585.9 54.2,599.6 55.8,620.9 57.3,595.3 58.9,595.3 60.5,597.8 62.0,644.5 63.6,608.1 65.2,582.5 66.7,606.9 68.3,589.3 69.8,614.9 71.4,626.9 73.0,604.7 74.5,585.0 76.1,587.6 77.7,588.4 79.2,597.8 80.8,586.7 82.4,598.7 83.9,586.7 85.5,603.0 87.0,599.6 88.6,604.7 90.2,616.0 91.7,586.7 93.3,606.4 94.9,597.8 96.4,586.7 98.0,606.4 99.6,630.3 101.1,589.3 102.7,584.2 104.2,589.3 105.8,603.0 107.4,617.2 108.9,612.4 110.5,611.2" fill="none" stroke="#0f77b8" stroke-width="1.7" stroke-linejoin="round" stroke-linecap="round"/><polyline clip-path="url(#ccg)" points="44.8,592.7 46.4,584.7 48.0,636.3 49.5,581.6 51.1,591.0 52.6,581.1 54.2,597.8 55.8,611.5 57.3,589.3 58.9,589.3 60.5,589.3 62.0,637.2 63.6,606.4 65.2,578.7 66.7,605.5 68.3,588.4 69.8,618.4 71.4,649.7 73.0,606.4 74.5,582.5 76.1,585.9 77.7,588.4 79.2,598.9 80.8,588.4 82.4,600.8 83.9,588.4 85.5,606.4 87.0,599.6 88.6,606.4 90.2,628.6 91.7,588.4 93.3,617.9 94.9,600.8 96.4,587.6 98.0,613.2 99.6,654.3 101.1,594.4 102.7,585.9 104.2,600.8 105.8,659.4 107.4,642.3 108.9,627.8 110.5,628.3" fill="none" stroke="#e8a00c" stroke-width="1.7" stroke-linejoin="round" stroke-linecap="round"/><path d="M41.4 575.6V657.8" stroke="#aaa" stroke-width="0.9" fill="none"/><path d="M40.199999999999996 657.8H113.3" stroke="#aaa" stroke-width="0.9" fill="none"/><path d="M41.4 589.3h-2.6" stroke="#888" stroke-width="0.7"/><text x="35.8" y="592.5" font-size="9.25" text-anchor="end">−1</text><path d="M41.4 606.4h-2.6" stroke="#888" stroke-width="0.7"/><text x="35.8" y="609.6" font-size="9.25" text-anchor="end">−2</text><path d="M41.4 623.5h-2.6" stroke="#888" stroke-width="0.7"/><text x="35.8" y="626.7" font-size="9.25" text-anchor="end">−3</text><path d="M41.4 640.6h-2.6" stroke="#888" stroke-width="0.7"/><text x="35.8" y="643.8" font-size="9.25" text-anchor="end">−4</text><path d="M41.4 657.7h-2.6" stroke="#888" stroke-width="0.7"/><text x="35.8" y="660.9" font-size="9.25" text-anchor="end">−5</text><path d="M63.6 657.8v2.6" stroke="#888" stroke-width="0.7"/><text transform="translate(68.1 668.0) rotate(-45)" font-size="9.25" text-anchor="end">1993</text><path d="M85.4 657.8v2.6" stroke="#888" stroke-width="0.7"/><text transform="translate(89.9 668.0) rotate(-45)" font-size="9.25" text-anchor="end">2007</text><path d="M107.2 657.8v2.6" stroke="#888" stroke-width="0.7"/><text transform="translate(111.7 668.0) rotate(-45)" font-size="9.25" text-anchor="end">2021</text><text x="26.6" y="564.0" font-size="10.2" font-weight="700" fill="#000" stroke="#000" stroke-width="0.45">g</text><text x="72.6" y="566.7" font-size="9.25" text-anchor="middle">South America</text>
<path d="M172.5 575V658" stroke="#444" stroke-width="0.8"/><path d="M194.6 575V658" stroke="#444" stroke-width="0.8"/><path d="M217 575V658" stroke="#bbb" stroke-width="0.8"/><clipPath id="cch"><rect x="151.6" y="574" width="74.9" height="84.3"/></clipPath><polyline clip-path="url(#cch)" points="153.5,589.4 155.1,594.1 156.7,636.6 158.2,631.3 159.8,588.2 161.4,584.3 163.0,612.1 164.6,588.2 166.2,584.3 167.7,595.5 169.3,595.5 170.9,634.9 172.5,612.7 174.1,621.9 175.6,606.8 177.2,591.7 178.8,588.2 180.4,591.4 182.0,599.2 183.6,602.9 185.1,599.2 186.7,607.8 188.3,599.2 189.9,612.7 191.5,610.4 193.1,595.7 194.6,593.1 196.2,600.6 197.8,607.8 199.4,590.6 201.0,601.7 202.5,596.1 204.1,593.1 205.7,590.0 207.3,632.5 208.9,616.4 210.5,610.4 212.0,593.1 213.6,617.0 215.2,601.7 216.8,613.7 218.4,609.2" fill="none" stroke="#0f77b8" stroke-width="1.7" stroke-linejoin="round" stroke-linecap="round"/><polyline clip-path="url(#cch)" points="153.5,582.1 155.1,587.0 156.7,627.4 158.2,612.7 159.8,580.8 161.4,578.6 163.0,606.6 164.6,584.3 166.2,579.4 167.7,593.1 169.3,586.3 170.9,621.5 172.5,592.1 174.1,610.4 175.6,600.0 177.2,590.6 178.8,587.0 180.4,601.9 182.0,602.3 183.6,611.7 185.1,587.6 186.7,605.5 188.3,593.7 189.9,615.3 191.5,625.1 193.1,597.4 194.6,607.8 196.2,608.8 197.8,617.6 199.4,599.2 201.0,612.7 202.5,607.8 204.1,605.5 205.7,591.9 207.3,660.7 208.9,660.7 210.5,643.1 212.0,606.6 213.6,647.0 215.2,625.1 216.8,641.1 218.4,633.3" fill="none" stroke="#e8a00c" stroke-width="1.7" stroke-linejoin="round" stroke-linecap="round"/><path d="M153.6 575V658" stroke="#444" stroke-width="0.9" fill="none"/><path d="M152.4 658H222.5" stroke="#aaa" stroke-width="0.9" fill="none"/><path d="M153.6 594.1h-2.6" stroke="#888" stroke-width="0.7"/><text x="148.0" y="597.3" font-size="9.25" text-anchor="end">−1</text><path d="M153.6 613.7h-2.6" stroke="#888" stroke-width="0.7"/><text x="148.0" y="616.9" font-size="9.25" text-anchor="end">−2</text><path d="M153.6 633.3h-2.6" stroke="#888" stroke-width="0.7"/><text x="148.0" y="636.5" font-size="9.25" text-anchor="end">−3</text><path d="M153.6 652.9h-2.6" stroke="#888" stroke-width="0.7"/><text x="148.0" y="656.1" font-size="9.25" text-anchor="end">−4</text><path d="M172.5 658v2.6" stroke="#888" stroke-width="0.7"/><text transform="translate(177.0 668.2) rotate(-45)" font-size="9.25" text-anchor="end">1993</text><path d="M194.6 658v2.6" stroke="#888" stroke-width="0.7"/><text transform="translate(199.1 668.2) rotate(-45)" font-size="9.25" text-anchor="end">2007</text><path d="M217 658v2.6" stroke="#888" stroke-width="0.7"/><text transform="translate(221.5 668.2) rotate(-45)" font-size="9.25" text-anchor="end">2021</text><text x="135.9" y="564.2" font-size="10.2" font-weight="700" fill="#000" stroke="#000" stroke-width="0.45">h</text><text x="185.4" y="566.7" font-size="9.25" text-anchor="middle">Africa</text>
<clipPath id="cci"><rect x="266.2" y="574.5" width="69.80000000000001" height="83.1"/></clipPath><polyline clip-path="url(#cci)" points="268.0,581.0 269.5,599.8 270.9,594.7 272.4,588.5 273.9,595.9 275.3,599.8 276.8,584.0 278.2,591.9 279.7,588.5 281.2,594.7 282.6,598.1 284.1,593.0 285.6,588.5 287.0,611.7 288.5,584.5 289.9,585.7 291.4,583.4 292.9,584.0 294.3,582.3 295.8,581.7 297.3,581.7 298.7,617.9 300.2,595.9 301.6,586.2 303.1,608.8 304.6,598.7 306.0,589.6 307.5,602.1 309.0,589.6 310.4,586.8 311.9,580.0 313.4,584.0 314.8,590.8 316.3,586.5 317.7,588.5 319.2,583.4 320.7,583.4 322.1,588.5 323.6,610.5 325.1,601.5 326.5,580.4 328.0,581.0 329.4,581.7" fill="none" stroke="#0f77b8" stroke-width="1.7" stroke-linejoin="round" stroke-linecap="round"/><polyline clip-path="url(#cci)" points="268.0,579.7 269.5,589.6 270.9,587.1 272.4,578.9 273.9,590.8 275.3,596.4 276.8,584.5 278.2,590.8 279.7,582.3 281.2,589.6 282.6,593.0 284.1,588.5 285.6,584.5 287.0,612.2 288.5,581.7 289.9,583.4 291.4,580.4 292.9,582.3 294.3,580.4 295.8,579.7 297.3,581.0 298.7,612.8 300.2,594.7 301.6,585.1 303.1,610.0 304.6,599.2 306.0,589.6 307.5,603.2 309.0,589.6 310.4,587.1 311.9,578.9 313.4,584.5 314.8,597.0 316.3,592.5 317.7,593.0 319.2,581.7 320.7,585.7 322.1,600.4 323.6,660.8 325.1,624.1 326.5,582.3 328.0,581.7 329.4,582.3" fill="none" stroke="#e8a00c" stroke-width="1.7" stroke-linejoin="round" stroke-linecap="round"/><path d="M268.2 575.5V657.3" stroke="#aaa" stroke-width="0.9" fill="none"/><path d="M267.0 657.3H332" stroke="#aaa" stroke-width="0.9" fill="none"/><path d="M268.2 578.9h-2.6" stroke="#888" stroke-width="0.7"/><text x="262.6" y="582.1" font-size="9.25" text-anchor="end">0</text><path d="M268.2 607.1h-2.6" stroke="#888" stroke-width="0.7"/><text x="262.6" y="610.4" font-size="9.25" text-anchor="end">−5</text><path d="M268.2 635.4h-2.6" stroke="#888" stroke-width="0.7"/><text x="262.6" y="638.6" font-size="9.25" text-anchor="end">−10</text><path d="M285.5 657.3v2.6" stroke="#888" stroke-width="0.7"/><text transform="translate(290.0 667.5) rotate(-45)" font-size="9.25" text-anchor="end">1993</text><path d="M306.4 657.3v2.6" stroke="#888" stroke-width="0.7"/><text transform="translate(310.9 667.5) rotate(-45)" font-size="9.25" text-anchor="end">2007</text><path d="M326.4 657.3v2.6" stroke="#888" stroke-width="0.7"/><text transform="translate(330.9 667.5) rotate(-45)" font-size="9.25" text-anchor="end">2021</text><text x="247.1" y="564.2" font-size="10.2" font-weight="700" fill="#000" stroke="#000" stroke-width="0.45">i</text><text x="290.5" y="566.7" font-size="9.25" text-anchor="middle">Australia</text>
<clipPath id="ccj"><rect x="367.8" y="574.5" width="77.39999999999998" height="83.1"/></clipPath><polyline clip-path="url(#ccj)" points="372.2,585.3 373.8,598.5 375.4,619.7 376.9,617.8 378.5,610.5 380.1,614.2 381.7,603.1 383.3,601.9 384.9,632.9 386.4,627.2 388.0,618.5 389.6,640.5 391.2,610.5 392.8,609.2 394.3,605.6 395.9,648.7 397.5,612.8 399.1,594.2 400.7,606.2 402.3,599.9 403.8,603.1 405.4,631.5 407.0,658.7 408.6,607.1 410.2,611.4 411.8,615.7 413.3,607.1 414.9,597.0 416.5,598.7 418.1,592.7 419.7,616.5 421.2,622.9 422.8,596.3 424.4,610.5 426.0,626.4 427.6,597.6 429.2,612.8 430.7,625.2 432.3,616.5 433.9,609.2 435.5,589.6 437.1,610.5 438.6,614.2" fill="none" stroke="#0f77b8" stroke-width="1.7" stroke-linejoin="round" stroke-linecap="round"/><polyline clip-path="url(#ccj)" points="372.2,579.8 373.8,583.4 375.4,601.9 376.9,606.2 378.5,588.4 380.1,595.6 381.7,586.5 383.3,592.0 384.9,626.4 386.4,618.5 388.0,594.4 389.6,628.6 391.2,600.6 392.8,603.1 394.3,595.6 395.9,624.3 397.5,597.0 399.1,585.3 400.7,605.6 402.3,602.8 403.8,602.8 405.4,631.5 407.0,650.8 408.6,590.3 410.2,609.2 411.8,614.2 413.3,622.1 414.9,600.6 416.5,599.5 418.1,598.5 419.7,622.9 421.2,630.0 422.8,599.9 424.4,631.5 426.0,643.7 427.6,606.2 429.2,632.9 430.7,650.1 432.3,636.8 433.9,636.8 435.5,602.5 437.1,641.1 438.6,641.1" fill="none" stroke="#e8a00c" stroke-width="1.7" stroke-linejoin="round" stroke-linecap="round"/><path d="M369.8 575.5V657.3" stroke="#777" stroke-width="0.9" fill="none"/><path d="M368.6 657.3H441.2" stroke="#aaa" stroke-width="0.9" fill="none"/><path d="M369.8 575.5h-2.6" stroke="#888" stroke-width="0.7"/><text x="364.2" y="578.7" font-size="9.25" text-anchor="end">0</text><path d="M369.8 589.9h-2.6" stroke="#888" stroke-width="0.7"/><text x="364.2" y="593.1" font-size="9.25" text-anchor="end">−1</text><path d="M369.8 604.2h-2.6" stroke="#888" stroke-width="0.7"/><text x="364.2" y="607.4" font-size="9.25" text-anchor="end">−2</text><path d="M369.8 618.5h-2.6" stroke="#888" stroke-width="0.7"/><text x="364.2" y="621.8" font-size="9.25" text-anchor="end">−3</text><path d="M369.8 632.9h-2.6" stroke="#888" stroke-width="0.7"/><text x="364.2" y="636.1" font-size="9.25" text-anchor="end">−4</text><path d="M369.8 647.2h-2.6" stroke="#888" stroke-width="0.7"/><text x="364.2" y="650.5" font-size="9.25" text-anchor="end">−5</text><path d="M391.2 657.3v2.6" stroke="#888" stroke-width="0.7"/><text transform="translate(395.7 667.5) rotate(-45)" font-size="9.25" text-anchor="end">1993</text><path d="M413.5 657.3v2.6" stroke="#888" stroke-width="0.7"/><text transform="translate(418.0 667.5) rotate(-45)" font-size="9.25" text-anchor="end">2007</text><path d="M435.3 657.3v2.6" stroke="#888" stroke-width="0.7"/><text transform="translate(439.8 667.5) rotate(-45)" font-size="9.25" text-anchor="end">2021</text><text x="353.4" y="564.2" font-size="10.2" font-weight="700" fill="#000" stroke="#000" stroke-width="0.45">j</text><text x="404.1" y="566.7" font-size="9.25" text-anchor="middle">Europe</text>
<clipPath id="cck"><rect x="479.8" y="574.5" width="74.69999999999999" height="83.1"/></clipPath><polyline clip-path="url(#cck)" points="481.8,590.0 483.4,640.7 484.9,621.1 486.5,649.1 488.1,632.6 489.7,653.8 491.2,642.9 492.8,619.2 494.4,619.2 495.9,604.3 497.5,639.8 499.1,629.2 500.6,616.7 502.2,612.4 503.8,618.0 505.4,625.5 506.9,636.6 508.5,625.5 510.1,623.0 511.6,623.0 513.2,638.8 514.8,618.0 516.3,632.6 517.9,620.5 519.5,618.0 521.0,616.7 522.6,595.9 524.2,610.5 525.8,594.0 527.3,621.1 528.9,621.1 530.5,639.8 532.0,597.8 533.6,594.7 535.2,596.2 536.8,608.0 538.3,601.8 539.9,601.2 541.5,614.3 543.0,599.0 544.6,616.1 546.2,618.0 547.7,617.4" fill="none" stroke="#0f77b8" stroke-width="1.7" stroke-linejoin="round" stroke-linecap="round"/><polyline clip-path="url(#cck)" points="481.8,579.1 483.4,610.5 484.9,594.7 486.5,621.1 488.1,613.0 489.7,614.9 491.2,619.9 492.8,608.0 494.4,604.9 495.9,604.3 497.5,623.6 499.1,608.0 500.6,601.8 502.2,599.0 503.8,601.8 505.4,602.4 506.9,625.5 508.5,622.3 510.1,620.5 511.6,619.9 513.2,638.2 514.8,618.6 516.3,620.5 517.9,618.6 519.5,614.3 521.0,627.3 522.6,609.3 524.2,641.9 525.8,609.3 527.3,637.6 528.9,645.0 530.5,658.4 532.0,619.5 533.6,613.0 535.2,614.9 536.8,621.1 538.3,619.2 539.9,623.0 541.5,639.8 543.0,630.4 544.6,643.8 546.2,649.1 547.7,650.0" fill="none" stroke="#e8a00c" stroke-width="1.7" stroke-linejoin="round" stroke-linecap="round"/><path d="M481.8 575.5V657.3" stroke="#777" stroke-width="0.9" fill="none"/><path d="M480.6 657.3H550.5" stroke="#aaa" stroke-width="0.9" fill="none"/><path d="M481.8 590.0h-2.6" stroke="#888" stroke-width="0.7"/><text x="476.2" y="593.2" font-size="9.25" text-anchor="end">−1</text><path d="M481.8 621.1h-2.6" stroke="#888" stroke-width="0.7"/><text x="476.2" y="624.3" font-size="9.25" text-anchor="end">−2</text><path d="M481.8 652.2h-2.6" stroke="#888" stroke-width="0.7"/><text x="476.2" y="655.4" font-size="9.25" text-anchor="end">−3</text><path d="M500.4 657.3v2.6" stroke="#888" stroke-width="0.7"/><text transform="translate(504.9 667.5) rotate(-45)" font-size="9.25" text-anchor="end">1993</text><path d="M522.5 657.3v2.6" stroke="#888" stroke-width="0.7"/><text transform="translate(527.0 667.5) rotate(-45)" font-size="9.25" text-anchor="end">2007</text><path d="M544.3 657.3v2.6" stroke="#888" stroke-width="0.7"/><text transform="translate(548.8 667.5) rotate(-45)" font-size="9.25" text-anchor="end">2021</text><text x="463.9" y="564.2" font-size="10.2" font-weight="700" fill="#000" stroke="#000" stroke-width="0.45">k</text><text x="511.3" y="566.7" font-size="9.25" text-anchor="middle">Asia</text>
<clipPath id="ccl"><rect x="588.5" y="574.5" width="75.10000000000002" height="81.1"/></clipPath><polyline clip-path="url(#ccl)" points="590.5,584.1 592.1,593.1 593.7,591.3 595.3,590.5 596.9,601.3 598.4,590.5 600.0,616.4 601.6,625.7 603.2,618.3 604.8,594.2 606.4,596.1 608.0,597.9 609.6,599.4 611.1,608.7 612.7,606.6 614.3,603.5 615.9,596.1 617.5,610.9 619.1,598.7 620.7,616.4 622.3,622.7 623.8,628.3 625.4,616.4 627.0,594.2 628.6,592.0 630.2,606.6 631.8,604.2 633.4,589.6 635.0,596.1 636.6,612.8 638.1,623.8 639.7,622.7 641.3,612.8 642.9,600.5 644.5,592.4 646.1,600.5 647.7,580.4 649.3,589.6 650.8,597.9 652.4,601.6 654.0,613.5 655.6,606.6 657.2,597.9" fill="none" stroke="#0f77b8" stroke-width="1.7" stroke-linejoin="round" stroke-linecap="round"/><polyline clip-path="url(#ccl)" points="590.5,583.1 592.1,580.4 593.7,578.5 595.3,585.0 596.9,589.6 598.4,580.4 600.0,619.0 601.6,644.8 603.2,622.0 604.8,585.0 606.4,594.2 608.0,585.9 609.6,588.3 611.1,601.6 612.7,605.3 614.3,593.1 615.9,591.3 617.5,634.4 619.1,599.4 620.7,617.2 622.3,614.6 623.8,611.6 625.4,605.3 627.0,584.6 628.6,597.9 630.2,623.8 631.8,616.4 633.4,592.4 635.0,594.2 636.6,619.0 638.1,630.1 639.7,646.0 641.3,659.0 642.9,601.6 644.5,598.7 646.1,610.3 647.7,585.9 649.3,594.2 650.8,603.1 652.4,602.4 654.0,623.8 655.6,628.8 657.2,616.4" fill="none" stroke="#e8a00c" stroke-width="1.7" stroke-linejoin="round" stroke-linecap="round"/><path d="M590.5 575.5V655.3" stroke="#555" stroke-width="0.9" fill="none"/><path d="M589.3 655.3H659.6" stroke="#aaa" stroke-width="0.9" fill="none"/><path d="M590.5 581.3h-2.6" stroke="#888" stroke-width="0.7"/><text x="584.9" y="584.5" font-size="9.25" text-anchor="end">−1</text><path d="M590.5 599.8h-2.6" stroke="#888" stroke-width="0.7"/><text x="584.9" y="603.0" font-size="9.25" text-anchor="end">−2</text><path d="M590.5 618.3h-2.6" stroke="#888" stroke-width="0.7"/><text x="584.9" y="621.5" font-size="9.25" text-anchor="end">−3</text><path d="M590.5 636.8h-2.6" stroke="#888" stroke-width="0.7"/><text x="584.9" y="640.0" font-size="9.25" text-anchor="end">−4</text><path d="M590.5 655.3h-2.6" stroke="#888" stroke-width="0.7"/><text x="584.9" y="658.5" font-size="9.25" text-anchor="end">−5</text><path d="M609.6 655.3v2.6" stroke="#888" stroke-width="0.7"/><text transform="translate(614.1 665.5) rotate(-45)" font-size="9.25" text-anchor="end">1993</text><path d="M631.6 655.3v2.6" stroke="#888" stroke-width="0.7"/><text transform="translate(636.1 665.5) rotate(-45)" font-size="9.25" text-anchor="end">2007</text><path d="M653.9 655.3v2.6" stroke="#888" stroke-width="0.7"/><text transform="translate(658.4 665.5) rotate(-45)" font-size="9.25" text-anchor="end">2021</text><text x="573" y="564.2" font-size="10.2" font-weight="700" fill="#000" stroke="#000" stroke-width="0.45">l</text><text x="619.8" y="566.7" font-size="9.25" text-anchor="middle">North America</text>
<clipPath id="ccm"><rect x="39.4" y="713.5" width="77.9" height="83.3"/></clipPath><polyline clip-path="url(#ccm)" points="42.1,779.9 43.7,781.6 45.4,736.2 47.0,786.6 48.7,781.6 50.3,786.6 52.0,769.4 53.6,753.0 55.2,779.9 56.9,777.9 58.5,774.2 60.2,733.2 61.8,769.4 63.5,792.6 65.1,765.4 66.7,782.9 68.4,760.7 70.0,749.7 71.7,786.6 73.3,790.4 75.0,785.9 76.6,785.4 78.2,776.7 79.9,787.9 81.5,776.7 83.2,787.9 84.8,771.9 86.5,774.2 88.1,765.7 89.7,757.2 91.4,787.9 93.0,769.4 94.7,780.4 96.3,789.1 98.0,763.2 99.6,748.5 101.2,781.6 102.9,791.4 104.5,776.7 106.2,754.0 107.8,760.7 109.5,763.2" fill="none" stroke="#0f77b8" stroke-width="1.7" stroke-linejoin="round" stroke-linecap="round"/><polyline clip-path="url(#ccm)" points="42.1,784.1 43.7,790.9 45.4,743.7 47.0,793.9 48.7,786.6 50.3,795.1 52.0,776.7 53.6,763.2 55.2,785.4 56.9,785.4 58.5,785.4 60.2,740.5 61.8,776.7 63.5,796.4 65.1,768.2 66.7,786.6 68.4,757.2 70.0,728.3 71.7,787.9 73.3,794.6 75.0,788.9 76.6,784.1 78.2,774.2 79.9,786.6 81.5,772.4 83.2,785.4 84.8,767.4 86.5,774.2 88.1,763.2 89.7,744.7 91.4,786.6 93.0,756.4 94.7,776.7 96.3,787.9 98.0,757.2 99.6,725.5 101.2,776.7 102.9,788.9 104.5,771.9 106.2,717.3 107.8,746.0 109.5,747.2" fill="none" stroke="#e8a00c" stroke-width="1.7" stroke-linejoin="round" stroke-linecap="round"/><path d="M41.4 714.5V796.5" stroke="#aaa" stroke-width="0.9" fill="none"/><path d="M40.199999999999996 796.5H113.3" stroke="#aaa" stroke-width="0.9" fill="none"/><path d="M41.4 780.4h-2.6" stroke="#888" stroke-width="0.7"/><text x="35.8" y="783.6" font-size="9.25" text-anchor="end">1</text><path d="M41.4 755.4h-2.6" stroke="#888" stroke-width="0.7"/><text x="35.8" y="758.6" font-size="9.25" text-anchor="end">2</text><path d="M41.4 730.5h-2.6" stroke="#888" stroke-width="0.7"/><text x="35.8" y="733.7" font-size="9.25" text-anchor="end">3</text><path d="M61.3 796.5v2.6" stroke="#888" stroke-width="0.7"/><text transform="translate(65.8 806.7) rotate(-45)" font-size="9.25" text-anchor="end">1993</text><path d="M84.4 796.5v2.6" stroke="#888" stroke-width="0.7"/><text transform="translate(88.9 806.7) rotate(-45)" font-size="9.25" text-anchor="end">2007</text><path d="M107.2 796.5v2.6" stroke="#888" stroke-width="0.7"/><text transform="translate(111.7 806.7) rotate(-45)" font-size="9.25" text-anchor="end">2021</text><text x="26.6" y="704.3" font-size="10.2" font-weight="700" fill="#000" stroke="#000" stroke-width="0.45">m</text><text x="72.6" y="705.3" font-size="9.25" text-anchor="middle">South America</text>
<clipPath id="ccn"><rect x="148.7" y="713.3" width="79.9" height="83.2"/></clipPath><polyline clip-path="url(#ccn)" points="151.2,786.1 152.8,776.9 154.4,738.1 156.0,746.5 157.7,776.9 159.3,788.0 160.9,760.9 162.6,776.9 164.2,789.0 165.8,777.4 167.5,777.9 169.1,740.5 170.7,767.1 172.4,754.1 174.0,763.3 175.6,780.4 177.2,784.2 178.9,781.7 180.5,776.9 182.1,769.5 183.8,776.9 185.4,764.7 187.0,776.9 188.7,759.5 190.3,759.5 191.9,777.9 193.6,779.3 195.2,769.5 196.8,764.4 198.4,782.8 200.1,772.0 201.7,777.9 203.3,779.3 205.0,783.6 206.6,783.6 208.2,740.5 209.9,759.5 211.5,765.7 213.1,780.4 214.8,758.4 216.4,771.2 218.0,760.3 219.7,765.7" fill="none" stroke="#0f77b8" stroke-width="1.7" stroke-linejoin="round" stroke-linecap="round"/><polyline clip-path="url(#ccn)" points="151.2,792.8 152.8,786.6 154.4,747.3 156.0,765.7 157.7,793.9 159.3,796.4 160.9,768.2 162.6,784.2 164.2,796.4 165.8,779.3 167.5,788.0 169.1,757.3 170.7,782.8 172.4,759.5 174.0,769.5 175.6,781.7 177.2,788.0 178.9,772.0 180.5,773.1 182.1,763.8 183.8,786.6 185.4,767.1 187.0,779.3 188.7,756.0 190.3,749.8 191.9,767.1 193.6,776.9 195.2,763.3 196.8,764.4 198.4,756.5 200.1,775.5 201.7,763.8 203.3,765.7 205.0,769.5 206.6,781.7 208.2,717.8 209.9,719.4 211.5,733.0 213.1,768.2 214.8,733.2 216.4,748.4 218.0,731.9 219.7,740.5" fill="none" stroke="#e8a00c" stroke-width="1.7" stroke-linejoin="round" stroke-linecap="round"/><path d="M150.7 714.3V796.2" stroke="#aaa" stroke-width="0.9" fill="none"/><path d="M149.5 796.2H224.6" stroke="#aaa" stroke-width="0.9" fill="none"/><path d="M150.7 773.6h-2.6" stroke="#888" stroke-width="0.7"/><text x="145.1" y="776.8" font-size="9.25" text-anchor="end">1</text><path d="M150.7 746.5h-2.6" stroke="#888" stroke-width="0.7"/><text x="145.1" y="749.7" font-size="9.25" text-anchor="end">2</text><path d="M150.7 719.4h-2.6" stroke="#888" stroke-width="0.7"/><text x="145.1" y="722.6" font-size="9.25" text-anchor="end">3</text><path d="M170.6 796.2v2.6" stroke="#888" stroke-width="0.7"/><text transform="translate(175.1 806.4) rotate(-45)" font-size="9.25" text-anchor="end">1993</text><path d="M193.4 796.2v2.6" stroke="#888" stroke-width="0.7"/><text transform="translate(197.9 806.4) rotate(-45)" font-size="9.25" text-anchor="end">2007</text><path d="M216 796.2v2.6" stroke="#888" stroke-width="0.7"/><text transform="translate(220.5 806.4) rotate(-45)" font-size="9.25" text-anchor="end">2021</text><text x="135.7" y="704.3" font-size="10.2" font-weight="700" fill="#000" stroke="#000" stroke-width="0.45">n</text><text x="185.3" y="705.3" font-size="9.25" text-anchor="middle">Africa</text>
<clipPath id="cco"><rect x="258.7" y="713.3" width="76.69999999999999" height="83.1"/></clipPath><polyline clip-path="url(#cco)" points="260.7,793.9 262.3,771.3 264.0,776.7 265.6,786.6 267.3,774.4 268.9,771.3 270.6,789.6 272.2,786.6 273.9,784.1 275.6,775.8 277.2,773.7 278.9,778.0 280.5,784.1 282.2,759.7 283.8,787.8 285.5,787.8 287.1,790.3 288.8,790.8 290.5,792.7 292.1,792.0 293.8,792.7 295.4,751.1 297.1,776.7 298.7,786.6 300.4,762.1 302.0,771.9 303.7,781.7 305.3,778.0 307.0,786.6 308.7,789.0 310.3,792.7 312.0,786.6 313.6,781.0 315.3,785.4 316.9,786.6 318.6,791.5 320.2,789.0 321.9,769.5 323.6,743.7 325.2,769.3 326.9,793.9 328.5,792.7" fill="none" stroke="#0f77b8" stroke-width="1.7" stroke-linejoin="round" stroke-linecap="round"/><polyline clip-path="url(#cco)" points="260.7,795.6 262.3,784.1 264.0,783.5 265.6,796.1 267.3,780.4 268.9,775.8 270.6,787.8 272.2,779.5 273.9,792.0 275.6,784.1 277.2,781.0 278.9,786.6 280.5,789.6 282.2,758.2 283.8,792.7 285.5,790.3 287.1,794.5 288.8,792.0 290.5,794.5 292.1,795.4 293.8,793.9 295.4,758.5 297.1,781.7 298.7,787.8 300.4,761.0 302.0,774.4 303.7,782.9 305.3,767.0 307.0,785.4 308.7,784.7 310.3,796.1 312.0,784.1 313.6,773.7 315.3,779.2 316.9,778.0 318.6,792.7 320.2,789.0 321.9,767.0 323.6,717.8 325.2,755.4 326.9,792.7 328.5,792.0" fill="none" stroke="#e8a00c" stroke-width="1.7" stroke-linejoin="round" stroke-linecap="round"/><path d="M260.7 714.3V796.1" stroke="#aaa" stroke-width="0.9" fill="none"/><path d="M259.5 796.1H331.4" stroke="#aaa" stroke-width="0.9" fill="none"/><path d="M260.7 796.1h-2.6" stroke="#888" stroke-width="0.7"/><text x="255.1" y="799.3" font-size="9.25" text-anchor="end">0</text><path d="M260.7 777.6h-2.6" stroke="#888" stroke-width="0.7"/><text x="255.1" y="780.8" font-size="9.25" text-anchor="end">2</text><path d="M260.7 759.1h-2.6" stroke="#888" stroke-width="0.7"/><text x="255.1" y="762.3" font-size="9.25" text-anchor="end">4</text><path d="M260.7 740.6h-2.6" stroke="#888" stroke-width="0.7"/><text x="255.1" y="743.8" font-size="9.25" text-anchor="end">6</text><path d="M260.7 722.1h-2.6" stroke="#888" stroke-width="0.7"/><text x="255.1" y="725.3" font-size="9.25" text-anchor="end">8</text><path d="M280 796.1v2.6" stroke="#888" stroke-width="0.7"/><text transform="translate(284.5 806.3) rotate(-45)" font-size="9.25" text-anchor="end">1993</text><path d="M303.1 796.1v2.6" stroke="#888" stroke-width="0.7"/><text transform="translate(307.6 806.3) rotate(-45)" font-size="9.25" text-anchor="end">2007</text><path d="M326.3 796.1v2.6" stroke="#888" stroke-width="0.7"/><text transform="translate(330.8 806.3) rotate(-45)" font-size="9.25" text-anchor="end">2021</text><text x="247.8" y="704.3" font-size="10.2" font-weight="700" fill="#000" stroke="#000" stroke-width="0.45">o</text><text x="290.6" y="705.3" font-size="9.25" text-anchor="middle">Australia</text>
<clipPath id="ccp"><rect x="367.4" y="713.3" width="77.20000000000005" height="83.9"/></clipPath><polyline clip-path="url(#ccp)" points="369.6,789.4 371.3,771.7 372.9,752.6 374.6,755.8 376.2,761.4 377.9,756.9 379.5,769.2 381.2,771.7 382.8,739.1 384.5,743.4 386.1,749.7 387.8,730.6 389.4,760.7 391.1,761.8 392.7,768.1 394.3,730.6 396.0,756.9 397.6,781.6 399.3,768.1 400.9,773.0 402.6,769.2 404.2,748.3 405.9,718.3 407.5,769.2 409.2,758.9 410.8,757.5 412.5,763.2 414.1,776.0 415.8,771.7 417.4,780.9 419.1,749.7 420.7,754.6 422.3,774.8 424.0,756.9 425.6,744.7 427.3,775.3 428.9,756.9 430.6,747.2 432.2,756.9 433.9,763.2 435.5,782.7 437.2,769.2 438.8,755.1" fill="none" stroke="#0f77b8" stroke-width="1.7" stroke-linejoin="round" stroke-linecap="round"/><polyline clip-path="url(#ccp)" points="369.6,796.2 371.3,789.0 372.9,769.2 374.6,768.1 376.2,784.5 377.9,776.0 379.5,787.2 381.2,781.6 382.8,744.7 384.5,749.7 386.1,778.4 387.8,740.9 389.4,771.0 391.1,768.1 392.7,777.3 394.3,752.2 396.0,776.6 397.6,788.3 399.3,768.1 400.9,770.6 402.6,768.1 404.2,748.3 405.9,722.5 407.5,782.0 409.2,761.8 410.8,759.3 412.5,750.1 414.1,771.7 415.8,773.0 417.4,775.3 419.1,747.2 420.7,741.6 422.3,771.7 424.0,743.4 425.6,728.8 427.3,765.6 428.9,740.0 430.6,728.1 432.2,733.3 433.9,734.2 435.5,771.7 437.2,727.5 438.8,727.5" fill="none" stroke="#e8a00c" stroke-width="1.7" stroke-linejoin="round" stroke-linecap="round"/><path d="M369.4 714.3V796.9" stroke="#666" stroke-width="0.9" fill="none"/><path d="M368.2 796.9H440.6" stroke="#aaa" stroke-width="0.9" fill="none"/><path d="M369.4 778.2h-2.6" stroke="#888" stroke-width="0.7"/><text x="363.8" y="781.4" font-size="9.25" text-anchor="end">1</text><path d="M369.4 755.8h-2.6" stroke="#888" stroke-width="0.7"/><text x="363.8" y="759.0" font-size="9.25" text-anchor="end">2</text><path d="M369.4 733.3h-2.6" stroke="#888" stroke-width="0.7"/><text x="363.8" y="736.5" font-size="9.25" text-anchor="end">3</text><path d="M389.3 796.9v2.6" stroke="#888" stroke-width="0.7"/><text transform="translate(393.8 807.1) rotate(-45)" font-size="9.25" text-anchor="end">1993</text><path d="M412.4 796.9v2.6" stroke="#888" stroke-width="0.7"/><text transform="translate(416.9 807.1) rotate(-45)" font-size="9.25" text-anchor="end">2007</text><path d="M435.4 796.9v2.6" stroke="#888" stroke-width="0.7"/><text transform="translate(439.9 807.1) rotate(-45)" font-size="9.25" text-anchor="end">2021</text><text x="355.1" y="704.3" font-size="10.2" font-weight="700" fill="#000" stroke="#000" stroke-width="0.45">p</text><text x="404.3" y="705.3" font-size="9.25" text-anchor="middle">Europe</text>
<clipPath id="ccq"><rect x="484.4" y="713.3" width="69.89999999999998" height="82.5"/></clipPath><polyline clip-path="url(#ccq)" points="486.6,795.4 488.1,731.5 489.6,750.8 491.0,727.9 492.5,740.3 494.0,717.8 495.5,731.5 497.0,758.6 498.5,753.6 499.9,765.5 501.4,736.1 502.9,738.9 504.4,757.3 505.9,760.9 507.4,752.2 508.8,749.9 510.3,737.1 511.8,750.8 513.3,748.5 514.8,750.4 516.3,732.5 517.7,750.8 519.2,741.2 520.7,750.8 522.2,757.3 523.7,753.6 525.2,779.3 526.6,760.9 528.1,778.4 529.6,750.8 531.1,752.2 532.6,737.5 534.1,779.7 535.5,779.7 537.0,776.5 538.5,768.7 540.0,772.9 541.5,772.9 543.0,760.0 544.4,776.1 545.9,758.2 547.4,757.3" fill="none" stroke="#0f77b8" stroke-width="1.7" stroke-linejoin="round" stroke-linecap="round"/><polyline clip-path="url(#ccq)" points="486.6,795.4 488.1,763.2 489.6,780.2 491.0,753.6 492.5,761.4 494.0,757.3 495.5,754.5 497.0,766.9 498.5,768.3 499.9,770.1 501.4,752.7 502.9,763.2 504.4,772.9 505.9,775.6 507.4,768.7 508.8,771.9 510.3,749.9 511.8,754.5 513.3,752.7 514.8,750.8 516.3,733.4 517.7,755.4 519.2,753.6 520.7,752.2 522.2,759.5 523.7,743.5 525.2,765.5 526.6,732.5 528.1,761.8 529.6,737.5 531.1,729.7 532.6,721.0 534.1,760.9 535.5,760.0 537.0,757.3 538.5,754.5 540.0,754.5 541.5,750.4 543.0,735.2 544.4,743.5 545.9,731.5 547.4,724.2" fill="none" stroke="#e8a00c" stroke-width="1.7" stroke-linejoin="round" stroke-linecap="round"/><path d="M486.4 714.3V795.5" stroke="#666" stroke-width="0.9" fill="none"/><path d="M485.2 795.5H550.3" stroke="#aaa" stroke-width="0.9" fill="none"/><path d="M486.4 795.4h-2.6" stroke="#888" stroke-width="0.7"/><text x="480.8" y="798.6" font-size="9.25" text-anchor="end">0.5</text><path d="M486.4 772.4h-2.6" stroke="#888" stroke-width="0.7"/><text x="480.8" y="775.6" font-size="9.25" text-anchor="end">1.0</text><path d="M486.4 749.4h-2.6" stroke="#888" stroke-width="0.7"/><text x="480.8" y="752.6" font-size="9.25" text-anchor="end">1.5</text><path d="M486.4 726.5h-2.6" stroke="#888" stroke-width="0.7"/><text x="480.8" y="729.7" font-size="9.25" text-anchor="end">2.0</text><path d="M504.2 795.5v2.6" stroke="#888" stroke-width="0.7"/><text transform="translate(508.7 805.7) rotate(-45)" font-size="9.25" text-anchor="end">1993</text><path d="M524.6 795.5v2.6" stroke="#888" stroke-width="0.7"/><text transform="translate(529.1 805.7) rotate(-45)" font-size="9.25" text-anchor="end">2007</text><path d="M545.2 795.5v2.6" stroke="#888" stroke-width="0.7"/><text transform="translate(549.7 805.7) rotate(-45)" font-size="9.25" text-anchor="end">2021</text><text x="463.6" y="704.3" font-size="10.2" font-weight="700" fill="#000" stroke="#000" stroke-width="0.45">q</text><text x="511.6" y="705.3" font-size="9.25" text-anchor="middle">Asia</text>
<clipPath id="ccr"><rect x="586.3" y="713.3" width="77.30000000000007" height="84.0"/></clipPath><polyline clip-path="url(#ccr)" points="588.5,792.0 590.1,781.5 591.8,782.9 593.4,783.5 595.1,774.4 596.7,784.0 598.3,754.6 600.0,743.6 601.6,747.5 603.2,779.1 604.9,778.5 606.5,775.0 608.2,776.6 609.8,764.5 611.4,768.1 613.1,776.6 614.7,778.0 616.3,762.0 618.0,775.0 619.6,755.4 621.3,749.9 622.9,746.1 624.5,763.4 626.2,781.5 627.8,782.9 629.5,765.0 631.1,774.4 632.7,782.9 634.4,779.1 636.0,763.4 637.6,754.6 639.3,753.0 640.9,767.0 642.6,781.0 644.2,780.5 645.8,795.0 647.5,786.5 649.1,775.5 650.7,775.0 652.4,762.0 654.0,765.0 655.7,775.5" fill="none" stroke="#0f77b8" stroke-width="1.7" stroke-linejoin="round" stroke-linecap="round"/><polyline clip-path="url(#ccr)" points="588.5,792.5 590.1,793.9 591.8,796.4 593.4,787.6 595.1,784.6 596.7,794.5 598.3,757.1 600.0,735.9 601.6,760.9 603.2,788.4 604.9,779.1 606.5,788.4 608.2,787.6 609.8,776.6 611.4,770.5 613.1,779.1 614.7,785.4 616.3,743.6 618.0,773.0 619.6,755.4 621.3,760.9 622.9,762.0 624.5,774.4 626.2,790.1 627.8,778.0 629.5,748.0 631.1,762.0 632.7,779.9 634.4,778.5 636.0,759.5 637.6,747.5 639.3,718.0 640.9,764.5 642.6,776.0 644.2,765.6 645.8,789.0 647.5,776.6 649.1,769.5 650.7,774.4 652.4,753.5 654.0,745.0 655.7,756.5" fill="none" stroke="#e8a00c" stroke-width="1.7" stroke-linejoin="round" stroke-linecap="round"/><path d="M588.3 714.3V797" stroke="#aaa" stroke-width="0.9" fill="none"/><path d="M587.0999999999999 797H659.6" stroke="#aaa" stroke-width="0.9" fill="none"/><path d="M588.3 786.5h-2.6" stroke="#888" stroke-width="0.7"/><text x="582.7" y="789.7" font-size="9.25" text-anchor="end">1</text><path d="M588.3 759.0h-2.6" stroke="#888" stroke-width="0.7"/><text x="582.7" y="762.2" font-size="9.25" text-anchor="end">2</text><path d="M588.3 731.5h-2.6" stroke="#888" stroke-width="0.7"/><text x="582.7" y="734.7" font-size="9.25" text-anchor="end">3</text><path d="M607.6 797v2.6" stroke="#888" stroke-width="0.7"/><text transform="translate(612.1 807.2) rotate(-45)" font-size="9.25" text-anchor="end">1993</text><path d="M630.7 797v2.6" stroke="#888" stroke-width="0.7"/><text transform="translate(635.2 807.2) rotate(-45)" font-size="9.25" text-anchor="end">2007</text><path d="M653.5 797v2.6" stroke="#888" stroke-width="0.7"/><text transform="translate(658.0 807.2) rotate(-45)" font-size="9.25" text-anchor="end">2021</text><text x="572.9" y="704.3" font-size="10.2" font-weight="700" fill="#000" stroke="#000" stroke-width="0.45">r</text><text x="620.2" y="705.3" font-size="9.25" text-anchor="middle">North America</text>
<text transform="translate(18 618.3) rotate(-90)" font-size="9.25" text-anchor="middle">Magnitude (units yr<tspan font-size="6" dy="-3">−1</tspan><tspan dy="3">)</tspan></text><text transform="translate(18 751.5) rotate(-90)" font-size="9.25" text-anchor="middle">Frequency (months yr<tspan font-size="6" dy="-3">−1</tspan><tspan dy="3">)</tspan></text>
<path d="M287.9 836.3H304.8" stroke="#0f77b8" stroke-width="1.7"/><text x="308.9" y="839.4" font-size="9.25">AEDclm</text><path d="M366.4 836.3H383.5" stroke="#e8a00c" stroke-width="1.7"/><text x="388.2" y="839.4" font-size="9.25">Observed</text>
</svg>
</body></html>
